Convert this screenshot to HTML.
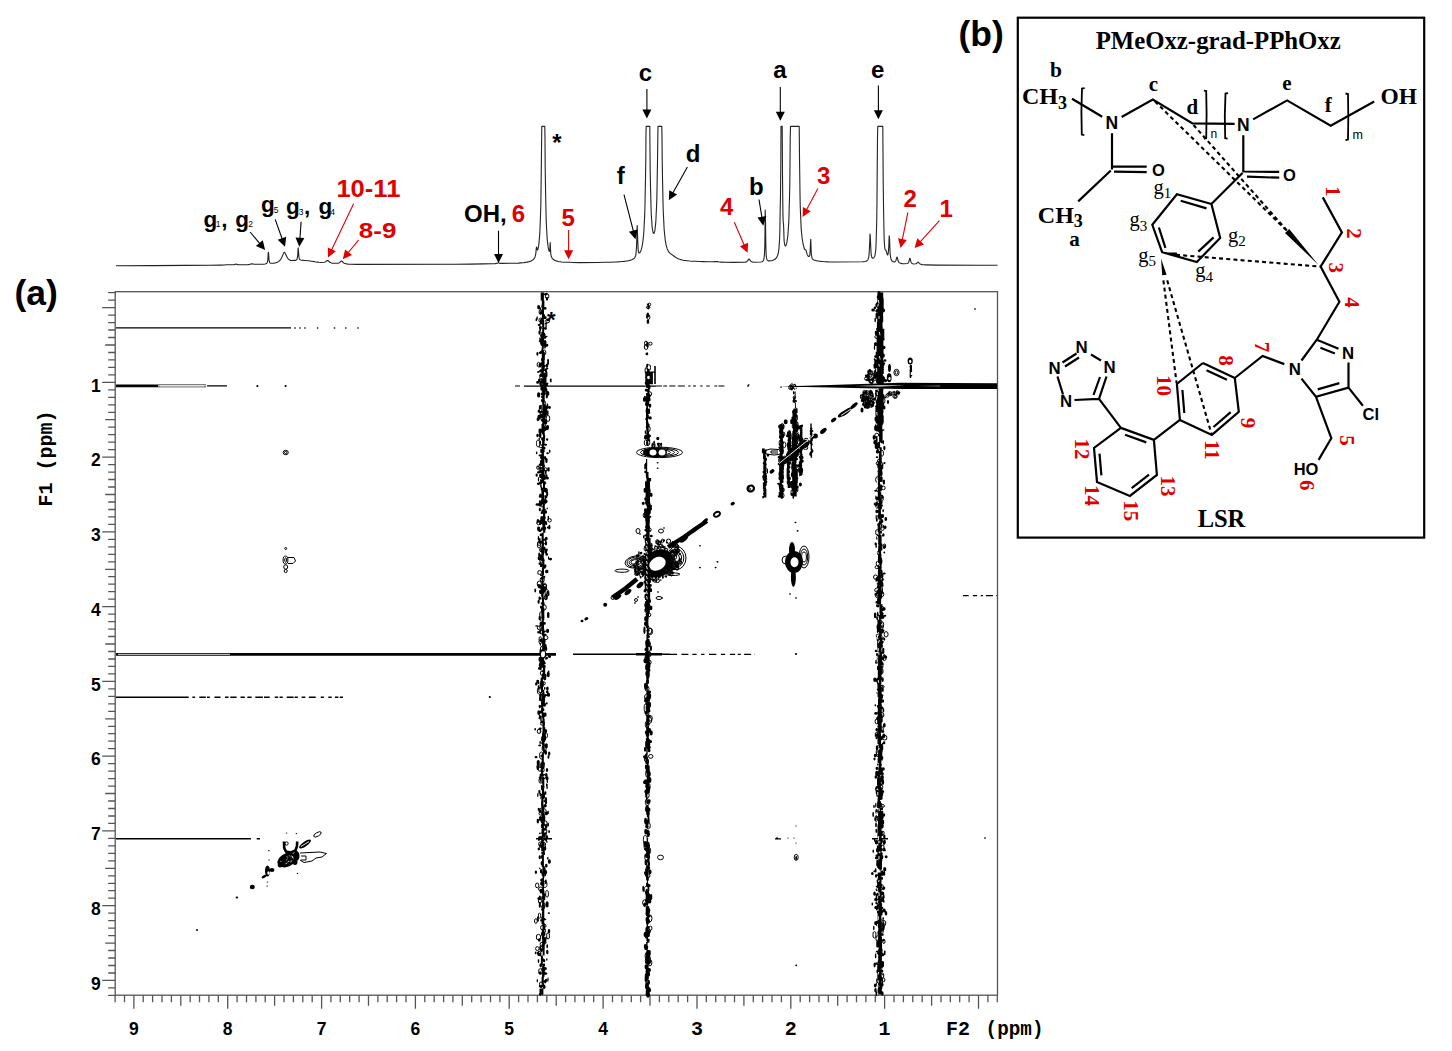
<!DOCTYPE html>
<html><head><meta charset="utf-8"><style>html,body{margin:0;padding:0;background:#fff;}svg{display:block;}</style></head>
<body>
<svg width="1452" height="1051" viewBox="0 0 1452 1051">
<rect width="1452" height="1051" fill="#fff"/>
<path d="M116 265.7 153.8 265.6 185.8 265.4 209 265.3 220.8 265.1 224.5 265 226.2 264.8 234.2 264.6 234.8 264.5 235.2 264.2 235.8 264 236.8 264.2 237.2 264.5 237.8 264.6 238.8 264.8 248 264.6 249.2 264.5 250 264.3 250.5 264.1 251 264 251.5 263.8 253.2 264 254 264.2 255 264.3 263.8 264.2 265 264 265.8 263.8 266.2 263.6 266.5 263.5 266.8 263.3 267 262.9 267.2 262.4 267.5 261.6 267.8 260 268 257.1 268.2 252.9 268.5 252.2 268.8 256.3 269 259.5 269.2 261.2 269.5 262.1 269.8 262.6 270 262.9 270.2 263.1 270.8 263.3 274.2 263.1 275 263 275.8 262.8 276.2 262.6 276.8 262.5 277.2 262.3 277.8 262 278.2 261.8 278.5 261.6 278.8 261.4 279 261.2 279.2 261 279.5 260.8 279.8 260.6 280 260.3 280.2 260 280.5 259.7 280.8 259.3 281 258.9 281.2 258.5 281.5 258 281.8 257.5 282 256.9 282.2 256.3 282.5 255.7 282.8 255 283 254.4 283.2 253.8 283.5 253.2 283.8 252.8 284 252.5 284.5 252.3 284.8 252.5 285 252.9 285.2 253.3 285.5 253.8 285.8 254.4 286 255 286.2 255.6 286.5 256.1 286.8 256.6 287 257.1 287.2 257.6 287.5 257.9 287.8 258.3 288 258.6 288.2 258.9 288.5 259.1 288.8 259.4 289 259.6 289.2 259.7 289.8 260 290.2 260.2 290.8 260.4 291.5 260.5 295.5 260.4 296 260.2 296.2 260 296.5 259.8 296.8 259.5 297 259 297.2 258.2 297.5 256.8 297.8 254.2 298 249.8 298.2 247.9 298.5 251.6 298.8 255.4 299 257.4 299.2 258.5 299.5 259.1 299.8 259.5 300 259.7 300.2 259.8 300.8 260 301.8 260.2 304 260.4 306 260.5 307.5 260.7 308.8 260.8 310 261 311 261.2 312 261.3 313 261.5 314 261.6 315 261.8 316.2 262 317.5 262.1 319 262.3 321 262.5 324.2 262.3 324.8 262.1 325.2 261.9 325.5 261.7 325.8 261.5 326 261.3 326.2 261.1 326.5 260.9 326.8 260.7 327 260.5 328 260.6 328.2 260.8 328.5 261 328.8 261.3 329 261.5 329.2 261.8 329.5 262 329.8 262.2 330 262.4 330.5 262.6 331 262.8 331.5 263 332.2 263.2 333.2 263.3 338.5 263.1 339 262.9 339.2 262.8 339.5 262.6 339.8 262.4 340 262.2 340.2 261.9 340.5 261.7 340.8 261.4 341 261.2 341.2 261 341.8 261.1 342 261.2 342.2 261.5 342.5 261.7 342.8 262 343 262.3 343.2 262.5 343.5 262.8 343.8 262.9 344 263.1 344.5 263.4 345 263.5 345.8 263.7 346.8 263.9 348.2 264.1 351 264.2 357 264.4 455.2 264.2 470.5 264.1 483.2 263.9 492 263.8 495.2 263.6 496.5 263.4 497.2 263.2 497.8 263 498.2 262.8 499.5 263.1 500 263.2 500.8 263.4 515.5 263.2 518.5 263.1 520.8 262.9 522.5 262.8 524 262.6 525.2 262.4 526.2 262.3 527.2 262.1 528 261.9 528.8 261.7 529.5 261.5 530 261.4 530.5 261.2 531 261 531.5 260.7 532 260.4 532.2 260.3 532.5 260.1 532.8 259.9 533 259.7 533.2 259.5 533.5 259.3 533.8 259 534 258.7 534.2 258.3 534.5 257.9 534.8 257.5 535 256.9 535.2 256.1 535.5 255.1 535.8 253.6 536 251.5 536.2 248.8 536.5 247 536.8 247.6 537 249 537.2 249.9 537.5 250 537.8 249.6 538 248.9 538.2 247.8 538.5 246.4 538.8 244.7 539 242.6 539.2 240.1 539.5 237.1 539.8 233.4 540 228.8 540.2 223.1 540.5 215.8 540.8 206.2 541 193.6 541.2 176.2 541.5 151.5 541.8 126.4 544.8 126.4 545 138.7 545.2 167.4 545.5 187.3 545.8 201.6 546 212.3 546.2 220.4 546.5 226.7 546.8 231.8 547 235.8 547.2 239.1 547.5 241.8 547.8 244.1 548 246 548.2 247.6 548.5 249 548.8 250.1 549 250.9 549.2 251.4 549.5 251.4 549.8 250.1 550 245.7 550.2 242.5 550.5 249.3 550.8 253.4 551 255.3 551.2 256.3 551.5 257 551.8 257.5 552 257.9 552.2 258.3 552.5 258.6 552.8 258.9 553 259.1 553.2 259.3 553.5 259.5 553.8 259.7 554 259.9 554.2 260 554.8 260.3 555.2 260.6 555.8 260.8 556.2 261 556.8 261.1 557.5 261.3 558.2 261.5 559.2 261.7 560.2 261.8 561.8 262 564 262.2 570.5 262.3 572.5 262.5 579.5 262.6 597.5 262.5 605 262.3 610.5 262.2 614.5 262 617.5 261.9 620 261.7 622 261.5 623.8 261.4 625.2 261.2 626.5 261 627.5 260.9 628.5 260.7 629.2 260.5 630 260.3 630.8 260.1 631.2 260 631.8 259.8 632.2 259.6 632.8 259.3 633.2 259.1 633.5 258.9 633.8 258.7 634 258.5 634.2 258.3 634.5 258 634.8 257.6 635 257.2 635.2 256.7 635.5 256 635.8 255 636 253.5 636.2 251.1 636.5 247 636.8 240 637 229.9 637.2 225.5 637.5 233.5 637.8 242.3 638 247.5 638.2 250.3 638.5 251.8 638.8 252.5 639 252.9 639.5 252.9 639.8 252.7 640 252.4 640.2 252 640.5 251.6 640.8 251 641 250.3 641.2 249.6 641.5 248.7 641.8 247.8 642 246.7 642.2 245.4 642.5 244 642.8 242.3 643 240.4 643.2 238.2 643.5 235.6 643.8 232.5 644 228.8 644.2 224.4 644.5 219 644.8 212.3 645 203.8 645.2 192.9 645.5 178.5 645.8 159.1 646 132.1 646.2 126.4 649.8 126.4 650 151.5 650.2 171.8 650.5 186.6 650.8 197.6 651 206.1 651.2 212.6 651.5 217.7 651.8 221.8 652 225 652.2 227.5 652.5 229.5 652.8 231 653 232.1 653.2 232.9 653.5 233.3 653.8 233.4 654 233.3 654.2 232.8 654.5 232 654.8 230.9 655 229.4 655.2 227.4 655.5 225 655.8 222 656 218.2 656.2 213.5 656.5 207.6 656.8 200.1 657 190.6 657.2 178.2 657.5 161.7 657.8 139.4 658 126.4 661.8 126.4 662 136.1 662.2 160.2 662.5 178 662.8 191.4 663 201.8 663.2 210 663.5 216.6 663.8 221.9 664 226.3 664.2 230 664.5 233.1 664.8 235.8 665 238 665.2 240 665.5 241.6 665.8 243.1 666 244.4 666.2 245.5 666.5 246.5 666.8 247.4 667 248.2 667.2 248.9 667.5 249.5 667.8 250.1 668 250.6 668.2 251 668.5 251.4 668.8 251.8 669 252.1 669.2 252.4 669.5 252.7 669.8 253 670 253.2 670.2 253.4 670.5 253.6 670.8 253.8 671 254 671.2 254.2 671.5 254.4 671.8 254.5 672 254.7 672.2 254.9 672.5 255.1 672.8 255.2 673 255.4 673.2 255.6 673.5 255.8 673.8 256 674 256.1 674.2 256.3 674.5 256.5 674.8 256.7 675 256.8 675.2 257 675.5 257.2 675.8 257.3 676 257.5 676.2 257.7 676.8 257.9 677.2 258.2 677.8 258.5 678.2 258.7 678.8 258.9 679.2 259.1 679.8 259.3 680.2 259.5 680.8 259.6 681.5 259.8 682.2 260 683 260.2 684 260.4 685 260.5 686.2 260.7 687.8 260.8 689.5 261 691.8 261.2 694.8 261.3 699.5 261.5 703.2 261.6 707.8 261.8 714.2 261.6 715 261.5 717.5 261.6 718.2 261.8 719.2 262 721.2 262.1 725.5 262.3 733.2 262.4 744.2 262.3 745.2 262.1 746 261.9 746.5 261.7 746.8 261.5 747 261.3 747.2 261.1 747.5 260.8 747.8 260.5 748 260.1 748.2 259.8 748.5 259.4 748.8 259.1 749.2 259.1 749.5 259.4 749.8 259.8 750 260.1 750.2 260.5 750.5 260.8 750.8 261.1 751 261.3 751.2 261.5 751.5 261.7 752 261.9 752.5 262 753.5 262.2 761 262 761.8 261.8 762.2 261.6 762.5 261.4 762.8 261.3 763 261 763.2 260.7 763.5 260.3 763.8 259.6 764 258.6 764.2 256.8 764.5 253.6 764.8 246.8 765 231.5 765.2 210 765.5 222 765.8 242 766 251.3 766.2 255.6 766.5 257.7 766.8 258.9 767 259.6 767.2 260.1 767.5 260.4 767.8 260.6 768.2 260.9 771.8 260.7 772.5 260.5 773 260.3 773.5 260.1 774 259.8 774.2 259.7 774.5 259.5 774.8 259.4 775 259.2 775.2 259 775.5 258.8 775.8 258.5 776 258.3 776.2 258 776.5 257.6 776.8 257.2 777 256.8 777.2 256.3 777.5 255.7 777.8 255 778 254.1 778.2 253.1 778.5 251.8 778.8 250.1 779 247.9 779.2 244.9 779.5 240.4 779.8 233.4 780 222.1 780.2 209.2 780.5 195.4 780.8 164.7 781 126.4 782.2 126.4 782.5 174.5 782.8 203 783 216.5 783.2 221.6 783.5 223.8 783.8 231 784 237.7 784.2 241.4 784.5 243.6 784.8 244.9 785 245.6 785.2 245.9 785.5 245.9 785.8 245.7 786 245.3 786.2 244.7 786.5 243.9 786.8 242.9 787 241.6 787.2 240.1 787.5 238.3 787.8 236.1 788 233.5 788.2 230.3 788.5 226.4 788.8 221.7 789 215.7 789.2 208 789.5 197.9 789.8 184.4 790 165.5 790.2 138.1 790.5 126.4 799.2 126.4 799.5 156.5 799.8 178.1 800 193.3 800.2 204.5 800.5 212.9 800.8 219.4 801 224.5 801.2 228.6 801.5 232 801.8 234.7 802 237 802.2 238.9 802.5 240.5 802.8 242 803 243.3 803.2 244.5 803.5 245.6 803.8 246.6 804 247.5 804.2 248.3 804.5 249 804.8 249.5 805 249.8 805.8 249.9 806 250.1 806.2 250.8 806.5 251.8 806.8 252.8 807 253.7 807.2 254.4 807.5 255 807.8 255.5 808 255.9 808.2 256.2 808.5 256.4 809 256.5 809.2 256.4 809.5 256 809.8 255.2 810 253.5 810.2 249.8 810.5 242.8 810.8 239.2 811 246.3 811.2 252.3 811.5 255.3 811.8 256.9 812 257.8 812.2 258.4 812.5 258.8 812.8 259.1 813 259.3 813.2 259.5 813.5 259.7 814 260 814.5 260.2 815 260.3 815.8 260.5 816.5 260.7 817.2 260.9 818.2 261 819.5 261.2 821 261.4 822.8 261.5 825 261.7 828.2 261.9 834 262 862.2 261.8 863.8 261.7 864.8 261.5 865.5 261.3 866 261.2 866.5 261 866.8 260.8 867 260.6 867.2 260.4 867.5 260.2 867.8 259.8 868 259.4 868.2 258.8 868.5 258 868.8 256.8 869 254.9 869.2 252 869.5 247.3 869.8 240.4 870 234 870.2 234.8 870.5 241.6 870.8 248 871 252.1 871.2 254.6 871.5 256.1 871.8 257 872 257.6 872.2 258 872.5 258.2 873.5 258 873.8 257.8 874 257.5 874.2 257.2 874.5 256.7 874.8 256.1 875 255.2 875.2 254 875.5 252.2 875.8 249.5 876 245.4 876.2 239.2 876.5 230 876.8 216.7 877 197.9 877.2 172 877.5 137.7 877.8 126.4 882.8 126.4 883 151.9 883.2 182.6 883.5 205.2 883.8 221.4 884 232.6 884.2 240.1 884.5 244.9 884.8 247.8 885 249.3 885.2 249.9 885.8 250.1 886 250.3 886.2 250.9 886.5 251.9 886.8 253 887 253.9 887.2 254.6 887.5 255 887.8 254.9 888 254.4 888.2 253.1 888.5 250.7 888.8 246.4 889 240.3 889.2 235.7 889.5 238.3 889.8 245 890 250.6 890.2 254.2 890.5 256.5 890.8 257.9 891 258.9 891.2 259.6 891.5 260.2 891.8 260.6 892 260.9 892.2 261.1 892.5 261.3 892.8 261.5 893.2 261.7 894 261.9 895 261.7 895.2 261.5 895.5 261.2 895.8 260.8 896 260.2 896.2 259.4 896.5 258.3 896.8 257.4 897 257 897.2 257.5 897.5 258.5 897.8 259.6 898 260.5 898.2 261.2 898.5 261.7 898.8 262.1 899 262.4 899.2 262.6 899.5 262.8 900 263 900.5 263.2 901.2 263.4 902.2 263.6 904 263.7 907.2 263.5 907.8 263.3 908 263.1 908.2 262.8 908.5 262.4 908.8 261.9 909 261.2 909.2 260.2 909.5 259.1 909.8 258.3 910 258.2 910.2 259 910.5 260.1 910.8 261.1 911 261.9 911.2 262.5 911.5 262.9 911.8 263.2 912 263.4 912.2 263.6 912.8 263.8 913.5 264 916 263.8 916.2 263.7 916.5 263.5 916.8 263.3 917 263.1 917.2 262.8 917.5 262.6 917.8 262.3 918 262.2 918.5 262.3 918.8 262.5 919 262.8 919.2 263.1 919.5 263.4 919.8 263.6 920 263.8 920.2 264 920.8 264.3 921.2 264.4 922 264.6 923.2 264.8 926 264.9 936.8 265.1 980.8 265.2 997.5 265.2" fill="none" stroke="#222" stroke-width="1.1" stroke-linejoin="round"/>
<text x="779.9" y="78.4" font-family='"Liberation Sans", sans-serif' font-size="24" font-weight="bold" fill="#000" text-anchor="middle" >a</text>
<text x="877.8" y="77.6" font-family='"Liberation Sans", sans-serif' font-size="24" font-weight="bold" fill="#000" text-anchor="middle" >e</text>
<text x="645.5" y="81.2" font-family='"Liberation Sans", sans-serif' font-size="24" font-weight="bold" fill="#000" text-anchor="middle" >c</text>
<text x="693" y="162.3" font-family='"Liberation Sans", sans-serif' font-size="24" font-weight="bold" fill="#000" text-anchor="middle" >d</text>
<text x="620.7" y="184.1" font-family='"Liberation Sans", sans-serif' font-size="24" font-weight="bold" fill="#000" text-anchor="middle" >f</text>
<text x="756.3" y="195.3" font-family='"Liberation Sans", sans-serif' font-size="24" font-weight="bold" fill="#000" text-anchor="middle" >b</text>
<text x="556.8" y="150.5" font-family='"Liberation Sans", sans-serif' font-size="24" font-weight="bold" fill="#000" text-anchor="middle" >*</text>
<text x="464" y="222.2" font-family='"Liberation Sans", sans-serif' font-size="24" font-weight="bold" fill="#000" text-anchor="start" >OH,</text>
<text x="518.5" y="222.2" font-family='"Liberation Sans", sans-serif' font-size="24" font-weight="bold" fill="#e00000" text-anchor="middle" >6</text>
<text x="568.3" y="225.5" font-family='"Liberation Sans", sans-serif' font-size="24" font-weight="bold" fill="#e00000" text-anchor="middle" >5</text>
<text x="726.6" y="214.6" font-family='"Liberation Sans", sans-serif' font-size="24" font-weight="bold" fill="#e00000" text-anchor="middle" >4</text>
<text x="823.7" y="183.6" font-family='"Liberation Sans", sans-serif' font-size="24" font-weight="bold" fill="#e00000" text-anchor="middle" >3</text>
<text x="910.3" y="206.5" font-family='"Liberation Sans", sans-serif' font-size="24" font-weight="bold" fill="#e00000" text-anchor="middle" >2</text>
<text x="946.2" y="217.4" font-family='"Liberation Sans", sans-serif' font-size="24" font-weight="bold" fill="#e00000" text-anchor="middle" >1</text>
<text x="368.4" y="197.2" font-family='"Liberation Sans", sans-serif' font-size="24" font-weight="bold" fill="#e00000" text-anchor="middle" textLength="64" lengthAdjust="spacingAndGlyphs">10-11</text>
<text x="377.6" y="237.7" font-family='"Liberation Sans", sans-serif' font-size="22.5" font-weight="bold" fill="#e00000" text-anchor="middle" textLength="37.5" lengthAdjust="spacingAndGlyphs">8-9</text>
<text x="203.6" y="226.8" font-family='"Liberation Sans", sans-serif' font-size="22.5" font-weight="bold">g</text>
<text x="215.8" y="227.3" font-family='"Liberation Sans", sans-serif' font-size="8.5" font-weight="normal">1</text>
<text x="221.2" y="226.8" font-family='"Liberation Sans", sans-serif' font-size="22.5" font-weight="bold">,</text>
<text x="235.2" y="226.8" font-family='"Liberation Sans", sans-serif' font-size="22.5" font-weight="bold">g</text>
<text x="248.2" y="227.3" font-family='"Liberation Sans", sans-serif' font-size="8.5" font-weight="normal">2</text>
<text x="261" y="211.8" font-family='"Liberation Sans", sans-serif' font-size="22.5" font-weight="bold">g</text>
<text x="273.8" y="212.8" font-family='"Liberation Sans", sans-serif' font-size="8.5" font-weight="normal">5</text>
<text x="286.1" y="214.2" font-family='"Liberation Sans", sans-serif' font-size="22.5" font-weight="bold">g</text>
<text x="298.8" y="215.2" font-family='"Liberation Sans", sans-serif' font-size="8.5" font-weight="normal">3</text>
<text x="303.9" y="214.2" font-family='"Liberation Sans", sans-serif' font-size="22.5" font-weight="bold">,</text>
<text x="318.4" y="214.2" font-family='"Liberation Sans", sans-serif' font-size="22.5" font-weight="bold">g</text>
<text x="330.2" y="214.8" font-family='"Liberation Sans", sans-serif' font-size="8.5" font-weight="normal">4</text>
<line x1="780.3" y1="87" x2="780.3" y2="112.8" stroke="#000" stroke-width="1.1" />
<path d="M780.3 120.8L775.8 111.8L784.8 111.8Z" fill="#000"/>
<line x1="878.4" y1="85.6" x2="878.4" y2="111.3" stroke="#000" stroke-width="1.1" />
<path d="M878.4 119.3L873.9 110.3L882.9 110.3Z" fill="#000"/>
<line x1="646.9" y1="89" x2="646.9" y2="110.5" stroke="#000" stroke-width="1.1" />
<path d="M646.9 118.5L642.4 109.5L651.4 109.5Z" fill="#000"/>
<line x1="687.4" y1="167" x2="672.7" y2="193.3" stroke="#000" stroke-width="1.1" />
<path d="M668.8 200.3L669.3 190.2L677.1 194.6Z" fill="#000"/>
<line x1="624" y1="194.6" x2="633.5" y2="231.6" stroke="#000" stroke-width="1.1" />
<path d="M635.5 239.3L628.9 231.7L637.6 229.5Z" fill="#000"/>
<line x1="759" y1="199.5" x2="762" y2="217.8" stroke="#000" stroke-width="1.1" />
<path d="M763.3 225.7L757.4 217.5L766.3 216.1Z" fill="#000"/>
<line x1="498.5" y1="230.7" x2="498.5" y2="255" stroke="#000" stroke-width="1.1" />
<path d="M498.5 263L494 254L503 254Z" fill="#000"/>
<line x1="568.6" y1="230" x2="568.6" y2="251.3" stroke="#e00000" stroke-width="1.1" />
<path d="M568.6 259.3L564.1 250.3L573.1 250.3Z" fill="#e00000"/>
<line x1="734.3" y1="222.3" x2="744.4" y2="245.5" stroke="#e00000" stroke-width="1.1" />
<path d="M747.6 252.8L739.9 246.3L748.1 242.8Z" fill="#e00000"/>
<line x1="817.9" y1="188.6" x2="806.4" y2="210.1" stroke="#e00000" stroke-width="1.1" />
<path d="M802.6 217.1L802.9 207L810.8 211.3Z" fill="#e00000"/>
<line x1="907.9" y1="212.4" x2="902.2" y2="240.2" stroke="#e00000" stroke-width="1.1" />
<path d="M900.6 248L898 238.3L906.8 240.1Z" fill="#e00000"/>
<line x1="939.4" y1="220.7" x2="920" y2="242.1" stroke="#e00000" stroke-width="1.1" />
<path d="M914.6 248L917.3 238.3L924 244.4Z" fill="#e00000"/>
<line x1="353.6" y1="203.8" x2="331.4" y2="250.3" stroke="#e00000" stroke-width="1.1" />
<path d="M328 257.5L327.8 247.4L335.9 251.3Z" fill="#e00000"/>
<line x1="358.5" y1="240.2" x2="347.9" y2="253" stroke="#e00000" stroke-width="1.1" />
<path d="M342.8 259.2L345.1 249.4L352 255.1Z" fill="#e00000"/>
<line x1="250.1" y1="232" x2="260" y2="243.9" stroke="#000" stroke-width="1.1" />
<path d="M265.1 250L255.9 246L262.8 240.2Z" fill="#000"/>
<line x1="275.2" y1="219.4" x2="282.3" y2="239.3" stroke="#000" stroke-width="1.1" />
<path d="M285 246.8L277.7 239.8L286.2 236.8Z" fill="#000"/>
<line x1="301.1" y1="221.8" x2="299.9" y2="238.8" stroke="#000" stroke-width="1.1" />
<path d="M299.3 246.8L295.5 237.5L304.4 238.1Z" fill="#000"/>
<text x="14.5" y="304.5" font-family='"Liberation Sans", sans-serif' font-size="35.5" font-weight="bold" fill="#000" text-anchor="start" >(a)</text>
<text x="958.5" y="45.5" font-family='"Liberation Sans", sans-serif' font-size="35.5" font-weight="bold" fill="#000" text-anchor="start" >(b)</text>
<rect x="115.2" y="291.7" width="882.3" height="703.5" fill="none" stroke="#555" stroke-width="1.3"/>
<path d="M108.2 292.6H115.2M108.2 300.1H115.2M102.2 307.6H115.2M108.2 315.1H115.2M108.2 322.6H115.2M108.2 330H115.2M108.2 337.5H115.2M105.2 345H115.2M108.2 352.5H115.2M108.2 359.9H115.2M108.2 367.4H115.2M108.2 374.9H115.2M102.2 382.4H115.2M108.2 389.8H115.2M108.2 397.3H115.2M108.2 404.8H115.2M108.2 412.3H115.2M105.2 419.7H115.2M108.2 427.2H115.2M108.2 434.7H115.2M108.2 442.2H115.2M108.2 449.6H115.2M102.2 457.1H115.2M108.2 464.6H115.2M108.2 472.1H115.2M108.2 479.5H115.2M108.2 487H115.2M105.2 494.5H115.2M108.2 502H115.2M108.2 509.5H115.2M108.2 516.9H115.2M108.2 524.4H115.2M102.2 531.9H115.2M108.2 539.4H115.2M108.2 546.8H115.2M108.2 554.3H115.2M108.2 561.8H115.2M105.2 569.3H115.2M108.2 576.7H115.2M108.2 584.2H115.2M108.2 591.7H115.2M108.2 599.2H115.2M102.2 606.6H115.2M108.2 614.1H115.2M108.2 621.6H115.2M108.2 629.1H115.2M108.2 636.5H115.2M105.2 644H115.2M108.2 651.5H115.2M108.2 659H115.2M108.2 666.4H115.2M108.2 673.9H115.2M102.2 681.4H115.2M108.2 688.9H115.2M108.2 696.4H115.2M108.2 703.8H115.2M108.2 711.3H115.2M105.2 718.8H115.2M108.2 726.3H115.2M108.2 733.7H115.2M108.2 741.2H115.2M108.2 748.7H115.2M102.2 756.2H115.2M108.2 763.6H115.2M108.2 771.1H115.2M108.2 778.6H115.2M108.2 786.1H115.2M105.2 793.5H115.2M108.2 801H115.2M108.2 808.5H115.2M108.2 816H115.2M108.2 823.4H115.2M102.2 830.9H115.2M108.2 838.4H115.2M108.2 845.9H115.2M108.2 853.3H115.2M108.2 860.8H115.2M105.2 868.3H115.2M108.2 875.8H115.2M108.2 883.3H115.2M108.2 890.7H115.2M108.2 898.2H115.2M102.2 905.7H115.2M108.2 913.2H115.2M108.2 920.6H115.2M108.2 928.1H115.2M108.2 935.6H115.2M105.2 943.1H115.2M108.2 950.5H115.2M108.2 958H115.2M108.2 965.5H115.2M108.2 973H115.2M102.2 980.4H115.2M108.2 987.9H115.2M108.2 995.4H115.2M997.3 995.2V1002.2M987.9 995.2V1002.2M978.5 995.2V1008.7M969.1 995.2V1002.2M959.7 995.2V1002.2M950.3 995.2V1002.2M941 995.2V1002.2M931.6 995.2V1005.7M922.2 995.2V1002.2M912.8 995.2V1002.2M903.4 995.2V1002.2M894 995.2V1002.2M884.6 995.2V1008.7M875.3 995.2V1002.2M865.9 995.2V1002.2M856.5 995.2V1002.2M847.1 995.2V1002.2M837.7 995.2V1005.7M828.3 995.2V1002.2M819 995.2V1002.2M809.6 995.2V1002.2M800.2 995.2V1002.2M790.8 995.2V1008.7M781.4 995.2V1002.2M772 995.2V1002.2M762.6 995.2V1002.2M753.3 995.2V1002.2M743.9 995.2V1005.7M734.5 995.2V1002.2M725.1 995.2V1002.2M715.7 995.2V1002.2M706.3 995.2V1002.2M697 995.2V1008.7M687.6 995.2V1002.2M678.2 995.2V1002.2M668.8 995.2V1002.2M659.4 995.2V1002.2M650 995.2V1005.7M640.6 995.2V1002.2M631.3 995.2V1002.2M621.9 995.2V1002.2M612.5 995.2V1002.2M603.1 995.2V1008.7M593.7 995.2V1002.2M584.3 995.2V1002.2M574.9 995.2V1002.2M565.6 995.2V1002.2M556.2 995.2V1005.7M546.8 995.2V1002.2M537.4 995.2V1002.2M528 995.2V1002.2M518.6 995.2V1002.2M509.2 995.2V1008.7M499.9 995.2V1002.2M490.5 995.2V1002.2M481.1 995.2V1002.2M471.7 995.2V1002.2M462.3 995.2V1005.7M452.9 995.2V1002.2M443.6 995.2V1002.2M434.2 995.2V1002.2M424.8 995.2V1002.2M415.4 995.2V1008.7M406 995.2V1002.2M396.6 995.2V1002.2M387.2 995.2V1002.2M377.9 995.2V1002.2M368.5 995.2V1005.7M359.1 995.2V1002.2M349.7 995.2V1002.2M340.3 995.2V1002.2M330.9 995.2V1002.2M321.6 995.2V1008.7M312.2 995.2V1002.2M302.8 995.2V1002.2M293.4 995.2V1002.2M284 995.2V1002.2M274.6 995.2V1005.7M265.2 995.2V1002.2M255.9 995.2V1002.2M246.5 995.2V1002.2M237.1 995.2V1002.2M227.7 995.2V1008.7M218.3 995.2V1002.2M208.9 995.2V1002.2M199.5 995.2V1002.2M190.2 995.2V1002.2M180.8 995.2V1005.7M171.4 995.2V1002.2M162 995.2V1002.2M152.6 995.2V1002.2M143.2 995.2V1002.2M133.9 995.2V1008.7M124.5 995.2V1002.2M115.1 995.2V1002.2" stroke="#555" stroke-width="1.3" fill="none"/>
<text x="95.8" y="391.5" font-family='"Liberation Sans", sans-serif' font-size="17.5" font-weight="bold" fill="#000" text-anchor="middle" >1</text>
<text x="95.8" y="466.2" font-family='"Liberation Sans", sans-serif' font-size="17.5" font-weight="bold" fill="#000" text-anchor="middle" >2</text>
<text x="95.8" y="541" font-family='"Liberation Sans", sans-serif' font-size="17.5" font-weight="bold" fill="#000" text-anchor="middle" >3</text>
<text x="95.8" y="615.7" font-family='"Liberation Sans", sans-serif' font-size="17.5" font-weight="bold" fill="#000" text-anchor="middle" >4</text>
<text x="95.8" y="690.5" font-family='"Liberation Sans", sans-serif' font-size="17.5" font-weight="bold" fill="#000" text-anchor="middle" >5</text>
<text x="95.8" y="765.3" font-family='"Liberation Sans", sans-serif' font-size="17.5" font-weight="bold" fill="#000" text-anchor="middle" >6</text>
<text x="95.8" y="840" font-family='"Liberation Sans", sans-serif' font-size="17.5" font-weight="bold" fill="#000" text-anchor="middle" >7</text>
<text x="95.8" y="914.8" font-family='"Liberation Sans", sans-serif' font-size="17.5" font-weight="bold" fill="#000" text-anchor="middle" >8</text>
<text x="95.8" y="989.5" font-family='"Liberation Sans", sans-serif' font-size="17.5" font-weight="bold" fill="#000" text-anchor="middle" >9</text>
<text x="603.1" y="1035" font-family='"Liberation Sans", sans-serif' font-size="17.5" font-weight="bold" fill="#000" text-anchor="middle" >4</text>
<text x="509.2" y="1035" font-family='"Liberation Sans", sans-serif' font-size="17.5" font-weight="bold" fill="#000" text-anchor="middle" >5</text>
<text x="415.4" y="1035" font-family='"Liberation Sans", sans-serif' font-size="17.5" font-weight="bold" fill="#000" text-anchor="middle" >6</text>
<text x="321.6" y="1035" font-family='"Liberation Sans", sans-serif' font-size="17.5" font-weight="bold" fill="#000" text-anchor="middle" >7</text>
<text x="227.7" y="1035" font-family='"Liberation Sans", sans-serif' font-size="17.5" font-weight="bold" fill="#000" text-anchor="middle" >8</text>
<text x="133.9" y="1035" font-family='"Liberation Sans", sans-serif' font-size="17.5" font-weight="bold" fill="#000" text-anchor="middle" >9</text>
<text x="884.6" y="1034.5" font-family='"Liberation Mono", monospace' font-size="20" font-weight="bold" fill="#000" text-anchor="middle" >1</text>
<text x="790.8" y="1034.5" font-family='"Liberation Mono", monospace' font-size="20" font-weight="bold" fill="#000" text-anchor="middle" >2</text>
<text x="697" y="1034.5" font-family='"Liberation Mono", monospace' font-size="20" font-weight="bold" fill="#000" text-anchor="middle" >3</text>
<text x="946" y="1034.5" font-family='"Liberation Mono", monospace' font-size="20" font-weight="bold" fill="#000" text-anchor="start" >F2</text>
<text x="985.6" y="1034.5" font-family='"Liberation Mono", monospace' font-size="19.3" font-weight="bold" fill="#000" text-anchor="start" >(ppm)</text>
<text x="0" y="0" font-family='"Liberation Mono", monospace' font-size="20" font-weight="bold" transform="translate(51.8,506.5) rotate(-90)">F1 (ppm)</text>
<path d="M540.7 292.5h3.2v8h-3.2zM541.8 300.5h2.6v9.5h-2.6zM541.9 309.9h2.1v9.9h-2.1zM542.2 319.9h2v11.9h-2zM541.3 331.8h2.8v13.8h-2.8zM541.8 345.6h2v3.2h-2zM541.4 348.7h2v5.1h-2zM541.8 353.8h2.8v12.3h-2.8zM541.4 366.1h2.5v8.5h-2.5zM543.6 374.6h2.9v14h-2.9zM542.8 388.6h2.3v6.5h-2.3zM542.2 395h2.5v7.4h-2.5zM542.4 402.4h2v13.5h-2zM543 416h2.5v8.2h-2.5zM541.5 424.1h3v3.8h-3zM541.8 427.9h2.9v6.7h-2.9zM543 434.6h2.1v4.3h-2.1zM542.1 438.9h2.5v5h-2.5zM541.8 443.8h2.1v5.1h-2.1zM541.6 448.9h2.3v7.6h-2.3zM542.1 456.6h2.3v13.7h-2.3zM541.3 470.3h2.8v7.3h-2.8zM541.8 477.6h2.2v4.1h-2.2zM543 481.7h2v6.6h-2zM541.4 488.3h2.3v4h-2.3zM541.4 492.3h2.6v8h-2.6zM542.6 500.3h2.2v9.3h-2.2zM543 509.6h2.2v12h-2.2zM543.1 521.6h2.2v11.1h-2.2zM541.6 532.7h2.1v9.6h-2.1zM541.7 542.4h2.3v3.4h-2.3zM541.4 545.8h2.3v12.1h-2.3zM542.1 557.9h2v2.1h-2zM545.3 294a1.2 1.2 0 1 1 2.4 0a1.2 1.2 0 1 1 -2.4 0M544.2 294.1a1 0.9 0 1 1 2.1 0a1 0.9 0 1 1 -2.1 0M542.1 294.5a1.2 1 0 1 1 2.3 0a1.2 1 0 1 1 -2.3 0M541.9 296.2a0.6 2.3 0 1 1 1.2 0a0.6 2.3 0 1 1 -1.2 0M545.9 298.8a1.1 2 0 1 1 2.2 0a1.1 2 0 1 1 -2.2 0M542.9 304.4a0.7 1.7 0 1 1 1.4 0a0.7 1.7 0 1 1 -1.4 0M541.3 306.2a1.4 2.3 0 1 1 2.8 0a1.4 2.3 0 1 1 -2.8 0M537.1 307.1a1.5 2.2 0 1 1 3 0a1.5 2.2 0 1 1 -3 0M544.2 308.3a1.2 1.4 0 1 1 2.4 0a1.2 1.4 0 1 1 -2.4 0M539.6 309a0.7 1.8 0 1 1 1.4 0a0.7 1.8 0 1 1 -1.4 0M541.3 310.6a1.3 1.7 0 1 1 2.7 0a1.3 1.7 0 1 1 -2.7 0M539.7 312.7a1.3 1.6 0 1 1 2.6 0a1.3 1.6 0 1 1 -2.6 0M542.4 314.7a0.9 0.8 0 1 1 1.7 0a0.9 0.8 0 1 1 -1.7 0M542 315.6a1.5 1.9 0 1 1 3 0a1.5 1.9 0 1 1 -3 0M543.7 317.3a0.9 1.9 0 1 1 1.9 0a0.9 1.9 0 1 1 -1.9 0M543.7 317.7a1.5 1.4 0 1 1 3 0a1.5 1.4 0 1 1 -3 0M536.4 318a0.7 1.6 0 1 1 1.5 0a0.7 1.6 0 1 1 -1.5 0M540.5 319.5a0.9 1.1 0 1 1 1.8 0a0.9 1.1 0 1 1 -1.8 0M535.5 319.7a0.8 1.5 0 1 1 1.6 0a0.8 1.5 0 1 1 -1.6 0M546.4 320.2a1.5 0.9 0 1 1 2.9 0a1.5 0.9 0 1 1 -2.9 0M540.6 320.9a0.6 1 0 1 1 1.2 0a0.6 1 0 1 1 -1.2 0M539.7 321a1.2 1.8 0 1 1 2.5 0a1.2 1.8 0 1 1 -2.5 0M539.5 323.4a1.3 1.1 0 1 1 2.6 0a1.3 1.1 0 1 1 -2.6 0M544.8 323.6a1.3 1.1 0 1 1 2.6 0a1.3 1.1 0 1 1 -2.6 0M541.9 323.9a1.3 1.6 0 1 1 2.6 0a1.3 1.6 0 1 1 -2.6 0M537.6 325a1.5 0.9 0 1 1 3 0a1.5 0.9 0 1 1 -3 0M545.3 326a0.7 1.5 0 1 1 1.5 0a0.7 1.5 0 1 1 -1.5 0M538.9 327.8a1.5 2.1 0 1 1 3 0a1.5 2.1 0 1 1 -3 0M544.3 328.3a1.3 1.1 0 1 1 2.5 0a1.3 1.1 0 1 1 -2.5 0M539.4 329.6a0.8 2.2 0 1 1 1.6 0a0.8 2.2 0 1 1 -1.6 0M538.4 332.5a1.1 2.1 0 1 1 2.3 0a1.1 2.1 0 1 1 -2.3 0M543.9 334.4a0.7 1.5 0 1 1 1.4 0a0.7 1.5 0 1 1 -1.4 0M539.9 335.5a1.1 0.8 0 1 1 2.2 0a1.1 0.8 0 1 1 -2.2 0M540.2 335.7a1.1 2 0 1 1 2.2 0a1.1 2 0 1 1 -2.2 0M544.5 336.6a1.5 0.9 0 1 1 3.1 0a1.5 0.9 0 1 1 -3.1 0M541 337.1a0.9 2 0 1 1 1.8 0a0.9 2 0 1 1 -1.8 0M544.1 337.7a0.9 1.4 0 1 1 1.8 0a0.9 1.4 0 1 1 -1.8 0M539.2 339.5a0.8 2.2 0 1 1 1.6 0a0.8 2.2 0 1 1 -1.6 0M540.2 340a1.1 1.6 0 1 1 2.3 0a1.1 1.6 0 1 1 -2.3 0M540.6 340.1a1.6 1.6 0 1 1 3.1 0a1.6 1.6 0 1 1 -3.1 0M538.7 341.3a1.3 0.9 0 1 1 2.6 0a1.3 0.9 0 1 1 -2.6 0M540.2 341.7a1.6 2.3 0 1 1 3.1 0a1.6 2.3 0 1 1 -3.1 0M543.7 342.2a1.4 2.2 0 1 1 2.8 0a1.4 2.2 0 1 1 -2.8 0M544.3 342.5a0.8 1.8 0 1 1 1.6 0a0.8 1.8 0 1 1 -1.6 0M542.3 342.6a0.8 1.2 0 1 1 1.6 0a0.8 1.2 0 1 1 -1.6 0M544.5 343.9a0.9 1.1 0 1 1 1.7 0a0.9 1.1 0 1 1 -1.7 0M544.4 344.4a1 1.5 0 1 1 2 0a1 1.5 0 1 1 -2 0M542.9 344.5a1.2 1.6 0 1 1 2.5 0a1.2 1.6 0 1 1 -2.5 0M545.3 345.2a1.5 1.2 0 1 1 2.9 0a1.5 1.2 0 1 1 -2.9 0M544.1 346.5a0.9 2.3 0 1 1 1.8 0a0.9 2.3 0 1 1 -1.8 0M540.1 351.4a1.5 1 0 1 1 3 0a1.5 1 0 1 1 -3 0M541.5 352.4a1.4 1.5 0 1 1 2.9 0a1.4 1.5 0 1 1 -2.9 0M538.9 352.7a1.6 1 0 1 1 3.1 0a1.6 1 0 1 1 -3.1 0M536.3 353.8a1.1 1.9 0 1 1 2.2 0a1.1 1.9 0 1 1 -2.2 0M542.5 353.9a1.2 1.6 0 1 1 2.3 0a1.2 1.6 0 1 1 -2.3 0M542.7 354a0.8 1.1 0 1 1 1.6 0a0.8 1.1 0 1 1 -1.6 0M543.5 357.5a0.7 2.3 0 1 1 1.3 0a0.7 2.3 0 1 1 -1.3 0M541.5 358.7a0.9 1.5 0 1 1 1.9 0a0.9 1.5 0 1 1 -1.9 0M541.3 359.1a1.3 2.2 0 1 1 2.6 0a1.3 2.2 0 1 1 -2.6 0M541.4 359.6a1.3 1.4 0 1 1 2.7 0a1.3 1.4 0 1 1 -2.7 0M541 359.7a1.5 2.1 0 1 1 3 0a1.5 2.1 0 1 1 -3 0M541.7 361.2a1.2 1.4 0 1 1 2.5 0a1.2 1.4 0 1 1 -2.5 0M547.2 361.8a0.9 2.3 0 1 1 1.7 0a0.9 2.3 0 1 1 -1.7 0M541 362.9a1.4 1.4 0 1 1 2.8 0a1.4 1.4 0 1 1 -2.8 0M540 364.5a1.4 1.4 0 1 1 2.7 0a1.4 1.4 0 1 1 -2.7 0M539.6 364.9a0.8 2.3 0 1 1 1.7 0a0.8 2.3 0 1 1 -1.7 0M538.7 365.3a1.3 1.7 0 1 1 2.5 0a1.3 1.7 0 1 1 -2.5 0M545.7 365.6a1.3 2 0 1 1 2.6 0a1.3 2 0 1 1 -2.6 0M541.8 365.7a1.2 2 0 1 1 2.4 0a1.2 2 0 1 1 -2.4 0M543.8 366a1 1 0 1 1 2 0a1 1 0 1 1 -2 0M542.4 367.9a1.2 1.6 0 1 1 2.3 0a1.2 1.6 0 1 1 -2.3 0M545.6 368.5a1.4 0.9 0 1 1 2.8 0a1.4 0.9 0 1 1 -2.8 0M542.2 369.6a0.6 2.3 0 1 1 1.3 0a0.6 2.3 0 1 1 -1.3 0M543.4 370.1a1.2 0.9 0 1 1 2.4 0a1.2 0.9 0 1 1 -2.4 0M544.7 370.5a1.1 1.8 0 1 1 2.3 0a1.1 1.8 0 1 1 -2.3 0M540.1 370.8a0.9 1.9 0 1 1 1.8 0a0.9 1.9 0 1 1 -1.8 0M539.2 370.8a0.8 0.9 0 1 1 1.7 0a0.8 0.9 0 1 1 -1.7 0M537 371.9a1.3 0.9 0 1 1 2.7 0a1.3 0.9 0 1 1 -2.7 0M546.1 374.1a0.7 2.2 0 1 1 1.3 0a0.7 2.2 0 1 1 -1.3 0M543.9 374.6a1.1 2.3 0 1 1 2.2 0a1.1 2.3 0 1 1 -2.2 0M541.1 375.1a1.6 2.1 0 1 1 3.2 0a1.6 2.1 0 1 1 -3.2 0M540 375.2a0.8 0.9 0 1 1 1.6 0a0.8 0.9 0 1 1 -1.6 0M539.8 375.3a1 1.9 0 1 1 2.1 0a1 1.9 0 1 1 -2.1 0M539.1 375.5a1.4 1.6 0 1 1 2.8 0a1.4 1.6 0 1 1 -2.8 0M542.9 379.6a1 1.2 0 1 1 1.9 0a1 1.2 0 1 1 -1.9 0M538 380.2a1.2 1.8 0 1 1 2.4 0a1.2 1.8 0 1 1 -2.4 0M549.9 380.4a0.9 1.5 0 1 1 1.7 0a0.9 1.5 0 1 1 -1.7 0M541.3 380.5a0.7 1.9 0 1 1 1.4 0a0.7 1.9 0 1 1 -1.4 0M541.7 381.3a1 1.6 0 1 1 1.9 0a1 1.6 0 1 1 -1.9 0M542.2 381.6a0.7 1 0 1 1 1.3 0a0.7 1 0 1 1 -1.3 0M536.3 382.3a1.4 1.1 0 1 1 2.7 0a1.4 1.1 0 1 1 -2.7 0M542.7 382.6a1.3 2.4 0 1 1 2.5 0a1.3 2.4 0 1 1 -2.5 0M539.2 383.2a1.3 2.3 0 1 1 2.7 0a1.3 2.3 0 1 1 -2.7 0M547 383.5a0.7 0.9 0 1 1 1.4 0a0.7 0.9 0 1 1 -1.4 0M545 384a1.3 1.3 0 1 1 2.6 0a1.3 1.3 0 1 1 -2.6 0M543.3 384.1a0.7 1.3 0 1 1 1.4 0a0.7 1.3 0 1 1 -1.4 0M546.1 385a0.9 1 0 1 1 1.8 0a0.9 1 0 1 1 -1.8 0M540.8 386a1.3 1.7 0 1 1 2.6 0a1.3 1.7 0 1 1 -2.6 0M542.5 388.2a1.5 1.5 0 1 1 3 0a1.5 1.5 0 1 1 -3 0M540.3 388.5a1.5 2.2 0 1 1 3.1 0a1.5 2.2 0 1 1 -3.1 0M544.6 388.8a1 1.4 0 1 1 1.9 0a1 1.4 0 1 1 -1.9 0M542.8 389.2a1.4 1.7 0 1 1 2.8 0a1.4 1.7 0 1 1 -2.8 0M545.6 389.8a0.8 2 0 1 1 1.6 0a0.8 2 0 1 1 -1.6 0M545.2 390.1a1.1 1.7 0 1 1 2.3 0a1.1 1.7 0 1 1 -2.3 0M542.1 390.9a1.4 0.9 0 1 1 2.8 0a1.4 0.9 0 1 1 -2.8 0M542.8 392.9a0.7 2 0 1 1 1.5 0a0.7 2 0 1 1 -1.5 0M542.8 393.1a1.1 2 0 1 1 2.2 0a1.1 2 0 1 1 -2.2 0M546.1 393.4a1.6 1.9 0 1 1 3.1 0a1.6 1.9 0 1 1 -3.1 0M540.7 394a1.5 1.5 0 1 1 3 0a1.5 1.5 0 1 1 -3 0M537.2 394.8a1.5 2.1 0 1 1 2.9 0a1.5 2.1 0 1 1 -2.9 0M545.7 396.5a1.1 1.9 0 1 1 2.2 0a1.1 1.9 0 1 1 -2.2 0M540.9 396.9a1 1 0 1 1 2 0a1 1 0 1 1 -2 0M541 400.6a0.8 1.5 0 1 1 1.6 0a0.8 1.5 0 1 1 -1.6 0M542.6 404.1a0.7 1.5 0 1 1 1.3 0a0.7 1.5 0 1 1 -1.3 0M540.6 405.9a0.6 1 0 1 1 1.3 0a0.6 1 0 1 1 -1.3 0M542.2 406.1a1.2 1.2 0 1 1 2.4 0a1.2 1.2 0 1 1 -2.4 0M546.7 406.3a0.8 2 0 1 1 1.5 0a0.8 2 0 1 1 -1.5 0M543.4 407a0.9 2.2 0 1 1 1.7 0a0.9 2.2 0 1 1 -1.7 0M538.9 407.3a1.1 2.3 0 1 1 2.3 0a1.1 2.3 0 1 1 -2.3 0M548.1 407.5a1.4 1.4 0 1 1 2.8 0a1.4 1.4 0 1 1 -2.8 0M544.2 408a0.9 2.4 0 1 1 1.7 0a0.9 2.4 0 1 1 -1.7 0M545.2 408.2a1 2.1 0 1 1 1.9 0a1 2.1 0 1 1 -1.9 0M542.5 408.9a0.8 1.1 0 1 1 1.5 0a0.8 1.1 0 1 1 -1.5 0M544.1 409.2a1.2 2.4 0 1 1 2.5 0a1.2 2.4 0 1 1 -2.5 0M545.3 411.1a0.7 1.2 0 1 1 1.4 0a0.7 1.2 0 1 1 -1.4 0M537.6 411.2a1.1 1.5 0 1 1 2.2 0a1.1 1.5 0 1 1 -2.2 0M543.1 411.9a1.4 1.5 0 1 1 2.8 0a1.4 1.5 0 1 1 -2.8 0M539.7 411.9a1.4 1.1 0 1 1 2.9 0a1.4 1.1 0 1 1 -2.9 0M546.4 412.8a1.1 1.9 0 1 1 2.1 0a1.1 1.9 0 1 1 -2.1 0M544.1 413.7a1.1 2.3 0 1 1 2.1 0a1.1 2.3 0 1 1 -2.1 0M544.1 414.5a0.6 1.4 0 1 1 1.2 0a0.6 1.4 0 1 1 -1.2 0M539.5 414.7a0.6 2.4 0 1 1 1.2 0a0.6 2.4 0 1 1 -1.2 0M540.6 414.9a1.2 1.3 0 1 1 2.4 0a1.2 1.3 0 1 1 -2.4 0M541.3 415.5a1 1.9 0 1 1 2 0a1 1.9 0 1 1 -2 0M544.1 415.6a1.3 1.3 0 1 1 2.7 0a1.3 1.3 0 1 1 -2.7 0M539.2 416.4a1.3 1.9 0 1 1 2.6 0a1.3 1.9 0 1 1 -2.6 0M544.3 416.8a0.7 1.2 0 1 1 1.4 0a0.7 1.2 0 1 1 -1.4 0M538.8 416.9a1 0.9 0 1 1 2 0a1 0.9 0 1 1 -2 0M537.6 417.3a1.4 2.1 0 1 1 2.7 0a1.4 2.1 0 1 1 -2.7 0M541.7 417.6a1 0.8 0 1 1 2 0a1 0.8 0 1 1 -2 0M536.6 419.2a1.4 1.8 0 1 1 2.9 0a1.4 1.8 0 1 1 -2.9 0M541.2 420.3a1.5 1.7 0 1 1 3 0a1.5 1.7 0 1 1 -3 0M544.2 420.8a1.6 1.6 0 1 1 3.2 0a1.6 1.6 0 1 1 -3.2 0M545.6 422.2a0.8 2.3 0 1 1 1.6 0a0.8 2.3 0 1 1 -1.6 0M543.6 422.4a1.2 1.9 0 1 1 2.4 0a1.2 1.9 0 1 1 -2.4 0M545.8 427.2a1.1 1.7 0 1 1 2.3 0a1.1 1.7 0 1 1 -2.3 0M546.1 427.5a1.5 2.4 0 1 1 3 0a1.5 2.4 0 1 1 -3 0M545.9 428.2a0.9 2.2 0 1 1 1.8 0a0.9 2.2 0 1 1 -1.8 0M545.2 428.8a1.4 1.1 0 1 1 2.9 0a1.4 1.1 0 1 1 -2.9 0M543.1 428.9a1.6 2.3 0 1 1 3.2 0a1.6 2.3 0 1 1 -3.2 0M542.1 429.2a1.3 2 0 1 1 2.5 0a1.3 2 0 1 1 -2.5 0M541.4 430.2a1.2 1.1 0 1 1 2.3 0a1.2 1.1 0 1 1 -2.3 0M539.5 430.5a1.2 0.9 0 1 1 2.5 0a1.2 0.9 0 1 1 -2.5 0M540.4 430.6a1.6 1.8 0 1 1 3.1 0a1.6 1.8 0 1 1 -3.1 0M538.6 431a1.4 2 0 1 1 2.7 0a1.4 2 0 1 1 -2.7 0M538.6 435a1.4 2.2 0 1 1 2.9 0a1.4 2.2 0 1 1 -2.9 0M536.3 435.5a1.1 1.6 0 1 1 2.3 0a1.1 1.6 0 1 1 -2.3 0M539.6 437.3a0.9 0.9 0 1 1 1.8 0a0.9 0.9 0 1 1 -1.8 0M541.2 439a1.4 1.3 0 1 1 2.7 0a1.4 1.3 0 1 1 -2.7 0M538.5 439.1a0.7 1.5 0 1 1 1.4 0a0.7 1.5 0 1 1 -1.4 0M546 439.5a1.1 1.2 0 1 1 2.3 0a1.1 1.2 0 1 1 -2.3 0M543.5 439.9a0.8 0.9 0 1 1 1.7 0a0.8 0.9 0 1 1 -1.7 0M539.1 442.5a1 2.1 0 1 1 2 0a1 2.1 0 1 1 -2 0M543.9 444.7a1.6 0.8 0 1 1 3.1 0a1.6 0.8 0 1 1 -3.1 0M544.5 445a0.9 0.9 0 1 1 1.8 0a0.9 0.9 0 1 1 -1.8 0M543.7 448.1a0.9 1.6 0 1 1 1.8 0a0.9 1.6 0 1 1 -1.8 0M540.2 451a0.9 2.3 0 1 1 1.8 0a0.9 2.3 0 1 1 -1.8 0M541.9 451.2a1.4 1.4 0 1 1 2.9 0a1.4 1.4 0 1 1 -2.9 0M548.9 451.3a0.8 1.8 0 1 1 1.6 0a0.8 1.8 0 1 1 -1.6 0M536 452.9a0.7 1 0 1 1 1.3 0a0.7 1 0 1 1 -1.3 0M546.3 453.2a1.3 1 0 1 1 2.6 0a1.3 1 0 1 1 -2.6 0M538.6 455.4a1 0.9 0 1 1 2.1 0a1 0.9 0 1 1 -2.1 0M541.8 455.6a0.8 1.2 0 1 1 1.6 0a0.8 1.2 0 1 1 -1.6 0M540.2 456.8a1 1.9 0 1 1 1.9 0a1 1.9 0 1 1 -1.9 0M541.8 457.5a1.5 1.9 0 1 1 3.1 0a1.5 1.9 0 1 1 -3.1 0M544.7 458.3a0.7 2.4 0 1 1 1.4 0a0.7 2.4 0 1 1 -1.4 0M541 458.9a1.2 1.3 0 1 1 2.4 0a1.2 1.3 0 1 1 -2.4 0M542.1 460.1a0.7 1.3 0 1 1 1.4 0a0.7 1.3 0 1 1 -1.4 0M541.6 460.4a0.8 2.2 0 1 1 1.6 0a0.8 2.2 0 1 1 -1.6 0M545.4 460.4a1.1 2 0 1 1 2.1 0a1.1 2 0 1 1 -2.1 0M540.1 462.4a1.2 1.8 0 1 1 2.3 0a1.2 1.8 0 1 1 -2.3 0M541.6 463.3a1.4 1.6 0 1 1 2.8 0a1.4 1.6 0 1 1 -2.8 0M540.1 464.7a1.6 1.1 0 1 1 3.1 0a1.6 1.1 0 1 1 -3.1 0M538.7 464.8a1.2 1.2 0 1 1 2.4 0a1.2 1.2 0 1 1 -2.4 0M543.3 466a0.8 1.6 0 1 1 1.7 0a0.8 1.6 0 1 1 -1.7 0M537.1 466.6a1.1 0.9 0 1 1 2.2 0a1.1 0.9 0 1 1 -2.2 0M539.5 468.1a1 1.5 0 1 1 2.1 0a1 1.5 0 1 1 -2.1 0M547.3 469.4a1.2 1.7 0 1 1 2.3 0a1.2 1.7 0 1 1 -2.3 0M539.9 471.2a0.8 1.2 0 1 1 1.5 0a0.8 1.2 0 1 1 -1.5 0M544.7 472.1a0.7 1.5 0 1 1 1.3 0a0.7 1.5 0 1 1 -1.3 0M537.1 472.3a1.6 0.9 0 1 1 3.1 0a1.6 0.9 0 1 1 -3.1 0M541.4 473.6a1.5 1 0 1 1 3 0a1.5 1 0 1 1 -3 0M541.4 473.9a0.6 2.4 0 1 1 1.3 0a0.6 2.4 0 1 1 -1.3 0M542.7 474.9a0.8 1.2 0 1 1 1.7 0a0.8 1.2 0 1 1 -1.7 0M535.7 475.1a1 1.3 0 1 1 1.9 0a1 1.3 0 1 1 -1.9 0M543.9 475.8a0.6 1.4 0 1 1 1.3 0a0.6 1.4 0 1 1 -1.3 0M539.2 475.9a1.5 1.7 0 1 1 2.9 0a1.5 1.7 0 1 1 -2.9 0M545.6 476.3a1 2.1 0 1 1 2 0a1 2.1 0 1 1 -2 0M542.8 477.5a0.8 1.7 0 1 1 1.6 0a0.8 1.7 0 1 1 -1.6 0M544.7 477.7a0.8 1.5 0 1 1 1.6 0a0.8 1.5 0 1 1 -1.6 0M545.8 478.1a1.5 1.1 0 1 1 2.9 0a1.5 1.1 0 1 1 -2.9 0M541.5 478.2a1.3 1.4 0 1 1 2.6 0a1.3 1.4 0 1 1 -2.6 0M542.9 478.2a1 2.3 0 1 1 2 0a1 2.3 0 1 1 -2 0M544 478.5a1 1 0 1 1 1.9 0a1 1 0 1 1 -1.9 0M541.9 478.8a1.5 0.8 0 1 1 3 0a1.5 0.8 0 1 1 -3 0M537.8 479.2a0.7 2.2 0 1 1 1.4 0a0.7 2.2 0 1 1 -1.4 0M541.7 480.4a1.2 0.9 0 1 1 2.4 0a1.2 0.9 0 1 1 -2.4 0M540.2 480.9a1.3 1.2 0 1 1 2.6 0a1.3 1.2 0 1 1 -2.6 0M541.8 481.7a0.7 1.1 0 1 1 1.5 0a0.7 1.1 0 1 1 -1.5 0M539.2 482.7a1.5 1.2 0 1 1 2.9 0a1.5 1.2 0 1 1 -2.9 0M536.8 483.7a1.6 1.3 0 1 1 3.2 0a1.6 1.3 0 1 1 -3.2 0M540.1 485.7a0.8 1.9 0 1 1 1.6 0a0.8 1.9 0 1 1 -1.6 0M543.2 488.1a1.2 0.9 0 1 1 2.5 0a1.2 0.9 0 1 1 -2.5 0M540.8 488.5a0.7 1.4 0 1 1 1.3 0a0.7 1.4 0 1 1 -1.3 0M541.7 489a1 1.6 0 1 1 2 0a1 1.6 0 1 1 -2 0M543.8 489.8a0.8 0.9 0 1 1 1.7 0a0.8 0.9 0 1 1 -1.7 0M543.9 490.2a1.3 1.7 0 1 1 2.6 0a1.3 1.7 0 1 1 -2.6 0M544.9 490.7a1.2 1.6 0 1 1 2.4 0a1.2 1.6 0 1 1 -2.4 0M543.5 490.9a0.6 1.4 0 1 1 1.2 0a0.6 1.4 0 1 1 -1.2 0M541.9 491.5a0.8 1.6 0 1 1 1.6 0a0.8 1.6 0 1 1 -1.6 0M546.2 493.9a1 1.7 0 1 1 1.9 0a1 1.7 0 1 1 -1.9 0M539.3 495a1 1.5 0 1 1 2 0a1 1.5 0 1 1 -2 0M538.7 496.4a1.5 1.4 0 1 1 3 0a1.5 1.4 0 1 1 -3 0M544.3 496.4a0.9 1.4 0 1 1 1.8 0a0.9 1.4 0 1 1 -1.8 0M544.7 496.6a0.8 1.2 0 1 1 1.6 0a0.8 1.2 0 1 1 -1.6 0M545.5 496.8a1 1.2 0 1 1 2 0a1 1.2 0 1 1 -2 0M541.9 497.6a1.1 1.8 0 1 1 2.3 0a1.1 1.8 0 1 1 -2.3 0M544.5 498.9a0.9 2.2 0 1 1 1.9 0a0.9 2.2 0 1 1 -1.9 0M541.2 499.9a1.3 1.9 0 1 1 2.6 0a1.3 1.9 0 1 1 -2.6 0M544 501.2a1.1 1.7 0 1 1 2.2 0a1.1 1.7 0 1 1 -2.2 0M544.9 501.5a1.3 1.7 0 1 1 2.7 0a1.3 1.7 0 1 1 -2.7 0M542.7 502.2a0.8 2.2 0 1 1 1.5 0a0.8 2.2 0 1 1 -1.5 0M539 502.3a0.9 1.6 0 1 1 1.7 0a0.9 1.6 0 1 1 -1.7 0M541.2 502.7a1.3 1.3 0 1 1 2.6 0a1.3 1.3 0 1 1 -2.6 0M539.5 503.8a1.4 2.1 0 1 1 2.9 0a1.4 2.1 0 1 1 -2.9 0M538 504.5a1.3 1.2 0 1 1 2.5 0a1.3 1.2 0 1 1 -2.5 0M535.7 504.6a1.6 1 0 1 1 3.1 0a1.6 1 0 1 1 -3.1 0M538.4 505a1.2 1.4 0 1 1 2.5 0a1.2 1.4 0 1 1 -2.5 0M546.5 508.4a0.7 0.9 0 1 1 1.4 0a0.7 0.9 0 1 1 -1.4 0M542.7 509.4a1.6 1 0 1 1 3.2 0a1.6 1 0 1 1 -3.2 0M538.9 509.5a1 1.3 0 1 1 1.9 0a1 1.3 0 1 1 -1.9 0M541.3 510.9a0.9 1.4 0 1 1 1.8 0a0.9 1.4 0 1 1 -1.8 0M544.5 512a1.3 1.7 0 1 1 2.6 0a1.3 1.7 0 1 1 -2.6 0M541.9 512.1a0.8 1 0 1 1 1.6 0a0.8 1 0 1 1 -1.6 0M540.7 512.3a0.9 0.8 0 1 1 1.8 0a0.9 0.8 0 1 1 -1.8 0M541.9 512.4a1.2 1.2 0 1 1 2.5 0a1.2 1.2 0 1 1 -2.5 0M540.9 513a0.7 0.9 0 1 1 1.3 0a0.7 0.9 0 1 1 -1.3 0M543.9 513.2a0.7 1.1 0 1 1 1.4 0a0.7 1.1 0 1 1 -1.4 0M543.6 517.7a1.1 1.5 0 1 1 2.2 0a1.1 1.5 0 1 1 -2.2 0M547.7 518.1a0.7 1.7 0 1 1 1.3 0a0.7 1.7 0 1 1 -1.3 0M540.4 518.9a1.5 2.4 0 1 1 2.9 0a1.5 2.4 0 1 1 -2.9 0M542.9 520.4a1 2 0 1 1 1.9 0a1 2 0 1 1 -1.9 0M543.1 521a0.6 1.1 0 1 1 1.2 0a0.6 1.1 0 1 1 -1.2 0M536.6 521a1.4 2 0 1 1 2.8 0a1.4 2 0 1 1 -2.8 0M540.7 522.2a1.4 2 0 1 1 2.9 0a1.4 2 0 1 1 -2.9 0M544.4 522.3a1.3 1.2 0 1 1 2.6 0a1.3 1.2 0 1 1 -2.6 0M541 522.3a1.2 1.2 0 1 1 2.4 0a1.2 1.2 0 1 1 -2.4 0M539.2 522.7a1 1.8 0 1 1 1.9 0a1 1.8 0 1 1 -1.9 0M541.6 523.2a1.3 1.7 0 1 1 2.7 0a1.3 1.7 0 1 1 -2.7 0M540.4 523.4a0.7 1 0 1 1 1.4 0a0.7 1 0 1 1 -1.4 0M545.3 523.8a1 1.3 0 1 1 2 0a1 1.3 0 1 1 -2 0M542.4 526.2a0.8 2.2 0 1 1 1.6 0a0.8 2.2 0 1 1 -1.6 0M548.4 527.2a1 2.3 0 1 1 2.1 0a1 2.3 0 1 1 -2.1 0M546.9 527.6a1.3 1.1 0 1 1 2.6 0a1.3 1.1 0 1 1 -2.6 0M544.6 528.5a0.8 1.4 0 1 1 1.6 0a0.8 1.4 0 1 1 -1.6 0M541 528.6a1.2 1.4 0 1 1 2.5 0a1.2 1.4 0 1 1 -2.5 0M537.2 528.8a1.5 1.8 0 1 1 2.9 0a1.5 1.8 0 1 1 -2.9 0M538.4 529.5a0.7 2.1 0 1 1 1.4 0a0.7 2.1 0 1 1 -1.4 0M540.5 529.9a1 1.2 0 1 1 2 0a1 1.2 0 1 1 -2 0M539.4 530.6a1.1 0.9 0 1 1 2.2 0a1.1 0.9 0 1 1 -2.2 0M538.3 531a1.5 1 0 1 1 3.1 0a1.5 1 0 1 1 -3.1 0M539.6 534.8a1.3 1.3 0 1 1 2.7 0a1.3 1.3 0 1 1 -2.7 0M537.7 538.3a0.7 2.4 0 1 1 1.5 0a0.7 2.4 0 1 1 -1.5 0M544.8 538.6a1.4 1.8 0 1 1 2.9 0a1.4 1.8 0 1 1 -2.9 0M542.4 539.9a1.6 0.9 0 1 1 3.2 0a1.6 0.9 0 1 1 -3.2 0M538.9 540.9a0.9 2.1 0 1 1 1.7 0a0.9 2.1 0 1 1 -1.7 0M540.2 542.1a1.4 1.6 0 1 1 2.8 0a1.4 1.6 0 1 1 -2.8 0M544.8 543.3a1.1 2.2 0 1 1 2.3 0a1.1 2.2 0 1 1 -2.3 0M545.8 543.8a0.7 1.1 0 1 1 1.4 0a0.7 1.1 0 1 1 -1.4 0M542.6 548.6a1.5 2 0 1 1 3 0a1.5 2 0 1 1 -3 0M545.8 549.5a1 0.8 0 1 1 2.1 0a1 0.8 0 1 1 -2.1 0M540.2 549.8a1.2 1.9 0 1 1 2.4 0a1.2 1.9 0 1 1 -2.4 0M545.6 550a1 1.1 0 1 1 1.9 0a1 1.1 0 1 1 -1.9 0M540.3 550.9a1.3 1.4 0 1 1 2.7 0a1.3 1.4 0 1 1 -2.7 0M544.4 551.3a1 2.1 0 1 1 2 0a1 2.1 0 1 1 -2 0M545 551.7a1.1 2.3 0 1 1 2.2 0a1.1 2.3 0 1 1 -2.2 0M542.5 552.7a0.9 2.2 0 1 1 1.8 0a0.9 2.2 0 1 1 -1.8 0M545.4 554.2a1.3 1.5 0 1 1 2.6 0a1.3 1.5 0 1 1 -2.6 0M541.8 554.5a1 0.9 0 1 1 2.1 0a1 0.9 0 1 1 -2.1 0M538.2 554.8a1 2.3 0 1 1 2.1 0a1 2.3 0 1 1 -2.1 0M541 555.7a1 1 0 1 1 2 0a1 1 0 1 1 -2 0M540.1 555.9a1 1.3 0 1 1 2 0a1 1.3 0 1 1 -2 0M540.1 557.7a1 2 0 1 1 1.9 0a1 2 0 1 1 -1.9 0M547.9 558.1a0.6 1.8 0 1 1 1.2 0a0.6 1.8 0 1 1 -1.2 0M537.8 558.4a1.1 1.3 0 1 1 2.1 0a1.1 1.3 0 1 1 -2.1 0M548.9 559.1a1.6 1.4 0 1 1 3.2 0a1.6 1.4 0 1 1 -3.2 0M542.5 560h1.9v7.4h-1.9zM541.9 567.4h2.1v7.1h-2.1zM541.6 574.5h1.8v11.2h-1.8zM541.1 585.6h2.5v11.2h-2.5zM542 596.8h1.8v11h-1.8zM541.7 607.8h2.6v12.5h-2.6zM541.6 620.3h2.2v3.3h-2.2zM541.8 623.6h2.2v11.7h-2.2zM542.7 635.2h1.8v4.4h-1.8zM542.4 639.6h1.9v6.2h-1.9zM542.1 647.3h2.2v8h-2.2zM541.4 655.3h2.7v12.4h-2.7zM542.9 667.6h2.3v8.8h-2.3zM540.6 677.7h2.4v12h-2.4zM542.5 689.7h1.7v4.7h-1.7zM542 694.4h2.6v5.6h-2.6zM541.2 560.1a0.9 1 0 1 1 1.7 0a0.9 1 0 1 1 -1.7 0M542.5 560.5a1.1 1.8 0 1 1 2.2 0a1.1 1.8 0 1 1 -2.2 0M538.5 563.7a1.5 1.4 0 1 1 3 0a1.5 1.4 0 1 1 -3 0M540.8 565.2a0.9 1.4 0 1 1 1.7 0a0.9 1.4 0 1 1 -1.7 0M540.1 566a1.1 0.9 0 1 1 2.1 0a1.1 0.9 0 1 1 -2.1 0M544.2 566a1.1 1.7 0 1 1 2.3 0a1.1 1.7 0 1 1 -2.3 0M544.3 566.3a0.9 1.6 0 1 1 1.8 0a0.9 1.6 0 1 1 -1.8 0M543.5 567.9a1.1 0.8 0 1 1 2.2 0a1.1 0.8 0 1 1 -2.2 0M545.2 571.6a1.6 1.4 0 1 1 3.1 0a1.6 1.4 0 1 1 -3.1 0M542.3 572.1a0.9 1.8 0 1 1 1.8 0a0.9 1.8 0 1 1 -1.8 0M542.2 572.9a0.9 2.1 0 1 1 1.7 0a0.9 2.1 0 1 1 -1.7 0M539.8 575.1a1.3 0.9 0 1 1 2.6 0a1.3 0.9 0 1 1 -2.6 0M543.4 577a0.9 1.3 0 1 1 1.9 0a0.9 1.3 0 1 1 -1.9 0M541 578.8a1.4 0.9 0 1 1 2.7 0a1.4 0.9 0 1 1 -2.7 0M542.5 582.7a0.6 2 0 1 1 1.2 0a0.6 2 0 1 1 -1.2 0M537.7 585.6a1 1.5 0 1 1 2 0a1 1.5 0 1 1 -2 0M537.9 586.3a1.6 1.7 0 1 1 3.1 0a1.6 1.7 0 1 1 -3.1 0M538.6 586.6a1.4 1 0 1 1 2.9 0a1.4 1 0 1 1 -2.9 0M544.1 587.3a0.6 1.5 0 1 1 1.3 0a0.6 1.5 0 1 1 -1.3 0M544.6 588.5a1.3 1.4 0 1 1 2.6 0a1.3 1.4 0 1 1 -2.6 0M540.2 588.7a1.3 1.1 0 1 1 2.7 0a1.3 1.1 0 1 1 -2.7 0M541.1 588.9a0.9 1.7 0 1 1 1.9 0a0.9 1.7 0 1 1 -1.9 0M543.2 589.5a1.2 2.1 0 1 1 2.3 0a1.2 2.1 0 1 1 -2.3 0M534.3 590.4a0.9 1.9 0 1 1 1.9 0a0.9 1.9 0 1 1 -1.9 0M542.6 590.8a1.3 1.7 0 1 1 2.7 0a1.3 1.7 0 1 1 -2.7 0M542.9 590.8a1.3 1.5 0 1 1 2.6 0a1.3 1.5 0 1 1 -2.6 0M539 591.8a1.6 2.3 0 1 1 3.2 0a1.6 2.3 0 1 1 -3.2 0M542.8 592.5a0.7 1.3 0 1 1 1.4 0a0.7 1.3 0 1 1 -1.4 0M546.4 592.5a1.3 1.7 0 1 1 2.6 0a1.3 1.7 0 1 1 -2.6 0M547.8 594.7a0.8 1.1 0 1 1 1.6 0a0.8 1.1 0 1 1 -1.6 0M545.3 595.7a1.2 2.2 0 1 1 2.4 0a1.2 2.2 0 1 1 -2.4 0M545.3 597a1 2.3 0 1 1 1.9 0a1 2.3 0 1 1 -1.9 0M538.6 598.3a0.9 1.3 0 1 1 1.7 0a0.9 1.3 0 1 1 -1.7 0M539.9 598.4a0.9 1.2 0 1 1 1.8 0a0.9 1.2 0 1 1 -1.8 0M542.5 600.7a0.8 2.2 0 1 1 1.5 0a0.8 2.2 0 1 1 -1.5 0M537.5 601.8a1.1 1.9 0 1 1 2.3 0a1.1 1.9 0 1 1 -2.3 0M540.9 603.4a0.9 0.9 0 1 1 1.7 0a0.9 0.9 0 1 1 -1.7 0M542.4 603.9a1.1 1.4 0 1 1 2.1 0a1.1 1.4 0 1 1 -2.1 0M539.9 607.1a1.1 1.7 0 1 1 2.2 0a1.1 1.7 0 1 1 -2.2 0M547.1 615a1.2 2.4 0 1 1 2.3 0a1.2 2.4 0 1 1 -2.3 0M543.1 617.2a0.7 1.6 0 1 1 1.4 0a0.7 1.6 0 1 1 -1.4 0M538.7 618a1 1.6 0 1 1 1.9 0a1 1.6 0 1 1 -1.9 0M539.5 619.4a0.7 1.6 0 1 1 1.4 0a0.7 1.6 0 1 1 -1.4 0M543.4 623.4a1.2 1 0 1 1 2.3 0a1.2 1 0 1 1 -2.3 0M539.5 623.8a1.6 2.3 0 1 1 3.2 0a1.6 2.3 0 1 1 -3.2 0M535.1 626a1.5 0.8 0 1 1 3.1 0a1.5 0.8 0 1 1 -3.1 0M543 630.1a0.6 2.1 0 1 1 1.3 0a0.6 2.1 0 1 1 -1.3 0M541.7 630.9a1.2 2 0 1 1 2.4 0a1.2 2 0 1 1 -2.4 0M546 630.9a1.6 2.1 0 1 1 3.2 0a1.6 2.1 0 1 1 -3.2 0M544.1 631.3a0.9 0.8 0 1 1 1.9 0a0.9 0.8 0 1 1 -1.9 0M539.1 631.7a0.9 1.9 0 1 1 1.9 0a0.9 1.9 0 1 1 -1.9 0M537.2 632.3a0.9 1.2 0 1 1 1.9 0a0.9 1.2 0 1 1 -1.9 0M542.5 632.6a1.1 1.2 0 1 1 2.2 0a1.1 1.2 0 1 1 -2.2 0M542.3 632.8a0.9 2 0 1 1 1.9 0a0.9 2 0 1 1 -1.9 0M544.2 634.6a1.1 0.9 0 1 1 2.3 0a1.1 0.9 0 1 1 -2.3 0M542 634.9a1.6 1.4 0 1 1 3.2 0a1.6 1.4 0 1 1 -3.2 0M542.1 639.3a1.4 1.4 0 1 1 2.8 0a1.4 1.4 0 1 1 -2.8 0M539.2 640.3a1.3 1.6 0 1 1 2.7 0a1.3 1.6 0 1 1 -2.7 0M541.5 640.6a1.5 2.3 0 1 1 3 0a1.5 2.3 0 1 1 -3 0M543.1 641a1.3 2.3 0 1 1 2.6 0a1.3 2.3 0 1 1 -2.6 0M541.1 641.2a1.3 2.2 0 1 1 2.6 0a1.3 2.2 0 1 1 -2.6 0M539.7 644.5a0.7 1.2 0 1 1 1.4 0a0.7 1.2 0 1 1 -1.4 0M542.5 645a1.1 1.7 0 1 1 2.3 0a1.1 1.7 0 1 1 -2.3 0M543.8 646.9a1.4 2.3 0 1 1 2.7 0a1.4 2.3 0 1 1 -2.7 0M543.2 647.1a0.9 1.7 0 1 1 1.9 0a0.9 1.7 0 1 1 -1.9 0M544.9 648.8a1.2 2.2 0 1 1 2.4 0a1.2 2.2 0 1 1 -2.4 0M541.5 650.7a0.8 1.1 0 1 1 1.5 0a0.8 1.1 0 1 1 -1.5 0M542.9 650.9a0.6 1.2 0 1 1 1.2 0a0.6 1.2 0 1 1 -1.2 0M540.4 651.7a0.8 0.8 0 1 1 1.6 0a0.8 0.8 0 1 1 -1.6 0M539.6 651.7a0.9 1.8 0 1 1 1.7 0a0.9 1.8 0 1 1 -1.7 0M540.3 652.5a1 2.2 0 1 1 1.9 0a1 2.2 0 1 1 -1.9 0M540.1 653.1a1.1 1.5 0 1 1 2.3 0a1.1 1.5 0 1 1 -2.3 0M542.2 655.8a1.5 2.2 0 1 1 2.9 0a1.5 2.2 0 1 1 -2.9 0M547.9 656.6a1.6 1.3 0 1 1 3.2 0a1.6 1.3 0 1 1 -3.2 0M542.6 658a0.8 2.3 0 1 1 1.5 0a0.8 2.3 0 1 1 -1.5 0M545.4 658.1a1.3 1.4 0 1 1 2.6 0a1.3 1.4 0 1 1 -2.6 0M545 658.9a1 0.8 0 1 1 2 0a1 0.8 0 1 1 -2 0M540.3 659.2a1.2 1.8 0 1 1 2.3 0a1.2 1.8 0 1 1 -2.3 0M538.5 659.3a1.2 2.4 0 1 1 2.5 0a1.2 2.4 0 1 1 -2.5 0M542.4 660a0.7 2.1 0 1 1 1.4 0a0.7 2.1 0 1 1 -1.4 0M542.1 661.9a1.5 1.6 0 1 1 3 0a1.5 1.6 0 1 1 -3 0M539.4 662.8a1.5 1.6 0 1 1 3.1 0a1.5 1.6 0 1 1 -3.1 0M543.9 663.2a0.9 1.1 0 1 1 1.9 0a0.9 1.1 0 1 1 -1.9 0M538.8 665.2a1.4 2.4 0 1 1 2.8 0a1.4 2.4 0 1 1 -2.8 0M542.9 666.5a1.4 2.1 0 1 1 2.8 0a1.4 2.1 0 1 1 -2.8 0M537.9 668.4a0.9 1.2 0 1 1 1.8 0a0.9 1.2 0 1 1 -1.8 0M539 668.4a1.4 1.8 0 1 1 2.8 0a1.4 1.8 0 1 1 -2.8 0M541.6 671.4a1.2 0.9 0 1 1 2.5 0a1.2 0.9 0 1 1 -2.5 0M547.7 671.5a0.9 1.1 0 1 1 1.8 0a0.9 1.1 0 1 1 -1.8 0M546.9 674.5a1.4 2.1 0 1 1 2.7 0a1.4 2.1 0 1 1 -2.7 0M543.5 675.5a1.5 1.8 0 1 1 3.1 0a1.5 1.8 0 1 1 -3.1 0M541.9 676a0.8 2.1 0 1 1 1.5 0a0.8 2.1 0 1 1 -1.5 0M542.1 677.2a1.4 1.9 0 1 1 2.8 0a1.4 1.9 0 1 1 -2.8 0M541.5 677.6a1.2 1.9 0 1 1 2.5 0a1.2 1.9 0 1 1 -2.5 0M543.3 678.1a1.5 2.3 0 1 1 3.1 0a1.5 2.3 0 1 1 -3.1 0M536.4 681.4a1.4 1.3 0 1 1 2.7 0a1.4 1.3 0 1 1 -2.7 0M537 682.3a1.1 0.9 0 1 1 2.2 0a1.1 0.9 0 1 1 -2.2 0M537.6 683.1a0.8 1.1 0 1 1 1.7 0a0.8 1.1 0 1 1 -1.7 0M535 683.9a1.2 1.5 0 1 1 2.5 0a1.2 1.5 0 1 1 -2.5 0M540 684.8a1.2 1.8 0 1 1 2.3 0a1.2 1.8 0 1 1 -2.3 0M537.8 687.4a0.9 1.7 0 1 1 1.7 0a0.9 1.7 0 1 1 -1.7 0M544.1 688.3a0.7 1 0 1 1 1.3 0a0.7 1 0 1 1 -1.3 0M546.1 688.6a1.3 2 0 1 1 2.6 0a1.3 2 0 1 1 -2.6 0M541.4 691a1 1 0 1 1 2.1 0a1 1 0 1 1 -2.1 0M545.9 692a1.3 1.4 0 1 1 2.7 0a1.3 1.4 0 1 1 -2.7 0M541.8 694a0.6 0.9 0 1 1 1.2 0a0.6 0.9 0 1 1 -1.2 0M547 694.7a1.5 1.6 0 1 1 2.9 0a1.5 1.6 0 1 1 -2.9 0M545.7 695.1a1.6 1 0 1 1 3.2 0a1.6 1 0 1 1 -3.2 0M544.2 695.4a1 1.4 0 1 1 2 0a1 1.4 0 1 1 -2 0M539.1 695.7a1.4 1.9 0 1 1 2.8 0a1.4 1.9 0 1 1 -2.8 0M539.2 696.2a0.9 1.8 0 1 1 1.8 0a0.9 1.8 0 1 1 -1.8 0M542.8 696.6a1.4 1.5 0 1 1 2.7 0a1.4 1.5 0 1 1 -2.7 0M538.9 698.9a1.5 2.4 0 1 1 3 0a1.5 2.4 0 1 1 -3 0M542.5 699.5a1.3 2 0 1 1 2.5 0a1.3 2 0 1 1 -2.5 0M541.1 700h2.2v13.4h-2.2zM542.3 713.4h2v5.5h-2zM542.5 718.9h2.2v13.8h-2.2zM542 732.7h2.1v11.4h-2.1zM542.2 744.1h2.5v5.4h-2.5zM543.1 749.6h2.3v3.7h-2.3zM541.7 753.2h2.1v12.2h-2.1zM541.1 765.4h1.8v11.2h-1.8zM542.3 776.7h2v10.8h-2zM541.9 787.4h2.2v11.6h-2.2zM541.3 799h2.1v13.5h-2.1zM541.7 812.5h2.4v4.8h-2.4zM541.6 817.3h2.3v10.3h-2.3zM542.1 827.6h2v9.7h-2zM541.2 837.3h2.5v13.9h-2.5zM542.7 851.2h2.2v3.8h-2.2zM542 855h1.9v10.6h-1.9zM542.7 867.3h1.8v10.2h-1.8zM542.3 877.6h1.7v12.6h-1.7zM542.2 890.2h2.2v3.9h-2.2zM543 894.1h2.2v5.9h-2.2zM542.1 900h2.2v12.5h-2.2zM541.9 912.5h2.4v10.7h-2.4zM542.5 923.2h2.3v6.5h-2.3zM541.8 929.6h2.5v9.3h-2.5zM542.2 938.9h2.5v9.8h-2.5zM542.7 948.7h1.9v6.8h-1.9zM540.9 955.4h1.9v10.4h-1.9zM542.1 965.9h2.4v10.8h-2.4zM541.6 976.7h2.2v7h-2.2zM542.6 983.7h1.6v3.5h-1.6zM541.3 988.3h2.1v6.2h-2.1zM543.7 702.1a0.6 1.9 0 1 1 1.2 0a0.6 1.9 0 1 1 -1.2 0M542.3 702.4a1.3 1.9 0 1 1 2.5 0a1.3 1.9 0 1 1 -2.5 0M541.1 703.1a1 1.4 0 1 1 1.9 0a1 1.4 0 1 1 -1.9 0M545.9 703.4a0.9 0.8 0 1 1 1.7 0a0.9 0.8 0 1 1 -1.7 0M541.4 704.4a1.4 1.6 0 1 1 2.9 0a1.4 1.6 0 1 1 -2.9 0M543 704.8a1.5 2 0 1 1 3 0a1.5 2 0 1 1 -3 0M540.7 705.9a1 1.4 0 1 1 2 0a1 1.4 0 1 1 -2 0M538.6 706.6a1.1 1.7 0 1 1 2.3 0a1.1 1.7 0 1 1 -2.3 0M542.2 708.9a0.9 0.9 0 1 1 1.8 0a0.9 0.9 0 1 1 -1.8 0M542.7 710a0.9 1.1 0 1 1 1.8 0a0.9 1.1 0 1 1 -1.8 0M539.8 711.9a1.3 1.5 0 1 1 2.7 0a1.3 1.5 0 1 1 -2.7 0M537.3 712.7a1.5 2.4 0 1 1 3 0a1.5 2.4 0 1 1 -3 0M543.4 714.6a1.6 1.7 0 1 1 3.1 0a1.6 1.7 0 1 1 -3.1 0M542.6 715a1.5 1.6 0 1 1 2.9 0a1.5 1.6 0 1 1 -2.9 0M542.7 715.1a0.7 1.4 0 1 1 1.5 0a0.7 1.4 0 1 1 -1.5 0M541.8 715.2a1.2 2.3 0 1 1 2.3 0a1.2 2.3 0 1 1 -2.3 0M538.9 716.7a0.8 1.5 0 1 1 1.5 0a0.8 1.5 0 1 1 -1.5 0M540 717.9a0.8 1.5 0 1 1 1.6 0a0.8 1.5 0 1 1 -1.6 0M538.6 718.3a0.6 1.2 0 1 1 1.2 0a0.6 1.2 0 1 1 -1.2 0M540.3 718.6a0.7 2 0 1 1 1.3 0a0.7 2 0 1 1 -1.3 0M540.5 721.9a1.2 1.2 0 1 1 2.5 0a1.2 1.2 0 1 1 -2.5 0M543.6 725a0.6 1.1 0 1 1 1.3 0a0.6 1.1 0 1 1 -1.3 0M543.6 728.3a0.9 1.2 0 1 1 1.8 0a0.9 1.2 0 1 1 -1.8 0M538.7 728.5a1.5 0.9 0 1 1 3.1 0a1.5 0.9 0 1 1 -3.1 0M538.5 729a1.4 1.2 0 1 1 2.8 0a1.4 1.2 0 1 1 -2.8 0M534.3 729.2a0.8 1.2 0 1 1 1.7 0a0.8 1.2 0 1 1 -1.7 0M542.6 730.4a0.7 1.1 0 1 1 1.3 0a0.7 1.1 0 1 1 -1.3 0M544 730.8a1.6 1.9 0 1 1 3.2 0a1.6 1.9 0 1 1 -3.2 0M539.6 732a0.6 0.8 0 1 1 1.3 0a0.6 0.8 0 1 1 -1.3 0M544.5 732.5a0.9 1 0 1 1 1.9 0a0.9 1 0 1 1 -1.9 0M543.4 735.1a1.1 2 0 1 1 2.2 0a1.1 2 0 1 1 -2.2 0M543.8 737.5a1.1 2.2 0 1 1 2.1 0a1.1 2.2 0 1 1 -2.1 0M543.4 740.7a0.6 0.8 0 1 1 1.3 0a0.6 0.8 0 1 1 -1.3 0M543.7 741.2a0.7 0.9 0 1 1 1.4 0a0.7 0.9 0 1 1 -1.4 0M543 742.2a0.7 1.3 0 1 1 1.4 0a0.7 1.3 0 1 1 -1.4 0M541.8 742.3a0.8 1.8 0 1 1 1.6 0a0.8 1.8 0 1 1 -1.6 0M539.4 742.5a0.7 1.7 0 1 1 1.5 0a0.7 1.7 0 1 1 -1.5 0M541.3 743.1a1.1 0.9 0 1 1 2.1 0a1.1 0.9 0 1 1 -2.1 0M541.3 743.3a1.5 1.7 0 1 1 3 0a1.5 1.7 0 1 1 -3 0M541.8 744.1a1.5 1 0 1 1 3.1 0a1.5 1 0 1 1 -3.1 0M538.2 745.4a1.5 0.9 0 1 1 3 0a1.5 0.9 0 1 1 -3 0M545 745.8a1.4 2.1 0 1 1 2.7 0a1.4 2.1 0 1 1 -2.7 0M544.4 752.6a1.3 2.2 0 1 1 2.7 0a1.3 2.2 0 1 1 -2.7 0M548 753.6a1.2 2.2 0 1 1 2.4 0a1.2 2.2 0 1 1 -2.4 0M540.2 756a1.4 0.9 0 1 1 2.8 0a1.4 0.9 0 1 1 -2.8 0M541.5 756.4a0.9 1.8 0 1 1 1.8 0a0.9 1.8 0 1 1 -1.8 0M547.6 757a0.9 1.4 0 1 1 1.7 0a0.9 1.4 0 1 1 -1.7 0M534.6 757.2a1.4 1.1 0 1 1 2.9 0a1.4 1.1 0 1 1 -2.9 0M542.5 757.7a0.6 1.3 0 1 1 1.2 0a0.6 1.3 0 1 1 -1.2 0M541.8 762.7a1.2 0.9 0 1 1 2.5 0a1.2 0.9 0 1 1 -2.5 0M536.8 762.9a1.5 2.3 0 1 1 2.9 0a1.5 2.3 0 1 1 -2.9 0M542.6 763.3a1 1.3 0 1 1 2 0a1 1.3 0 1 1 -2 0M540.9 764a1.4 2.3 0 1 1 2.8 0a1.4 2.3 0 1 1 -2.8 0M540.7 765a0.8 0.9 0 1 1 1.5 0a0.8 0.9 0 1 1 -1.5 0M538.5 765.3a0.6 1.5 0 1 1 1.3 0a0.6 1.5 0 1 1 -1.3 0M536.4 766.5a1 1 0 1 1 1.9 0a1 1 0 1 1 -1.9 0M540.4 766.6a0.8 0.8 0 1 1 1.7 0a0.8 0.8 0 1 1 -1.7 0M540.3 766.6a1.2 2.1 0 1 1 2.4 0a1.2 2.1 0 1 1 -2.4 0M541.4 766.8a1.3 2 0 1 1 2.5 0a1.3 2 0 1 1 -2.5 0M536.5 767.6a1.3 2.4 0 1 1 2.6 0a1.3 2.4 0 1 1 -2.6 0M545.8 770a1.2 1.9 0 1 1 2.4 0a1.2 1.9 0 1 1 -2.4 0M541.1 771.7a1.1 2.1 0 1 1 2.2 0a1.1 2.1 0 1 1 -2.2 0M545.1 774.3a1.1 1.4 0 1 1 2.2 0a1.1 1.4 0 1 1 -2.2 0M542.9 774.8a1 0.9 0 1 1 2 0a1 0.9 0 1 1 -2 0M542.2 775a0.7 1.5 0 1 1 1.5 0a0.7 1.5 0 1 1 -1.5 0M539.7 776.5a1 2.2 0 1 1 1.9 0a1 2.2 0 1 1 -1.9 0M546.2 776.7a0.7 1.9 0 1 1 1.3 0a0.7 1.9 0 1 1 -1.3 0M538.6 777.3a1.2 0.9 0 1 1 2.4 0a1.2 0.9 0 1 1 -2.4 0M545.5 777.7a0.7 0.9 0 1 1 1.4 0a0.7 0.9 0 1 1 -1.4 0M545.6 778.4a1.5 2.1 0 1 1 3 0a1.5 2.1 0 1 1 -3 0M539.4 778.4a0.9 2.3 0 1 1 1.8 0a0.9 2.3 0 1 1 -1.8 0M540.3 779.5a0.7 2.3 0 1 1 1.3 0a0.7 2.3 0 1 1 -1.3 0M546.6 781.3a0.7 1.7 0 1 1 1.5 0a0.7 1.7 0 1 1 -1.5 0M542.1 783.4a0.9 1.1 0 1 1 1.8 0a0.9 1.1 0 1 1 -1.8 0M545.9 784.9a0.9 1.5 0 1 1 1.9 0a0.9 1.5 0 1 1 -1.9 0M540.8 786.2a0.7 1.1 0 1 1 1.4 0a0.7 1.1 0 1 1 -1.4 0M542.1 787a1.2 1.4 0 1 1 2.5 0a1.2 1.4 0 1 1 -2.5 0M546.3 787.2a0.7 1.9 0 1 1 1.5 0a0.7 1.9 0 1 1 -1.5 0M541 788.2a1.4 1.8 0 1 1 2.7 0a1.4 1.8 0 1 1 -2.7 0M538.4 791.9a1 1.5 0 1 1 1.9 0a1 1.5 0 1 1 -1.9 0M544.4 793a1 1.4 0 1 1 1.9 0a1 1.4 0 1 1 -1.9 0M539.4 794.6a1 1.8 0 1 1 2 0a1 1.8 0 1 1 -2 0M537.1 795a0.7 2.1 0 1 1 1.4 0a0.7 2.1 0 1 1 -1.4 0M541.2 795.4a0.7 1.8 0 1 1 1.5 0a0.7 1.8 0 1 1 -1.5 0M543.2 795.5a0.9 2 0 1 1 1.7 0a0.9 2 0 1 1 -1.7 0M540.2 797.7a0.8 1.3 0 1 1 1.6 0a0.8 1.3 0 1 1 -1.6 0M544.4 798.1a1.3 0.8 0 1 1 2.7 0a1.3 0.8 0 1 1 -2.7 0M541.4 799.8a0.7 0.9 0 1 1 1.4 0a0.7 0.9 0 1 1 -1.4 0M544.1 800.7a0.6 1.5 0 1 1 1.2 0a0.6 1.5 0 1 1 -1.2 0M545.1 801.2a1 2.4 0 1 1 1.9 0a1 2.4 0 1 1 -1.9 0M545.5 805.6a0.7 0.9 0 1 1 1.4 0a0.7 0.9 0 1 1 -1.4 0M543.5 805.8a1.6 1.7 0 1 1 3.2 0a1.6 1.7 0 1 1 -3.2 0M542.1 809.1a1.1 2 0 1 1 2.1 0a1.1 2 0 1 1 -2.1 0M537.6 809.2a1.1 1.5 0 1 1 2.3 0a1.1 1.5 0 1 1 -2.3 0M538.7 810.7a0.6 1.1 0 1 1 1.3 0a0.6 1.1 0 1 1 -1.3 0M538.7 811.1a1.2 1.2 0 1 1 2.3 0a1.2 1.2 0 1 1 -2.3 0M547.5 812.4a0.7 1.2 0 1 1 1.3 0a0.7 1.2 0 1 1 -1.3 0M545.2 813.3a1.3 1.5 0 1 1 2.5 0a1.3 1.5 0 1 1 -2.5 0M543.7 818.4a0.8 2.1 0 1 1 1.5 0a0.8 2.1 0 1 1 -1.5 0M539.1 818.6a1.4 2.1 0 1 1 2.7 0a1.4 2.1 0 1 1 -2.7 0M543.5 818.8a0.8 2.2 0 1 1 1.7 0a0.8 2.2 0 1 1 -1.7 0M543.5 819.5a0.7 1.4 0 1 1 1.5 0a0.7 1.4 0 1 1 -1.5 0M541 820.6a1 1.5 0 1 1 2.1 0a1 1.5 0 1 1 -2.1 0M536.8 821.1a1.1 1.9 0 1 1 2.1 0a1.1 1.9 0 1 1 -2.1 0M540.8 821.5a0.6 1.4 0 1 1 1.3 0a0.6 1.4 0 1 1 -1.3 0M541.6 821.5a0.7 1.5 0 1 1 1.4 0a0.7 1.5 0 1 1 -1.4 0M542.1 824.4a1.4 1.4 0 1 1 2.9 0a1.4 1.4 0 1 1 -2.9 0M547.3 824.5a0.8 2 0 1 1 1.7 0a0.8 2 0 1 1 -1.7 0M542.7 824.6a0.8 1.3 0 1 1 1.6 0a0.8 1.3 0 1 1 -1.6 0M541 826a1 1.6 0 1 1 1.9 0a1 1.6 0 1 1 -1.9 0M544.7 826.3a1.4 2.3 0 1 1 2.8 0a1.4 2.3 0 1 1 -2.8 0M543.1 829.7a1.6 1.1 0 1 1 3.2 0a1.6 1.1 0 1 1 -3.2 0M541.4 829.8a0.9 1.5 0 1 1 1.8 0a0.9 1.5 0 1 1 -1.8 0M548.2 831.4a0.9 1.5 0 1 1 1.8 0a0.9 1.5 0 1 1 -1.8 0M542.6 832.3a0.8 2 0 1 1 1.7 0a0.8 2 0 1 1 -1.7 0M541.3 832.6a0.7 0.9 0 1 1 1.3 0a0.7 0.9 0 1 1 -1.3 0M539 833.4a0.9 0.8 0 1 1 1.8 0a0.9 0.8 0 1 1 -1.8 0M544.2 833.9a1.1 1.4 0 1 1 2.2 0a1.1 1.4 0 1 1 -2.2 0M541.6 833.9a0.7 0.8 0 1 1 1.4 0a0.7 0.8 0 1 1 -1.4 0M543.9 833.9a1.5 1.4 0 1 1 3 0a1.5 1.4 0 1 1 -3 0M543 834.7a1.4 1.7 0 1 1 2.8 0a1.4 1.7 0 1 1 -2.8 0M541.9 835.2a1.4 1.6 0 1 1 2.7 0a1.4 1.6 0 1 1 -2.7 0M545.5 837.1a1.3 1.5 0 1 1 2.5 0a1.3 1.5 0 1 1 -2.5 0M538.9 838a1.1 2.1 0 1 1 2.3 0a1.1 2.1 0 1 1 -2.3 0M537.9 838.7a1 2.3 0 1 1 2 0a1 2.3 0 1 1 -2 0M545 839.6a1.1 2 0 1 1 2.2 0a1.1 2 0 1 1 -2.2 0M546.3 841.8a0.6 1.2 0 1 1 1.2 0a0.6 1.2 0 1 1 -1.2 0M542.7 844.1a0.7 1.9 0 1 1 1.4 0a0.7 1.9 0 1 1 -1.4 0M539.1 845.9a1 1.8 0 1 1 2.1 0a1 1.8 0 1 1 -2.1 0M543.3 848.7a1.5 2.1 0 1 1 3 0a1.5 2.1 0 1 1 -3 0M537.6 849a1.2 1.4 0 1 1 2.4 0a1.2 1.4 0 1 1 -2.4 0M543.5 849.4a0.6 0.9 0 1 1 1.2 0a0.6 0.9 0 1 1 -1.2 0M542.6 850.8a0.8 1.2 0 1 1 1.7 0a0.8 1.2 0 1 1 -1.7 0M541.4 853.2a0.9 1 0 1 1 1.7 0a0.9 1 0 1 1 -1.7 0M540.9 856.9a1.3 2 0 1 1 2.7 0a1.3 2 0 1 1 -2.7 0M538.6 857.2a1.1 1.9 0 1 1 2.3 0a1.1 1.9 0 1 1 -2.3 0M547 858.3a0.8 1.2 0 1 1 1.6 0a0.8 1.2 0 1 1 -1.6 0M547.8 861.5a1.5 2.1 0 1 1 3.1 0a1.5 2.1 0 1 1 -3.1 0M540.6 863.3a1.3 2.1 0 1 1 2.7 0a1.3 2.1 0 1 1 -2.7 0M541.9 863.3a0.7 2 0 1 1 1.3 0a0.7 2 0 1 1 -1.3 0M545 865.7a1.3 1.9 0 1 1 2.6 0a1.3 1.9 0 1 1 -2.6 0M541.6 866.2a1.2 0.9 0 1 1 2.5 0a1.2 0.9 0 1 1 -2.5 0M543.3 867.5a0.8 1.5 0 1 1 1.6 0a0.8 1.5 0 1 1 -1.6 0M539.1 868.4a0.7 0.8 0 1 1 1.4 0a0.7 0.8 0 1 1 -1.4 0M542.3 868.7a1 1.9 0 1 1 2 0a1 1.9 0 1 1 -2 0M544.5 869.8a0.6 2.2 0 1 1 1.2 0a0.6 2.2 0 1 1 -1.2 0M539.9 871.2a0.9 0.9 0 1 1 1.9 0a0.9 0.9 0 1 1 -1.9 0M539.9 871.3a1.3 2.3 0 1 1 2.6 0a1.3 2.3 0 1 1 -2.6 0M544.3 872.3a1.4 2.4 0 1 1 2.8 0a1.4 2.4 0 1 1 -2.8 0M534.7 872.3a1.2 1.8 0 1 1 2.4 0a1.2 1.8 0 1 1 -2.4 0M541.4 873.3a1.4 1.8 0 1 1 2.9 0a1.4 1.8 0 1 1 -2.9 0M541.8 874.2a1.5 2 0 1 1 2.9 0a1.5 2 0 1 1 -2.9 0M544.8 874.9a0.6 1.3 0 1 1 1.2 0a0.6 1.3 0 1 1 -1.2 0M540.2 880a1 1.2 0 1 1 2 0a1 1.2 0 1 1 -2 0M541.2 880.1a0.7 1.8 0 1 1 1.4 0a0.7 1.8 0 1 1 -1.4 0M544.9 881.8a0.9 2.4 0 1 1 1.9 0a0.9 2.4 0 1 1 -1.9 0M542.2 882.6a0.9 2.2 0 1 1 1.8 0a0.9 2.2 0 1 1 -1.8 0M542.4 883.3a1.1 1.2 0 1 1 2.2 0a1.1 1.2 0 1 1 -2.2 0M540.1 883.4a1.4 2 0 1 1 2.8 0a1.4 2 0 1 1 -2.8 0M541.3 884.5a1.6 2 0 1 1 3.2 0a1.6 2 0 1 1 -3.2 0M542 890.2a0.9 1.1 0 1 1 1.7 0a0.9 1.1 0 1 1 -1.7 0M539.6 891.2a1.5 2.4 0 1 1 3 0a1.5 2.4 0 1 1 -3 0M542.7 894.8a1.5 1 0 1 1 3.1 0a1.5 1 0 1 1 -3.1 0M543.4 897.8a1 0.8 0 1 1 2.1 0a1 0.8 0 1 1 -2.1 0M538.7 897.9a1.1 2.3 0 1 1 2.3 0a1.1 2.3 0 1 1 -2.3 0M541.2 898a0.9 2 0 1 1 1.9 0a0.9 2 0 1 1 -1.9 0M537.3 898.6a1.1 1.2 0 1 1 2.3 0a1.1 1.2 0 1 1 -2.3 0M545.8 904.4a1.4 2.4 0 1 1 2.7 0a1.4 2.4 0 1 1 -2.7 0M542.3 904.4a1.2 1.8 0 1 1 2.4 0a1.2 1.8 0 1 1 -2.4 0M538.9 904.8a1 2.3 0 1 1 1.9 0a1 2.3 0 1 1 -1.9 0M542.4 907.7a1.3 1.2 0 1 1 2.6 0a1.3 1.2 0 1 1 -2.6 0M541 909.6a1.3 1.2 0 1 1 2.7 0a1.3 1.2 0 1 1 -2.7 0M547.7 913.1a1.1 0.9 0 1 1 2.3 0a1.1 0.9 0 1 1 -2.3 0M541.3 917.9a1 1.1 0 1 1 1.9 0a1 1.1 0 1 1 -1.9 0M542.7 918.9a1.3 1 0 1 1 2.5 0a1.3 1 0 1 1 -2.5 0M537.1 919a0.9 2.1 0 1 1 1.7 0a0.9 2.1 0 1 1 -1.7 0M543.6 919.5a1.4 0.8 0 1 1 2.8 0a1.4 0.8 0 1 1 -2.8 0M540.1 920.3a1.3 1.2 0 1 1 2.6 0a1.3 1.2 0 1 1 -2.6 0M541.4 922.3a0.7 2.3 0 1 1 1.4 0a0.7 2.3 0 1 1 -1.4 0M542.5 924.5a1 2.4 0 1 1 2 0a1 2.4 0 1 1 -2 0M542.9 928.7a1.2 1.8 0 1 1 2.4 0a1.2 1.8 0 1 1 -2.4 0M547.7 931.2a1.3 2.1 0 1 1 2.6 0a1.3 2.1 0 1 1 -2.6 0M542.6 933.8a1.4 2.1 0 1 1 2.9 0a1.4 2.1 0 1 1 -2.9 0M541.1 934a1.4 1.6 0 1 1 2.7 0a1.4 1.6 0 1 1 -2.7 0M542.8 934.4a1 2.2 0 1 1 2.1 0a1 2.2 0 1 1 -2.1 0M545.4 938a0.7 1.5 0 1 1 1.4 0a0.7 1.5 0 1 1 -1.4 0M542.9 939.4a1.5 1.5 0 1 1 2.9 0a1.5 1.5 0 1 1 -2.9 0M542.9 939.4a1 1 0 1 1 2 0a1 1 0 1 1 -2 0M538.5 939.5a0.7 0.9 0 1 1 1.4 0a0.7 0.9 0 1 1 -1.4 0M543.5 939.7a1.5 1.7 0 1 1 2.9 0a1.5 1.7 0 1 1 -2.9 0M537.9 940a1.4 1.7 0 1 1 2.9 0a1.4 1.7 0 1 1 -2.9 0M543.9 941a1 2.2 0 1 1 2.1 0a1 2.2 0 1 1 -2.1 0M542.7 942a0.9 0.9 0 1 1 1.7 0a0.9 0.9 0 1 1 -1.7 0M541.6 945.2a1.5 2 0 1 1 3 0a1.5 2 0 1 1 -3 0M546.3 946.2a0.9 2 0 1 1 1.8 0a0.9 2 0 1 1 -1.8 0M539.3 948.3a0.9 2.3 0 1 1 1.9 0a0.9 2.3 0 1 1 -1.9 0M540.7 950.1a0.9 1.4 0 1 1 1.7 0a0.9 1.4 0 1 1 -1.7 0M546.1 952a1.2 2.3 0 1 1 2.4 0a1.2 2.3 0 1 1 -2.4 0M534.8 952.9a0.9 1.4 0 1 1 1.8 0a0.9 1.4 0 1 1 -1.8 0M537.3 953.7a1 2.2 0 1 1 2.1 0a1 2.2 0 1 1 -2.1 0M538.7 954.5a1.3 1.7 0 1 1 2.6 0a1.3 1.7 0 1 1 -2.6 0M539.9 954.7a0.7 1.5 0 1 1 1.4 0a0.7 1.5 0 1 1 -1.4 0M540.8 957.8a1.1 1.5 0 1 1 2.2 0a1.1 1.5 0 1 1 -2.2 0M546.1 959.5a0.7 1.2 0 1 1 1.4 0a0.7 1.2 0 1 1 -1.4 0M542.3 959.7a1.1 1.1 0 1 1 2.2 0a1.1 1.1 0 1 1 -2.2 0M542.9 960.7a1.2 1.6 0 1 1 2.4 0a1.2 1.6 0 1 1 -2.4 0M537.7 961a0.8 2 0 1 1 1.6 0a0.8 2 0 1 1 -1.6 0M542.8 964.9a1.2 1.7 0 1 1 2.4 0a1.2 1.7 0 1 1 -2.4 0M539.4 965.3a1.3 2 0 1 1 2.7 0a1.3 2 0 1 1 -2.7 0M543.7 968.5a1.6 1.6 0 1 1 3.2 0a1.6 1.6 0 1 1 -3.2 0M541.4 969.5a0.6 1.7 0 1 1 1.2 0a0.6 1.7 0 1 1 -1.2 0M542.5 970.5a1.4 1.5 0 1 1 2.8 0a1.4 1.5 0 1 1 -2.8 0M538.9 972.7a1.3 1.5 0 1 1 2.6 0a1.3 1.5 0 1 1 -2.6 0M543.8 973.4a1 1.1 0 1 1 1.9 0a1 1.1 0 1 1 -1.9 0M544.8 973.6a1.3 1.1 0 1 1 2.6 0a1.3 1.1 0 1 1 -2.6 0M547.4 979.6a0.6 2.4 0 1 1 1.2 0a0.6 2.4 0 1 1 -1.2 0M544.9 980.3a1.2 1.5 0 1 1 2.5 0a1.2 1.5 0 1 1 -2.5 0M536.6 980.7a0.7 1.7 0 1 1 1.4 0a0.7 1.7 0 1 1 -1.4 0M543.8 981.6a1.4 1.8 0 1 1 2.8 0a1.4 1.8 0 1 1 -2.8 0M540.5 985.9a1.1 1.3 0 1 1 2.2 0a1.1 1.3 0 1 1 -2.2 0M538.9 986.2a1.2 1.2 0 1 1 2.4 0a1.2 1.2 0 1 1 -2.4 0M542.8 986.9a1.4 2.1 0 1 1 2.8 0a1.4 2.1 0 1 1 -2.8 0M539.5 990.9a0.9 1.9 0 1 1 1.7 0a0.9 1.9 0 1 1 -1.7 0M541.4 992.1a0.9 2.2 0 1 1 1.7 0a0.9 2.2 0 1 1 -1.7 0M539 994.2a1.2 1.6 0 1 1 2.4 0a1.2 1.6 0 1 1 -2.4 0M646.8 304.5a1.2 0.9 0 1 1 2.4 0a1.2 0.9 0 1 1 -2.4 0M647.4 307.3a1 2.1 0 1 1 2 0a1 2.1 0 1 1 -2 0M646.8 315a1.1 2 0 1 1 2.1 0a1.1 2 0 1 1 -2.1 0M646.2 316.1a0.6 2.1 0 1 1 1.3 0a0.6 2.1 0 1 1 -1.3 0M647.5 320.6a0.7 1.4 0 1 1 1.4 0a0.7 1.4 0 1 1 -1.4 0M646.8 321.6a1.2 1.6 0 1 1 2.3 0a1.2 1.6 0 1 1 -2.3 0M646.2 344a0.8 1.8 0 1 1 1.6 0a0.8 1.8 0 1 1 -1.6 0M646.3 344.7a1.2 2.2 0 1 1 2.3 0a1.2 2.2 0 1 1 -2.3 0M646.6 353.1a0.6 0.9 0 1 1 1.3 0a0.6 0.9 0 1 1 -1.3 0M645.5 353.9a1.4 1.3 0 1 1 2.8 0a1.4 1.3 0 1 1 -2.8 0M646.3 365.5a0.9 1.8 0 1 1 1.9 0a0.9 1.8 0 1 1 -1.9 0M647.8 370.5a0.9 1.3 0 1 1 1.7 0a0.9 1.3 0 1 1 -1.7 0M647 372.6a0.8 1.6 0 1 1 1.5 0a0.8 1.6 0 1 1 -1.5 0M645 377.2a1 0.9 0 1 1 2.1 0a1 0.9 0 1 1 -2.1 0M647.6 378.4a0.8 2.1 0 1 1 1.6 0a0.8 2.1 0 1 1 -1.6 0M646.6 380h2.4v4.7h-2.4zM646.3 384.7h3.7v3.3h-3.7zM646.1 393h3.4v3.7h-3.4zM645.8 396.7h3.2v8.3h-3.2zM647.2 380.7a0.9 1.8 0 1 1 1.7 0a0.9 1.8 0 1 1 -1.7 0M647 381.2a1.4 1.9 0 1 1 2.7 0a1.4 1.9 0 1 1 -2.7 0M647.2 381.7a1.6 2.6 0 1 1 3.3 0a1.6 2.6 0 1 1 -3.3 0M644.7 383.1a1.4 1.9 0 1 1 2.8 0a1.4 1.9 0 1 1 -2.8 0M645.8 383.2a1.3 1.8 0 1 1 2.7 0a1.3 1.8 0 1 1 -2.7 0M645.9 383.7a0.9 1.4 0 1 1 1.8 0a0.9 1.4 0 1 1 -1.8 0M646.1 385.6a1.2 1.6 0 1 1 2.3 0a1.2 1.6 0 1 1 -2.3 0M647.6 386.9a1.5 2.3 0 1 1 3 0a1.5 2.3 0 1 1 -3 0M644.8 390.2a1.4 1.4 0 1 1 2.8 0a1.4 1.4 0 1 1 -2.8 0M647.1 390.7a1.3 1.8 0 1 1 2.5 0a1.3 1.8 0 1 1 -2.5 0M645.8 390.7a1.7 1.1 0 1 1 3.4 0a1.7 1.1 0 1 1 -3.4 0M647.3 395.9a1.7 2.1 0 1 1 3.4 0a1.7 2.1 0 1 1 -3.4 0M647.5 397.5a0.9 1.8 0 1 1 1.7 0a0.9 1.8 0 1 1 -1.7 0M643.9 397.9a1 2.1 0 1 1 2 0a1 2.1 0 1 1 -2 0M647.2 398.2a0.7 1.9 0 1 1 1.4 0a0.7 1.9 0 1 1 -1.4 0M643.1 399.3a1.5 1.9 0 1 1 2.9 0a1.5 1.9 0 1 1 -2.9 0M648.6 399.5a1 1.9 0 1 1 2 0a1 1.9 0 1 1 -2 0M645.9 402.3a1.7 1.7 0 1 1 3.4 0a1.7 1.7 0 1 1 -3.4 0M646 403.7a1.4 2.4 0 1 1 2.7 0a1.4 2.4 0 1 1 -2.7 0M645 403.9a1 1.9 0 1 1 2.1 0a1 1.9 0 1 1 -2.1 0M647.3 404.2a0.8 0.9 0 1 1 1.6 0a0.8 0.9 0 1 1 -1.6 0M646.3 405h1.7v7.4h-1.7zM646 412.4h1.9v12.9h-1.9zM646.9 425.3h1.7v5.7h-1.7zM647.5 431h1.5v4.7h-1.5zM646.5 435.7h1.3v6.7h-1.3zM646.7 442.4h1.8v3.6h-1.8zM648.7 405.7a1.3 2.1 0 1 1 2.6 0a1.3 2.1 0 1 1 -2.6 0M646 409a1 1.7 0 1 1 2 0a1 1.7 0 1 1 -2 0M645.9 409.6a0.6 2 0 1 1 1.2 0a0.6 2 0 1 1 -1.2 0M647.9 410.3a1.1 2.1 0 1 1 2.2 0a1.1 2.1 0 1 1 -2.2 0M645.7 410.5a1.2 1.5 0 1 1 2.4 0a1.2 1.5 0 1 1 -2.4 0M645.7 411.2a0.9 1.3 0 1 1 1.7 0a0.9 1.3 0 1 1 -1.7 0M646.2 411.8a1.3 2.3 0 1 1 2.5 0a1.3 2.3 0 1 1 -2.5 0M647.7 412.3a1.3 1.6 0 1 1 2.6 0a1.3 1.6 0 1 1 -2.6 0M647 413.7a0.8 1.3 0 1 1 1.6 0a0.8 1.3 0 1 1 -1.6 0M646.9 414.1a0.7 0.8 0 1 1 1.4 0a0.7 0.8 0 1 1 -1.4 0M646.4 415.9a1.3 0.9 0 1 1 2.7 0a1.3 0.9 0 1 1 -2.7 0M647 416.7a0.9 2.1 0 1 1 1.8 0a0.9 2.1 0 1 1 -1.8 0M645.8 417.6a1.4 1.4 0 1 1 2.8 0a1.4 1.4 0 1 1 -2.8 0M646.6 417.8a1 1.7 0 1 1 2.1 0a1 1.7 0 1 1 -2.1 0M648.6 417.9a1.6 1.7 0 1 1 3.2 0a1.6 1.7 0 1 1 -3.2 0M645.1 419a1.1 1.1 0 1 1 2.2 0a1.1 1.1 0 1 1 -2.2 0M646.3 419.7a0.9 1 0 1 1 1.8 0a0.9 1 0 1 1 -1.8 0M646.2 420.6a0.9 2.1 0 1 1 1.8 0a0.9 2.1 0 1 1 -1.8 0M646.7 421a0.7 0.9 0 1 1 1.3 0a0.7 0.9 0 1 1 -1.3 0M646.3 423.6a1.1 2.3 0 1 1 2.3 0a1.1 2.3 0 1 1 -2.3 0M647.3 425.1a1.2 1.5 0 1 1 2.4 0a1.2 1.5 0 1 1 -2.4 0M647 425.6a1.3 1.1 0 1 1 2.5 0a1.3 1.1 0 1 1 -2.5 0M646.1 426.3a0.8 1.9 0 1 1 1.7 0a0.8 1.9 0 1 1 -1.7 0M645.7 427.1a1.6 1.8 0 1 1 3.2 0a1.6 1.8 0 1 1 -3.2 0M646.3 429.7a0.9 1.7 0 1 1 1.7 0a0.9 1.7 0 1 1 -1.7 0M644.7 432.2a0.7 1.9 0 1 1 1.4 0a0.7 1.9 0 1 1 -1.4 0M646.2 433.4a1.1 1.6 0 1 1 2.2 0a1.1 1.6 0 1 1 -2.2 0M647 433.6a1.1 0.9 0 1 1 2.2 0a1.1 0.9 0 1 1 -2.2 0M648.3 435.8a1.3 1.1 0 1 1 2.5 0a1.3 1.1 0 1 1 -2.5 0M645.2 436.1a0.8 1.2 0 1 1 1.5 0a0.8 1.2 0 1 1 -1.5 0M646.7 436.3a0.6 1.8 0 1 1 1.3 0a0.6 1.8 0 1 1 -1.3 0M647.6 436.7a1.1 2.3 0 1 1 2.1 0a1.1 2.3 0 1 1 -2.1 0M645.6 437.5a1.3 2 0 1 1 2.7 0a1.3 2 0 1 1 -2.7 0M646 437.6a1.2 1 0 1 1 2.4 0a1.2 1 0 1 1 -2.4 0M643.9 437.8a1.4 1.8 0 1 1 2.8 0a1.4 1.8 0 1 1 -2.8 0M645.3 437.9a0.7 0.9 0 1 1 1.4 0a0.7 0.9 0 1 1 -1.4 0M647.8 440.3a1.2 1.2 0 1 1 2.5 0a1.2 1.2 0 1 1 -2.5 0M646.3 443a0.9 0.9 0 1 1 1.7 0a0.9 0.9 0 1 1 -1.7 0M646 459h1.2v13h-1.2zM646.8 472h1.7v6h-1.7zM645.1 464.4a1.1 1.5 0 1 1 2.1 0a1.1 1.5 0 1 1 -2.1 0M644.3 466.6a0.9 2.2 0 1 1 1.7 0a0.9 2.2 0 1 1 -1.7 0M645.5 467.2a0.6 1.8 0 1 1 1.3 0a0.6 1.8 0 1 1 -1.3 0M644.4 471.8a1.4 1.1 0 1 1 2.7 0a1.4 1.1 0 1 1 -2.7 0M646.1 472.6a0.8 1.2 0 1 1 1.6 0a0.8 1.2 0 1 1 -1.6 0M645.9 474.5a0.7 2.1 0 1 1 1.3 0a0.7 2.1 0 1 1 -1.3 0M645.9 477.1a1.4 0.9 0 1 1 2.8 0a1.4 0.9 0 1 1 -2.8 0M646.1 478a0.8 0.8 0 1 1 1.6 0a0.8 0.8 0 1 1 -1.6 0M646.7 478h4.4v3.3h-4.4zM645.1 481.3h4.3v9h-4.3zM645.6 490.3h4.2v5.5h-4.2zM645.4 495.7h4.6v7h-4.6zM646.8 502.8h3.6v5.8h-3.6zM644.1 508.6h4.8v9.5h-4.8zM645.6 518.1h3.9v13.8h-3.9zM646.2 532h3.4v5.9h-3.4zM645.5 537.9h5.1v10.2h-5.1zM645.8 548.1h3.9v11.9h-3.9zM646.1 560h3.8v4.2h-3.8zM645.9 564.2h3.9v3.1h-3.9zM645.1 567.3h4.1v13.7h-4.1zM644.8 580.9h5.1v10.1h-5.1zM646.9 591h3.3v3.9h-3.3zM645 594.9h5.1v5.1h-5.1zM646.5 479.3a1.2 2.2 0 1 1 2.3 0a1.2 2.2 0 1 1 -2.3 0M647.5 479.9a0.7 1.6 0 1 1 1.4 0a0.7 1.6 0 1 1 -1.4 0M647.9 482.5a0.7 2.1 0 1 1 1.4 0a0.7 2.1 0 1 1 -1.4 0M647.5 482.6a1.3 1.8 0 1 1 2.5 0a1.3 1.8 0 1 1 -2.5 0M646.5 483a0.8 2 0 1 1 1.6 0a0.8 2 0 1 1 -1.6 0M647 483.7a1.1 1.4 0 1 1 2.1 0a1.1 1.4 0 1 1 -2.1 0M647.4 485.1a1.2 1.7 0 1 1 2.3 0a1.2 1.7 0 1 1 -2.3 0M646 487.4a0.9 1.9 0 1 1 1.9 0a0.9 1.9 0 1 1 -1.9 0M647.2 489.4a0.9 1.5 0 1 1 1.7 0a0.9 1.5 0 1 1 -1.7 0M647.9 489.9a0.8 1.8 0 1 1 1.6 0a0.8 1.8 0 1 1 -1.6 0M646.7 490.1a0.9 1.9 0 1 1 1.7 0a0.9 1.9 0 1 1 -1.7 0M645.3 490.1a1.5 2.3 0 1 1 3 0a1.5 2.3 0 1 1 -3 0M643.7 490.4a1.3 1.9 0 1 1 2.5 0a1.3 1.9 0 1 1 -2.5 0M647.2 491.1a0.7 0.9 0 1 1 1.4 0a0.7 0.9 0 1 1 -1.4 0M647.4 491.1a1.6 2.5 0 1 1 3.1 0a1.6 2.5 0 1 1 -3.1 0M646.7 494a1 1.4 0 1 1 2.1 0a1 1.4 0 1 1 -2.1 0M646.8 494a0.9 0.9 0 1 1 1.8 0a0.9 0.9 0 1 1 -1.8 0M646.6 494.6a1.6 1.7 0 1 1 3.1 0a1.6 1.7 0 1 1 -3.1 0M649.8 494.9a1.4 2.1 0 1 1 2.8 0a1.4 2.1 0 1 1 -2.8 0M646.2 496.1a1.1 1 0 1 1 2.1 0a1.1 1 0 1 1 -2.1 0M647.4 496.3a1.2 2.2 0 1 1 2.3 0a1.2 2.2 0 1 1 -2.3 0M646 498.3a1.4 2 0 1 1 2.8 0a1.4 2 0 1 1 -2.8 0M644.2 499a1.3 1.8 0 1 1 2.6 0a1.3 1.8 0 1 1 -2.6 0M646.3 501.4a1.2 1.4 0 1 1 2.3 0a1.2 1.4 0 1 1 -2.3 0M648.1 502.3a0.6 1.2 0 1 1 1.3 0a0.6 1.2 0 1 1 -1.3 0M646.3 502.7a0.7 2 0 1 1 1.5 0a0.7 2 0 1 1 -1.5 0M645 502.8a1.3 1.9 0 1 1 2.6 0a1.3 1.9 0 1 1 -2.6 0M641.7 503.3a1.5 1.6 0 1 1 3.1 0a1.5 1.6 0 1 1 -3.1 0M646.1 504.3a1.5 2.5 0 1 1 3 0a1.5 2.5 0 1 1 -3 0M646.5 504.5a1.6 1.2 0 1 1 3.2 0a1.6 1.2 0 1 1 -3.2 0M649.2 506.3a1.4 1.8 0 1 1 2.8 0a1.4 1.8 0 1 1 -2.8 0M650.1 508.4a0.9 1.9 0 1 1 1.9 0a0.9 1.9 0 1 1 -1.9 0M649 508.7a1 2.4 0 1 1 1.9 0a1 2.4 0 1 1 -1.9 0M648.1 511.9a1.4 2.4 0 1 1 2.8 0a1.4 2.4 0 1 1 -2.8 0M648.2 512.1a0.7 1.1 0 1 1 1.5 0a0.7 1.1 0 1 1 -1.5 0M646.7 512.8a0.7 2 0 1 1 1.4 0a0.7 2 0 1 1 -1.4 0M647.4 512.9a1.2 2.5 0 1 1 2.3 0a1.2 2.5 0 1 1 -2.3 0M646.4 513.6a1.5 2.1 0 1 1 3.1 0a1.5 2.1 0 1 1 -3.1 0M646.3 513.9a1.1 2.4 0 1 1 2.3 0a1.1 2.4 0 1 1 -2.3 0M644.7 514a0.8 1.2 0 1 1 1.6 0a0.8 1.2 0 1 1 -1.6 0M645 515.5a0.7 1 0 1 1 1.5 0a0.7 1 0 1 1 -1.5 0M645.6 515.9a1 1.1 0 1 1 2 0a1 1.1 0 1 1 -2 0M648.2 516.8a1.6 1.1 0 1 1 3.2 0a1.6 1.1 0 1 1 -3.2 0M645.7 517.2a1.5 1.8 0 1 1 3 0a1.5 1.8 0 1 1 -3 0M647.5 519.2a1.1 1 0 1 1 2.2 0a1.1 1 0 1 1 -2.2 0M647.5 521.3a1.2 0.9 0 1 1 2.4 0a1.2 0.9 0 1 1 -2.4 0M647.9 522.3a0.8 1.9 0 1 1 1.5 0a0.8 1.9 0 1 1 -1.5 0M647.7 522.9a1.1 1.8 0 1 1 2.2 0a1.1 1.8 0 1 1 -2.2 0M647.5 525.1a1 1.4 0 1 1 2 0a1 1.4 0 1 1 -2 0M646.3 526.2a0.8 1.5 0 1 1 1.7 0a0.8 1.5 0 1 1 -1.7 0M647.1 526.7a1.5 1.6 0 1 1 3 0a1.5 1.6 0 1 1 -3 0M645.1 527a0.7 1.6 0 1 1 1.4 0a0.7 1.6 0 1 1 -1.4 0M648.1 527.2a1 1.2 0 1 1 2 0a1 1.2 0 1 1 -2 0M647.1 527.3a0.8 2.2 0 1 1 1.6 0a0.8 2.2 0 1 1 -1.6 0M648.2 529.1a0.8 1.2 0 1 1 1.5 0a0.8 1.2 0 1 1 -1.5 0M644.3 530a1.1 0.9 0 1 1 2.2 0a1.1 0.9 0 1 1 -2.2 0M647.6 530.2a1 1.1 0 1 1 1.9 0a1 1.1 0 1 1 -1.9 0M646 530.3a1.1 1.2 0 1 1 2.2 0a1.1 1.2 0 1 1 -2.2 0M646.3 534.6a1 2.5 0 1 1 2 0a1 2.5 0 1 1 -2 0M644.5 535.4a0.9 0.9 0 1 1 1.7 0a0.9 0.9 0 1 1 -1.7 0M649.8 536a1.5 1.2 0 1 1 3 0a1.5 1.2 0 1 1 -3 0M643.1 536.8a0.7 1.2 0 1 1 1.3 0a0.7 1.2 0 1 1 -1.3 0M647 538.1a0.7 2.4 0 1 1 1.3 0a0.7 2.4 0 1 1 -1.3 0M644.4 539.3a1.2 1.7 0 1 1 2.4 0a1.2 1.7 0 1 1 -2.4 0M647 541.4a1.5 1.1 0 1 1 3.1 0a1.5 1.1 0 1 1 -3.1 0M647.8 544.6a0.7 1.3 0 1 1 1.4 0a0.7 1.3 0 1 1 -1.4 0M645.5 544.9a0.7 1.6 0 1 1 1.5 0a0.7 1.6 0 1 1 -1.5 0M645 545a1.4 1.5 0 1 1 2.8 0a1.4 1.5 0 1 1 -2.8 0M647.7 545.3a1.4 1 0 1 1 2.8 0a1.4 1 0 1 1 -2.8 0M647.5 545.9a1.6 1.1 0 1 1 3.1 0a1.6 1.1 0 1 1 -3.1 0M649.2 548.6a1 2.2 0 1 1 2 0a1 2.2 0 1 1 -2 0M645.3 549.3a1.5 2.2 0 1 1 3 0a1.5 2.2 0 1 1 -3 0M647.4 549.4a1.2 2 0 1 1 2.5 0a1.2 2 0 1 1 -2.5 0M648.5 549.4a1.4 1.4 0 1 1 2.8 0a1.4 1.4 0 1 1 -2.8 0M645.5 550.8a0.7 2.1 0 1 1 1.5 0a0.7 2.1 0 1 1 -1.5 0M648.3 551.3a1.6 1.2 0 1 1 3.1 0a1.6 1.2 0 1 1 -3.1 0M646 551.6a1.2 2.1 0 1 1 2.3 0a1.2 2.1 0 1 1 -2.3 0M648.9 553.6a1.4 2.1 0 1 1 2.8 0a1.4 2.1 0 1 1 -2.8 0M643.4 554a1.1 1 0 1 1 2.3 0a1.1 1 0 1 1 -2.3 0M646.6 554.4a1.2 1.4 0 1 1 2.4 0a1.2 1.4 0 1 1 -2.4 0M645.3 556.2a1.2 1.5 0 1 1 2.3 0a1.2 1.5 0 1 1 -2.3 0M645.8 556.3a0.9 2.2 0 1 1 1.7 0a0.9 2.2 0 1 1 -1.7 0M645.2 556.6a1.4 1 0 1 1 2.9 0a1.4 1 0 1 1 -2.9 0M647.3 557.6a1 2.1 0 1 1 2 0a1 2.1 0 1 1 -2 0M647.6 558.5a1.2 1.9 0 1 1 2.4 0a1.2 1.9 0 1 1 -2.4 0M647.4 558.5a1.2 2.3 0 1 1 2.4 0a1.2 2.3 0 1 1 -2.4 0M646.3 558.7a0.7 1 0 1 1 1.5 0a0.7 1 0 1 1 -1.5 0M645.6 560.5a1.4 1.8 0 1 1 2.9 0a1.4 1.8 0 1 1 -2.9 0M646 562a1.7 2.4 0 1 1 3.3 0a1.7 2.4 0 1 1 -3.3 0M648.3 562.9a1 1 0 1 1 2 0a1 1 0 1 1 -2 0M645.5 563.3a0.7 1.5 0 1 1 1.5 0a0.7 1.5 0 1 1 -1.5 0M647.1 563.8a1 2.2 0 1 1 2 0a1 2.2 0 1 1 -2 0M648.3 565.3a0.9 2.5 0 1 1 1.8 0a0.9 2.5 0 1 1 -1.8 0M646.5 566.3a1.1 1.9 0 1 1 2.3 0a1.1 1.9 0 1 1 -2.3 0M646.2 566.5a1.4 1 0 1 1 2.7 0a1.4 1 0 1 1 -2.7 0M647.2 567.1a1.7 2.2 0 1 1 3.3 0a1.7 2.2 0 1 1 -3.3 0M648.8 568.3a0.8 1.4 0 1 1 1.5 0a0.8 1.4 0 1 1 -1.5 0M646.8 568.6a1.6 2.5 0 1 1 3.3 0a1.6 2.5 0 1 1 -3.3 0M643.9 568.8a1.6 2.3 0 1 1 3.2 0a1.6 2.3 0 1 1 -3.2 0M643.1 569.9a1.6 2.4 0 1 1 3.2 0a1.6 2.4 0 1 1 -3.2 0M647.3 571.1a1.1 1.8 0 1 1 2.1 0a1.1 1.8 0 1 1 -2.1 0M644.9 571.8a0.7 1.6 0 1 1 1.3 0a0.7 1.6 0 1 1 -1.3 0M642.9 572.8a1.4 1.2 0 1 1 2.8 0a1.4 1.2 0 1 1 -2.8 0M647.5 574.5a0.6 2.4 0 1 1 1.3 0a0.6 2.4 0 1 1 -1.3 0M648.2 576.1a0.9 1.2 0 1 1 1.9 0a0.9 1.2 0 1 1 -1.9 0M646.6 577.4a1.3 2.4 0 1 1 2.6 0a1.3 2.4 0 1 1 -2.6 0M644.2 577.7a1.4 2.5 0 1 1 2.8 0a1.4 2.5 0 1 1 -2.8 0M647.9 578.3a1.4 2.2 0 1 1 2.8 0a1.4 2.2 0 1 1 -2.8 0M648.7 579.3a0.8 0.9 0 1 1 1.6 0a0.8 0.9 0 1 1 -1.6 0M644.7 580.7a0.8 2.3 0 1 1 1.7 0a0.8 2.3 0 1 1 -1.7 0M647.8 580.9a1.3 1.1 0 1 1 2.6 0a1.3 1.1 0 1 1 -2.6 0M648.1 581.1a1.5 2.4 0 1 1 3 0a1.5 2.4 0 1 1 -3 0M643.5 582.1a1.1 1.5 0 1 1 2.2 0a1.1 1.5 0 1 1 -2.2 0M648.6 585.5a1.6 1.4 0 1 1 3.3 0a1.6 1.4 0 1 1 -3.3 0M647.4 585.9a0.7 2.2 0 1 1 1.4 0a0.7 2.2 0 1 1 -1.4 0M647 587.3a1 1.5 0 1 1 2.1 0a1 1.5 0 1 1 -2.1 0M647 588.9a1 2.1 0 1 1 2 0a1 2.1 0 1 1 -2 0M649.1 589a1.1 1.6 0 1 1 2.2 0a1.1 1.6 0 1 1 -2.2 0M646.1 589.6a1.2 2.2 0 1 1 2.4 0a1.2 2.2 0 1 1 -2.4 0M645.6 589.8a0.8 1.3 0 1 1 1.5 0a0.8 1.3 0 1 1 -1.5 0M649.3 590.2a1.4 1.5 0 1 1 2.7 0a1.4 1.5 0 1 1 -2.7 0M643.5 590.8a1.6 1.7 0 1 1 3.3 0a1.6 1.7 0 1 1 -3.3 0M645.9 591.8a1.2 1.6 0 1 1 2.5 0a1.2 1.6 0 1 1 -2.5 0M646.3 593a0.8 1.5 0 1 1 1.7 0a0.8 1.5 0 1 1 -1.7 0M644.5 595.7a1.6 2.2 0 1 1 3.3 0a1.6 2.2 0 1 1 -3.3 0M647.1 596.3a0.8 1.5 0 1 1 1.5 0a0.8 1.5 0 1 1 -1.5 0M644.5 596.7a1.7 1.7 0 1 1 3.3 0a1.7 1.7 0 1 1 -3.3 0M647 596.9a1.3 1.7 0 1 1 2.7 0a1.3 1.7 0 1 1 -2.7 0M644.6 597.5a1.3 0.9 0 1 1 2.5 0a1.3 0.9 0 1 1 -2.5 0M647.8 597.7a1.2 1.6 0 1 1 2.5 0a1.2 1.6 0 1 1 -2.5 0M647.7 600h1.3v11.2h-1.3zM647.6 611.2h1.4v5.2h-1.4zM647.1 616.3h1.3v5.9h-1.3zM646.8 624.4h1.6v10.1h-1.6zM646.4 634.5h1.5v7.8h-1.5zM646.7 643.5h1.5v8.9h-1.5zM646.9 652.4h1.3v12h-1.3zM647.3 664.4h1.3v7.9h-1.3zM646.4 672.3h1.3v13.8h-1.3zM646.7 686.1h1.1v13h-1.1zM647 699.1h1.2v12.9h-1.2zM646.3 712h1.4v10.6h-1.4zM646.2 722.6h1.3v13.1h-1.3zM647.7 737.8h1.1v6.1h-1.1zM646.3 745.4h1.4v9.2h-1.4zM646.1 754.6h1.4v7.3h-1.4zM647 761.9h1.6v5.3h-1.6zM646.8 769.8h1.3v9.7h-1.3zM646.7 779.5h1.5v8.6h-1.5zM646 788.1h1.4v12.1h-1.4zM647.3 805h1.3v6.2h-1.3zM646.9 811.2h1.2v5.8h-1.2zM647.3 819.8h1.1v7.9h-1.1zM646.9 829.8h1.3v6.6h-1.3zM647.1 837.8h1v13.9h-1zM647.6 851.7h1.2v8.8h-1.2zM646.3 860.5h1.1v8.2h-1.1zM646.9 868.7h1.3v9.3h-1.3zM646.9 878h1.1v5.3h-1.1zM647.5 886.1h1.4v6.3h-1.4zM646.1 892.4h1.1v4.4h-1.1zM646.8 896.8h1v12.4h-1zM647.6 909.2h1.2v8h-1.2zM646.7 919h1.3v10.7h-1.3zM646.8 929.7h1.2v12.4h-1.2zM646.1 942.1h1.5v4.2h-1.5zM646.4 948.9h1.2v3.4h-1.2zM646.8 952.4h1.5v9h-1.5zM646.8 964.7h1.6v8.5h-1.6zM647.4 975.5h1.4v3.4h-1.4zM647.3 978.9h1.2v7.2h-1.2zM646.9 986.1h1.5v5.6h-1.5zM647.2 991.7h1.1v2.8h-1.1zM647.4 601.1a1.8 1.8 0 1 1 3.5 0a1.8 1.8 0 1 1 -3.5 0M645.9 602.5a1.2 2.3 0 1 1 2.3 0a1.2 2.3 0 1 1 -2.3 0M644.9 602.5a1.3 1.8 0 1 1 2.6 0a1.3 1.8 0 1 1 -2.6 0M645.5 604.7a1.6 2.9 0 1 1 3.2 0a1.6 2.9 0 1 1 -3.2 0M644.4 605.7a1.9 2.4 0 1 1 3.8 0a1.9 2.4 0 1 1 -3.8 0M646.6 606.6a1.9 2.7 0 1 1 3.7 0a1.9 2.7 0 1 1 -3.7 0M644.9 607.1a1.6 1.4 0 1 1 3.2 0a1.6 1.4 0 1 1 -3.2 0M649.2 607.9a1.6 1.8 0 1 1 3.1 0a1.6 1.8 0 1 1 -3.1 0M646.2 608.8a1.9 2.3 0 1 1 3.8 0a1.9 2.3 0 1 1 -3.8 0M644.8 609.6a1.9 2.3 0 1 1 3.9 0a1.9 2.3 0 1 1 -3.9 0M645.7 614.3a1.5 1.8 0 1 1 3 0a1.5 1.8 0 1 1 -3 0M645.6 617.9a1.6 1.9 0 1 1 3.2 0a1.6 1.9 0 1 1 -3.2 0M645.2 618.3a1.5 2.5 0 1 1 3 0a1.5 2.5 0 1 1 -3 0M644.3 618.8a1.9 2.2 0 1 1 3.7 0a1.9 2.2 0 1 1 -3.7 0M645.6 622.5a1.4 2 0 1 1 2.7 0a1.4 2 0 1 1 -2.7 0M644 623.7a1.6 2.2 0 1 1 3.2 0a1.6 2.2 0 1 1 -3.2 0M645.9 624.1a1.3 1.3 0 1 1 2.7 0a1.3 1.3 0 1 1 -2.7 0M645.6 626.6a1.7 1.5 0 1 1 3.5 0a1.7 1.5 0 1 1 -3.5 0M643.4 630.2a1.1 2.9 0 1 1 2.1 0a1.1 2.9 0 1 1 -2.1 0M646.5 630.5a1.6 1.3 0 1 1 3.3 0a1.6 1.3 0 1 1 -3.3 0M646.5 635.5a1.2 2.5 0 1 1 2.4 0a1.2 2.5 0 1 1 -2.4 0M646.6 636.6a1.7 1.5 0 1 1 3.4 0a1.7 1.5 0 1 1 -3.4 0M646.8 640.5a1.4 1.5 0 1 1 2.7 0a1.4 1.5 0 1 1 -2.7 0M646.1 641.1a1.8 2.8 0 1 1 3.6 0a1.8 2.8 0 1 1 -3.6 0M645.1 642.2a1.4 1.5 0 1 1 2.8 0a1.4 1.5 0 1 1 -2.8 0M645.3 642.8a1.9 3.1 0 1 1 3.9 0a1.9 3.1 0 1 1 -3.9 0M645.7 643a1.6 2.1 0 1 1 3.3 0a1.6 2.1 0 1 1 -3.3 0M647.4 643.4a1.6 2.7 0 1 1 3.2 0a1.6 2.7 0 1 1 -3.2 0M648 644.1a1.5 1.8 0 1 1 3 0a1.5 1.8 0 1 1 -3 0M645.7 645.3a1 2.1 0 1 1 1.9 0a1 2.1 0 1 1 -1.9 0M649.9 648.3a1 2.8 0 1 1 2.1 0a1 2.8 0 1 1 -2.1 0M644.8 648.9a2 1.7 0 1 1 4 0a2 1.7 0 1 1 -4 0M644.4 649.5a1.5 1.8 0 1 1 3 0a1.5 1.8 0 1 1 -3 0M645.7 653a1.9 2.1 0 1 1 3.8 0a1.9 2.1 0 1 1 -3.8 0M647.5 654.1a1.3 2.6 0 1 1 2.6 0a1.3 2.6 0 1 1 -2.6 0M646.3 654.8a1.8 2.6 0 1 1 3.7 0a1.8 2.6 0 1 1 -3.7 0M645.9 655.7a1.7 1.3 0 1 1 3.5 0a1.7 1.3 0 1 1 -3.5 0M644.3 658.6a1.7 2.2 0 1 1 3.4 0a1.7 2.2 0 1 1 -3.4 0M647.6 659.5a1.1 2.2 0 1 1 2.1 0a1.1 2.2 0 1 1 -2.1 0M644.4 659.8a1 2.9 0 1 1 1.9 0a1 2.9 0 1 1 -1.9 0M646.5 660.4a1.7 2.3 0 1 1 3.4 0a1.7 2.3 0 1 1 -3.4 0M643.4 660.7a2 2.6 0 1 1 4 0a2 2.6 0 1 1 -4 0M647.7 665a1.4 3 0 1 1 2.7 0a1.4 3 0 1 1 -2.7 0M646.8 665.3a1 2.2 0 1 1 2 0a1 2.2 0 1 1 -2 0M645.9 666.2a1.3 2.8 0 1 1 2.6 0a1.3 2.8 0 1 1 -2.6 0M646.3 666.5a1.1 3 0 1 1 2.3 0a1.1 3 0 1 1 -2.3 0M645.2 667.3a1.9 3 0 1 1 3.7 0a1.9 3 0 1 1 -3.7 0M647 670.1a1.7 1.5 0 1 1 3.3 0a1.7 1.5 0 1 1 -3.3 0M646.5 670.3a1 2.5 0 1 1 2 0a1 2.5 0 1 1 -2 0M645.3 673.4a1.1 2.5 0 1 1 2.3 0a1.1 2.5 0 1 1 -2.3 0M645.6 673.5a1.8 2.7 0 1 1 3.5 0a1.8 2.7 0 1 1 -3.5 0M647.4 673.8a1.2 2 0 1 1 2.3 0a1.2 2 0 1 1 -2.3 0M646.1 674.1a1.5 1.5 0 1 1 3 0a1.5 1.5 0 1 1 -3 0M646 674.6a1.4 3 0 1 1 2.9 0a1.4 3 0 1 1 -2.9 0M647.4 675.4a1.1 2.5 0 1 1 2.3 0a1.1 2.5 0 1 1 -2.3 0M646.1 677.2a1.5 2.6 0 1 1 3 0a1.5 2.6 0 1 1 -3 0M646 681.5a1.5 3 0 1 1 3 0a1.5 3 0 1 1 -3 0M644 685.8a1.4 3.1 0 1 1 2.8 0a1.4 3.1 0 1 1 -2.8 0M644.4 686.8a1.8 2.9 0 1 1 3.7 0a1.8 2.9 0 1 1 -3.7 0M648 692a1.5 1.4 0 1 1 3.1 0a1.5 1.4 0 1 1 -3.1 0M646.4 692.6a1 2 0 1 1 2.1 0a1 2 0 1 1 -2.1 0M646.2 693.3a1.9 2.3 0 1 1 3.9 0a1.9 2.3 0 1 1 -3.9 0M646.5 694.2a1.3 2.2 0 1 1 2.7 0a1.3 2.2 0 1 1 -2.7 0M647.2 696.1a2 2.8 0 1 1 3.9 0a2 2.8 0 1 1 -3.9 0M644.8 699.1a1.1 1.8 0 1 1 2.3 0a1.1 1.8 0 1 1 -2.3 0M644.1 700.6a1.1 1.6 0 1 1 2.2 0a1.1 1.6 0 1 1 -2.2 0M646.8 700.8a1.4 2.7 0 1 1 2.9 0a1.4 2.7 0 1 1 -2.9 0M645.7 701.8a1 2.2 0 1 1 2 0a1 2.2 0 1 1 -2 0M645.6 703a1.5 2.2 0 1 1 2.9 0a1.5 2.2 0 1 1 -2.9 0M647.3 704.8a1.9 3.1 0 1 1 3.8 0a1.9 3.1 0 1 1 -3.8 0M645.6 707.2a1.1 1.6 0 1 1 2.3 0a1.1 1.6 0 1 1 -2.3 0M646.5 708.4a1.8 1.8 0 1 1 3.6 0a1.8 1.8 0 1 1 -3.6 0M645.7 709.1a1.5 2.6 0 1 1 3.1 0a1.5 2.6 0 1 1 -3.1 0M646.1 709.4a1.2 2.7 0 1 1 2.4 0a1.2 2.7 0 1 1 -2.4 0M645.9 710.2a1.1 2.4 0 1 1 2.1 0a1.1 2.4 0 1 1 -2.1 0M647.4 710.8a1.5 1.3 0 1 1 2.9 0a1.5 1.3 0 1 1 -2.9 0M645.8 711a1.6 1.6 0 1 1 3.2 0a1.6 1.6 0 1 1 -3.2 0M646.2 711.2a1.3 1.9 0 1 1 2.5 0a1.3 1.9 0 1 1 -2.5 0M644.3 712.4a1.5 1.5 0 1 1 3.1 0a1.5 1.5 0 1 1 -3.1 0M647.8 716.5a1.5 1.3 0 1 1 3 0a1.5 1.3 0 1 1 -3 0M647.1 718a1 2.3 0 1 1 1.9 0a1 2.3 0 1 1 -1.9 0M646.1 720.4a1.8 2.9 0 1 1 3.6 0a1.8 2.9 0 1 1 -3.6 0M645.9 724.1a1.9 1.3 0 1 1 3.7 0a1.9 1.3 0 1 1 -3.7 0M646.7 729.3a1.3 3 0 1 1 2.6 0a1.3 3 0 1 1 -2.6 0M647.6 730.3a1.7 2.3 0 1 1 3.5 0a1.7 2.3 0 1 1 -3.5 0M646.7 730.5a1.4 3.1 0 1 1 2.9 0a1.4 3.1 0 1 1 -2.9 0M644.9 732.5a1.1 1.9 0 1 1 2.2 0a1.1 1.9 0 1 1 -2.2 0M649.6 732.9a1.6 2.6 0 1 1 3.2 0a1.6 2.6 0 1 1 -3.2 0M645.7 735a1.8 2.1 0 1 1 3.7 0a1.8 2.1 0 1 1 -3.7 0M646.5 736.5a1.1 2.3 0 1 1 2.3 0a1.1 2.3 0 1 1 -2.3 0M646.7 739.3a1.2 1.6 0 1 1 2.5 0a1.2 1.6 0 1 1 -2.5 0M645.9 739.6a1.7 1.5 0 1 1 3.3 0a1.7 1.5 0 1 1 -3.3 0M647.5 740.5a1.5 1.6 0 1 1 3 0a1.5 1.6 0 1 1 -3 0M648.9 741.7a1.6 1.4 0 1 1 3.2 0a1.6 1.4 0 1 1 -3.2 0M645.7 742.1a1.2 1.4 0 1 1 2.5 0a1.2 1.4 0 1 1 -2.5 0M645.5 743.6a2 2.3 0 1 1 4 0a2 2.3 0 1 1 -4 0M646.5 744a1.9 2.6 0 1 1 3.9 0a1.9 2.6 0 1 1 -3.9 0M646.4 744.5a1.3 3.1 0 1 1 2.6 0a1.3 3.1 0 1 1 -2.6 0M645.7 745.3a1.5 1.4 0 1 1 3.1 0a1.5 1.4 0 1 1 -3.1 0M645.5 745.9a2 2.1 0 1 1 4 0a2 2.1 0 1 1 -4 0M646.1 746.4a1.3 2.6 0 1 1 2.6 0a1.3 2.6 0 1 1 -2.6 0M647.3 746.8a1 2.7 0 1 1 2 0a1 2.7 0 1 1 -2 0M647.9 747.3a1.5 1.4 0 1 1 3 0a1.5 1.4 0 1 1 -3 0M644.1 749.3a1 1.8 0 1 1 1.9 0a1 1.8 0 1 1 -1.9 0M648 750.2a1.2 1.6 0 1 1 2.3 0a1.2 1.6 0 1 1 -2.3 0M645 756.8a1.1 2.5 0 1 1 2.1 0a1.1 2.5 0 1 1 -2.1 0M643.1 756.8a1.9 1.9 0 1 1 3.8 0a1.9 1.9 0 1 1 -3.8 0M645.4 761.5a1.8 2.5 0 1 1 3.5 0a1.8 2.5 0 1 1 -3.5 0M647.2 766.9a1.3 1.3 0 1 1 2.6 0a1.3 1.3 0 1 1 -2.6 0M644.9 767a1 2.4 0 1 1 2 0a1 2.4 0 1 1 -2 0M646.5 767.8a1.1 1.9 0 1 1 2.2 0a1.1 1.9 0 1 1 -2.2 0M646 768.3a1.9 3.1 0 1 1 3.7 0a1.9 3.1 0 1 1 -3.7 0M645.9 768.6a1.4 2.2 0 1 1 2.9 0a1.4 2.2 0 1 1 -2.9 0M645.7 770.8a1.2 2.8 0 1 1 2.4 0a1.2 2.8 0 1 1 -2.4 0M646.4 772.2a1.8 3.1 0 1 1 3.6 0a1.8 3.1 0 1 1 -3.6 0M648 774.1a1.3 2.6 0 1 1 2.6 0a1.3 2.6 0 1 1 -2.6 0M647.1 775.5a1.2 2.1 0 1 1 2.5 0a1.2 2.1 0 1 1 -2.5 0M647.4 779.8a1 1.6 0 1 1 2 0a1 1.6 0 1 1 -2 0M647.7 780a1.8 2.9 0 1 1 3.7 0a1.8 2.9 0 1 1 -3.7 0M644.2 781.7a1.5 2 0 1 1 2.9 0a1.5 2 0 1 1 -2.9 0M643 782.2a1.9 1.9 0 1 1 3.8 0a1.9 1.9 0 1 1 -3.8 0M646 784.7a1.6 3.1 0 1 1 3.3 0a1.6 3.1 0 1 1 -3.3 0M645.2 785.9a1.6 2.6 0 1 1 3.3 0a1.6 2.6 0 1 1 -3.3 0M648 788.6a1.1 2.9 0 1 1 2.2 0a1.1 2.9 0 1 1 -2.2 0M647.1 789.2a1.2 3.1 0 1 1 2.3 0a1.2 3.1 0 1 1 -2.3 0M647.1 789.3a1 2.3 0 1 1 1.9 0a1 2.3 0 1 1 -1.9 0M647.8 790.4a1.1 3.1 0 1 1 2.2 0a1.1 3.1 0 1 1 -2.2 0M644.6 791.3a1.1 1.7 0 1 1 2.2 0a1.1 1.7 0 1 1 -2.2 0M648.7 801.1a1 1.8 0 1 1 2 0a1 1.8 0 1 1 -2 0M646.1 802a1.7 2.3 0 1 1 3.4 0a1.7 2.3 0 1 1 -3.4 0M647.5 802.3a1 1.4 0 1 1 2 0a1 1.4 0 1 1 -2 0M645.4 807.1a1.6 2.2 0 1 1 3.2 0a1.6 2.2 0 1 1 -3.2 0M647.1 809.8a1.7 2.2 0 1 1 3.4 0a1.7 2.2 0 1 1 -3.4 0M645.5 810.4a1.5 1.8 0 1 1 3 0a1.5 1.8 0 1 1 -3 0M645.7 810.4a1.4 2.3 0 1 1 2.9 0a1.4 2.3 0 1 1 -2.9 0M646.1 813.4a1.9 2.1 0 1 1 3.8 0a1.9 2.1 0 1 1 -3.8 0M647.4 816.1a1 2.8 0 1 1 2 0a1 2.8 0 1 1 -2 0M647.3 819.8a1.1 2.8 0 1 1 2.3 0a1.1 2.8 0 1 1 -2.3 0M644.1 820.9a1.4 3 0 1 1 2.9 0a1.4 3 0 1 1 -2.9 0M646.8 821.6a1.5 2.1 0 1 1 3 0a1.5 2.1 0 1 1 -3 0M645.4 824.3a1.3 2.5 0 1 1 2.6 0a1.3 2.5 0 1 1 -2.6 0M645.1 826.6a1.8 1.7 0 1 1 3.6 0a1.8 1.7 0 1 1 -3.6 0M644.2 831.6a1.6 2.8 0 1 1 3.2 0a1.6 2.8 0 1 1 -3.2 0M646 831.9a1.9 1.9 0 1 1 3.8 0a1.9 1.9 0 1 1 -3.8 0M648.1 834.4a1 1.3 0 1 1 2 0a1 1.3 0 1 1 -2 0M646.8 835.4a1.3 1.3 0 1 1 2.5 0a1.3 1.3 0 1 1 -2.5 0M643.4 843.3a1.7 1.9 0 1 1 3.3 0a1.7 1.9 0 1 1 -3.3 0M643.6 844.3a1.9 2.3 0 1 1 3.7 0a1.9 2.3 0 1 1 -3.7 0M646.9 844.6a1.3 2.2 0 1 1 2.5 0a1.3 2.2 0 1 1 -2.5 0M647.1 845.1a1.2 2.7 0 1 1 2.4 0a1.2 2.7 0 1 1 -2.4 0M646.2 845.5a1 1.4 0 1 1 2 0a1 1.4 0 1 1 -2 0M647.6 845.9a1.2 2.8 0 1 1 2.4 0a1.2 2.8 0 1 1 -2.4 0M645 849a1 1.5 0 1 1 1.9 0a1 1.5 0 1 1 -1.9 0M646.3 849.2a1.8 2.7 0 1 1 3.6 0a1.8 2.7 0 1 1 -3.6 0M646 851.2a2 1.6 0 1 1 3.9 0a2 1.6 0 1 1 -3.9 0M647.3 852.5a1.6 1.8 0 1 1 3.3 0a1.6 1.8 0 1 1 -3.3 0M646.1 853.4a1.9 2.3 0 1 1 3.8 0a1.9 2.3 0 1 1 -3.8 0M645.8 854.2a1.6 1.3 0 1 1 3.3 0a1.6 1.3 0 1 1 -3.3 0M644.9 855.7a2 2.3 0 1 1 4 0a2 2.3 0 1 1 -4 0M647.7 856.8a1.2 3.1 0 1 1 2.4 0a1.2 3.1 0 1 1 -2.4 0M646.7 860.9a1.5 1.8 0 1 1 3 0a1.5 1.8 0 1 1 -3 0M644.5 862.2a1.4 3 0 1 1 2.8 0a1.4 3 0 1 1 -2.8 0M647.9 863.9a1.1 2.6 0 1 1 2.2 0a1.1 2.6 0 1 1 -2.2 0M647.6 866.3a0.9 2.5 0 1 1 1.9 0a0.9 2.5 0 1 1 -1.9 0M646.2 867.9a1.6 2.3 0 1 1 3.3 0a1.6 2.3 0 1 1 -3.3 0M645 870.2a1.9 1.4 0 1 1 3.8 0a1.9 1.4 0 1 1 -3.8 0M648.4 872.1a1.6 2.4 0 1 1 3.2 0a1.6 2.4 0 1 1 -3.2 0M644 872.9a1.6 1.9 0 1 1 3.2 0a1.6 1.9 0 1 1 -3.2 0M644.6 874a1.7 2.8 0 1 1 3.4 0a1.7 2.8 0 1 1 -3.4 0M645.7 875.9a1.4 2.7 0 1 1 2.9 0a1.4 2.7 0 1 1 -2.9 0M646.3 878.9a1.3 2.2 0 1 1 2.6 0a1.3 2.2 0 1 1 -2.6 0M646 879.1a1.1 1.8 0 1 1 2.2 0a1.1 1.8 0 1 1 -2.2 0M646.1 884.6a1.2 1.7 0 1 1 2.3 0a1.2 1.7 0 1 1 -2.3 0M647.3 885.8a1.6 1.7 0 1 1 3.3 0a1.6 1.7 0 1 1 -3.3 0M642.3 889a0.9 3.1 0 1 1 1.9 0a0.9 3.1 0 1 1 -1.9 0M646.5 892.5a1.3 1.6 0 1 1 2.6 0a1.3 1.6 0 1 1 -2.6 0M645.5 892.7a1.1 3.1 0 1 1 2.1 0a1.1 3.1 0 1 1 -2.1 0M644.9 892.8a1.9 2.5 0 1 1 3.8 0a1.9 2.5 0 1 1 -3.8 0M647 894.9a1.1 2.8 0 1 1 2.3 0a1.1 2.8 0 1 1 -2.3 0M646.9 896.1a1.6 3.1 0 1 1 3.3 0a1.6 3.1 0 1 1 -3.3 0M645.8 896.9a1.1 1.6 0 1 1 2.1 0a1.1 1.6 0 1 1 -2.1 0M649.9 897a1.2 2.3 0 1 1 2.3 0a1.2 2.3 0 1 1 -2.3 0M645 900.6a1.1 1.8 0 1 1 2.3 0a1.1 1.8 0 1 1 -2.3 0M648.3 900.7a1.5 2.2 0 1 1 2.9 0a1.5 2.2 0 1 1 -2.9 0M646.4 900.9a1 1.8 0 1 1 1.9 0a1 1.8 0 1 1 -1.9 0M645.9 901.4a1.7 2 0 1 1 3.4 0a1.7 2 0 1 1 -3.4 0M645.4 902.6a1.5 2.6 0 1 1 3.1 0a1.5 2.6 0 1 1 -3.1 0M643.3 904.7a1.4 2.2 0 1 1 2.8 0a1.4 2.2 0 1 1 -2.8 0M645.8 908.4a1.8 2.1 0 1 1 3.5 0a1.8 2.1 0 1 1 -3.5 0M647 910.3a1.7 2.3 0 1 1 3.4 0a1.7 2.3 0 1 1 -3.4 0M645.6 910.7a1.2 1.7 0 1 1 2.5 0a1.2 1.7 0 1 1 -2.5 0M646 910.7a1.8 2.5 0 1 1 3.6 0a1.8 2.5 0 1 1 -3.6 0M646.7 910.9a1.7 2.7 0 1 1 3.3 0a1.7 2.7 0 1 1 -3.3 0M645.6 912.7a1.8 2.9 0 1 1 3.6 0a1.8 2.9 0 1 1 -3.6 0M645.5 913.4a2 3.1 0 1 1 4 0a2 3.1 0 1 1 -4 0M647.1 916a1.8 1.6 0 1 1 3.6 0a1.8 1.6 0 1 1 -3.6 0M646.5 918.7a1.3 2.8 0 1 1 2.6 0a1.3 2.8 0 1 1 -2.6 0M645.5 919.4a1.4 2.6 0 1 1 2.8 0a1.4 2.6 0 1 1 -2.8 0M645.9 920.8a1.1 2.4 0 1 1 2.3 0a1.1 2.4 0 1 1 -2.3 0M646.6 921.2a1.7 2.4 0 1 1 3.5 0a1.7 2.4 0 1 1 -3.5 0M645.9 922.2a1.5 2.5 0 1 1 3 0a1.5 2.5 0 1 1 -3 0M646.1 927.4a1.6 1.6 0 1 1 3.3 0a1.6 1.6 0 1 1 -3.3 0M645.5 929.8a1.5 2.4 0 1 1 2.9 0a1.5 2.4 0 1 1 -2.9 0M646.1 932.6a2 3 0 1 1 4 0a2 3 0 1 1 -4 0M646.7 934.3a1.6 2.3 0 1 1 3.1 0a1.6 2.3 0 1 1 -3.1 0M646 934.4a1.6 1.4 0 1 1 3.2 0a1.6 1.4 0 1 1 -3.2 0M643.6 934.5a2 2.8 0 1 1 4 0a2 2.8 0 1 1 -4 0M646.2 935a1.6 2.3 0 1 1 3.2 0a1.6 2.3 0 1 1 -3.2 0M644.8 936.3a1.7 2.5 0 1 1 3.5 0a1.7 2.5 0 1 1 -3.5 0M646.2 940.1a1.8 1.5 0 1 1 3.6 0a1.8 1.5 0 1 1 -3.6 0M647.1 941a1.2 1.3 0 1 1 2.3 0a1.2 1.3 0 1 1 -2.3 0M643.8 946.4a1.3 2.4 0 1 1 2.6 0a1.3 2.4 0 1 1 -2.6 0M644.5 947.1a1.9 1.9 0 1 1 3.8 0a1.9 1.9 0 1 1 -3.8 0M644.2 947.9a2 2.2 0 1 1 4 0a2 2.2 0 1 1 -4 0M648.6 952.9a1.1 2.2 0 1 1 2.1 0a1.1 2.2 0 1 1 -2.1 0M646.4 953a1.6 2.6 0 1 1 3.1 0a1.6 2.6 0 1 1 -3.1 0M645.8 954.1a1.2 3 0 1 1 2.4 0a1.2 3 0 1 1 -2.4 0M646.2 955.2a1.8 2.8 0 1 1 3.6 0a1.8 2.8 0 1 1 -3.6 0M645.5 956.6a1.8 1.8 0 1 1 3.7 0a1.8 1.8 0 1 1 -3.7 0M646.8 956.6a1.6 2.8 0 1 1 3.2 0a1.6 2.8 0 1 1 -3.2 0M646.3 960a1.2 3.1 0 1 1 2.3 0a1.2 3.1 0 1 1 -2.3 0M646.2 961.9a1.7 1.7 0 1 1 3.4 0a1.7 1.7 0 1 1 -3.4 0M645.3 962a1.9 1.7 0 1 1 3.9 0a1.9 1.7 0 1 1 -3.9 0M644.5 966.1a1.7 1.7 0 1 1 3.5 0a1.7 1.7 0 1 1 -3.5 0M645.1 966.4a1.5 1.7 0 1 1 3.1 0a1.5 1.7 0 1 1 -3.1 0M646.7 966.8a1 1.5 0 1 1 1.9 0a1 1.5 0 1 1 -1.9 0M644.6 967.6a1.2 1.6 0 1 1 2.4 0a1.2 1.6 0 1 1 -2.4 0M645.7 969.6a1.7 2.1 0 1 1 3.4 0a1.7 2.1 0 1 1 -3.4 0M647.4 970.1a1.8 2 0 1 1 3.6 0a1.8 2 0 1 1 -3.6 0M645.5 971.8a1.5 2.7 0 1 1 3 0a1.5 2.7 0 1 1 -3 0M645.9 974a1.1 2 0 1 1 2.2 0a1.1 2 0 1 1 -2.2 0M647.8 974.1a1.1 2.3 0 1 1 2.3 0a1.1 2.3 0 1 1 -2.3 0M645.3 975.7a1.6 1.6 0 1 1 3.2 0a1.6 1.6 0 1 1 -3.2 0M644.9 976.2a1 2.2 0 1 1 1.9 0a1 2.2 0 1 1 -1.9 0M646.7 977.1a1 2.3 0 1 1 2 0a1 2.3 0 1 1 -2 0M644.7 978.6a1.3 3 0 1 1 2.5 0a1.3 3 0 1 1 -2.5 0M647.1 982.5a1.4 2.3 0 1 1 2.9 0a1.4 2.3 0 1 1 -2.9 0M645.2 985.2a1.1 3.1 0 1 1 2.2 0a1.1 3.1 0 1 1 -2.2 0M645.2 986a1.6 1.4 0 1 1 3.2 0a1.6 1.4 0 1 1 -3.2 0M645.1 986.2a1.9 2.9 0 1 1 3.7 0a1.9 2.9 0 1 1 -3.7 0M647.2 988.2a1 2.7 0 1 1 2 0a1 2.7 0 1 1 -2 0M647.6 988.5a1.4 1.4 0 1 1 2.8 0a1.4 1.4 0 1 1 -2.8 0M647.3 990.2a1.9 1.6 0 1 1 3.7 0a1.9 1.6 0 1 1 -3.7 0M647.2 990.7a1 1.4 0 1 1 1.9 0a1 1.4 0 1 1 -1.9 0M647.4 991a1 2.8 0 1 1 2.1 0a1 2.8 0 1 1 -2.1 0M645.7 991.2a0.9 1.8 0 1 1 1.9 0a0.9 1.8 0 1 1 -1.9 0M646.2 992.2a0.9 2.9 0 1 1 1.9 0a0.9 2.9 0 1 1 -1.9 0M645.5 994a1.9 2.4 0 1 1 3.8 0a1.9 2.4 0 1 1 -3.8 0M646 994.4a2 3.1 0 1 1 4 0a2 3.1 0 1 1 -4 0M877.4 292.5h5.8v6.2h-5.8zM877.3 298.7h6.4v13.9h-6.4zM877.4 312.6h5.7v3.9h-5.7zM877.2 316.6h6v5.6h-6zM876.9 322.2h5.6v6.7h-5.6zM876.6 328.8h7.7v11.3h-7.7zM876.6 340.1h6.8v11.7h-6.8zM875.7 351.8h6.8v4.2h-6.8zM876.4 356h6.9v5h-6.9zM875.9 361h7.8v12.9h-7.8zM877.7 373.9h5.1v8.8h-5.1zM877.4 382.7h6.1v7h-6.1zM875.2 389.7h8v8.7h-8zM875.7 398.3h8v3.1h-8zM876.8 401.4h6.7v4.7h-6.7zM875.4 406.1h7.8v9.5h-7.8zM875.7 415.6h8v7.9h-8zM877.1 423.5h5.2v6.5h-5.2zM878.4 292.9a0.9 1.6 0 1 1 1.8 0a0.9 1.6 0 1 1 -1.8 0M877.7 293.1a0.9 2.1 0 1 1 1.9 0a0.9 2.1 0 1 1 -1.9 0M879.2 294.3a1.1 1.3 0 1 1 2.2 0a1.1 1.3 0 1 1 -2.2 0M878.9 294.7a0.9 2.5 0 1 1 1.7 0a0.9 2.5 0 1 1 -1.7 0M878.6 295a1.3 1 0 1 1 2.6 0a1.3 1 0 1 1 -2.6 0M876.8 296.4a1.6 1.4 0 1 1 3.2 0a1.6 1.4 0 1 1 -3.2 0M876.7 297.4a1.6 1.4 0 1 1 3.2 0a1.6 1.4 0 1 1 -3.2 0M878.2 297.5a1.3 1.8 0 1 1 2.6 0a1.3 1.8 0 1 1 -2.6 0M881.7 298.6a0.9 1.6 0 1 1 1.9 0a0.9 1.6 0 1 1 -1.9 0M878.6 300a1.2 1.4 0 1 1 2.4 0a1.2 1.4 0 1 1 -2.4 0M881.1 301.9a0.9 2.3 0 1 1 1.8 0a0.9 2.3 0 1 1 -1.8 0M877.8 302.3a1.3 2.4 0 1 1 2.5 0a1.3 2.4 0 1 1 -2.5 0M879.2 302.5a1.6 1.2 0 1 1 3.1 0a1.6 1.2 0 1 1 -3.1 0M876.5 303.5a1.3 1.5 0 1 1 2.6 0a1.3 1.5 0 1 1 -2.6 0M878.1 304.6a1.5 2.2 0 1 1 3.1 0a1.5 2.2 0 1 1 -3.1 0M876.1 304.8a0.7 1.8 0 1 1 1.4 0a0.7 1.8 0 1 1 -1.4 0M879.5 304.9a1 2.2 0 1 1 2.1 0a1 2.2 0 1 1 -2.1 0M877.6 305a1.7 1.7 0 1 1 3.4 0a1.7 1.7 0 1 1 -3.4 0M875.5 305.4a0.7 1.9 0 1 1 1.4 0a0.7 1.9 0 1 1 -1.4 0M873.7 307.7a1.3 1.3 0 1 1 2.6 0a1.3 1.3 0 1 1 -2.6 0M879.2 308.2a1.7 1.2 0 1 1 3.4 0a1.7 1.2 0 1 1 -3.4 0M880.5 308.9a1.2 2.5 0 1 1 2.4 0a1.2 2.5 0 1 1 -2.4 0M871.5 309.9a1.7 1.2 0 1 1 3.3 0a1.7 1.2 0 1 1 -3.3 0M882.6 310.3a1.2 1.9 0 1 1 2.4 0a1.2 1.9 0 1 1 -2.4 0M876 310.4a1.1 1.4 0 1 1 2.2 0a1.1 1.4 0 1 1 -2.2 0M875.4 311.1a0.8 1.3 0 1 1 1.6 0a0.8 1.3 0 1 1 -1.6 0M875.6 315.6a1.2 2.4 0 1 1 2.3 0a1.2 2.4 0 1 1 -2.3 0M879.9 315.8a1.4 1.9 0 1 1 2.8 0a1.4 1.9 0 1 1 -2.8 0M880.7 315.9a1 2.2 0 1 1 1.9 0a1 2.2 0 1 1 -1.9 0M877.3 319.9a1.2 1.6 0 1 1 2.4 0a1.2 1.6 0 1 1 -2.4 0M879.1 319.9a0.7 1.4 0 1 1 1.4 0a0.7 1.4 0 1 1 -1.4 0M874.4 320a0.8 2.3 0 1 1 1.6 0a0.8 2.3 0 1 1 -1.6 0M879.6 323a0.7 1.1 0 1 1 1.3 0a0.7 1.1 0 1 1 -1.3 0M879.5 325.1a1.5 1.2 0 1 1 3 0a1.5 1.2 0 1 1 -3 0M878.8 328.1a1.7 1.7 0 1 1 3.5 0a1.7 1.7 0 1 1 -3.5 0M879.4 328.6a1.7 2.6 0 1 1 3.3 0a1.7 2.6 0 1 1 -3.3 0M876 329.2a1.7 1.4 0 1 1 3.4 0a1.7 1.4 0 1 1 -3.4 0M878.2 329.7a1.1 2 0 1 1 2.2 0a1.1 2 0 1 1 -2.2 0M877.8 332a1.1 1.9 0 1 1 2.2 0a1.1 1.9 0 1 1 -2.2 0M877.1 332.3a1.5 1.4 0 1 1 3 0a1.5 1.4 0 1 1 -3 0M874.9 332.9a1.2 1.7 0 1 1 2.3 0a1.2 1.7 0 1 1 -2.3 0M880 333.8a0.8 1.8 0 1 1 1.6 0a0.8 1.8 0 1 1 -1.6 0M880.2 335.6a0.9 1.7 0 1 1 1.8 0a0.9 1.7 0 1 1 -1.8 0M879.9 335.8a1.4 1.5 0 1 1 2.9 0a1.4 1.5 0 1 1 -2.9 0M879.6 335.9a1 1.8 0 1 1 2 0a1 1.8 0 1 1 -2 0M880.6 336.1a1.5 1.5 0 1 1 3 0a1.5 1.5 0 1 1 -3 0M880.5 336.8a1.1 1.5 0 1 1 2.1 0a1.1 1.5 0 1 1 -2.1 0M879.3 338.4a1.1 2.2 0 1 1 2.1 0a1.1 2.2 0 1 1 -2.1 0M882.4 339.2a1.1 1.2 0 1 1 2.3 0a1.1 1.2 0 1 1 -2.3 0M880.5 341a1 1.5 0 1 1 2 0a1 1.5 0 1 1 -2 0M876.9 341.3a1.7 0.9 0 1 1 3.4 0a1.7 0.9 0 1 1 -3.4 0M876.7 341.8a1.5 1.6 0 1 1 2.9 0a1.5 1.6 0 1 1 -2.9 0M877.5 343.5a0.9 2.1 0 1 1 1.8 0a0.9 2.1 0 1 1 -1.8 0M878.9 343.6a1 2.5 0 1 1 2.1 0a1 2.5 0 1 1 -2.1 0M873.9 344.1a1.7 1.8 0 1 1 3.5 0a1.7 1.8 0 1 1 -3.5 0M876.7 344.4a1.4 2.2 0 1 1 2.9 0a1.4 2.2 0 1 1 -2.9 0M876.7 345.4a0.9 2 0 1 1 1.8 0a0.9 2 0 1 1 -1.8 0M880.4 346.3a0.7 2.6 0 1 1 1.4 0a0.7 2.6 0 1 1 -1.4 0M881.2 346.5a1.3 1.4 0 1 1 2.6 0a1.3 1.4 0 1 1 -2.6 0M882.7 347.5a1.4 1.8 0 1 1 2.8 0a1.4 1.8 0 1 1 -2.8 0M873.8 347.6a0.7 2.4 0 1 1 1.4 0a0.7 2.4 0 1 1 -1.4 0M880.2 348.8a0.9 1.4 0 1 1 1.8 0a0.9 1.4 0 1 1 -1.8 0M882.2 350.6a0.7 2.3 0 1 1 1.3 0a0.7 2.3 0 1 1 -1.3 0M879.7 351.4a1.5 1.2 0 1 1 3 0a1.5 1.2 0 1 1 -3 0M880.7 351.8a0.8 1.3 0 1 1 1.7 0a0.8 1.3 0 1 1 -1.7 0M880.8 352a1 1.1 0 1 1 2.1 0a1 1.1 0 1 1 -2.1 0M880.9 353.2a0.8 2.1 0 1 1 1.6 0a0.8 2.1 0 1 1 -1.6 0M880.9 354a0.8 1.2 0 1 1 1.5 0a0.8 1.2 0 1 1 -1.5 0M881.8 355.5a1.5 2.3 0 1 1 3 0a1.5 2.3 0 1 1 -3 0M880.8 355.8a1 2 0 1 1 2.1 0a1 2 0 1 1 -2.1 0M874.2 356.6a1.3 1.4 0 1 1 2.6 0a1.3 1.4 0 1 1 -2.6 0M879.9 356.8a1.7 1 0 1 1 3.3 0a1.7 1 0 1 1 -3.3 0M877.5 357.2a1.4 1.1 0 1 1 2.8 0a1.4 1.1 0 1 1 -2.8 0M876.3 359a1.3 1.8 0 1 1 2.6 0a1.3 1.8 0 1 1 -2.6 0M873.7 359.5a1 1.2 0 1 1 2 0a1 1.2 0 1 1 -2 0M883.7 360.6a1.3 1.2 0 1 1 2.7 0a1.3 1.2 0 1 1 -2.7 0M877.4 360.7a1.6 2.2 0 1 1 3.2 0a1.6 2.2 0 1 1 -3.2 0M881 360.9a0.7 2.1 0 1 1 1.5 0a0.7 2.1 0 1 1 -1.5 0M876.6 361a1.6 1.2 0 1 1 3.2 0a1.6 1.2 0 1 1 -3.2 0M878.7 361.5a1.2 2.5 0 1 1 2.3 0a1.2 2.5 0 1 1 -2.3 0M880.4 361.9a1.6 2.5 0 1 1 3.1 0a1.6 2.5 0 1 1 -3.1 0M879.8 361.9a1.4 2.2 0 1 1 2.9 0a1.4 2.2 0 1 1 -2.9 0M874.2 362.1a1.7 2.3 0 1 1 3.4 0a1.7 2.3 0 1 1 -3.4 0M882.1 363.5a1.5 1.1 0 1 1 3.1 0a1.5 1.1 0 1 1 -3.1 0M882.1 364.3a1.3 1.7 0 1 1 2.7 0a1.3 1.7 0 1 1 -2.7 0M879.9 364.4a1.2 1.1 0 1 1 2.4 0a1.2 1.1 0 1 1 -2.4 0M879.7 364.6a0.7 2 0 1 1 1.3 0a0.7 2 0 1 1 -1.3 0M873.4 365.6a1.4 2.5 0 1 1 2.8 0a1.4 2.5 0 1 1 -2.8 0M880.4 365.8a1.1 1.2 0 1 1 2.3 0a1.1 1.2 0 1 1 -2.3 0M876.7 366.1a0.9 1.9 0 1 1 1.7 0a0.9 1.9 0 1 1 -1.7 0M879.6 366.4a0.8 2 0 1 1 1.6 0a0.8 2 0 1 1 -1.6 0M881 366.9a1.5 1.9 0 1 1 3 0a1.5 1.9 0 1 1 -3 0M873.5 367.5a1.2 1.2 0 1 1 2.5 0a1.2 1.2 0 1 1 -2.5 0M878.7 367.8a0.9 1.1 0 1 1 1.7 0a0.9 1.1 0 1 1 -1.7 0M880.2 368.1a1.5 2.2 0 1 1 3.1 0a1.5 2.2 0 1 1 -3.1 0M880.8 369.8a1.7 1 0 1 1 3.4 0a1.7 1 0 1 1 -3.4 0M881.2 369.8a0.9 2.5 0 1 1 1.7 0a0.9 2.5 0 1 1 -1.7 0M879.3 369.9a1.6 1.4 0 1 1 3.2 0a1.6 1.4 0 1 1 -3.2 0M878.7 370.2a1.1 2 0 1 1 2.2 0a1.1 2 0 1 1 -2.2 0M874.9 370.2a1.5 2 0 1 1 3.1 0a1.5 2 0 1 1 -3.1 0M880.7 370.2a0.9 1.9 0 1 1 1.8 0a0.9 1.9 0 1 1 -1.8 0M876.4 370.8a1.5 2.6 0 1 1 3 0a1.5 2.6 0 1 1 -3 0M877.2 371.5a1.2 1.3 0 1 1 2.5 0a1.2 1.3 0 1 1 -2.5 0M873.7 371.6a1.3 1.6 0 1 1 2.6 0a1.3 1.6 0 1 1 -2.6 0M880.9 371.9a1.5 2.1 0 1 1 3 0a1.5 2.1 0 1 1 -3 0M877.1 373.9a1.3 2.5 0 1 1 2.7 0a1.3 2.5 0 1 1 -2.7 0M879.7 375.2a1.6 0.9 0 1 1 3.1 0a1.6 0.9 0 1 1 -3.1 0M876.5 375.4a1.5 1.2 0 1 1 3.1 0a1.5 1.2 0 1 1 -3.1 0M874.4 375.5a1.6 2.1 0 1 1 3.1 0a1.6 2.1 0 1 1 -3.1 0M878.7 376a0.9 2.6 0 1 1 1.7 0a0.9 2.6 0 1 1 -1.7 0M875.9 376.5a1.3 1.2 0 1 1 2.6 0a1.3 1.2 0 1 1 -2.6 0M876.6 376.5a0.9 1.2 0 1 1 1.9 0a0.9 1.2 0 1 1 -1.9 0M874.5 376.7a1.5 1.3 0 1 1 3 0a1.5 1.3 0 1 1 -3 0M875.5 377.8a1.4 1.2 0 1 1 2.8 0a1.4 1.2 0 1 1 -2.8 0M881.9 379.1a1.6 2 0 1 1 3.1 0a1.6 2 0 1 1 -3.1 0M879.3 380a1.7 1.9 0 1 1 3.3 0a1.7 1.9 0 1 1 -3.3 0M884.3 380.6a1.4 1.7 0 1 1 2.8 0a1.4 1.7 0 1 1 -2.8 0M875.9 381a1.1 2.1 0 1 1 2.3 0a1.1 2.1 0 1 1 -2.3 0M879.8 381.2a1.3 2.2 0 1 1 2.6 0a1.3 2.2 0 1 1 -2.6 0M882.8 381.6a0.8 1.2 0 1 1 1.6 0a0.8 1.2 0 1 1 -1.6 0M879.7 381.8a1.2 1 0 1 1 2.4 0a1.2 1 0 1 1 -2.4 0M877.9 381.9a1.6 1.4 0 1 1 3.2 0a1.6 1.4 0 1 1 -3.2 0M877.8 382a1.4 1.8 0 1 1 2.8 0a1.4 1.8 0 1 1 -2.8 0M877.7 382.7a1.4 1 0 1 1 2.9 0a1.4 1 0 1 1 -2.9 0M880.4 384a1 1.1 0 1 1 2.1 0a1 1.1 0 1 1 -2.1 0M873.2 385.7a1.4 1.1 0 1 1 2.8 0a1.4 1.1 0 1 1 -2.8 0M874.8 386.8a1.6 1.6 0 1 1 3.2 0a1.6 1.6 0 1 1 -3.2 0M879.1 387.4a1.5 2.4 0 1 1 3 0a1.5 2.4 0 1 1 -3 0M876.9 387.5a1 0.9 0 1 1 2 0a1 0.9 0 1 1 -2 0M877.5 391.6a1.1 1.3 0 1 1 2.2 0a1.1 1.3 0 1 1 -2.2 0M880 392.2a1.2 1.5 0 1 1 2.5 0a1.2 1.5 0 1 1 -2.5 0M879.3 392.3a0.7 2.5 0 1 1 1.5 0a0.7 2.5 0 1 1 -1.5 0M877.7 393a0.8 1.7 0 1 1 1.6 0a0.8 1.7 0 1 1 -1.6 0M877.6 393.4a1.2 1 0 1 1 2.4 0a1.2 1 0 1 1 -2.4 0M874.8 393.6a1.7 1.5 0 1 1 3.4 0a1.7 1.5 0 1 1 -3.4 0M881.4 394.8a1.2 1.1 0 1 1 2.4 0a1.2 1.1 0 1 1 -2.4 0M879 395.1a1.6 2.3 0 1 1 3.3 0a1.6 2.3 0 1 1 -3.3 0M875.8 395.7a1.4 2.6 0 1 1 2.8 0a1.4 2.6 0 1 1 -2.8 0M881.1 396.3a1.7 1.9 0 1 1 3.3 0a1.7 1.9 0 1 1 -3.3 0M877.6 396.8a1.5 1.1 0 1 1 3.1 0a1.5 1.1 0 1 1 -3.1 0M883.5 397.5a1.5 1.1 0 1 1 3 0a1.5 1.1 0 1 1 -3 0M876.7 397.6a1.1 1.6 0 1 1 2.1 0a1.1 1.6 0 1 1 -2.1 0M879.6 397.7a1.2 1 0 1 1 2.5 0a1.2 1 0 1 1 -2.5 0M878.1 397.7a1.5 2.5 0 1 1 3 0a1.5 2.5 0 1 1 -3 0M877.2 398.4a1.2 1.5 0 1 1 2.3 0a1.2 1.5 0 1 1 -2.3 0M878.8 399a1.1 1.1 0 1 1 2.3 0a1.1 1.1 0 1 1 -2.3 0M877.4 399.4a1.5 1.5 0 1 1 3 0a1.5 1.5 0 1 1 -3 0M877 401a0.9 2.3 0 1 1 1.9 0a0.9 2.3 0 1 1 -1.9 0M875.6 402.1a1.6 1.8 0 1 1 3.3 0a1.6 1.8 0 1 1 -3.3 0M878.6 402.4a1.1 1.4 0 1 1 2.3 0a1.1 1.4 0 1 1 -2.3 0M879.5 402.7a1.7 2.3 0 1 1 3.4 0a1.7 2.3 0 1 1 -3.4 0M876.3 402.9a1.3 1.4 0 1 1 2.7 0a1.3 1.4 0 1 1 -2.7 0M878.9 403.8a1 1.3 0 1 1 1.9 0a1 1.3 0 1 1 -1.9 0M881.9 404.4a1.2 1.7 0 1 1 2.3 0a1.2 1.7 0 1 1 -2.3 0M876 405a0.8 1.6 0 1 1 1.6 0a0.8 1.6 0 1 1 -1.6 0M875 406.5a1.5 1.2 0 1 1 3 0a1.5 1.2 0 1 1 -3 0M882.3 406.5a0.9 2 0 1 1 1.8 0a0.9 2 0 1 1 -1.8 0M883 407.5a1.2 1.6 0 1 1 2.3 0a1.2 1.6 0 1 1 -2.3 0M878.9 407.6a1.5 1.7 0 1 1 3 0a1.5 1.7 0 1 1 -3 0M876.2 407.8a0.8 2.1 0 1 1 1.6 0a0.8 2.1 0 1 1 -1.6 0M881 408.1a1.1 1.3 0 1 1 2.1 0a1.1 1.3 0 1 1 -2.1 0M878.2 408.3a1.2 1.6 0 1 1 2.4 0a1.2 1.6 0 1 1 -2.4 0M876.6 409.5a1.2 2.5 0 1 1 2.4 0a1.2 2.5 0 1 1 -2.4 0M881.4 411.3a1.1 1.2 0 1 1 2.1 0a1.1 1.2 0 1 1 -2.1 0M879.7 412.4a1.6 1 0 1 1 3.2 0a1.6 1 0 1 1 -3.2 0M880.2 412.8a0.9 2.5 0 1 1 1.8 0a0.9 2.5 0 1 1 -1.8 0M881.1 412.9a0.7 2.5 0 1 1 1.5 0a0.7 2.5 0 1 1 -1.5 0M881.3 413.2a0.7 1.7 0 1 1 1.4 0a0.7 1.7 0 1 1 -1.4 0M877.4 413.3a1.6 2.5 0 1 1 3.1 0a1.6 2.5 0 1 1 -3.1 0M876 413.7a1 2 0 1 1 2.1 0a1 2 0 1 1 -2.1 0M879.1 414.1a0.8 2 0 1 1 1.5 0a0.8 2 0 1 1 -1.5 0M879.7 416.8a1.1 1.2 0 1 1 2.1 0a1.1 1.2 0 1 1 -2.1 0M876.1 417a1.7 0.9 0 1 1 3.4 0a1.7 0.9 0 1 1 -3.4 0M876.2 417.3a0.9 2.5 0 1 1 1.8 0a0.9 2.5 0 1 1 -1.8 0M879.2 417.8a1.6 2 0 1 1 3.2 0a1.6 2 0 1 1 -3.2 0M878.1 417.9a1.2 1.3 0 1 1 2.4 0a1.2 1.3 0 1 1 -2.4 0M880.3 418.1a1.1 1.6 0 1 1 2.2 0a1.1 1.6 0 1 1 -2.2 0M874.5 418.9a1 2.4 0 1 1 2.1 0a1 2.4 0 1 1 -2.1 0M878.3 419.2a1.7 2.5 0 1 1 3.4 0a1.7 2.5 0 1 1 -3.4 0M879.4 419.8a1.6 1.4 0 1 1 3.2 0a1.6 1.4 0 1 1 -3.2 0M876.8 420.1a1.7 2.4 0 1 1 3.4 0a1.7 2.4 0 1 1 -3.4 0M876.5 420.1a1 2.5 0 1 1 2 0a1 2.5 0 1 1 -2 0M876.8 420.6a0.9 2.2 0 1 1 1.8 0a0.9 2.2 0 1 1 -1.8 0M880.8 420.7a0.8 2.2 0 1 1 1.6 0a0.8 2.2 0 1 1 -1.6 0M878 421.8a1.1 1.9 0 1 1 2.3 0a1.1 1.9 0 1 1 -2.3 0M879.2 423.2a1.2 1.2 0 1 1 2.4 0a1.2 1.2 0 1 1 -2.4 0M879.8 423.5a1.1 1 0 1 1 2.1 0a1.1 1 0 1 1 -2.1 0M878.7 423.8a1 2.2 0 1 1 1.9 0a1 2.2 0 1 1 -1.9 0M880.1 424.2a1.4 0.9 0 1 1 2.7 0a1.4 0.9 0 1 1 -2.7 0M879.3 425.8a1.3 2 0 1 1 2.6 0a1.3 2 0 1 1 -2.6 0M875.1 426.2a0.8 1.4 0 1 1 1.5 0a0.8 1.4 0 1 1 -1.5 0M879.4 426.6a1.3 1.6 0 1 1 2.7 0a1.3 1.6 0 1 1 -2.7 0M878.6 426.7a1.6 1.1 0 1 1 3.1 0a1.6 1.1 0 1 1 -3.1 0M877.9 427.1a1.7 1.1 0 1 1 3.3 0a1.7 1.1 0 1 1 -3.3 0M874.2 428.1a1.8 2.3 0 1 1 3.5 0a1.8 2.3 0 1 1 -3.5 0M878.8 428.4a1.3 2.2 0 1 1 2.5 0a1.3 2.2 0 1 1 -2.5 0M879 429.6a1.4 2.4 0 1 1 2.9 0a1.4 2.4 0 1 1 -2.9 0M875.7 429.8a0.9 1.6 0 1 1 1.8 0a0.9 1.6 0 1 1 -1.8 0M879.1 430h3.5v11.9h-3.5zM877.4 441.9h2.7v9.3h-2.7zM878.9 451.2h2.6v12.4h-2.6zM877.4 463.6h3.9v8.1h-3.9zM877.7 471.7h3v10.6h-3zM878.1 484.4h3.6v6.9h-3.6zM877.8 491.4h2.8v10.4h-2.8zM878.2 501.7h2.5v5.8h-2.5zM878.2 507.5h2.7v10.4h-2.7zM877.7 522.7h2.4v9.7h-2.4zM878.2 535.3h3.4v13.9h-3.4zM878 549.1h3.1v13.8h-3.1zM878 565.8h3.6v5.2h-3.6zM877.9 571h2.7v10.6h-2.7zM877.9 581.6h3.5v7.2h-3.5zM877.9 588.8h3.8v5.7h-3.8zM877.8 594.5h3.3v9.8h-3.3zM879.5 604.3h3v10.6h-3zM879 614.9h2.7v4.4h-2.7zM877.4 619.4h3.4v12.5h-3.4zM879.1 631.9h2.6v3.3h-2.6zM878.7 635.2h2.7v3.7h-2.7zM877.3 638.9h4v5.1h-4zM877.4 643.9h3.8v5h-3.8zM878.5 648.9h2.8v3.8h-2.8zM878.1 652.7h4v11.1h-4zM878.3 663.8h3v6.5h-3zM877.8 670.3h3.6v13.8h-3.6zM879 686.2h2.7v4.4h-2.7zM878.2 690.6h3.5v9.4h-3.5zM881.9 430a1.3 0.8 0 1 1 2.7 0a1.3 0.8 0 1 1 -2.7 0M876 430.2a1.5 1.2 0 1 1 3 0a1.5 1.2 0 1 1 -3 0M878.6 430.4a1.1 2 0 1 1 2.1 0a1.1 2 0 1 1 -2.1 0M877.5 430.7a1.1 1.1 0 1 1 2.2 0a1.1 1.1 0 1 1 -2.2 0M878.9 432.1a1 0.8 0 1 1 1.9 0a1 0.8 0 1 1 -1.9 0M879.3 434.8a1.2 1.6 0 1 1 2.4 0a1.2 1.6 0 1 1 -2.4 0M878.4 435.7a0.6 1.3 0 1 1 1.3 0a0.6 1.3 0 1 1 -1.3 0M872.6 437.4a1.4 2.4 0 1 1 2.8 0a1.4 2.4 0 1 1 -2.8 0M875.4 437.7a0.8 1.9 0 1 1 1.6 0a0.8 1.9 0 1 1 -1.6 0M879.8 438.2a1.4 0.8 0 1 1 2.8 0a1.4 0.8 0 1 1 -2.8 0M876 440a0.8 2.1 0 1 1 1.7 0a0.8 2.1 0 1 1 -1.7 0M881.3 441.7a0.7 1.1 0 1 1 1.4 0a0.7 1.1 0 1 1 -1.4 0M875.1 441.9a1 2.3 0 1 1 2 0a1 2.3 0 1 1 -2 0M880.6 442.1a1.2 0.8 0 1 1 2.3 0a1.2 0.8 0 1 1 -2.3 0M882.6 442.2a0.7 2.2 0 1 1 1.4 0a0.7 2.2 0 1 1 -1.4 0M873.3 442.3a1.6 2.3 0 1 1 3.2 0a1.6 2.3 0 1 1 -3.2 0M876.3 444.7a1 1.9 0 1 1 2 0a1 1.9 0 1 1 -2 0M874.8 446.2a1.4 2.3 0 1 1 2.7 0a1.4 2.3 0 1 1 -2.7 0M876.5 448a0.8 1.3 0 1 1 1.6 0a0.8 1.3 0 1 1 -1.6 0M877.3 448a1.6 1.6 0 1 1 3.2 0a1.6 1.6 0 1 1 -3.2 0M883.2 448.1a1.1 2.3 0 1 1 2.3 0a1.1 2.3 0 1 1 -2.3 0M879.8 449a1 1.9 0 1 1 2.1 0a1 1.9 0 1 1 -2.1 0M876.7 449.4a0.8 0.9 0 1 1 1.7 0a0.8 0.9 0 1 1 -1.7 0M879.1 451a0.7 1.6 0 1 1 1.4 0a0.7 1.6 0 1 1 -1.4 0M876 451.8a1.5 1.4 0 1 1 2.9 0a1.5 1.4 0 1 1 -2.9 0M875.7 457.2a1.3 0.9 0 1 1 2.6 0a1.3 0.9 0 1 1 -2.6 0M879.5 458.6a1.2 2.2 0 1 1 2.4 0a1.2 2.2 0 1 1 -2.4 0M878.3 462.8a1.6 1.4 0 1 1 3.1 0a1.6 1.4 0 1 1 -3.1 0M883.4 463a1.1 1 0 1 1 2.2 0a1.1 1 0 1 1 -2.2 0M877.8 463.2a1.6 1.8 0 1 1 3.2 0a1.6 1.8 0 1 1 -3.2 0M878.6 463.4a1.4 1.6 0 1 1 2.8 0a1.4 1.6 0 1 1 -2.8 0M876.9 464.7a1.3 0.9 0 1 1 2.6 0a1.3 0.9 0 1 1 -2.6 0M879.8 465.3a0.8 2.3 0 1 1 1.7 0a0.8 2.3 0 1 1 -1.7 0M881.6 465.8a0.8 1.6 0 1 1 1.7 0a0.8 1.6 0 1 1 -1.7 0M878 467.3a0.9 0.9 0 1 1 1.8 0a0.9 0.9 0 1 1 -1.8 0M880.5 467.6a1.4 1.4 0 1 1 2.7 0a1.4 1.4 0 1 1 -2.7 0M879.7 470.1a1.3 2.2 0 1 1 2.5 0a1.3 2.2 0 1 1 -2.5 0M877.6 470.1a1.4 2.2 0 1 1 2.8 0a1.4 2.2 0 1 1 -2.8 0M877.6 471.2a0.6 1.7 0 1 1 1.3 0a0.6 1.7 0 1 1 -1.3 0M879.8 473.4a1.4 1.8 0 1 1 2.7 0a1.4 1.8 0 1 1 -2.7 0M878 476.7a1.4 1.3 0 1 1 2.7 0a1.4 1.3 0 1 1 -2.7 0M878.3 477.5a0.9 2.1 0 1 1 1.7 0a0.9 2.1 0 1 1 -1.7 0M881.2 478.9a0.7 1.5 0 1 1 1.3 0a0.7 1.5 0 1 1 -1.3 0M879.7 479.5a1.5 2 0 1 1 2.9 0a1.5 2 0 1 1 -2.9 0M879.1 481.3a0.9 0.9 0 1 1 1.9 0a0.9 0.9 0 1 1 -1.9 0M882.8 482a1.1 2 0 1 1 2.1 0a1.1 2 0 1 1 -2.1 0M877.9 482.6a0.9 1.8 0 1 1 1.8 0a0.9 1.8 0 1 1 -1.8 0M877.5 483.7a1.3 1.8 0 1 1 2.7 0a1.3 1.8 0 1 1 -2.7 0M878.2 484.2a0.6 1.2 0 1 1 1.3 0a0.6 1.2 0 1 1 -1.3 0M878 484.4a0.7 1.3 0 1 1 1.5 0a0.7 1.3 0 1 1 -1.5 0M880.6 486.5a1.3 1 0 1 1 2.6 0a1.3 1 0 1 1 -2.6 0M878.5 488.4a1.2 1.4 0 1 1 2.4 0a1.2 1.4 0 1 1 -2.4 0M878.2 488.9a0.9 2.1 0 1 1 1.9 0a0.9 2.1 0 1 1 -1.9 0M874.2 490.8a1.5 1 0 1 1 3 0a1.5 1 0 1 1 -3 0M878 491.7a1 1.3 0 1 1 2 0a1 1.3 0 1 1 -2 0M879 493.6a0.7 1.7 0 1 1 1.4 0a0.7 1.7 0 1 1 -1.4 0M880 494a0.7 1.9 0 1 1 1.4 0a0.7 1.9 0 1 1 -1.4 0M881.3 495.8a0.8 1.1 0 1 1 1.7 0a0.8 1.1 0 1 1 -1.7 0M881.2 496.9a1.1 1.8 0 1 1 2.2 0a1.1 1.8 0 1 1 -2.2 0M875.2 497.6a0.7 2.2 0 1 1 1.4 0a0.7 2.2 0 1 1 -1.4 0M880.8 498.6a0.7 1.1 0 1 1 1.4 0a0.7 1.1 0 1 1 -1.4 0M876.4 498.6a1.4 1.3 0 1 1 2.7 0a1.4 1.3 0 1 1 -2.7 0M876.2 499a1.3 2.4 0 1 1 2.6 0a1.3 2.4 0 1 1 -2.6 0M879.7 500a0.6 1.6 0 1 1 1.3 0a0.6 1.6 0 1 1 -1.3 0M876.8 500.8a1.4 1.3 0 1 1 2.7 0a1.4 1.3 0 1 1 -2.7 0M878.8 501.9a1.1 2.2 0 1 1 2.1 0a1.1 2.2 0 1 1 -2.1 0M880.3 502.5a1.1 1.6 0 1 1 2.3 0a1.1 1.6 0 1 1 -2.3 0M875.6 503.2a1.6 1.2 0 1 1 3.1 0a1.6 1.2 0 1 1 -3.1 0M879.4 503.5a0.7 1 0 1 1 1.5 0a0.7 1 0 1 1 -1.5 0M875.1 504a1.4 2.3 0 1 1 2.8 0a1.4 2.3 0 1 1 -2.8 0M873.8 504.1a0.7 1.5 0 1 1 1.4 0a0.7 1.5 0 1 1 -1.4 0M880.4 505a0.8 0.9 0 1 1 1.6 0a0.8 0.9 0 1 1 -1.6 0M875.1 505.6a0.8 1.8 0 1 1 1.6 0a0.8 1.8 0 1 1 -1.6 0M880.8 505.6a1.1 1.1 0 1 1 2.2 0a1.1 1.1 0 1 1 -2.2 0M878.3 505.9a1.6 1.1 0 1 1 3.2 0a1.6 1.1 0 1 1 -3.2 0M877.3 506.8a0.7 1.1 0 1 1 1.4 0a0.7 1.1 0 1 1 -1.4 0M880.2 507.7a0.9 1.7 0 1 1 1.8 0a0.9 1.7 0 1 1 -1.8 0M876.3 508.1a0.7 0.9 0 1 1 1.4 0a0.7 0.9 0 1 1 -1.4 0M882.3 510.7a0.8 1.4 0 1 1 1.7 0a0.8 1.4 0 1 1 -1.7 0M877.1 511.2a1.4 0.8 0 1 1 2.7 0a1.4 0.8 0 1 1 -2.7 0M875.5 511.4a1.4 1.4 0 1 1 2.7 0a1.4 1.4 0 1 1 -2.7 0M876.1 511.4a0.9 1 0 1 1 1.8 0a0.9 1 0 1 1 -1.8 0M878.5 512a0.7 2 0 1 1 1.4 0a0.7 2 0 1 1 -1.4 0M878.3 514.2a1 1.8 0 1 1 2.1 0a1 1.8 0 1 1 -2.1 0M877.7 516a1.4 1.4 0 1 1 2.8 0a1.4 1.4 0 1 1 -2.8 0M880.8 516.1a1.6 1.6 0 1 1 3.1 0a1.6 1.6 0 1 1 -3.1 0M877.2 516.3a0.8 1.4 0 1 1 1.6 0a0.8 1.4 0 1 1 -1.6 0M880.3 517.2a0.7 2.4 0 1 1 1.3 0a0.7 2.4 0 1 1 -1.3 0M875.6 517.2a0.6 2.2 0 1 1 1.3 0a0.6 2.2 0 1 1 -1.3 0M879.9 517.2a0.9 2.3 0 1 1 1.8 0a0.9 2.3 0 1 1 -1.8 0M878.8 518.4a1.1 1.3 0 1 1 2.2 0a1.1 1.3 0 1 1 -2.2 0M878.3 518.5a1.3 0.8 0 1 1 2.5 0a1.3 0.8 0 1 1 -2.5 0M884.4 519a1.4 1.9 0 1 1 2.8 0a1.4 1.9 0 1 1 -2.8 0M875.8 519.8a1 2 0 1 1 2 0a1 2 0 1 1 -2 0M880.4 520.8a1.1 2.2 0 1 1 2.3 0a1.1 2.2 0 1 1 -2.3 0M880.8 521.2a1.3 1.8 0 1 1 2.6 0a1.3 1.8 0 1 1 -2.6 0M878.9 522a1 1.6 0 1 1 2.1 0a1 1.6 0 1 1 -2.1 0M879.9 522.4a0.9 2.3 0 1 1 1.9 0a0.9 2.3 0 1 1 -1.9 0M880.4 522.6a0.7 2.1 0 1 1 1.3 0a0.7 2.1 0 1 1 -1.3 0M877.1 525a1 0.9 0 1 1 2.1 0a1 0.9 0 1 1 -2.1 0M882.3 527.1a0.8 1.4 0 1 1 1.6 0a0.8 1.4 0 1 1 -1.6 0M883.8 527.2a1.4 1.7 0 1 1 2.8 0a1.4 1.7 0 1 1 -2.8 0M877.7 528.1a0.7 1.8 0 1 1 1.4 0a0.7 1.8 0 1 1 -1.4 0M878.9 529.6a0.9 1.3 0 1 1 1.8 0a0.9 1.3 0 1 1 -1.8 0M878.3 531.1a0.7 2 0 1 1 1.5 0a0.7 2 0 1 1 -1.5 0M878.5 532a0.8 1.9 0 1 1 1.5 0a0.8 1.9 0 1 1 -1.5 0M880 532.1a1 1.7 0 1 1 2 0a1 1.7 0 1 1 -2 0M880.3 532.3a0.8 1.6 0 1 1 1.6 0a0.8 1.6 0 1 1 -1.6 0M879 532.8a0.7 0.9 0 1 1 1.4 0a0.7 0.9 0 1 1 -1.4 0M882.2 534.9a1.2 1.6 0 1 1 2.4 0a1.2 1.6 0 1 1 -2.4 0M877.3 535.2a1.5 1.5 0 1 1 2.9 0a1.5 1.5 0 1 1 -2.9 0M878.5 535.6a1.3 1.6 0 1 1 2.6 0a1.3 1.6 0 1 1 -2.6 0M881.8 535.6a1.2 1 0 1 1 2.5 0a1.2 1 0 1 1 -2.5 0M878 536.2a1.5 1.2 0 1 1 3 0a1.5 1.2 0 1 1 -3 0M876.7 536.2a1.3 1.3 0 1 1 2.7 0a1.3 1.3 0 1 1 -2.7 0M878.1 537a1.4 1.3 0 1 1 2.7 0a1.4 1.3 0 1 1 -2.7 0M876.3 538a0.7 1.3 0 1 1 1.3 0a0.7 1.3 0 1 1 -1.3 0M878.6 538.2a1.2 1.5 0 1 1 2.3 0a1.2 1.5 0 1 1 -2.3 0M879.1 541a1.2 1.9 0 1 1 2.4 0a1.2 1.9 0 1 1 -2.4 0M874.5 543.8a1 1.5 0 1 1 2.1 0a1 1.5 0 1 1 -2.1 0M880.6 545a0.9 1.3 0 1 1 1.7 0a0.9 1.3 0 1 1 -1.7 0M879.1 545a0.7 2.2 0 1 1 1.5 0a0.7 2.2 0 1 1 -1.5 0M875.5 545.3a0.7 1.9 0 1 1 1.3 0a0.7 1.9 0 1 1 -1.3 0M884.5 546.1a0.6 2 0 1 1 1.2 0a0.6 2 0 1 1 -1.2 0M878.4 546.4a0.7 1.4 0 1 1 1.3 0a0.7 1.4 0 1 1 -1.3 0M880.5 546.4a0.7 1 0 1 1 1.3 0a0.7 1 0 1 1 -1.3 0M879.7 546.9a0.7 2.2 0 1 1 1.4 0a0.7 2.2 0 1 1 -1.4 0M883 547.1a1 1.7 0 1 1 2.1 0a1 1.7 0 1 1 -2.1 0M879.5 548.8a1.5 2.1 0 1 1 3 0a1.5 2.1 0 1 1 -3 0M879.6 549.8a1.1 0.8 0 1 1 2.2 0a1.1 0.8 0 1 1 -2.2 0M883.4 552.4a0.9 1 0 1 1 1.8 0a0.9 1 0 1 1 -1.8 0M877 552.9a0.9 1.3 0 1 1 1.7 0a0.9 1.3 0 1 1 -1.7 0M877.5 553.5a1.3 1.8 0 1 1 2.6 0a1.3 1.8 0 1 1 -2.6 0M880.2 555.5a0.6 2 0 1 1 1.3 0a0.6 2 0 1 1 -1.3 0M878.1 557.3a1.1 1.6 0 1 1 2.2 0a1.1 1.6 0 1 1 -2.2 0M878.5 558a1.1 2.2 0 1 1 2.3 0a1.1 2.2 0 1 1 -2.3 0M878.7 558.5a1.4 0.9 0 1 1 2.9 0a1.4 0.9 0 1 1 -2.9 0M879.4 558.9a1.4 1.6 0 1 1 2.8 0a1.4 1.6 0 1 1 -2.8 0M878.4 559.1a1.5 2.3 0 1 1 3 0a1.5 2.3 0 1 1 -3 0M877.8 559.3a1 1.9 0 1 1 2 0a1 1.9 0 1 1 -2 0M880.1 561.3a1.2 2.1 0 1 1 2.4 0a1.2 2.1 0 1 1 -2.4 0M879.9 561.4a0.7 1.2 0 1 1 1.4 0a0.7 1.2 0 1 1 -1.4 0M880.2 562.5a1 1.7 0 1 1 2.1 0a1 1.7 0 1 1 -2.1 0M879.6 564.1a1.1 2 0 1 1 2.2 0a1.1 2 0 1 1 -2.2 0M878.2 566.9a1.1 1.1 0 1 1 2.2 0a1.1 1.1 0 1 1 -2.2 0M880.7 572.3a1 2.4 0 1 1 2 0a1 2.4 0 1 1 -2 0M878.8 572.6a1.1 1.8 0 1 1 2.2 0a1.1 1.8 0 1 1 -2.2 0M882.7 573.6a1.5 1 0 1 1 3 0a1.5 1 0 1 1 -3 0M880.6 575.8a1.4 2.3 0 1 1 2.9 0a1.4 2.3 0 1 1 -2.9 0M879.4 576.6a1.2 2.2 0 1 1 2.4 0a1.2 2.2 0 1 1 -2.4 0M875.5 579.2a1.5 2.1 0 1 1 3 0a1.5 2.1 0 1 1 -3 0M881.7 579.5a1.1 1.4 0 1 1 2.2 0a1.1 1.4 0 1 1 -2.2 0M875.4 579.8a0.7 2.1 0 1 1 1.4 0a0.7 2.1 0 1 1 -1.4 0M880 580.8a1.3 1.2 0 1 1 2.6 0a1.3 1.2 0 1 1 -2.6 0M878.3 581.7a0.8 0.9 0 1 1 1.6 0a0.8 0.9 0 1 1 -1.6 0M880.7 582a0.7 1.1 0 1 1 1.4 0a0.7 1.1 0 1 1 -1.4 0M879.6 582.4a1.3 1.2 0 1 1 2.6 0a1.3 1.2 0 1 1 -2.6 0M877.5 582.7a0.7 2.4 0 1 1 1.4 0a0.7 2.4 0 1 1 -1.4 0M879.5 582.9a0.9 1.3 0 1 1 1.9 0a0.9 1.3 0 1 1 -1.9 0M880.4 583.4a1.5 1.9 0 1 1 3 0a1.5 1.9 0 1 1 -3 0M876.6 583.8a1.6 0.9 0 1 1 3.2 0a1.6 0.9 0 1 1 -3.2 0M881.2 585.4a1.2 1 0 1 1 2.3 0a1.2 1 0 1 1 -2.3 0M881.4 585.7a0.7 1.7 0 1 1 1.4 0a0.7 1.7 0 1 1 -1.4 0M877.1 586a1.5 2.2 0 1 1 3 0a1.5 2.2 0 1 1 -3 0M877.1 587a1.4 1.8 0 1 1 2.7 0a1.4 1.8 0 1 1 -2.7 0M876.2 588.4a1.5 0.9 0 1 1 3 0a1.5 0.9 0 1 1 -3 0M878 588.5a1.5 1.5 0 1 1 2.9 0a1.5 1.5 0 1 1 -2.9 0M879.6 590.4a0.7 2 0 1 1 1.5 0a0.7 2 0 1 1 -1.5 0M879.1 590.6a0.8 0.9 0 1 1 1.6 0a0.8 0.9 0 1 1 -1.6 0M876.2 592.2a1.3 2.3 0 1 1 2.6 0a1.3 2.3 0 1 1 -2.6 0M880.5 592.2a1.1 1.4 0 1 1 2.2 0a1.1 1.4 0 1 1 -2.2 0M880.3 592.4a1.6 1.6 0 1 1 3.2 0a1.6 1.6 0 1 1 -3.2 0M878 593.6a1.4 1.3 0 1 1 2.8 0a1.4 1.3 0 1 1 -2.8 0M874.4 594.2a1.3 1.2 0 1 1 2.7 0a1.3 1.2 0 1 1 -2.7 0M879.3 594.3a0.8 1 0 1 1 1.6 0a0.8 1 0 1 1 -1.6 0M880.6 595.9a0.8 2.2 0 1 1 1.5 0a0.8 2.2 0 1 1 -1.5 0M876.4 595.9a1.4 0.8 0 1 1 2.8 0a1.4 0.8 0 1 1 -2.8 0M879.7 596.3a0.7 1.6 0 1 1 1.4 0a0.7 1.6 0 1 1 -1.4 0M878.3 598.5a1.2 1 0 1 1 2.5 0a1.2 1 0 1 1 -2.5 0M878.1 599.3a1.5 1.7 0 1 1 3.1 0a1.5 1.7 0 1 1 -3.1 0M878.9 599.4a0.9 1.7 0 1 1 1.8 0a0.9 1.7 0 1 1 -1.8 0M877 600.2a0.6 2.1 0 1 1 1.2 0a0.6 2.1 0 1 1 -1.2 0M877.3 602a0.9 1.4 0 1 1 1.7 0a0.9 1.4 0 1 1 -1.7 0M875.4 602.3a1.5 1.2 0 1 1 3 0a1.5 1.2 0 1 1 -3 0M876.1 605.9a1.6 1.2 0 1 1 3.2 0a1.6 1.2 0 1 1 -3.2 0M882.6 609a1.5 1.3 0 1 1 2.9 0a1.5 1.3 0 1 1 -2.9 0M881.4 609.9a0.9 1.1 0 1 1 1.8 0a0.9 1.1 0 1 1 -1.8 0M880.9 609.9a1.5 0.9 0 1 1 2.9 0a1.5 0.9 0 1 1 -2.9 0M880.6 613.7a1.6 0.9 0 1 1 3.2 0a1.6 0.9 0 1 1 -3.2 0M877.1 614.2a0.8 1.9 0 1 1 1.5 0a0.8 1.9 0 1 1 -1.5 0M880.3 614.7a1.5 2.4 0 1 1 2.9 0a1.5 2.4 0 1 1 -2.9 0M874 615.4a1.2 2.3 0 1 1 2.3 0a1.2 2.3 0 1 1 -2.3 0M884 615.7a1.1 0.9 0 1 1 2.3 0a1.1 0.9 0 1 1 -2.3 0M880.6 616.1a1.2 2 0 1 1 2.3 0a1.2 2 0 1 1 -2.3 0M882.8 616.3a0.9 1.1 0 1 1 1.8 0a0.9 1.1 0 1 1 -1.8 0M882 616.6a0.7 2.4 0 1 1 1.5 0a0.7 2.4 0 1 1 -1.5 0M881.3 617.6a1.6 1.2 0 1 1 3.2 0a1.6 1.2 0 1 1 -3.2 0M876.2 617.9a1.1 1.9 0 1 1 2.3 0a1.1 1.9 0 1 1 -2.3 0M877.9 618.3a1.3 2.2 0 1 1 2.6 0a1.3 2.2 0 1 1 -2.6 0M877.2 618.9a1.2 1.2 0 1 1 2.4 0a1.2 1.2 0 1 1 -2.4 0M879.2 621.2a0.9 1.3 0 1 1 1.8 0a0.9 1.3 0 1 1 -1.8 0M877.5 622.4a1.4 2.1 0 1 1 2.7 0a1.4 2.1 0 1 1 -2.7 0M880 623.5a0.7 1.2 0 1 1 1.5 0a0.7 1.2 0 1 1 -1.5 0M878.2 624.9a1 1.5 0 1 1 2.1 0a1 1.5 0 1 1 -2.1 0M877.9 625.2a0.9 1.7 0 1 1 1.7 0a0.9 1.7 0 1 1 -1.7 0M876.6 625.9a1.5 1.8 0 1 1 3 0a1.5 1.8 0 1 1 -3 0M882.3 626.5a0.7 2.2 0 1 1 1.4 0a0.7 2.2 0 1 1 -1.4 0M878.1 627.1a0.7 1.9 0 1 1 1.4 0a0.7 1.9 0 1 1 -1.4 0M876.5 627.5a1.2 2.4 0 1 1 2.4 0a1.2 2.4 0 1 1 -2.4 0M877 628.8a0.9 1.1 0 1 1 1.7 0a0.9 1.1 0 1 1 -1.7 0M880.4 630.3a1.6 1.5 0 1 1 3.1 0a1.6 1.5 0 1 1 -3.1 0M881.8 630.6a1.4 1 0 1 1 2.8 0a1.4 1 0 1 1 -2.8 0M881.8 631.2a1.2 1.8 0 1 1 2.4 0a1.2 1.8 0 1 1 -2.4 0M876.8 631.4a1.2 2 0 1 1 2.5 0a1.2 2 0 1 1 -2.5 0M880.8 631.6a1.3 1.5 0 1 1 2.5 0a1.3 1.5 0 1 1 -2.5 0M879.2 637.8a1 1.4 0 1 1 1.9 0a1 1.4 0 1 1 -1.9 0M883.1 638.5a0.6 1.7 0 1 1 1.3 0a0.6 1.7 0 1 1 -1.3 0M876.8 638.6a1.5 2.3 0 1 1 2.9 0a1.5 2.3 0 1 1 -2.9 0M880.9 638.7a1 1 0 1 1 1.9 0a1 1 0 1 1 -1.9 0M878.4 639.2a1.6 0.9 0 1 1 3.2 0a1.6 0.9 0 1 1 -3.2 0M883.9 639.3a0.7 1.4 0 1 1 1.4 0a0.7 1.4 0 1 1 -1.4 0M877.9 640.1a1 1.8 0 1 1 2 0a1 1.8 0 1 1 -2 0M880.8 641.7a1.5 0.8 0 1 1 3 0a1.5 0.8 0 1 1 -3 0M880.2 642.2a1.2 2.1 0 1 1 2.4 0a1.2 2.1 0 1 1 -2.4 0M881.2 643.3a0.8 1.1 0 1 1 1.5 0a0.8 1.1 0 1 1 -1.5 0M879.6 644.6a1.4 1.4 0 1 1 2.8 0a1.4 1.4 0 1 1 -2.8 0M877.7 644.9a1.3 1 0 1 1 2.6 0a1.3 1 0 1 1 -2.6 0M877.1 645.6a0.6 2.2 0 1 1 1.2 0a0.6 2.2 0 1 1 -1.2 0M880.7 646.1a0.9 1.4 0 1 1 1.9 0a0.9 1.4 0 1 1 -1.9 0M877.9 646.4a0.7 1.7 0 1 1 1.5 0a0.7 1.7 0 1 1 -1.5 0M879.1 646.7a1.3 1.7 0 1 1 2.6 0a1.3 1.7 0 1 1 -2.6 0M877.6 648.4a1.1 0.9 0 1 1 2.2 0a1.1 0.9 0 1 1 -2.2 0M882.2 650.8a1.1 2.4 0 1 1 2.1 0a1.1 2.4 0 1 1 -2.1 0M874.7 650.9a1.4 1.2 0 1 1 2.8 0a1.4 1.2 0 1 1 -2.8 0M878.5 651.5a1.6 2.2 0 1 1 3.2 0a1.6 2.2 0 1 1 -3.2 0M880 652.9a1.3 1.4 0 1 1 2.6 0a1.3 1.4 0 1 1 -2.6 0M876.1 654.5a1 1.1 0 1 1 1.9 0a1 1.1 0 1 1 -1.9 0M883.3 655.9a0.8 1.6 0 1 1 1.6 0a0.8 1.6 0 1 1 -1.6 0M884.2 657.2a1.5 1.4 0 1 1 3 0a1.5 1.4 0 1 1 -3 0M881.8 657.7a0.6 1.1 0 1 1 1.2 0a0.6 1.1 0 1 1 -1.2 0M878.6 658.2a1 1.2 0 1 1 2.1 0a1 1.2 0 1 1 -2.1 0M880.2 658.7a1 2.4 0 1 1 2 0a1 2.4 0 1 1 -2 0M882.1 658.8a1.1 1.7 0 1 1 2.3 0a1.1 1.7 0 1 1 -2.3 0M880.3 659.1a0.8 1.5 0 1 1 1.6 0a0.8 1.5 0 1 1 -1.6 0M875.4 661a0.9 1.5 0 1 1 1.8 0a0.9 1.5 0 1 1 -1.8 0M876.9 661.8a1.4 1.7 0 1 1 2.8 0a1.4 1.7 0 1 1 -2.8 0M879.2 662.1a1.5 1.7 0 1 1 2.9 0a1.5 1.7 0 1 1 -2.9 0M875 662.5a1.3 1.3 0 1 1 2.6 0a1.3 1.3 0 1 1 -2.6 0M881.1 663.5a1.1 2 0 1 1 2.2 0a1.1 2 0 1 1 -2.2 0M878.3 663.6a1.5 2.3 0 1 1 3 0a1.5 2.3 0 1 1 -3 0M881.5 664a1 1.4 0 1 1 2.1 0a1 1.4 0 1 1 -2.1 0M879.7 666.4a0.9 1.7 0 1 1 1.8 0a0.9 1.7 0 1 1 -1.8 0M879.9 667a1.4 1.2 0 1 1 2.9 0a1.4 1.2 0 1 1 -2.9 0M877 667.2a1 1.6 0 1 1 2 0a1 1.6 0 1 1 -2 0M876.9 668.4a1.3 1.8 0 1 1 2.7 0a1.3 1.8 0 1 1 -2.7 0M878.2 671a1 1.1 0 1 1 2 0a1 1.1 0 1 1 -2 0M879.1 671.4a1.6 2.1 0 1 1 3.1 0a1.6 2.1 0 1 1 -3.1 0M880.5 676.8a0.6 0.9 0 1 1 1.3 0a0.6 0.9 0 1 1 -1.3 0M879.2 678.3a1.5 1.4 0 1 1 3 0a1.5 1.4 0 1 1 -3 0M876.5 679.6a1.4 1.7 0 1 1 2.7 0a1.4 1.7 0 1 1 -2.7 0M873.2 679.7a1.6 2.2 0 1 1 3.2 0a1.6 2.2 0 1 1 -3.2 0M881.6 679.7a1.1 2.4 0 1 1 2.2 0a1.1 2.4 0 1 1 -2.2 0M876.2 680.6a1.3 1.6 0 1 1 2.5 0a1.3 1.6 0 1 1 -2.5 0M877 683.2a1 1.8 0 1 1 2 0a1 1.8 0 1 1 -2 0M879.3 683.5a0.7 1.2 0 1 1 1.4 0a0.7 1.2 0 1 1 -1.4 0M878.5 683.6a1.5 1.7 0 1 1 3 0a1.5 1.7 0 1 1 -3 0M877.5 686.4a1.6 2.2 0 1 1 3.1 0a1.6 2.2 0 1 1 -3.1 0M879.3 689.1a0.8 2.2 0 1 1 1.5 0a0.8 2.2 0 1 1 -1.5 0M876.7 689.5a1.5 1.2 0 1 1 3.1 0a1.5 1.2 0 1 1 -3.1 0M881.8 689.9a1 2.1 0 1 1 2 0a1 2.1 0 1 1 -2 0M879.1 690.5a1.2 2.3 0 1 1 2.4 0a1.2 2.3 0 1 1 -2.4 0M878.1 693a0.8 2 0 1 1 1.5 0a0.8 2 0 1 1 -1.5 0M878.9 693a0.7 2 0 1 1 1.5 0a0.7 2 0 1 1 -1.5 0M876.3 693.1a1.2 1.5 0 1 1 2.4 0a1.2 1.5 0 1 1 -2.4 0M880.4 695.6a1.5 1.3 0 1 1 3 0a1.5 1.3 0 1 1 -3 0M877.2 695.9a1.4 0.9 0 1 1 2.9 0a1.4 0.9 0 1 1 -2.9 0M880.9 697.2a1.1 1.5 0 1 1 2.2 0a1.1 1.5 0 1 1 -2.2 0M878.2 698.6a1.1 1.3 0 1 1 2.1 0a1.1 1.3 0 1 1 -2.1 0M878 700h3.3v5h-3.3zM877.8 705h4v10.9h-4zM877.3 715.9h4.3v10.2h-4.3zM877.7 727.3h3.3v3.4h-3.3zM878.1 730.7h2.7v3.7h-2.7zM877.5 734.4h3.6v9.7h-3.6zM878.6 744.1h4v8.1h-4zM878.1 752.2h4.2v8.4h-4.2zM878.7 760.6h2.7v6.8h-2.7zM878.3 767.4h4.3v7h-4.3zM877 778.5h4v7.1h-4zM878.2 785.5h2.7v11.4h-2.7zM877.1 801.7h3.5v6.3h-3.5zM878.1 808h3v12.4h-3zM878 820.4h3.4v4.2h-3.4zM877.5 824.6h4.1v12.8h-4.1zM878.3 842.4h3.2v3h-3.2zM876.9 845.4h3.5v5.9h-3.5zM878.4 853.6h3.3v4h-3.3zM878.2 857.6h3.8v11.4h-3.8zM877.2 872.4h4.3v13.9h-4.3zM878.5 886.4h3.1v10.8h-3.1zM877.1 897.2h3.8v6.1h-3.8zM878.8 903.3h3.3v10.3h-3.3zM877.7 913.7h3.7v9.3h-3.7zM878.3 924.1h3.3v12.8h-3.3zM878.2 936.9h3.8v7.3h-3.8zM878.8 944.2h3.3v4.5h-3.3zM878.2 948.7h3.7v12.2h-3.7zM878.1 961h3.7v5.5h-3.7zM878.2 966.4h2.7v3.7h-2.7zM877.3 970.1h4.2v8.9h-4.2zM877.6 979h3.4v3.2h-3.4zM878.4 982.2h4.2v3.4h-4.2zM878.3 987.1h3.5v4.3h-3.5zM878.2 991.4h4.1v3.1h-4.1zM878.9 700.2a1.2 1.5 0 1 1 2.4 0a1.2 1.5 0 1 1 -2.4 0M881.1 700.6a0.9 1.5 0 1 1 1.8 0a0.9 1.5 0 1 1 -1.8 0M882.5 701a0.8 1.5 0 1 1 1.6 0a0.8 1.5 0 1 1 -1.6 0M879.8 701.6a1.5 1.8 0 1 1 3 0a1.5 1.8 0 1 1 -3 0M879.2 703.3a0.8 1.3 0 1 1 1.5 0a0.8 1.3 0 1 1 -1.5 0M878.4 704.4a1 0.9 0 1 1 2 0a1 0.9 0 1 1 -2 0M878.6 704.8a1.6 1.4 0 1 1 3.2 0a1.6 1.4 0 1 1 -3.2 0M874.5 705.3a0.8 1.1 0 1 1 1.6 0a0.8 1.1 0 1 1 -1.6 0M878.9 705.6a0.9 1.2 0 1 1 1.9 0a0.9 1.2 0 1 1 -1.9 0M876.8 706.3a0.8 1.4 0 1 1 1.6 0a0.8 1.4 0 1 1 -1.6 0M881.5 707.7a0.9 1.3 0 1 1 1.8 0a0.9 1.3 0 1 1 -1.8 0M878.2 708.3a1 1.8 0 1 1 2.1 0a1 1.8 0 1 1 -2.1 0M882.5 710.3a0.9 2.3 0 1 1 1.8 0a0.9 2.3 0 1 1 -1.8 0M878.6 710.9a1 1.5 0 1 1 1.9 0a1 1.5 0 1 1 -1.9 0M878.6 712a0.7 1.5 0 1 1 1.5 0a0.7 1.5 0 1 1 -1.5 0M877.2 712.9a1.2 1.9 0 1 1 2.4 0a1.2 1.9 0 1 1 -2.4 0M874.2 713.4a1.6 1.3 0 1 1 3.2 0a1.6 1.3 0 1 1 -3.2 0M879.7 715.4a1.5 1.6 0 1 1 3 0a1.5 1.6 0 1 1 -3 0M878.4 715.6a1.4 1.3 0 1 1 2.9 0a1.4 1.3 0 1 1 -2.9 0M877.6 717a1.5 2.1 0 1 1 2.9 0a1.5 2.1 0 1 1 -2.9 0M881 717.1a0.9 1.5 0 1 1 1.9 0a0.9 1.5 0 1 1 -1.9 0M876.1 718.5a1.4 1.6 0 1 1 2.9 0a1.4 1.6 0 1 1 -2.9 0M878.4 719.7a1.2 0.9 0 1 1 2.3 0a1.2 0.9 0 1 1 -2.3 0M880.3 720.1a1.1 2.3 0 1 1 2.1 0a1.1 2.3 0 1 1 -2.1 0M878.6 721.3a0.9 1.4 0 1 1 1.8 0a0.9 1.4 0 1 1 -1.8 0M883.1 725.3a1.3 2.3 0 1 1 2.6 0a1.3 2.3 0 1 1 -2.6 0M878.6 725.4a0.7 2.4 0 1 1 1.4 0a0.7 2.4 0 1 1 -1.4 0M882.9 725.7a1 1.9 0 1 1 2.1 0a1 1.9 0 1 1 -2.1 0M877.1 725.9a1.7 1.2 0 1 1 3.3 0a1.7 1.2 0 1 1 -3.3 0M879.2 726.4a1.1 1.5 0 1 1 2.3 0a1.1 1.5 0 1 1 -2.3 0M880.5 726.9a0.7 1.4 0 1 1 1.4 0a0.7 1.4 0 1 1 -1.4 0M879.1 729.6a1.6 1.5 0 1 1 3.3 0a1.6 1.5 0 1 1 -3.3 0M875.4 729.7a1.2 1.7 0 1 1 2.4 0a1.2 1.7 0 1 1 -2.4 0M881.2 731.6a1.6 1.3 0 1 1 3.2 0a1.6 1.3 0 1 1 -3.2 0M875.1 735a1.2 1.2 0 1 1 2.4 0a1.2 1.2 0 1 1 -2.4 0M882.3 735.8a1.5 2.3 0 1 1 3.1 0a1.5 2.3 0 1 1 -3.1 0M881 737.8a1.1 2 0 1 1 2.2 0a1.1 2 0 1 1 -2.2 0M878.8 737.9a1.1 2 0 1 1 2.1 0a1.1 2 0 1 1 -2.1 0M875.6 737.9a0.8 1.4 0 1 1 1.6 0a0.8 1.4 0 1 1 -1.6 0M880.7 739.3a0.9 1 0 1 1 1.9 0a0.9 1 0 1 1 -1.9 0M878.8 740.4a1 1.5 0 1 1 2 0a1 1.5 0 1 1 -2 0M877.8 740.8a0.7 1.5 0 1 1 1.4 0a0.7 1.5 0 1 1 -1.4 0M883.1 742.7a1.1 1.2 0 1 1 2.1 0a1.1 1.2 0 1 1 -2.1 0M879 742.7a0.8 1.6 0 1 1 1.7 0a0.8 1.6 0 1 1 -1.7 0M881.9 743.7a0.7 0.9 0 1 1 1.5 0a0.7 0.9 0 1 1 -1.5 0M879.6 743.8a0.8 1.5 0 1 1 1.5 0a0.8 1.5 0 1 1 -1.5 0M878.7 746.9a1 1.2 0 1 1 2.1 0a1 1.2 0 1 1 -2.1 0M880.3 747.4a1.3 1.6 0 1 1 2.6 0a1.3 1.6 0 1 1 -2.6 0M879.9 747.5a1.1 0.9 0 1 1 2.3 0a1.1 0.9 0 1 1 -2.3 0M880.5 747.7a1.4 2.4 0 1 1 2.7 0a1.4 2.4 0 1 1 -2.7 0M875.9 747.8a1.1 1.8 0 1 1 2.1 0a1.1 1.8 0 1 1 -2.1 0M879.2 748.9a1.5 2.1 0 1 1 3 0a1.5 2.1 0 1 1 -3 0M880.7 749.9a0.8 1.9 0 1 1 1.6 0a0.8 1.9 0 1 1 -1.6 0M880.8 752a0.9 1.1 0 1 1 1.8 0a0.9 1.1 0 1 1 -1.8 0M873.8 755.5a1.5 1.7 0 1 1 3.1 0a1.5 1.7 0 1 1 -3.1 0M877.8 755.7a1.4 2.5 0 1 1 2.9 0a1.4 2.5 0 1 1 -2.9 0M880.8 757.9a1.3 1.1 0 1 1 2.7 0a1.3 1.1 0 1 1 -2.7 0M881.5 758.2a0.7 2.3 0 1 1 1.5 0a0.7 2.3 0 1 1 -1.5 0M879.6 758.4a0.7 1.7 0 1 1 1.4 0a0.7 1.7 0 1 1 -1.4 0M877.7 758.6a0.8 1.3 0 1 1 1.6 0a0.8 1.3 0 1 1 -1.6 0M873.4 759a1.1 1.4 0 1 1 2.2 0a1.1 1.4 0 1 1 -2.2 0M877.5 760.9a1.2 1.7 0 1 1 2.3 0a1.2 1.7 0 1 1 -2.3 0M878.2 761.1a1 1.4 0 1 1 2.1 0a1 1.4 0 1 1 -2.1 0M877 764.6a0.7 1.1 0 1 1 1.4 0a0.7 1.1 0 1 1 -1.4 0M879.3 765.2a1.3 1.5 0 1 1 2.6 0a1.3 1.5 0 1 1 -2.6 0M875.7 768.4a1.2 1.2 0 1 1 2.3 0a1.2 1.2 0 1 1 -2.3 0M882.1 768.9a1.3 1.5 0 1 1 2.7 0a1.3 1.5 0 1 1 -2.7 0M880.7 769.9a1.3 2.2 0 1 1 2.6 0a1.3 2.2 0 1 1 -2.6 0M879.5 770.7a1 2.4 0 1 1 1.9 0a1 2.4 0 1 1 -1.9 0M879.7 773.5a1 1.3 0 1 1 1.9 0a1 1.3 0 1 1 -1.9 0M875.3 773.6a1.7 2.2 0 1 1 3.3 0a1.7 2.2 0 1 1 -3.3 0M881.3 773.7a1.3 1.2 0 1 1 2.6 0a1.3 1.2 0 1 1 -2.6 0M877.8 773.7a1.1 1.6 0 1 1 2.1 0a1.1 1.6 0 1 1 -2.1 0M876 774.4a1.3 0.9 0 1 1 2.7 0a1.3 0.9 0 1 1 -2.7 0M877.9 776.2a1.1 1.6 0 1 1 2.2 0a1.1 1.6 0 1 1 -2.2 0M880.2 776.8a1 1.2 0 1 1 2 0a1 1.2 0 1 1 -2 0M874.5 777a1.4 1.7 0 1 1 2.8 0a1.4 1.7 0 1 1 -2.8 0M880.6 777.2a1.2 1 0 1 1 2.4 0a1.2 1 0 1 1 -2.4 0M880.6 777.3a1.6 2.3 0 1 1 3.3 0a1.6 2.3 0 1 1 -3.3 0M877.3 778.1a1.3 2.4 0 1 1 2.6 0a1.3 2.4 0 1 1 -2.6 0M879.1 780.3a1.3 2.1 0 1 1 2.5 0a1.3 2.1 0 1 1 -2.5 0M880.8 780.4a1.6 1.1 0 1 1 3.1 0a1.6 1.1 0 1 1 -3.1 0M881.6 781.9a1.3 1.5 0 1 1 2.7 0a1.3 1.5 0 1 1 -2.7 0M881.7 783.1a1.2 1.8 0 1 1 2.4 0a1.2 1.8 0 1 1 -2.4 0M879.4 784.3a1.4 1 0 1 1 2.9 0a1.4 1 0 1 1 -2.9 0M879 784.8a1 1.6 0 1 1 2 0a1 1.6 0 1 1 -2 0M876.8 787a1.4 1.4 0 1 1 2.8 0a1.4 1.4 0 1 1 -2.8 0M875.7 787.5a0.9 1.5 0 1 1 1.8 0a0.9 1.5 0 1 1 -1.8 0M879.3 787.9a1 1.8 0 1 1 2 0a1 1.8 0 1 1 -2 0M877.9 788.7a1.4 1.4 0 1 1 2.8 0a1.4 1.4 0 1 1 -2.8 0M875.1 789a0.7 1.8 0 1 1 1.5 0a0.7 1.8 0 1 1 -1.5 0M880.8 790.1a0.9 1.9 0 1 1 1.7 0a0.9 1.9 0 1 1 -1.7 0M881.8 791.6a1.2 1.3 0 1 1 2.4 0a1.2 1.3 0 1 1 -2.4 0M875.8 792a1 1.4 0 1 1 1.9 0a1 1.4 0 1 1 -1.9 0M880.7 792.2a1.4 1.9 0 1 1 2.9 0a1.4 1.9 0 1 1 -2.9 0M875.9 792.2a1.2 2 0 1 1 2.3 0a1.2 2 0 1 1 -2.3 0M880.9 794.1a0.8 1.9 0 1 1 1.6 0a0.8 1.9 0 1 1 -1.6 0M880 794.2a1.6 1.6 0 1 1 3.1 0a1.6 1.6 0 1 1 -3.1 0M878.6 794.8a1.1 1.5 0 1 1 2.1 0a1.1 1.5 0 1 1 -2.1 0M876.3 795.1a1.4 2 0 1 1 2.8 0a1.4 2 0 1 1 -2.8 0M877.7 796.5a1.6 2.3 0 1 1 3.3 0a1.6 2.3 0 1 1 -3.3 0M878.9 796.8a0.7 1.9 0 1 1 1.3 0a0.7 1.9 0 1 1 -1.3 0M879.5 797a1.6 2.3 0 1 1 3.1 0a1.6 2.3 0 1 1 -3.1 0M880.1 797.9a1.2 1.8 0 1 1 2.5 0a1.2 1.8 0 1 1 -2.5 0M879.2 798.4a1.5 1.6 0 1 1 3 0a1.5 1.6 0 1 1 -3 0M878 800a0.8 0.9 0 1 1 1.7 0a0.8 0.9 0 1 1 -1.7 0M877.6 800a1.1 2 0 1 1 2.1 0a1.1 2 0 1 1 -2.1 0M878.1 801.1a1 2.3 0 1 1 2.1 0a1 2.3 0 1 1 -2.1 0M877.9 802.3a1.5 1.7 0 1 1 3.1 0a1.5 1.7 0 1 1 -3.1 0M877.8 803.4a1.6 1.6 0 1 1 3.3 0a1.6 1.6 0 1 1 -3.3 0M877.5 804.1a1.5 1.2 0 1 1 3 0a1.5 1.2 0 1 1 -3 0M879.2 804.1a1.4 1.6 0 1 1 2.8 0a1.4 1.6 0 1 1 -2.8 0M877.4 804.8a0.6 1.3 0 1 1 1.3 0a0.6 1.3 0 1 1 -1.3 0M875.1 805.2a0.7 2.4 0 1 1 1.4 0a0.7 2.4 0 1 1 -1.4 0M880 806.4a1.4 1.1 0 1 1 2.8 0a1.4 1.1 0 1 1 -2.8 0M873.2 806.4a0.8 1.7 0 1 1 1.6 0a0.8 1.7 0 1 1 -1.6 0M877.9 806.4a0.8 1.9 0 1 1 1.5 0a0.8 1.9 0 1 1 -1.5 0M878.9 807.1a0.8 2.1 0 1 1 1.6 0a0.8 2.1 0 1 1 -1.6 0M881 809a1 1 0 1 1 1.9 0a1 1 0 1 1 -1.9 0M875.3 811.5a1.3 2.4 0 1 1 2.6 0a1.3 2.4 0 1 1 -2.6 0M881.1 811.6a1.1 0.9 0 1 1 2.2 0a1.1 0.9 0 1 1 -2.2 0M880.3 812.7a1.5 1.4 0 1 1 2.9 0a1.5 1.4 0 1 1 -2.9 0M880.4 812.7a1.2 0.9 0 1 1 2.4 0a1.2 0.9 0 1 1 -2.4 0M872.3 814.4a0.8 2.5 0 1 1 1.7 0a0.8 2.5 0 1 1 -1.7 0M880.1 814.8a1.6 2.3 0 1 1 3.2 0a1.6 2.3 0 1 1 -3.2 0M882.8 815a1.2 1.8 0 1 1 2.4 0a1.2 1.8 0 1 1 -2.4 0M881.2 815.8a0.9 2.1 0 1 1 1.8 0a0.9 2.1 0 1 1 -1.8 0M875.9 817.1a1 0.9 0 1 1 1.9 0a1 0.9 0 1 1 -1.9 0M880.7 817.5a0.8 1.6 0 1 1 1.7 0a0.8 1.6 0 1 1 -1.7 0M881.2 817.5a1.3 1 0 1 1 2.5 0a1.3 1 0 1 1 -2.5 0M878.9 817.8a1.1 1 0 1 1 2.3 0a1.1 1 0 1 1 -2.3 0M878.7 818a1.5 1.9 0 1 1 3 0a1.5 1.9 0 1 1 -3 0M874.5 819.2a1.1 1.8 0 1 1 2.2 0a1.1 1.8 0 1 1 -2.2 0M879.6 819.5a1.7 2.2 0 1 1 3.4 0a1.7 2.2 0 1 1 -3.4 0M878.4 820.3a1.6 2.3 0 1 1 3.2 0a1.6 2.3 0 1 1 -3.2 0M879.7 820.5a1.6 1.8 0 1 1 3.3 0a1.6 1.8 0 1 1 -3.3 0M879.1 821.3a1.6 1.4 0 1 1 3.3 0a1.6 1.4 0 1 1 -3.3 0M881.4 822a1.4 2 0 1 1 2.7 0a1.4 2 0 1 1 -2.7 0M881.8 822.6a0.8 1.1 0 1 1 1.5 0a0.8 1.1 0 1 1 -1.5 0M875.1 824.9a0.9 2.3 0 1 1 1.8 0a0.9 2.3 0 1 1 -1.8 0M878.1 825.1a1.5 1.9 0 1 1 2.9 0a1.5 1.9 0 1 1 -2.9 0M879.1 825.5a1.3 2.4 0 1 1 2.6 0a1.3 2.4 0 1 1 -2.6 0M880.8 826.1a1.5 2.3 0 1 1 3 0a1.5 2.3 0 1 1 -3 0M881.1 826.2a0.8 2.4 0 1 1 1.7 0a0.8 2.4 0 1 1 -1.7 0M877.6 828.5a1.2 2 0 1 1 2.4 0a1.2 2 0 1 1 -2.4 0M877.4 830.6a0.9 1.5 0 1 1 1.8 0a0.9 1.5 0 1 1 -1.8 0M875.4 830.9a0.9 2.1 0 1 1 1.8 0a0.9 2.1 0 1 1 -1.8 0M880.3 832.6a1.3 1.3 0 1 1 2.7 0a1.3 1.3 0 1 1 -2.7 0M878.9 833.7a1.3 2 0 1 1 2.7 0a1.3 2 0 1 1 -2.7 0M880.1 834.7a1.6 1.2 0 1 1 3.2 0a1.6 1.2 0 1 1 -3.2 0M877.4 835a1.5 1.8 0 1 1 2.9 0a1.5 1.8 0 1 1 -2.9 0M883.1 836.7a1.2 2.1 0 1 1 2.4 0a1.2 2.1 0 1 1 -2.4 0M878.7 838.5a1.7 1 0 1 1 3.3 0a1.7 1 0 1 1 -3.3 0M881 839.2a0.8 1 0 1 1 1.5 0a0.8 1 0 1 1 -1.5 0M879.4 839.3a0.9 1.5 0 1 1 1.9 0a0.9 1.5 0 1 1 -1.9 0M873.9 840.1a0.7 1.6 0 1 1 1.4 0a0.7 1.6 0 1 1 -1.4 0M878.3 840.3a0.7 1.7 0 1 1 1.5 0a0.7 1.7 0 1 1 -1.5 0M880.4 840.9a1.3 1.9 0 1 1 2.6 0a1.3 1.9 0 1 1 -2.6 0M883.1 842.1a1.4 2.3 0 1 1 2.8 0a1.4 2.3 0 1 1 -2.8 0M880.3 842.2a0.9 1.9 0 1 1 1.7 0a0.9 1.9 0 1 1 -1.7 0M874.9 842.3a1.6 1.8 0 1 1 3.1 0a1.6 1.8 0 1 1 -3.1 0M882.8 842.5a1.2 2.4 0 1 1 2.5 0a1.2 2.4 0 1 1 -2.5 0M879.8 844.7a0.8 1.5 0 1 1 1.6 0a0.8 1.5 0 1 1 -1.6 0M879.8 845.6a1.3 1.1 0 1 1 2.6 0a1.3 1.1 0 1 1 -2.6 0M879.4 847.9a1 2 0 1 1 2 0a1 2 0 1 1 -2 0M883 848.7a0.9 1.1 0 1 1 1.9 0a0.9 1.1 0 1 1 -1.9 0M878.6 849.2a1.6 2.1 0 1 1 3.3 0a1.6 2.1 0 1 1 -3.3 0M883.2 849.2a1.2 1 0 1 1 2.5 0a1.2 1 0 1 1 -2.5 0M881.3 849.6a0.7 1.7 0 1 1 1.4 0a0.7 1.7 0 1 1 -1.4 0M875.9 850.3a1.6 2.5 0 1 1 3.2 0a1.6 2.5 0 1 1 -3.2 0M882.7 850.4a1.6 0.9 0 1 1 3.2 0a1.6 0.9 0 1 1 -3.2 0M877.4 850.7a1.6 1 0 1 1 3.2 0a1.6 1 0 1 1 -3.2 0M872.4 851.3a0.8 1.7 0 1 1 1.7 0a0.8 1.7 0 1 1 -1.7 0M880.3 852.3a0.7 2.2 0 1 1 1.4 0a0.7 2.2 0 1 1 -1.4 0M880.8 853.7a1 1.1 0 1 1 2 0a1 1.1 0 1 1 -2 0M877.1 855.3a1.4 2.4 0 1 1 2.7 0a1.4 2.4 0 1 1 -2.7 0M879.1 855.3a1 2.1 0 1 1 2 0a1 2.1 0 1 1 -2 0M875.4 855.9a1.4 1.1 0 1 1 2.8 0a1.4 1.1 0 1 1 -2.8 0M880 856a1.3 1.6 0 1 1 2.6 0a1.3 1.6 0 1 1 -2.6 0M879.7 856.1a1.5 1.9 0 1 1 2.9 0a1.5 1.9 0 1 1 -2.9 0M876.1 856.4a0.7 2.5 0 1 1 1.5 0a0.7 2.5 0 1 1 -1.5 0M884.7 856.7a1.4 1.5 0 1 1 2.9 0a1.4 1.5 0 1 1 -2.9 0M880.2 857.1a1.6 2.4 0 1 1 3.2 0a1.6 2.4 0 1 1 -3.2 0M878.4 857.4a1 2.2 0 1 1 2 0a1 2.2 0 1 1 -2 0M879.5 857.6a1.1 1.1 0 1 1 2.3 0a1.1 1.1 0 1 1 -2.3 0M875 858a1.5 0.9 0 1 1 2.9 0a1.5 0.9 0 1 1 -2.9 0M879.6 860.1a1.4 2.1 0 1 1 2.8 0a1.4 2.1 0 1 1 -2.8 0M876.4 862.2a0.9 1.9 0 1 1 1.7 0a0.9 1.9 0 1 1 -1.7 0M876.3 864.1a1.6 1.9 0 1 1 3.1 0a1.6 1.9 0 1 1 -3.1 0M877.6 865.8a1.4 1.2 0 1 1 2.8 0a1.4 1.2 0 1 1 -2.8 0M876.9 866.1a1.6 2.2 0 1 1 3.3 0a1.6 2.2 0 1 1 -3.3 0M879 868a1.5 2.3 0 1 1 3 0a1.5 2.3 0 1 1 -3 0M883.3 869.2a1.5 1.6 0 1 1 2.9 0a1.5 1.6 0 1 1 -2.9 0M879.3 869.6a0.8 1.1 0 1 1 1.6 0a0.8 1.1 0 1 1 -1.6 0M874.7 870.4a0.9 2.1 0 1 1 1.9 0a0.9 2.1 0 1 1 -1.9 0M873.3 871.3a1.5 1 0 1 1 3 0a1.5 1 0 1 1 -3 0M880.4 871.9a0.7 1.4 0 1 1 1.4 0a0.7 1.4 0 1 1 -1.4 0M880.4 872.4a0.7 1 0 1 1 1.5 0a0.7 1 0 1 1 -1.5 0M881.1 872.4a1.1 2.2 0 1 1 2.2 0a1.1 2.2 0 1 1 -2.2 0M883.2 873.4a1 1.8 0 1 1 1.9 0a1 1.8 0 1 1 -1.9 0M871 873.5a1.3 1.5 0 1 1 2.7 0a1.3 1.5 0 1 1 -2.7 0M880.9 873.8a1.3 2.1 0 1 1 2.6 0a1.3 2.1 0 1 1 -2.6 0M877.8 874a1.6 0.9 0 1 1 3.2 0a1.6 0.9 0 1 1 -3.2 0M874.9 875.9a1.2 1.8 0 1 1 2.4 0a1.2 1.8 0 1 1 -2.4 0M878.6 877a0.9 2 0 1 1 1.8 0a0.9 2 0 1 1 -1.8 0M879.3 877.1a0.8 1.9 0 1 1 1.5 0a0.8 1.9 0 1 1 -1.5 0M878.2 877.9a0.8 2.2 0 1 1 1.7 0a0.8 2.2 0 1 1 -1.7 0M881.3 878.4a0.9 1.3 0 1 1 1.8 0a0.9 1.3 0 1 1 -1.8 0M876.6 881.2a0.8 2.1 0 1 1 1.7 0a0.8 2.1 0 1 1 -1.7 0M877.3 885.7a0.9 2 0 1 1 1.8 0a0.9 2 0 1 1 -1.8 0M880.1 886.4a0.9 1 0 1 1 1.8 0a0.9 1 0 1 1 -1.8 0M875.6 886.6a1.6 1.1 0 1 1 3.2 0a1.6 1.1 0 1 1 -3.2 0M883.1 888a1.1 1.5 0 1 1 2.2 0a1.1 1.5 0 1 1 -2.2 0M882.2 888.5a1.1 1.7 0 1 1 2.3 0a1.1 1.7 0 1 1 -2.3 0M878.2 889.1a1.4 2.1 0 1 1 2.9 0a1.4 2.1 0 1 1 -2.9 0M875.6 889.8a1.4 1.4 0 1 1 2.9 0a1.4 1.4 0 1 1 -2.9 0M878.2 891.4a0.9 1.9 0 1 1 1.8 0a0.9 1.9 0 1 1 -1.8 0M878.8 892.2a1.4 1.9 0 1 1 2.7 0a1.4 1.9 0 1 1 -2.7 0M881.2 893.4a1.5 1.9 0 1 1 3.1 0a1.5 1.9 0 1 1 -3.1 0M873.2 893.7a1.3 2 0 1 1 2.7 0a1.3 2 0 1 1 -2.7 0M876.6 894.1a1.2 1 0 1 1 2.3 0a1.2 1 0 1 1 -2.3 0M882.9 896.7a0.9 2 0 1 1 1.8 0a0.9 2 0 1 1 -1.8 0M875.8 896.8a0.8 2.4 0 1 1 1.5 0a0.8 2.4 0 1 1 -1.5 0M876.5 898.9a1.3 2.4 0 1 1 2.5 0a1.3 2.4 0 1 1 -2.5 0M876.5 899a1.6 0.9 0 1 1 3.1 0a1.6 0.9 0 1 1 -3.1 0M881.2 899.3a0.8 1.6 0 1 1 1.5 0a0.8 1.6 0 1 1 -1.5 0M874.2 899.4a1.5 1.6 0 1 1 3 0a1.5 1.6 0 1 1 -3 0M880.9 899.7a1.6 2.3 0 1 1 3.3 0a1.6 2.3 0 1 1 -3.3 0M883.1 901.2a0.7 1.4 0 1 1 1.5 0a0.7 1.4 0 1 1 -1.5 0M879.2 902a1.2 2.4 0 1 1 2.5 0a1.2 2.4 0 1 1 -2.5 0M879.8 902.3a0.9 2 0 1 1 1.8 0a0.9 2 0 1 1 -1.8 0M875.3 903a1.4 1.4 0 1 1 2.8 0a1.4 1.4 0 1 1 -2.8 0M878.4 903.6a1.1 2 0 1 1 2.2 0a1.1 2 0 1 1 -2.2 0M871.5 904.1a0.8 1.5 0 1 1 1.6 0a0.8 1.5 0 1 1 -1.6 0M879.4 905.3a0.6 1.8 0 1 1 1.3 0a0.6 1.8 0 1 1 -1.3 0M879 905.3a1.5 2.4 0 1 1 3.1 0a1.5 2.4 0 1 1 -3.1 0M876.8 906.1a1.3 2 0 1 1 2.6 0a1.3 2 0 1 1 -2.6 0M874.3 907.5a1.4 1.5 0 1 1 2.8 0a1.4 1.5 0 1 1 -2.8 0M881.1 908a1.1 0.9 0 1 1 2.1 0a1.1 0.9 0 1 1 -2.1 0M875.9 908.1a0.6 2.5 0 1 1 1.3 0a0.6 2.5 0 1 1 -1.3 0M876.4 908.2a1.1 1.5 0 1 1 2.3 0a1.1 1.5 0 1 1 -2.3 0M882.6 910.5a1.6 2 0 1 1 3.2 0a1.6 2 0 1 1 -3.2 0M878.8 910.5a0.8 1.9 0 1 1 1.5 0a0.8 1.9 0 1 1 -1.5 0M879.5 911.5a0.7 1.3 0 1 1 1.3 0a0.7 1.3 0 1 1 -1.3 0M881.6 911.6a0.7 1.4 0 1 1 1.5 0a0.7 1.4 0 1 1 -1.5 0M877 911.6a0.7 1 0 1 1 1.5 0a0.7 1 0 1 1 -1.5 0M879.1 911.9a1.1 2.1 0 1 1 2.2 0a1.1 2.1 0 1 1 -2.2 0M876.9 912.2a1.5 1.6 0 1 1 3 0a1.5 1.6 0 1 1 -3 0M884.7 913.2a1.3 2.3 0 1 1 2.6 0a1.3 2.3 0 1 1 -2.6 0M880.8 913.7a0.9 1.9 0 1 1 1.8 0a0.9 1.9 0 1 1 -1.8 0M879.8 915.7a0.7 1.5 0 1 1 1.3 0a0.7 1.5 0 1 1 -1.3 0M879 916.8a0.8 2.3 0 1 1 1.6 0a0.8 2.3 0 1 1 -1.6 0M877.6 917.5a0.7 2.3 0 1 1 1.3 0a0.7 2.3 0 1 1 -1.3 0M882.3 918.4a0.9 1.2 0 1 1 1.9 0a0.9 1.2 0 1 1 -1.9 0M875.8 922.9a1.6 2.4 0 1 1 3.2 0a1.6 2.4 0 1 1 -3.2 0M879 923a1 2.3 0 1 1 2 0a1 2.3 0 1 1 -2 0M874.3 923.2a1.6 1.5 0 1 1 3.1 0a1.6 1.5 0 1 1 -3.1 0M877 924.2a1 1.5 0 1 1 2.1 0a1 1.5 0 1 1 -2.1 0M877.5 924.4a1.1 1.6 0 1 1 2.2 0a1.1 1.6 0 1 1 -2.2 0M879.5 925.2a0.9 1.3 0 1 1 1.9 0a0.9 1.3 0 1 1 -1.9 0M875.8 925.3a1.5 0.9 0 1 1 3 0a1.5 0.9 0 1 1 -3 0M882.3 925.5a1.2 2.5 0 1 1 2.3 0a1.2 2.5 0 1 1 -2.3 0M877.7 926.6a1.2 1.7 0 1 1 2.5 0a1.2 1.7 0 1 1 -2.5 0M879 927a1.3 2.3 0 1 1 2.7 0a1.3 2.3 0 1 1 -2.7 0M879 927.5a1.3 2.1 0 1 1 2.6 0a1.3 2.1 0 1 1 -2.6 0M873 927.9a0.8 2.2 0 1 1 1.6 0a0.8 2.2 0 1 1 -1.6 0M881.3 928.4a1.5 1 0 1 1 2.9 0a1.5 1 0 1 1 -2.9 0M879.9 930.7a1.4 1.3 0 1 1 2.9 0a1.4 1.3 0 1 1 -2.9 0M878.2 931.1a1.2 2 0 1 1 2.3 0a1.2 2 0 1 1 -2.3 0M877.4 932.8a1 1.9 0 1 1 2.1 0a1 1.9 0 1 1 -2.1 0M879.6 933.6a0.6 0.9 0 1 1 1.3 0a0.6 0.9 0 1 1 -1.3 0M880.3 934.1a0.7 1 0 1 1 1.3 0a0.7 1 0 1 1 -1.3 0M881.8 934.4a0.9 1 0 1 1 1.9 0a0.9 1 0 1 1 -1.9 0M877.5 934.6a1.4 1 0 1 1 2.9 0a1.4 1 0 1 1 -2.9 0M880.3 934.9a1.6 0.9 0 1 1 3.3 0a1.6 0.9 0 1 1 -3.3 0M878.4 935a1.4 1.2 0 1 1 2.8 0a1.4 1.2 0 1 1 -2.8 0M878.5 936.8a1.4 2.5 0 1 1 2.7 0a1.4 2.5 0 1 1 -2.7 0M882.1 940.2a1.3 1.2 0 1 1 2.6 0a1.3 1.2 0 1 1 -2.6 0M877.6 941a1.7 2.5 0 1 1 3.4 0a1.7 2.5 0 1 1 -3.4 0M879.1 942.1a0.9 1.1 0 1 1 1.7 0a0.9 1.1 0 1 1 -1.7 0M877.5 942.2a1.5 0.9 0 1 1 3 0a1.5 0.9 0 1 1 -3 0M876.7 942.7a1.6 2.4 0 1 1 3.2 0a1.6 2.4 0 1 1 -3.2 0M876.3 944a0.7 2.4 0 1 1 1.3 0a0.7 2.4 0 1 1 -1.3 0M876.8 945.4a1.2 1.7 0 1 1 2.3 0a1.2 1.7 0 1 1 -2.3 0M879.1 945.8a1.5 1.1 0 1 1 3 0a1.5 1.1 0 1 1 -3 0M876.2 946a1.3 1.5 0 1 1 2.6 0a1.3 1.5 0 1 1 -2.6 0M880 946.7a0.9 2.5 0 1 1 1.8 0a0.9 2.5 0 1 1 -1.8 0M878.7 948.4a1.1 1.9 0 1 1 2.2 0a1.1 1.9 0 1 1 -2.2 0M881 950.3a0.8 1.7 0 1 1 1.7 0a0.8 1.7 0 1 1 -1.7 0M879.2 952.4a1.5 1.9 0 1 1 2.9 0a1.5 1.9 0 1 1 -2.9 0M875.9 952.4a1.6 1.5 0 1 1 3.1 0a1.6 1.5 0 1 1 -3.1 0M884 952.7a0.8 1.7 0 1 1 1.5 0a0.8 1.7 0 1 1 -1.5 0M878.1 953a1.1 2.3 0 1 1 2.1 0a1.1 2.3 0 1 1 -2.1 0M879.8 953.3a1.1 0.9 0 1 1 2.1 0a1.1 0.9 0 1 1 -2.1 0M880.1 953.6a1.2 1.9 0 1 1 2.3 0a1.2 1.9 0 1 1 -2.3 0M882 953.9a0.8 1.2 0 1 1 1.6 0a0.8 1.2 0 1 1 -1.6 0M879.5 954.7a1.1 1.7 0 1 1 2.3 0a1.1 1.7 0 1 1 -2.3 0M880.4 954.9a1.2 1.5 0 1 1 2.5 0a1.2 1.5 0 1 1 -2.5 0M882 955a1.1 0.9 0 1 1 2.1 0a1.1 0.9 0 1 1 -2.1 0M875 955.9a0.7 1.8 0 1 1 1.3 0a0.7 1.8 0 1 1 -1.3 0M878.6 956.4a1.3 1.2 0 1 1 2.6 0a1.3 1.2 0 1 1 -2.6 0M879.7 957.6a0.9 1.7 0 1 1 1.8 0a0.9 1.7 0 1 1 -1.8 0M878.5 958.3a1.5 1.5 0 1 1 3 0a1.5 1.5 0 1 1 -3 0M879.2 960.8a1 1.2 0 1 1 2.1 0a1 1.2 0 1 1 -2.1 0M877.7 961.8a0.8 1.8 0 1 1 1.6 0a0.8 1.8 0 1 1 -1.6 0M881.1 962.8a1.5 1.8 0 1 1 3.1 0a1.5 1.8 0 1 1 -3.1 0M875.4 963.6a0.8 1.3 0 1 1 1.6 0a0.8 1.3 0 1 1 -1.6 0M880.6 964.6a1.3 2.1 0 1 1 2.7 0a1.3 2.1 0 1 1 -2.7 0M880.3 964.7a1.7 2.3 0 1 1 3.3 0a1.7 2.3 0 1 1 -3.3 0M877.8 964.9a1.4 1.3 0 1 1 2.9 0a1.4 1.3 0 1 1 -2.9 0M873.5 965a1.1 2.4 0 1 1 2.2 0a1.1 2.4 0 1 1 -2.2 0M879.7 965.8a1.1 1.5 0 1 1 2.2 0a1.1 1.5 0 1 1 -2.2 0M879.7 966.6a0.9 1.2 0 1 1 1.7 0a0.9 1.2 0 1 1 -1.7 0M877.2 967.5a1.7 1.8 0 1 1 3.3 0a1.7 1.8 0 1 1 -3.3 0M877.3 969a1.4 1.3 0 1 1 2.8 0a1.4 1.3 0 1 1 -2.8 0M877.2 969.9a0.8 1.6 0 1 1 1.6 0a0.8 1.6 0 1 1 -1.6 0M880.5 971a1.4 1 0 1 1 2.7 0a1.4 1 0 1 1 -2.7 0M878.6 971.5a1 1.7 0 1 1 2 0a1 1.7 0 1 1 -2 0M876.4 971.6a1.5 2.4 0 1 1 3.1 0a1.5 2.4 0 1 1 -3.1 0M877.2 971.8a1 1.3 0 1 1 2 0a1 1.3 0 1 1 -2 0M878.2 972a1.7 2 0 1 1 3.3 0a1.7 2 0 1 1 -3.3 0M879.6 973.3a1.1 1.8 0 1 1 2.2 0a1.1 1.8 0 1 1 -2.2 0M882.1 974.6a1 0.9 0 1 1 2.1 0a1 0.9 0 1 1 -2.1 0M878.7 976.5a0.8 1 0 1 1 1.7 0a0.8 1 0 1 1 -1.7 0M878.1 977.2a1.4 1 0 1 1 2.7 0a1.4 1 0 1 1 -2.7 0M880 979a1.3 1.7 0 1 1 2.5 0a1.3 1.7 0 1 1 -2.5 0M878.5 979.8a1.5 1.5 0 1 1 2.9 0a1.5 1.5 0 1 1 -2.9 0M876.1 980.4a0.7 1.8 0 1 1 1.5 0a0.7 1.8 0 1 1 -1.5 0M880.1 980.5a1.3 1 0 1 1 2.5 0a1.3 1 0 1 1 -2.5 0M878.7 980.9a1.2 2.5 0 1 1 2.3 0a1.2 2.5 0 1 1 -2.3 0M878.3 983.9a1.3 2.4 0 1 1 2.7 0a1.3 2.4 0 1 1 -2.7 0M877.9 984a1.2 1.4 0 1 1 2.5 0a1.2 1.4 0 1 1 -2.5 0M879 984.5a1.4 2.4 0 1 1 2.8 0a1.4 2.4 0 1 1 -2.8 0M881.8 984.8a0.9 1.6 0 1 1 1.8 0a0.9 1.6 0 1 1 -1.8 0M873.8 985.5a1.4 1.9 0 1 1 2.9 0a1.4 1.9 0 1 1 -2.9 0M880.6 987.2a0.9 2.3 0 1 1 1.8 0a0.9 2.3 0 1 1 -1.8 0M878.8 988.3a1.6 1.9 0 1 1 3.2 0a1.6 1.9 0 1 1 -3.2 0M877.8 989.4a1.6 1.8 0 1 1 3.1 0a1.6 1.8 0 1 1 -3.1 0M874.2 990.3a1.6 2.2 0 1 1 3.3 0a1.6 2.2 0 1 1 -3.3 0M876.5 991.2a0.9 1.2 0 1 1 1.8 0a0.9 1.2 0 1 1 -1.8 0M879 991.5a1.5 1.3 0 1 1 2.9 0a1.5 1.3 0 1 1 -2.9 0M875.6 993.1a0.8 2.3 0 1 1 1.5 0a0.8 2.3 0 1 1 -1.5 0M881.1 993.4a1.2 2.1 0 1 1 2.5 0a1.2 2.1 0 1 1 -2.5 0M645.3 371.5h7.6v12.8h-7.6zM654.2 366h1.6v18h-1.6zM652 371.5h3v1.2h-3zM116 327.2h175v1.3h-175zM294.1 328a0.9 0.7 0 1 1 1.8 0a0.9 0.7 0 1 1 -1.8 0M299.1 328a0.9 0.7 0 1 1 1.8 0a0.9 0.7 0 1 1 -1.8 0M304.1 328a0.9 0.7 0 1 1 1.8 0a0.9 0.7 0 1 1 -1.8 0M316.7 328a0.9 0.7 0 1 1 1.8 0a0.9 0.7 0 1 1 -1.8 0M333.6 328a0.9 0.7 0 1 1 1.8 0a0.9 0.7 0 1 1 -1.8 0M344.9 328a0.9 0.7 0 1 1 1.8 0a0.9 0.7 0 1 1 -1.8 0M357.1 328a0.9 0.7 0 1 1 1.8 0a0.9 0.7 0 1 1 -1.8 0M116 384.5h42v2.8h-42zM158 384.4h48v0.9h-48zM158 386.4h48v0.9h-48zM207 385.2h20v1.3h-20zM256.3 386a1.1 0.9 0 1 1 2.2 0a1.1 0.9 0 1 1 -2.2 0M284.5 386a1.1 0.9 0 1 1 2.2 0a1.1 0.9 0 1 1 -2.2 0M524 385.4h132v1.3h-132zM656 385.4h5.9v1.2h-5.9zM663.2 385.4h3.9v1.2h-3.9zM669.3 385.4h6.1v1.2h-6.1zM677.8 385.4h7.1v1.2h-7.1zM688.2 385.4h2.4v1.2h-2.4zM693 385.4h3v1.2h-3zM700.2 385.4h2.4v1.2h-2.4zM706.3 385.4h3.5v1.2h-3.5zM714.4 385.4h2.8v1.2h-2.8zM718.4 385.4h6v1.2h-6zM726 385.4h0v1.2h-0zM515 385.4h5v1.2h-5zM747 386a1 0.8 0 1 1 2 0a1 0.8 0 1 1 -2 0M780 387a1 0.8 0 1 1 2 0a1 0.8 0 1 1 -2 0M747.6 385.1a1 0.8 0 1 1 2 0a1 0.8 0 1 1 -2 0M780 386.5L830 385L900 382.8L997 383.2V389L900 389L830 387.5ZM116 652.9h440v2.8h-440zM573 653.5h97v1.5h-97zM670 653.8h7.1v1.1h-7.1zM681.4 653.8h7v1.1h-7zM692.3 653.8h4.3v1.1h-4.3zM701.1 653.8h3.4v1.1h-3.4zM709 653.8h7.3v1.1h-7.3zM720.9 653.8h4.2v1.1h-4.2zM729.9 653.8h5.3v1.1h-5.3zM737.7 653.8h3.1v1.1h-3.1zM744.1 653.8h7v1.1h-7zM754.7 653.8h0.3v1.1h-0.3zM636 653h26v2.5h-26zM794.9 654a1.1 0.9 0 1 1 2.2 0a1.1 0.9 0 1 1 -2.2 0M488.7 697a1.1 0.9 0 1 1 2.2 0a1.1 0.9 0 1 1 -2.2 0M116 696.5h65v1.4h-65zM181 696.6h7.7v1.3h-7.7zM192.4 696.6h2.7v1.3h-2.7zM199.3 696.6h6.5v1.3h-6.5zM206.9 696.6h2.9v1.3h-2.9zM214.5 696.6h6v1.3h-6zM225 696.6h3.6v1.3h-3.6zM230.3 696.6h6.3v1.3h-6.3zM240.5 696.6h4.3v1.3h-4.3zM247.4 696.6h4.2v1.3h-4.2zM255.3 696.6h7.6v1.3h-7.6zM264 696.6h5.7v1.3h-5.7zM274.7 696.6h3.5v1.3h-3.5zM279.6 696.6h3.1v1.3h-3.1zM286.7 696.6h6.9v1.3h-6.9zM294.6 696.6h3.2v1.3h-3.2zM301.6 696.6h3.7v1.3h-3.7zM308.9 696.6h6.8v1.3h-6.8zM320.7 696.6h3.2v1.3h-3.2zM328.3 696.6h3.4v1.3h-3.4zM335 696.6h3.4v1.3h-3.4zM339.8 696.6h3.2v1.3h-3.2zM116 838.1h135v1.4h-135zM536 838h16v1.5h-16zM872 838h16v1.5h-16zM775 838.2h6v1.2h-6zM256.7 838h3.3v1.5h-3.3zM963 595.1h5.7v1.2h-5.7zM972.9 595.1h4.2v1.2h-4.2zM980.7 595.1h2.3v1.2h-2.3zM985.9 595.1h7.1v1.2h-7.1zM996.3 595.1h0.7v1.2h-0.7zM974 309a1 0.8 0 1 1 2 0a1 0.8 0 1 1 -2 0M776 838a1 0.8 0 1 1 2 0a1 0.8 0 1 1 -2 0M984 838a1 0.8 0 1 1 2 0a1 0.8 0 1 1 -2 0M795.2 965.4a1 0.8 0 1 1 2 0a1 0.8 0 1 1 -2 0M196 930a1 0.8 0 1 1 2 0a1 0.8 0 1 1 -2 0M235.9 897.5a1 0.8 0 1 1 2 0a1 0.8 0 1 1 -2 0M850.6 408.6a4.5 1.8 -40 1 1 6.9 -5.8a4.5 1.8 -40 1 1 -6.9 5.8M838.1 417.1a5 1.8 -38 1 1 7.9 -6.2a5 1.8 -38 1 1 -7.9 6.2M831.3 421.8a3 1.6 -38 1 1 4.7 -3.7a3 1.6 -38 1 1 -4.7 3.7M820.5 433.4a3.8 2 -40 1 1 5.8 -4.9a3.8 2 -40 1 1 -5.8 4.9M812.9 436a2.5 2.5 0 1 1 5 0a2.5 2.5 0 1 1 -5 0M802.9 447.6a4 2 -40 1 1 6.1 -5.1a4 2 -40 1 1 -6.1 5.1M793.9 454.6a4 2 -40 1 1 6.1 -5.1a4 2 -40 1 1 -6.1 5.1M782.9 463.6a4 2 -40 1 1 6.1 -5.1a4 2 -40 1 1 -6.1 5.1M770 473.1a2.6 1.7 -40 1 1 4 -3.3a2.6 1.7 -40 1 1 -4 3.3M730.8 504.8a2.2 1.5 -30 1 1 3.8 -2.2a2.2 1.5 -30 1 1 -3.8 2.2M702.3 523.2a3.5 1.6 -40 1 1 5.4 -4.5a3.5 1.6 -40 1 1 -5.4 4.5M690.2 533.2a5 2 -40 1 1 7.7 -6.4a5 2 -40 1 1 -7.7 6.4M680.2 542.2a5 2.2 -40 1 1 7.7 -6.4a5 2.2 -40 1 1 -7.7 6.4M636.9 587.6a4 2.2 -40 1 1 6.1 -5.1a4 2.2 -40 1 1 -6.1 5.1M624.9 594.6a4 2 -40 1 1 6.1 -5.1a4 2 -40 1 1 -6.1 5.1M614.5 599.3a4 2 -35 1 1 6.6 -4.6a4 2 -35 1 1 -6.6 4.6M603.2 604.7a2 2 0 1 1 4 0a2 2 0 1 1 -4 0M584.6 619.8a2 1.5 -30 1 1 3.5 -2a2 1.5 -30 1 1 -3.5 2M580.5 621a1.5 1.2 0 1 1 3 0a1.5 1.2 0 1 1 -3 0M269.5 870a2.5 2 0 1 1 5 0a2.5 2 0 1 1 -5 0M249.8 887a2.5 2.3 0 1 1 5 0a2.5 2.3 0 1 1 -5 0M235.6 897.5a1.3 1.1 0 1 1 2.6 0a1.3 1.1 0 1 1 -2.6 0M196 930a1 1 0 1 1 2 0a1 1 0 1 1 -2 0M671.1 568.8a1 1.5 0 1 1 1.9 0a1 1.5 0 1 1 -1.9 0M666.9 559.5a1.3 0.9 0 1 1 2.5 0a1.3 0.9 0 1 1 -2.5 0M652.5 552.8a1.2 1.1 0 1 1 2.4 0a1.2 1.1 0 1 1 -2.4 0M665.8 542.5a1 0.9 0 1 1 2 0a1 0.9 0 1 1 -2 0M668.2 560.1a1.5 1 0 1 1 2.9 0a1.5 1 0 1 1 -2.9 0M634.1 571.4a1.3 1.5 0 1 1 2.7 0a1.3 1.5 0 1 1 -2.7 0M675.1 563.8a1.3 0.9 0 1 1 2.5 0a1.3 0.9 0 1 1 -2.5 0M669.8 562.6a1.1 1.4 0 1 1 2.3 0a1.1 1.4 0 1 1 -2.3 0M653.3 565a1.5 1.1 0 1 1 2.9 0a1.5 1.1 0 1 1 -2.9 0M660.4 541.2a0.7 1.3 0 1 1 1.4 0a0.7 1.3 0 1 1 -1.4 0M659.9 580a0.9 0.8 0 1 1 1.8 0a0.9 0.8 0 1 1 -1.8 0M669.5 554a1.2 0.9 0 1 1 2.4 0a1.2 0.9 0 1 1 -2.4 0M648.3 571.4a0.7 0.8 0 1 1 1.4 0a0.7 0.8 0 1 1 -1.4 0M646.3 570a0.9 0.8 0 1 1 1.8 0a0.9 0.8 0 1 1 -1.8 0M653.1 552.4a1.1 0.6 0 1 1 2.1 0a1.1 0.6 0 1 1 -2.1 0M650.3 562.2a1.2 1.3 0 1 1 2.4 0a1.2 1.3 0 1 1 -2.4 0M673.7 564a1 0.7 0 1 1 2.1 0a1 0.7 0 1 1 -2.1 0M668.6 567.3a1.4 1.2 0 1 1 2.9 0a1.4 1.2 0 1 1 -2.9 0M657.8 553.8a0.7 1 0 1 1 1.3 0a0.7 1 0 1 1 -1.3 0M661.8 570.3a0.8 0.8 0 1 1 1.7 0a0.8 0.8 0 1 1 -1.7 0M644.9 547.6a1.5 1.1 0 1 1 3 0a1.5 1.1 0 1 1 -3 0M644 564.5a1.1 1.4 0 1 1 2.2 0a1.1 1.4 0 1 1 -2.2 0M661.4 558.2a1.4 1.4 0 1 1 2.8 0a1.4 1.4 0 1 1 -2.8 0M656.6 547.9a0.8 1.4 0 1 1 1.6 0a0.8 1.4 0 1 1 -1.6 0M655 572.9a0.7 0.6 0 1 1 1.4 0a0.7 0.6 0 1 1 -1.4 0M675.8 567.4a1.5 0.8 0 1 1 2.9 0a1.5 0.8 0 1 1 -2.9 0M675.6 555.9a0.6 0.6 0 1 1 1.2 0a0.6 0.6 0 1 1 -1.2 0M636.3 573.8a1.1 0.8 0 1 1 2.2 0a1.1 0.8 0 1 1 -2.2 0M664.8 548.3a1.4 0.6 0 1 1 2.8 0a1.4 0.6 0 1 1 -2.8 0M675.3 566.2a1.3 1.1 0 1 1 2.5 0a1.3 1.1 0 1 1 -2.5 0M642.2 565.9a1 1.5 0 1 1 2 0a1 1.5 0 1 1 -2 0M659 570.6a0.7 1.1 0 1 1 1.3 0a0.7 1.1 0 1 1 -1.3 0M675 547.5a1 1 0 1 1 2.1 0a1 1 0 1 1 -2.1 0M642.6 560a0.6 0.7 0 1 1 1.2 0a0.6 0.7 0 1 1 -1.2 0M664 549.2a0.7 1.2 0 1 1 1.4 0a0.7 1.2 0 1 1 -1.4 0M639.7 577.3a0.8 1.1 0 1 1 1.7 0a0.8 1.1 0 1 1 -1.7 0M667.9 564.8a0.7 1.4 0 1 1 1.4 0a0.7 1.4 0 1 1 -1.4 0M664.5 576.3a0.7 1 0 1 1 1.5 0a0.7 1 0 1 1 -1.5 0M669.4 558.3a0.9 1.4 0 1 1 1.7 0a0.9 1.4 0 1 1 -1.7 0M639.9 552.8a1.2 1.1 0 1 1 2.5 0a1.2 1.1 0 1 1 -2.5 0M634 569.7a1 0.9 0 1 1 1.9 0a1 0.9 0 1 1 -1.9 0M672.8 569a1.2 1.2 0 1 1 2.4 0a1.2 1.2 0 1 1 -2.4 0M659.3 572.3a1.2 0.8 0 1 1 2.4 0a1.2 0.8 0 1 1 -2.4 0M665 552.4a0.8 1.4 0 1 1 1.6 0a0.8 1.4 0 1 1 -1.6 0M660.4 562.1a1.2 1.4 0 1 1 2.5 0a1.2 1.4 0 1 1 -2.5 0M663.9 572.2a0.8 1.4 0 1 1 1.6 0a0.8 1.4 0 1 1 -1.6 0M655.7 551.1a1.3 1.3 0 1 1 2.5 0a1.3 1.3 0 1 1 -2.5 0M657 571.7a1 0.9 0 1 1 1.9 0a1 0.9 0 1 1 -1.9 0M654.2 564.2a0.8 1.1 0 1 1 1.7 0a0.8 1.1 0 1 1 -1.7 0M677 551a0.8 1 0 1 1 1.7 0a0.8 1 0 1 1 -1.7 0M654.9 573a0.7 0.9 0 1 1 1.4 0a0.7 0.9 0 1 1 -1.4 0M648.9 558.3a1.2 1 0 1 1 2.5 0a1.2 1 0 1 1 -2.5 0M634.4 566.7a0.6 0.9 0 1 1 1.2 0a0.6 0.9 0 1 1 -1.2 0M649.7 549.1a1.2 0.9 0 1 1 2.3 0a1.2 0.9 0 1 1 -2.3 0M662 576.9a0.9 1.4 0 1 1 1.7 0a0.9 1.4 0 1 1 -1.7 0M659.6 542.2a0.7 0.7 0 1 1 1.5 0a0.7 0.7 0 1 1 -1.5 0M635.9 562.5a1.1 0.6 0 1 1 2.1 0a1.1 0.6 0 1 1 -2.1 0M659.4 575.3a0.6 0.6 0 1 1 1.3 0a0.6 0.6 0 1 1 -1.3 0M671.3 561.8a0.8 0.7 0 1 1 1.5 0a0.8 0.7 0 1 1 -1.5 0M649.9 579a1 0.8 0 1 1 1.9 0a1 0.8 0 1 1 -1.9 0M657 541a1 0.8 0 1 1 2.1 0a1 0.8 0 1 1 -2.1 0M635.4 561.9a1.4 1.2 0 1 1 2.9 0a1.4 1.2 0 1 1 -2.9 0M651.3 549.1a0.9 1.2 0 1 1 1.7 0a0.9 1.2 0 1 1 -1.7 0M674.1 554.8a0.6 1.2 0 1 1 1.2 0a0.6 1.2 0 1 1 -1.2 0M672.9 559.5a1.3 0.8 0 1 1 2.6 0a1.3 0.8 0 1 1 -2.6 0M671.4 552.1a1.1 1.1 0 1 1 2.2 0a1.1 1.1 0 1 1 -2.2 0M640.9 571.6a0.8 0.8 0 1 1 1.6 0a0.8 0.8 0 1 1 -1.6 0M668.1 546.1a1.4 1 0 1 1 2.8 0a1.4 1 0 1 1 -2.8 0M673.4 555.7a1 1.5 0 1 1 2 0a1 1.5 0 1 1 -2 0M644.4 565.1a0.8 0.9 0 1 1 1.7 0a0.8 0.9 0 1 1 -1.7 0M641.6 558.8a1.1 1.4 0 1 1 2.2 0a1.1 1.4 0 1 1 -2.2 0M650.3 569.2a1 1.1 0 1 1 2 0a1 1.1 0 1 1 -2 0M667 561.4a1 0.7 0 1 1 2 0a1 0.7 0 1 1 -2 0M653.5 568a0.8 0.7 0 1 1 1.6 0a0.8 0.7 0 1 1 -1.6 0M679.1 560.7a0.6 1.3 0 1 1 1.3 0a0.6 1.3 0 1 1 -1.3 0M651.8 580.3a1.2 1 0 1 1 2.3 0a1.2 1 0 1 1 -2.3 0M678.8 554.1a1.1 1 0 1 1 2.3 0a1.1 1 0 1 1 -2.3 0M661.7 547a0.8 1 0 1 1 1.6 0a0.8 1 0 1 1 -1.6 0M669 575.3a1.1 0.7 0 1 1 2.3 0a1.1 0.7 0 1 1 -2.3 0M639.9 558.9a0.9 0.7 0 1 1 1.9 0a0.9 0.7 0 1 1 -1.9 0M671.1 546.6a1.2 1.2 0 1 1 2.5 0a1.2 1.2 0 1 1 -2.5 0M657.3 569.9a0.8 0.8 0 1 1 1.6 0a0.8 0.8 0 1 1 -1.6 0M669.6 544.9a0.8 0.9 0 1 1 1.5 0a0.8 0.9 0 1 1 -1.5 0M639.7 568.5a1.2 1.2 0 1 1 2.4 0a1.2 1.2 0 1 1 -2.4 0M654.2 546.2a1.2 0.8 0 1 1 2.5 0a1.2 0.8 0 1 1 -2.5 0M664.1 572.3a1.4 1.4 0 1 1 2.8 0a1.4 1.4 0 1 1 -2.8 0M645.1 550.5a1.1 1 0 1 1 2.2 0a1.1 1 0 1 1 -2.2 0M662.7 571.6a1.4 1.5 0 1 1 2.8 0a1.4 1.5 0 1 1 -2.8 0M660.7 566.7a0.6 1.1 0 1 1 1.2 0a0.6 1.1 0 1 1 -1.2 0M662.7 546.9a0.8 1.2 0 1 1 1.6 0a0.8 1.2 0 1 1 -1.6 0M650.8 576.5a0.6 1.2 0 1 1 1.3 0a0.6 1.2 0 1 1 -1.3 0M679.1 559.3a0.9 0.9 0 1 1 1.7 0a0.9 0.9 0 1 1 -1.7 0M643.6 562.2a1 1 0 1 1 2 0a1 1 0 1 1 -2 0M657.2 556.8a1.4 1.1 0 1 1 2.7 0a1.4 1.1 0 1 1 -2.7 0M657.3 575.6a1 0.6 0 1 1 2.1 0a1 0.6 0 1 1 -2.1 0M639.9 572.2a0.7 0.6 0 1 1 1.3 0a0.7 0.6 0 1 1 -1.3 0M659 562.8a1.2 1.4 0 1 1 2.3 0a1.2 1.4 0 1 1 -2.3 0M650.6 561.6a0.9 0.6 0 1 1 1.9 0a0.9 0.6 0 1 1 -1.9 0M642.3 557a0.8 1.2 0 1 1 1.5 0a0.8 1.2 0 1 1 -1.5 0M645.4 556.6a1 0.9 0 1 1 1.9 0a1 0.9 0 1 1 -1.9 0M650.8 558.9a1.5 0.6 0 1 1 3 0a1.5 0.6 0 1 1 -3 0M663.3 546.9a1.3 0.7 0 1 1 2.7 0a1.3 0.7 0 1 1 -2.7 0M648.5 580.5a1.1 1.3 0 1 1 2.3 0a1.1 1.3 0 1 1 -2.3 0M672.1 545.9a1.2 1.1 0 1 1 2.3 0a1.2 1.1 0 1 1 -2.3 0M657.1 567.1a1.2 1.4 0 1 1 2.4 0a1.2 1.4 0 1 1 -2.4 0M648.2 546.5a0.9 0.9 0 1 1 1.8 0a0.9 0.9 0 1 1 -1.8 0M635.9 562.9a1.3 0.8 0 1 1 2.6 0a1.3 0.8 0 1 1 -2.6 0M669.5 547.3a0.9 0.6 0 1 1 1.8 0a0.9 0.6 0 1 1 -1.8 0M670.1 552.4a1.1 1 0 1 1 2.1 0a1.1 1 0 1 1 -2.1 0M653.6 569.7a1.1 1 0 1 1 2.1 0a1.1 1 0 1 1 -2.1 0M668.8 562.4a0.7 1.2 0 1 1 1.3 0a0.7 1.2 0 1 1 -1.3 0M670 551.3a1.5 1.1 0 1 1 2.9 0a1.5 1.1 0 1 1 -2.9 0M663 561.5a1.1 1.4 0 1 1 2.2 0a1.1 1.4 0 1 1 -2.2 0M664.7 555.2a0.9 0.9 0 1 1 1.7 0a0.9 0.9 0 1 1 -1.7 0M647.1 575.6a1 1 0 1 1 2.1 0a1 1 0 1 1 -2.1 0M637.7 570.2a0.9 1.4 0 1 1 1.7 0a0.9 1.4 0 1 1 -1.7 0M636.6 563.3a1.1 1.2 0 1 1 2.1 0a1.1 1.2 0 1 1 -2.1 0M674.6 561.2a0.9 0.8 0 1 1 1.7 0a0.9 0.8 0 1 1 -1.7 0M676.2 552.7a1.3 0.7 0 1 1 2.6 0a1.3 0.7 0 1 1 -2.6 0M662.4 540.6a1.3 1.2 0 1 1 2.7 0a1.3 1.2 0 1 1 -2.7 0M657.1 547.6a1.2 1 0 1 1 2.3 0a1.2 1 0 1 1 -2.3 0M636 556a1.3 1.4 0 1 1 2.5 0a1.3 1.4 0 1 1 -2.5 0M641.8 574.9a1.5 0.9 0 1 1 3 0a1.5 0.9 0 1 1 -3 0M643.1 572.2a0.7 0.9 0 1 1 1.4 0a0.7 0.9 0 1 1 -1.4 0M642.7 570a0.6 1.3 0 1 1 1.3 0a0.6 1.3 0 1 1 -1.3 0M652 549.5a0.9 1 0 1 1 1.8 0a0.9 1 0 1 1 -1.8 0M653.8 571a1.2 0.7 0 1 1 2.4 0a1.2 0.7 0 1 1 -2.4 0M649.7 545.6a1.4 1.2 0 1 1 2.9 0a1.4 1.2 0 1 1 -2.9 0M646.5 563.9a0.7 1.2 0 1 1 1.4 0a0.7 1.2 0 1 1 -1.4 0M641.9 575.1a1.2 1.1 0 1 1 2.5 0a1.2 1.1 0 1 1 -2.5 0M675.1 554.7a1 1.4 0 1 1 2 0a1 1.4 0 1 1 -2 0M664.3 563.1a1.2 1.4 0 1 1 2.5 0a1.2 1.4 0 1 1 -2.5 0M658.9 557.8a1.2 1 0 1 1 2.3 0a1.2 1 0 1 1 -2.3 0M655.3 576.4a1 1.1 0 1 1 2 0a1 1.1 0 1 1 -2 0M645.8 566.4a0.9 0.9 0 1 1 1.8 0a0.9 0.9 0 1 1 -1.8 0M651 575.6a0.8 1.1 0 1 1 1.7 0a0.8 1.1 0 1 1 -1.7 0M673.3 552.3a1.3 1.3 0 1 1 2.6 0a1.3 1.3 0 1 1 -2.6 0M658.6 574.3a0.8 1 0 1 1 1.6 0a0.8 1 0 1 1 -1.6 0M646.6 560.2a1.4 1.3 0 1 1 2.8 0a1.4 1.3 0 1 1 -2.8 0M633.5 566.8a1.5 1.5 0 1 1 3 0a1.5 1.5 0 1 1 -3 0M642.3 566.9a1.5 0.9 0 1 1 3 0a1.5 0.9 0 1 1 -3 0M668.3 562.7a1.1 1.3 0 1 1 2.2 0a1.1 1.3 0 1 1 -2.2 0M645.1 575.6a1.3 1 0 1 1 2.6 0a1.3 1 0 1 1 -2.6 0M641.8 556.2a1.4 1 0 1 1 2.9 0a1.4 1 0 1 1 -2.9 0M644.7 567.5a1.2 1.1 0 1 1 2.4 0a1.2 1.1 0 1 1 -2.4 0M637.3 570a1.4 1.5 0 1 1 2.9 0a1.4 1.5 0 1 1 -2.9 0M668.7 553a1.3 1.5 0 1 1 2.7 0a1.3 1.5 0 1 1 -2.7 0M655.6 554.3a0.6 0.7 0 1 1 1.3 0a0.6 0.7 0 1 1 -1.3 0M638.3 553.1a0.7 1.3 0 1 1 1.3 0a0.7 1.3 0 1 1 -1.3 0M671.1 550.7a1.4 1.5 0 1 1 2.8 0a1.4 1.5 0 1 1 -2.8 0M655.3 565.2a0.9 1.3 0 1 1 1.8 0a0.9 1.3 0 1 1 -1.8 0M635.1 562.5a1.2 0.9 0 1 1 2.5 0a1.2 0.9 0 1 1 -2.5 0M644.8 565.8a1.2 0.9 0 1 1 2.4 0a1.2 0.9 0 1 1 -2.4 0M643.3 567.6a0.6 0.9 0 1 1 1.3 0a0.6 0.9 0 1 1 -1.3 0M649.3 551.6a1 1.1 0 1 1 1.9 0a1 1.1 0 1 1 -1.9 0M659.4 555a0.9 1.4 0 1 1 1.8 0a0.9 1.4 0 1 1 -1.8 0M666.5 554.2a1.2 1 0 1 1 2.5 0a1.2 1 0 1 1 -2.5 0M637.1 555.3a0.6 0.9 0 1 1 1.2 0a0.6 0.9 0 1 1 -1.2 0M656.4 551.1a1.3 0.8 0 1 1 2.6 0a1.3 0.8 0 1 1 -2.6 0M676.5 563.7a1.2 1.1 0 1 1 2.5 0a1.2 1.1 0 1 1 -2.5 0M644.6 559.1a1.1 1.2 0 1 1 2.2 0a1.1 1.2 0 1 1 -2.2 0M658.4 576.5a1.2 1.2 0 1 1 2.3 0a1.2 1.2 0 1 1 -2.3 0M657.9 561.9a0.9 1.3 0 1 1 1.7 0a0.9 1.3 0 1 1 -1.7 0M652.9 569a0.9 1.4 0 1 1 1.9 0a0.9 1.4 0 1 1 -1.9 0M638.4 559.4a1.3 0.8 0 1 1 2.7 0a1.3 0.8 0 1 1 -2.7 0M639.8 553.3a1 1.2 0 1 1 2.1 0a1 1.2 0 1 1 -2.1 0M642.5 571.6a1.2 0.8 0 1 1 2.4 0a1.2 0.8 0 1 1 -2.4 0M648.2 571.1a1.3 1.3 0 1 1 2.6 0a1.3 1.3 0 1 1 -2.6 0M672.4 566.8a1.2 1 0 1 1 2.4 0a1.2 1 0 1 1 -2.4 0M659.3 549.9a0.6 1.4 0 1 1 1.2 0a0.6 1.4 0 1 1 -1.2 0M672.1 562.7a1.4 1.5 0 1 1 2.8 0a1.4 1.5 0 1 1 -2.8 0M675.4 551.6a1 1.4 0 1 1 2 0a1 1.4 0 1 1 -2 0M674.3 545.1a1.3 1.5 0 1 1 2.6 0a1.3 1.5 0 1 1 -2.6 0M634.6 568.6a0.9 1.4 0 1 1 1.8 0a0.9 1.4 0 1 1 -1.8 0M670.2 572.1a0.7 0.8 0 1 1 1.3 0a0.7 0.8 0 1 1 -1.3 0M671.8 546.2a1.4 1.2 0 1 1 2.9 0a1.4 1.2 0 1 1 -2.9 0M645.3 567.2a0.7 0.8 0 1 1 1.4 0a0.7 0.8 0 1 1 -1.4 0M633.8 567.6a1.4 0.9 0 1 1 2.9 0a1.4 0.9 0 1 1 -2.9 0M671.6 542.3a1 1.4 0 1 1 2 0a1 1.4 0 1 1 -2 0M656 551a0.7 1.1 0 1 1 1.4 0a0.7 1.1 0 1 1 -1.4 0M661.1 546.3a1 0.8 0 1 1 2 0a1 0.8 0 1 1 -2 0M664 559.8a1.1 0.8 0 1 1 2.1 0a1.1 0.8 0 1 1 -2.1 0M650 569.6a1.4 1.2 0 1 1 2.7 0a1.4 1.2 0 1 1 -2.7 0M644.3 570.2a0.7 1 0 1 1 1.5 0a0.7 1 0 1 1 -1.5 0M644.4 572.1a1.3 0.7 0 1 1 2.6 0a1.3 0.7 0 1 1 -2.6 0M665.4 576.6a0.8 1.4 0 1 1 1.6 0a0.8 1.4 0 1 1 -1.6 0M657.2 544.2a0.6 1.2 0 1 1 1.2 0a0.6 1.2 0 1 1 -1.2 0M651.9 566.3a0.7 0.8 0 1 1 1.4 0a0.7 0.8 0 1 1 -1.4 0M637.8 573.2a1 1.1 0 1 1 2.1 0a1 1.1 0 1 1 -2.1 0M652.2 579.9a1.4 0.7 0 1 1 2.7 0a1.4 0.7 0 1 1 -2.7 0M673.4 568.3a1.1 0.8 0 1 1 2.1 0a1.1 0.8 0 1 1 -2.1 0M661.6 546.5a0.9 0.8 0 1 1 1.7 0a0.9 0.8 0 1 1 -1.7 0M677 546.7a1.1 1.4 0 1 1 2.1 0a1.1 1.4 0 1 1 -2.1 0M647.7 565.6a0.9 0.8 0 1 1 1.8 0a0.9 0.8 0 1 1 -1.8 0M659 560.3a1.3 0.7 0 1 1 2.7 0a1.3 0.7 0 1 1 -2.7 0M641.5 574.1a0.8 1.2 0 1 1 1.7 0a0.8 1.2 0 1 1 -1.7 0M662.5 547a1 1.1 0 1 1 1.9 0a1 1.1 0 1 1 -1.9 0M667.6 574.3a1.1 0.6 0 1 1 2.2 0a1.1 0.6 0 1 1 -2.2 0M671.6 572.8a1.3 1 0 1 1 2.6 0a1.3 1 0 1 1 -2.6 0M640.4 568.5a1.4 1 0 1 1 2.7 0a1.4 1 0 1 1 -2.7 0M666.6 562a1.4 1.1 0 1 1 2.8 0a1.4 1.1 0 1 1 -2.8 0M637.9 561a0.8 0.8 0 1 1 1.5 0a0.8 0.8 0 1 1 -1.5 0M676.9 548.9a0.7 1.4 0 1 1 1.5 0a0.7 1.4 0 1 1 -1.5 0M637.7 555.5a0.9 1.3 0 1 1 1.9 0a0.9 1.3 0 1 1 -1.9 0M698.9 567.6a1 0.8 0 1 1 2 0a1 0.8 0 1 1 -2 0M714.6 567.6a1 0.8 0 1 1 2 0a1 0.8 0 1 1 -2 0M716.5 561.9a1 0.8 0 1 1 2 0a1 0.8 0 1 1 -2 0M698.9 545.7a1 0.8 0 1 1 2 0a1 0.8 0 1 1 -2 0M637 597a1 0.8 0 1 1 2 0a1 0.8 0 1 1 -2 0M634 603a1 0.8 0 1 1 2 0a1 0.8 0 1 1 -2 0M657 592a1 0.8 0 1 1 2 0a1 0.8 0 1 1 -2 0M661 598a1 0.8 0 1 1 2 0a1 0.8 0 1 1 -2 0M639 534a1 0.8 0 1 1 2 0a1 0.8 0 1 1 -2 0M663 528a1 0.8 0 1 1 2 0a1 0.8 0 1 1 -2 0M649 531a1 0.8 0 1 1 2 0a1 0.8 0 1 1 -2 0M643 452.4a12 5 0 1 1 24 0a12 5 0 1 1 -24 0M656.6 462.7a1 0.8 0 1 1 2 0a1 0.8 0 1 1 -2 0M656.6 468.3a1 0.8 0 1 1 2 0a1 0.8 0 1 1 -2 0M644 436a1 0.8 0 1 1 2 0a1 0.8 0 1 1 -2 0M647 430a1 0.8 0 1 1 2 0a1 0.8 0 1 1 -2 0M653.3 442.1a0.8 1.3 0 1 1 1.7 0a0.8 1.3 0 1 1 -1.7 0M657 443.9a1.3 0.9 0 1 1 2.5 0a1.3 0.9 0 1 1 -2.5 0M652.1 445.7a0.6 0.8 0 1 1 1.3 0a0.6 0.8 0 1 1 -1.3 0M659.1 446a0.6 0.8 0 1 1 1.3 0a0.6 0.8 0 1 1 -1.3 0M660.6 444.1a0.8 1.3 0 1 1 1.6 0a0.8 1.3 0 1 1 -1.6 0M652.6 444.5a0.7 0.9 0 1 1 1.4 0a0.7 0.9 0 1 1 -1.4 0M656.2 438.5a1.6 1.8 0 1 1 3.2 0a1.6 1.8 0 1 1 -3.2 0M785 562a9 11 0 1 1 18 0a9 11 0 1 1 -18 0M789 550a3 8 0 1 1 6 0a3 8 0 1 1 -6 0M790.9 577a2.5 10 0 1 1 5 0a2.5 10 0 1 1 -5 0M794.5 522.5a1 0.8 0 1 1 2 0a1 0.8 0 1 1 -2 0M796.6 530.9a1 0.8 0 1 1 2 0a1 0.8 0 1 1 -2 0M789 594a1 0.8 0 1 1 2 0a1 0.8 0 1 1 -2 0M795 598a1 0.8 0 1 1 2 0a1 0.8 0 1 1 -2 0M761.9 448.5h2.9v4.7h-2.9zM763.1 453.2h2.3v5.9h-2.3zM763.6 459.1h2.4v5.1h-2.4zM763.3 464.2h3v11.4h-3zM764 475.6h2.7v6.9h-2.7zM762.9 482.4h2.9v6.5h-2.9zM764.4 488.9h2v8.7h-2zM762.5 449.6a1.2 0.8 0 1 1 2.5 0a1.2 0.8 0 1 1 -2.5 0M762 450.4a1.3 2 0 1 1 2.7 0a1.3 2 0 1 1 -2.7 0M765.1 450.5a0.8 1.1 0 1 1 1.7 0a0.8 1.1 0 1 1 -1.7 0M764.2 450.7a1.1 1 0 1 1 2.2 0a1.1 1 0 1 1 -2.2 0M764 452a0.8 1.4 0 1 1 1.7 0a0.8 1.4 0 1 1 -1.7 0M764 452.8a1.2 1.4 0 1 1 2.3 0a1.2 1.4 0 1 1 -2.3 0M763.1 453.5a1.2 1.2 0 1 1 2.4 0a1.2 1.2 0 1 1 -2.4 0M763.9 454.3a0.7 2.1 0 1 1 1.4 0a0.7 2.1 0 1 1 -1.4 0M766.6 455.2a1.3 1.4 0 1 1 2.7 0a1.3 1.4 0 1 1 -2.7 0M764.5 458.7a0.8 1.1 0 1 1 1.6 0a0.8 1.1 0 1 1 -1.6 0M765.6 459.3a0.7 1.7 0 1 1 1.4 0a0.7 1.7 0 1 1 -1.4 0M764.3 460.4a0.7 1 0 1 1 1.4 0a0.7 1 0 1 1 -1.4 0M764.7 462.2a0.8 0.8 0 1 1 1.5 0a0.8 0.8 0 1 1 -1.5 0M763.1 462.7a1 1.5 0 1 1 2.1 0a1 1.5 0 1 1 -2.1 0M762.7 463.3a0.7 0.8 0 1 1 1.5 0a0.7 0.8 0 1 1 -1.5 0M763.9 464.4a1.4 1.3 0 1 1 2.9 0a1.4 1.3 0 1 1 -2.9 0M764.2 465.2a0.6 1 0 1 1 1.2 0a0.6 1 0 1 1 -1.2 0M763.4 466.3a0.7 0.8 0 1 1 1.4 0a0.7 0.8 0 1 1 -1.4 0M764.5 467.6a0.7 1.8 0 1 1 1.4 0a0.7 1.8 0 1 1 -1.4 0M765.5 470.4a0.6 1.5 0 1 1 1.2 0a0.6 1.5 0 1 1 -1.2 0M763.9 471.2a1 1.9 0 1 1 1.9 0a1 1.9 0 1 1 -1.9 0M762.5 471.9a1.4 1.5 0 1 1 2.8 0a1.4 1.5 0 1 1 -2.8 0M762.8 472.4a1.4 0.8 0 1 1 2.9 0a1.4 0.8 0 1 1 -2.9 0M763.3 474.3a1.1 2.1 0 1 1 2.3 0a1.1 2.1 0 1 1 -2.3 0M762.7 476.1a1 0.7 0 1 1 2 0a1 0.7 0 1 1 -2 0M764.3 476.6a1.3 2 0 1 1 2.7 0a1.3 2 0 1 1 -2.7 0M762.6 477.3a0.7 0.8 0 1 1 1.4 0a0.7 0.8 0 1 1 -1.4 0M762.9 478.2a0.8 0.9 0 1 1 1.6 0a0.8 0.9 0 1 1 -1.6 0M764.7 479a1.4 0.8 0 1 1 2.8 0a1.4 0.8 0 1 1 -2.8 0M762.8 479.5a0.6 1.4 0 1 1 1.2 0a0.6 1.4 0 1 1 -1.2 0M765.5 482a0.9 1 0 1 1 1.7 0a0.9 1 0 1 1 -1.7 0M763.4 483a0.6 0.8 0 1 1 1.1 0a0.6 0.8 0 1 1 -1.1 0M763.3 483.5a1.2 1.1 0 1 1 2.3 0a1.2 1.1 0 1 1 -2.3 0M764.6 484.3a1.1 1.9 0 1 1 2.2 0a1.1 1.9 0 1 1 -2.2 0M763.6 484.7a0.8 1.6 0 1 1 1.6 0a0.8 1.6 0 1 1 -1.6 0M763.4 486.6a0.9 1.3 0 1 1 1.8 0a0.9 1.3 0 1 1 -1.8 0M763.4 488.8a1.4 1.5 0 1 1 2.8 0a1.4 1.5 0 1 1 -2.8 0M763.8 489.3a0.7 1.5 0 1 1 1.3 0a0.7 1.5 0 1 1 -1.3 0M763.1 490.5a1.2 1.4 0 1 1 2.5 0a1.2 1.4 0 1 1 -2.5 0M764 491.9a0.9 2.1 0 1 1 1.7 0a0.9 2.1 0 1 1 -1.7 0M763.1 493.8a0.7 1.9 0 1 1 1.4 0a0.7 1.9 0 1 1 -1.4 0M763.4 494.7a1.3 1.4 0 1 1 2.6 0a1.3 1.4 0 1 1 -2.6 0M765.2 494.8a0.6 1.8 0 1 1 1.2 0a0.6 1.8 0 1 1 -1.2 0M763.4 496.4a0.7 0.9 0 1 1 1.4 0a0.7 0.9 0 1 1 -1.4 0M762.2 497.3a0.9 1.3 0 1 1 1.8 0a0.9 1.3 0 1 1 -1.8 0M780.9 425.7h2.3v12.1h-2.3zM780 437.8h2.9v4.5h-2.9zM780.2 442.3h3v8.1h-3zM779.3 453.2h3.3v13.2h-3.3zM780.3 466.4h3.2v3.3h-3.2zM779.7 469.7h3.7v13.4h-3.7zM779.5 483.1h2.5v5h-2.5zM779.5 488.1h3.6v4.1h-3.6zM778.7 492.2h2.4v5.4h-2.4zM779.7 426.2a1 1.4 0 1 1 2 0a1 1.4 0 1 1 -2 0M779.6 426.3a1 2.2 0 1 1 2 0a1 2.2 0 1 1 -2 0M778.4 426.5a1.2 1.5 0 1 1 2.5 0a1.2 1.5 0 1 1 -2.5 0M777.9 426.7a1.4 1 0 1 1 2.8 0a1.4 1 0 1 1 -2.8 0M778.3 426.7a1.3 2.1 0 1 1 2.6 0a1.3 2.1 0 1 1 -2.6 0M781.4 427.2a1.2 2.4 0 1 1 2.4 0a1.2 2.4 0 1 1 -2.4 0M780.2 427.2a0.9 2.3 0 1 1 1.8 0a0.9 2.3 0 1 1 -1.8 0M779.4 427.3a1.2 1.4 0 1 1 2.5 0a1.2 1.4 0 1 1 -2.5 0M780.9 428.7a0.7 1.9 0 1 1 1.3 0a0.7 1.9 0 1 1 -1.3 0M781.2 428.8a0.6 1.8 0 1 1 1.2 0a0.6 1.8 0 1 1 -1.2 0M779.6 429.6a1.1 1.6 0 1 1 2.3 0a1.1 1.6 0 1 1 -2.3 0M780.6 430a0.7 2.1 0 1 1 1.4 0a0.7 2.1 0 1 1 -1.4 0M779.3 430.6a1 1.9 0 1 1 1.9 0a1 1.9 0 1 1 -1.9 0M779.4 430.7a1.6 1.3 0 1 1 3.2 0a1.6 1.3 0 1 1 -3.2 0M778.9 431.8a1.5 1.8 0 1 1 3.1 0a1.5 1.8 0 1 1 -3.1 0M780.5 434.4a0.9 2.4 0 1 1 1.7 0a0.9 2.4 0 1 1 -1.7 0M782.5 435.7a0.8 2.2 0 1 1 1.7 0a0.8 2.2 0 1 1 -1.7 0M778.9 437a0.8 1.8 0 1 1 1.6 0a0.8 1.8 0 1 1 -1.6 0M780.3 438.3a1.1 2.3 0 1 1 2.1 0a1.1 2.3 0 1 1 -2.1 0M780.6 442.2a0.8 1.7 0 1 1 1.6 0a0.8 1.7 0 1 1 -1.6 0M781.3 444.4a0.7 2 0 1 1 1.4 0a0.7 2 0 1 1 -1.4 0M778.8 444.5a1.6 1.1 0 1 1 3.1 0a1.6 1.1 0 1 1 -3.1 0M780.9 445.3a0.9 2.1 0 1 1 1.8 0a0.9 2.1 0 1 1 -1.8 0M780.3 446.8a0.6 0.9 0 1 1 1.3 0a0.6 0.9 0 1 1 -1.3 0M778.5 447.5a1.5 1.2 0 1 1 3.1 0a1.5 1.2 0 1 1 -3.1 0M780.7 449.9a1.2 1.2 0 1 1 2.3 0a1.2 1.2 0 1 1 -2.3 0M779.6 450.7a1.5 1.9 0 1 1 3 0a1.5 1.9 0 1 1 -3 0M781.9 451.6a0.9 2.4 0 1 1 1.9 0a0.9 2.4 0 1 1 -1.9 0M779.8 453.2a1 1.3 0 1 1 2.1 0a1 1.3 0 1 1 -2.1 0M780.3 453.9a0.7 1 0 1 1 1.5 0a0.7 1 0 1 1 -1.5 0M780.2 454.2a0.9 0.9 0 1 1 1.9 0a0.9 0.9 0 1 1 -1.9 0M781.1 457a1.4 1.1 0 1 1 2.8 0a1.4 1.1 0 1 1 -2.8 0M777.6 457.2a1.6 1.2 0 1 1 3.2 0a1.6 1.2 0 1 1 -3.2 0M780.2 457.8a1.6 1.4 0 1 1 3.2 0a1.6 1.4 0 1 1 -3.2 0M779.2 459.8a0.6 1.9 0 1 1 1.2 0a0.6 1.9 0 1 1 -1.2 0M780.9 460.8a1.2 1.3 0 1 1 2.4 0a1.2 1.3 0 1 1 -2.4 0M779.8 461.4a0.9 2 0 1 1 1.8 0a0.9 2 0 1 1 -1.8 0M779.5 463.6a1.5 1 0 1 1 3 0a1.5 1 0 1 1 -3 0M777.7 464a1.4 1.3 0 1 1 2.9 0a1.4 1.3 0 1 1 -2.9 0M780.3 465.4a1.5 1.1 0 1 1 2.9 0a1.5 1.1 0 1 1 -2.9 0M779.6 466.7a1.1 1.9 0 1 1 2.1 0a1.1 1.9 0 1 1 -2.1 0M780.5 470.2a1.4 1.5 0 1 1 2.8 0a1.4 1.5 0 1 1 -2.8 0M779.6 470.5a0.7 1.7 0 1 1 1.5 0a0.7 1.7 0 1 1 -1.5 0M781 473a0.9 2.3 0 1 1 1.8 0a0.9 2.3 0 1 1 -1.8 0M780.7 473.2a0.9 1.5 0 1 1 1.9 0a0.9 1.5 0 1 1 -1.9 0M780.2 473.9a1.1 2.1 0 1 1 2.1 0a1.1 2.1 0 1 1 -2.1 0M778.7 474a1.5 2.3 0 1 1 2.9 0a1.5 2.3 0 1 1 -2.9 0M780.2 474.5a1.2 1.9 0 1 1 2.4 0a1.2 1.9 0 1 1 -2.4 0M782.8 476.1a0.6 0.9 0 1 1 1.2 0a0.6 0.9 0 1 1 -1.2 0M781.6 478a1.2 1.5 0 1 1 2.5 0a1.2 1.5 0 1 1 -2.5 0M778.6 478.2a1.2 1.5 0 1 1 2.3 0a1.2 1.5 0 1 1 -2.3 0M780 480.3a1.4 1.7 0 1 1 2.9 0a1.4 1.7 0 1 1 -2.9 0M777.2 483.8a0.9 1 0 1 1 1.9 0a0.9 1 0 1 1 -1.9 0M779.3 485.1a1.2 1 0 1 1 2.3 0a1.2 1 0 1 1 -2.3 0M778.7 485.4a0.7 2.2 0 1 1 1.4 0a0.7 2.2 0 1 1 -1.4 0M780.4 486.4a1.5 1.8 0 1 1 2.9 0a1.5 1.8 0 1 1 -2.9 0M780.5 488.5a1.5 2.1 0 1 1 3.1 0a1.5 2.1 0 1 1 -3.1 0M779.6 488.8a0.9 1.6 0 1 1 1.7 0a0.9 1.6 0 1 1 -1.7 0M779.6 492.7a1.6 1.5 0 1 1 3.1 0a1.6 1.5 0 1 1 -3.1 0M779.8 494.4a1.6 2.2 0 1 1 3.1 0a1.6 2.2 0 1 1 -3.1 0M780.7 496.2a1.2 2 0 1 1 2.3 0a1.2 2 0 1 1 -2.3 0M777.7 496.3a1 1.1 0 1 1 2 0a1 1.1 0 1 1 -2 0M793.6 408.6h4v4.5h-4zM792.5 413.1h4.2v11.7h-4.2zM792.9 424.8h5.3v6.1h-5.3zM792.4 430.9h4.2v13.6h-4.2zM792.9 444.5h4.5v3.1h-4.5zM791.1 447.6h4.7v5h-4.7zM792.2 452.5h4.8v7.3h-4.8zM792.6 459.8h3.9v3.6h-3.9zM792.4 463.4h3.5v7.2h-3.5zM792.2 470.6h5.6v12.2h-5.6zM791.9 482.8h5.6v8.3h-5.6zM793.1 491.1h3.6v5.4h-3.6zM795.4 409.4a0.7 2 0 1 1 1.4 0a0.7 2 0 1 1 -1.4 0M792.7 411.4a0.9 2.2 0 1 1 1.8 0a0.9 2.2 0 1 1 -1.8 0M793.3 413a1.3 0.8 0 1 1 2.7 0a1.3 0.8 0 1 1 -2.7 0M792.7 414a0.7 2.3 0 1 1 1.4 0a0.7 2.3 0 1 1 -1.4 0M795.9 415.7a0.9 0.9 0 1 1 1.7 0a0.9 0.9 0 1 1 -1.7 0M791.4 418.1a0.9 1.6 0 1 1 1.8 0a0.9 1.6 0 1 1 -1.8 0M791.5 418.7a1.3 1.2 0 1 1 2.7 0a1.3 1.2 0 1 1 -2.7 0M790.3 421.6a1.4 2.1 0 1 1 2.7 0a1.4 2.1 0 1 1 -2.7 0M793.7 421.7a1.4 1.3 0 1 1 2.9 0a1.4 1.3 0 1 1 -2.9 0M794.3 421.9a1.2 2.4 0 1 1 2.3 0a1.2 2.4 0 1 1 -2.3 0M793.5 422.2a1.4 1.5 0 1 1 2.8 0a1.4 1.5 0 1 1 -2.8 0M793.5 426a1.3 1.6 0 1 1 2.6 0a1.3 1.6 0 1 1 -2.6 0M797.7 427.4a1.2 1.7 0 1 1 2.3 0a1.2 1.7 0 1 1 -2.3 0M794.1 429.2a1.5 1.3 0 1 1 3.1 0a1.5 1.3 0 1 1 -3.1 0M794.4 431.8a1.4 1.1 0 1 1 2.9 0a1.4 1.1 0 1 1 -2.9 0M792.2 433.3a0.7 1.2 0 1 1 1.5 0a0.7 1.2 0 1 1 -1.5 0M794.8 434.3a0.6 1.5 0 1 1 1.2 0a0.6 1.5 0 1 1 -1.2 0M797.7 436a0.7 1.8 0 1 1 1.3 0a0.7 1.8 0 1 1 -1.3 0M793.6 436.4a1.1 0.9 0 1 1 2.1 0a1.1 0.9 0 1 1 -2.1 0M791.4 438.3a0.9 1.6 0 1 1 1.9 0a0.9 1.6 0 1 1 -1.9 0M796.7 438.4a0.9 2.3 0 1 1 1.9 0a0.9 2.3 0 1 1 -1.9 0M795.5 440a0.8 2.1 0 1 1 1.7 0a0.8 2.1 0 1 1 -1.7 0M793.9 440.1a0.8 1 0 1 1 1.5 0a0.8 1 0 1 1 -1.5 0M792.6 440.1a0.9 0.9 0 1 1 1.7 0a0.9 0.9 0 1 1 -1.7 0M792.8 440.4a1.3 1 0 1 1 2.5 0a1.3 1 0 1 1 -2.5 0M792.8 440.6a0.9 2 0 1 1 1.8 0a0.9 2 0 1 1 -1.8 0M793.7 441.7a1 2.1 0 1 1 1.9 0a1 2.1 0 1 1 -1.9 0M793.6 441.8a1.4 1.7 0 1 1 2.7 0a1.4 1.7 0 1 1 -2.7 0M793.2 443a0.7 1.8 0 1 1 1.4 0a0.7 1.8 0 1 1 -1.4 0M792.1 445.1a1.1 1.6 0 1 1 2.1 0a1.1 1.6 0 1 1 -2.1 0M794.8 445.9a0.9 1.4 0 1 1 1.7 0a0.9 1.4 0 1 1 -1.7 0M793.3 446.4a1.2 1.9 0 1 1 2.3 0a1.2 1.9 0 1 1 -2.3 0M794.1 447.1a1 0.9 0 1 1 2 0a1 0.9 0 1 1 -2 0M793 448.7a0.6 2.1 0 1 1 1.2 0a0.6 2.1 0 1 1 -1.2 0M795 449a1.1 2.3 0 1 1 2.2 0a1.1 2.3 0 1 1 -2.2 0M794.4 450.5a0.8 2 0 1 1 1.6 0a0.8 2 0 1 1 -1.6 0M792.5 450.6a1.6 1.4 0 1 1 3.2 0a1.6 1.4 0 1 1 -3.2 0M792.7 451a0.7 1.5 0 1 1 1.5 0a0.7 1.5 0 1 1 -1.5 0M792.5 453.2a1.5 1.6 0 1 1 3 0a1.5 1.6 0 1 1 -3 0M793.7 453.3a0.8 1.4 0 1 1 1.6 0a0.8 1.4 0 1 1 -1.6 0M794.4 454.6a0.9 1.1 0 1 1 1.9 0a0.9 1.1 0 1 1 -1.9 0M792.2 454.8a1.6 1.1 0 1 1 3.1 0a1.6 1.1 0 1 1 -3.1 0M795.9 454.9a1.2 2.2 0 1 1 2.4 0a1.2 2.2 0 1 1 -2.4 0M793.7 456.1a1 1.9 0 1 1 1.9 0a1 1.9 0 1 1 -1.9 0M792.6 458.8a1.5 2.3 0 1 1 3 0a1.5 2.3 0 1 1 -3 0M795.4 459.1a1 1 0 1 1 2 0a1 1 0 1 1 -2 0M795.3 459.1a1.4 1 0 1 1 2.9 0a1.4 1 0 1 1 -2.9 0M795.7 459.1a0.8 0.8 0 1 1 1.7 0a0.8 0.8 0 1 1 -1.7 0M793.2 459.3a0.9 1.1 0 1 1 1.9 0a0.9 1.1 0 1 1 -1.9 0M793.7 461.2a0.9 1.3 0 1 1 1.8 0a0.9 1.3 0 1 1 -1.8 0M793.8 463.4a0.7 1.7 0 1 1 1.5 0a0.7 1.7 0 1 1 -1.5 0M791.7 463.5a1.4 1.7 0 1 1 2.7 0a1.4 1.7 0 1 1 -2.7 0M792.9 465.3a1.3 0.8 0 1 1 2.6 0a1.3 0.8 0 1 1 -2.6 0M797.3 465.5a0.8 1.4 0 1 1 1.6 0a0.8 1.4 0 1 1 -1.6 0M791.5 467.8a1.2 1.1 0 1 1 2.4 0a1.2 1.1 0 1 1 -2.4 0M792.7 470a0.6 1.1 0 1 1 1.2 0a0.6 1.1 0 1 1 -1.2 0M795 470.1a1.6 0.9 0 1 1 3.1 0a1.6 0.9 0 1 1 -3.1 0M793.3 470.6a1 1.2 0 1 1 2.1 0a1 1.2 0 1 1 -2.1 0M792.2 471.7a1.2 1.2 0 1 1 2.4 0a1.2 1.2 0 1 1 -2.4 0M794.7 473.4a0.7 1.1 0 1 1 1.5 0a0.7 1.1 0 1 1 -1.5 0M791 474.7a1.1 1.8 0 1 1 2.1 0a1.1 1.8 0 1 1 -2.1 0M793 476.3a1.5 1.6 0 1 1 2.9 0a1.5 1.6 0 1 1 -2.9 0M793.8 476.4a1.5 2.3 0 1 1 3.1 0a1.5 2.3 0 1 1 -3.1 0M796.1 478.4a1.1 1 0 1 1 2.1 0a1.1 1 0 1 1 -2.1 0M794 478.6a1.4 1.1 0 1 1 2.9 0a1.4 1.1 0 1 1 -2.9 0M794.1 480.3a1.3 1.1 0 1 1 2.6 0a1.3 1.1 0 1 1 -2.6 0M793.1 480.5a0.7 1.6 0 1 1 1.3 0a0.7 1.6 0 1 1 -1.3 0M793.4 480.9a1.3 1.8 0 1 1 2.7 0a1.3 1.8 0 1 1 -2.7 0M794.1 482.3a0.7 2 0 1 1 1.4 0a0.7 2 0 1 1 -1.4 0M793.7 482.4a1 2.4 0 1 1 1.9 0a1 2.4 0 1 1 -1.9 0M791.8 482.9a1.1 1.6 0 1 1 2.1 0a1.1 1.6 0 1 1 -2.1 0M790.1 483.2a1.6 1.7 0 1 1 3.1 0a1.6 1.7 0 1 1 -3.1 0M798.9 484.5a1.5 1.9 0 1 1 3 0a1.5 1.9 0 1 1 -3 0M794.2 484.9a1.5 2.3 0 1 1 3.1 0a1.5 2.3 0 1 1 -3.1 0M795.3 485.8a1.1 0.9 0 1 1 2.1 0a1.1 0.9 0 1 1 -2.1 0M791 486.3a1 2 0 1 1 2.1 0a1 2 0 1 1 -2.1 0M796 486.7a1.4 1.2 0 1 1 2.8 0a1.4 1.2 0 1 1 -2.8 0M794.3 488.9a0.8 1.4 0 1 1 1.6 0a0.8 1.4 0 1 1 -1.6 0M794.1 490.5a1.4 1.6 0 1 1 2.8 0a1.4 1.6 0 1 1 -2.8 0M793.1 492.3a1.6 1 0 1 1 3.1 0a1.6 1 0 1 1 -3.1 0M794.2 492.4a1.1 1.5 0 1 1 2.1 0a1.1 1.5 0 1 1 -2.1 0M790.6 494.3a1.4 1.5 0 1 1 2.8 0a1.4 1.5 0 1 1 -2.8 0M795.4 494.5a0.6 0.8 0 1 1 1.3 0a0.6 0.8 0 1 1 -1.3 0M790.5 494.8a1.4 1.1 0 1 1 2.8 0a1.4 1.1 0 1 1 -2.8 0M792.5 496a0.8 2.1 0 1 1 1.5 0a0.8 2.1 0 1 1 -1.5 0M788.3 432h2.7v4h-2.7zM788.1 436h3v13.2h-3zM788 449.1h2.3v6.4h-2.3zM786.5 455.6h3v5.5h-3zM787 461.1h2.6v6.9h-2.6zM786.6 467.9h2.4v10.7h-2.4zM787.9 478.6h2.1v5.6h-2.1zM787.7 484.2h2.9v3.8h-2.9zM788.6 432.3a1.1 2 0 1 1 2.2 0a1.1 2 0 1 1 -2.2 0M787.9 434.4a0.6 1.8 0 1 1 1.2 0a0.6 1.8 0 1 1 -1.2 0M788.2 435.4a0.8 1.2 0 1 1 1.7 0a0.8 1.2 0 1 1 -1.7 0M786 436a1.3 1.3 0 1 1 2.6 0a1.3 1.3 0 1 1 -2.6 0M787.6 436.3a1.3 1.8 0 1 1 2.7 0a1.3 1.8 0 1 1 -2.7 0M787.6 439.3a1.1 0.7 0 1 1 2.3 0a1.1 0.7 0 1 1 -2.3 0M787.5 440.7a1.1 1.3 0 1 1 2.3 0a1.1 1.3 0 1 1 -2.3 0M788.9 442.9a0.5 1.7 0 1 1 1.1 0a0.5 1.7 0 1 1 -1.1 0M787.1 443.5a1 0.9 0 1 1 1.9 0a1 0.9 0 1 1 -1.9 0M786.8 445.5a1.3 2 0 1 1 2.6 0a1.3 2 0 1 1 -2.6 0M787.6 446.9a0.8 1.9 0 1 1 1.6 0a0.8 1.9 0 1 1 -1.6 0M788.1 449.6a0.7 0.8 0 1 1 1.5 0a0.7 0.8 0 1 1 -1.5 0M787.7 449.6a1.2 0.9 0 1 1 2.4 0a1.2 0.9 0 1 1 -2.4 0M788.7 449.9a1.1 2.1 0 1 1 2.1 0a1.1 2.1 0 1 1 -2.1 0M789.3 449.9a0.6 1.3 0 1 1 1.1 0a0.6 1.3 0 1 1 -1.1 0M788.4 450.1a1.4 1.4 0 1 1 2.7 0a1.4 1.4 0 1 1 -2.7 0M790.1 450.5a0.6 1.7 0 1 1 1.1 0a0.6 1.7 0 1 1 -1.1 0M787.6 451.5a1.3 1 0 1 1 2.7 0a1.3 1 0 1 1 -2.7 0M789 452.3a0.7 1.6 0 1 1 1.5 0a0.7 1.6 0 1 1 -1.5 0M787.8 452.6a1 1.7 0 1 1 2 0a1 1.7 0 1 1 -2 0M788.7 453.5a1.3 1.9 0 1 1 2.6 0a1.3 1.9 0 1 1 -2.6 0M787.6 453.6a1.4 1.8 0 1 1 2.9 0a1.4 1.8 0 1 1 -2.9 0M788 453.8a0.7 2 0 1 1 1.3 0a0.7 2 0 1 1 -1.3 0M788.3 454.9a0.8 1.1 0 1 1 1.7 0a0.8 1.1 0 1 1 -1.7 0M787.8 456.9a0.7 1.9 0 1 1 1.4 0a0.7 1.9 0 1 1 -1.4 0M788 457.8a0.7 1.8 0 1 1 1.4 0a0.7 1.8 0 1 1 -1.4 0M788.2 459.2a0.9 2 0 1 1 1.8 0a0.9 2 0 1 1 -1.8 0M787.9 459.2a0.9 1.5 0 1 1 1.8 0a0.9 1.5 0 1 1 -1.8 0M789 459.9a1.1 1.5 0 1 1 2.2 0a1.1 1.5 0 1 1 -2.2 0M788.5 460a0.9 0.9 0 1 1 1.8 0a0.9 0.9 0 1 1 -1.8 0M788 461.6a0.8 1.6 0 1 1 1.6 0a0.8 1.6 0 1 1 -1.6 0M789.1 463.1a1.1 1.1 0 1 1 2.2 0a1.1 1.1 0 1 1 -2.2 0M789.3 463.7a0.6 1.6 0 1 1 1.2 0a0.6 1.6 0 1 1 -1.2 0M788.2 466.3a0.8 1.4 0 1 1 1.6 0a0.8 1.4 0 1 1 -1.6 0M788.5 467.1a0.7 1.8 0 1 1 1.4 0a0.7 1.8 0 1 1 -1.4 0M788.3 467.3a1 1.3 0 1 1 2.1 0a1 1.3 0 1 1 -2.1 0M788 467.5a0.8 2 0 1 1 1.6 0a0.8 2 0 1 1 -1.6 0M788.1 470.6a0.8 1.7 0 1 1 1.6 0a0.8 1.7 0 1 1 -1.6 0M786.7 471.3a1.3 1.5 0 1 1 2.6 0a1.3 1.5 0 1 1 -2.6 0M788.1 472a1 1.4 0 1 1 2 0a1 1.4 0 1 1 -2 0M788.1 474.1a0.6 1.9 0 1 1 1.2 0a0.6 1.9 0 1 1 -1.2 0M788 476.4a0.9 2.1 0 1 1 1.7 0a0.9 2.1 0 1 1 -1.7 0M788.1 478.4a1.4 1.4 0 1 1 2.7 0a1.4 1.4 0 1 1 -2.7 0M788.1 478.6a1.3 1.2 0 1 1 2.5 0a1.3 1.2 0 1 1 -2.5 0M786.9 479.2a1.2 1.1 0 1 1 2.4 0a1.2 1.1 0 1 1 -2.4 0M787.2 480.3a0.9 1.7 0 1 1 1.9 0a0.9 1.7 0 1 1 -1.9 0M786.7 482.1a0.8 2.1 0 1 1 1.7 0a0.8 2.1 0 1 1 -1.7 0M787.6 485.9a0.9 1.7 0 1 1 1.8 0a0.9 1.7 0 1 1 -1.8 0M800 425h2.4v12.4h-2.4zM799.8 437.4h2.2v5.5h-2.2zM799.4 443h2.7v4.5h-2.7zM800.2 447.5h1.9v7.8h-1.9zM799.7 455.3h2.4v7.5h-2.4zM799.5 462.8h2.6v7.6h-2.6zM800.5 470.4h2v4.6h-2zM801.2 425.7a0.9 1.2 0 1 1 1.9 0a0.9 1.2 0 1 1 -1.9 0M800.8 426.4a0.6 0.8 0 1 1 1.3 0a0.6 0.8 0 1 1 -1.3 0M799.7 430.4a1 1.1 0 1 1 2 0a1 1.1 0 1 1 -2 0M799.9 432.4a1.4 0.8 0 1 1 2.8 0a1.4 0.8 0 1 1 -2.8 0M800.4 432.6a0.9 2 0 1 1 1.7 0a0.9 2 0 1 1 -1.7 0M799.8 433.4a1.2 2 0 1 1 2.4 0a1.2 2 0 1 1 -2.4 0M799.6 435.6a1.3 1.2 0 1 1 2.6 0a1.3 1.2 0 1 1 -2.6 0M799.3 436.5a1.1 2 0 1 1 2.1 0a1.1 2 0 1 1 -2.1 0M799.2 437.9a1.1 1.6 0 1 1 2.3 0a1.1 1.6 0 1 1 -2.3 0M798.9 438.6a1 2.1 0 1 1 1.9 0a1 2.1 0 1 1 -1.9 0M801 439a1.1 1.8 0 1 1 2.2 0a1.1 1.8 0 1 1 -2.2 0M798.7 440a0.6 1.8 0 1 1 1.2 0a0.6 1.8 0 1 1 -1.2 0M800 440.7a0.8 1.3 0 1 1 1.5 0a0.8 1.3 0 1 1 -1.5 0M799.5 442.5a0.7 1.2 0 1 1 1.5 0a0.7 1.2 0 1 1 -1.5 0M800.2 443.2a0.9 1.9 0 1 1 1.8 0a0.9 1.9 0 1 1 -1.8 0M800.5 451.8a0.6 1 0 1 1 1.2 0a0.6 1 0 1 1 -1.2 0M800.5 454.7a1.1 1.5 0 1 1 2.2 0a1.1 1.5 0 1 1 -2.2 0M800.1 456.9a1.2 1.5 0 1 1 2.5 0a1.2 1.5 0 1 1 -2.5 0M799.1 457a0.8 0.9 0 1 1 1.5 0a0.8 0.9 0 1 1 -1.5 0M798.7 457.1a1.3 1.3 0 1 1 2.6 0a1.3 1.3 0 1 1 -2.6 0M800.8 457.5a1.3 1.3 0 1 1 2.5 0a1.3 1.3 0 1 1 -2.5 0M799.4 457.9a0.8 1.6 0 1 1 1.6 0a0.8 1.6 0 1 1 -1.6 0M800.5 460.8a0.9 1 0 1 1 1.7 0a0.9 1 0 1 1 -1.7 0M801 461.1a1.4 1.6 0 1 1 2.8 0a1.4 1.6 0 1 1 -2.8 0M800.4 462.6a0.7 1.5 0 1 1 1.4 0a0.7 1.5 0 1 1 -1.4 0M798.9 463.2a1.2 1.8 0 1 1 2.3 0a1.2 1.8 0 1 1 -2.3 0M798.3 466.1a1.3 1.3 0 1 1 2.7 0a1.3 1.3 0 1 1 -2.7 0M800.2 466.2a1 1.4 0 1 1 2 0a1 1.4 0 1 1 -2 0M801.4 470.4a0.7 1.2 0 1 1 1.5 0a0.7 1.2 0 1 1 -1.5 0M798.6 470.9a1.1 2.1 0 1 1 2.2 0a1.1 2.1 0 1 1 -2.2 0M800 472.4a0.8 1.7 0 1 1 1.5 0a0.8 1.7 0 1 1 -1.5 0M799.9 473.4a0.7 0.7 0 1 1 1.3 0a0.7 0.7 0 1 1 -1.3 0M799.7 474a1.2 2.1 0 1 1 2.4 0a1.2 2.1 0 1 1 -2.4 0M799.1 474.5a0.6 2.1 0 1 1 1.2 0a0.6 2.1 0 1 1 -1.2 0M810.3 423.4h1.4v11h-1.4zM810.6 434.4h1.3v13.6h-1.3zM811 448h1.2v4.1h-1.2zM810.6 452.1h1.5v5.6h-1.5zM810 428.5a1.2 1.5 0 1 1 2.4 0a1.2 1.5 0 1 1 -2.4 0M810.6 430.4a0.5 0.8 0 1 1 1.1 0a0.5 0.8 0 1 1 -1.1 0M811.2 430.9a1.1 0.9 0 1 1 2.2 0a1.1 0.9 0 1 1 -2.2 0M809.7 431a1 1.8 0 1 1 2 0a1 1.8 0 1 1 -2 0M811.4 432.1a0.5 1.1 0 1 1 1 0a0.5 1.1 0 1 1 -1 0M809.9 433.5a1 1.5 0 1 1 2 0a1 1.5 0 1 1 -2 0M809.7 433.9a1.1 1.4 0 1 1 2.3 0a1.1 1.4 0 1 1 -2.3 0M811.1 434a0.6 1 0 1 1 1.1 0a0.6 1 0 1 1 -1.1 0M811.1 434.2a0.7 1.4 0 1 1 1.4 0a0.7 1.4 0 1 1 -1.4 0M811.4 435a0.5 1.1 0 1 1 1 0a0.5 1.1 0 1 1 -1 0M811.5 436.6a0.5 1.6 0 1 1 1 0a0.5 1.6 0 1 1 -1 0M810.9 439a1 1.9 0 1 1 1.9 0a1 1.9 0 1 1 -1.9 0M810.7 439.4a0.6 1.5 0 1 1 1.3 0a0.6 1.5 0 1 1 -1.3 0M811.5 439.9a0.6 1.2 0 1 1 1.2 0a0.6 1.2 0 1 1 -1.2 0M811.1 441.3a0.5 1.7 0 1 1 1 0a0.5 1.7 0 1 1 -1 0M810 442.2a1.1 1.7 0 1 1 2.1 0a1.1 1.7 0 1 1 -2.1 0M810.2 442.8a0.9 1.8 0 1 1 1.8 0a0.9 1.8 0 1 1 -1.8 0M810.4 442.8a0.9 0.9 0 1 1 1.9 0a0.9 0.9 0 1 1 -1.9 0M811 444.3a0.8 1.4 0 1 1 1.6 0a0.8 1.4 0 1 1 -1.6 0M811.5 444.5a0.6 0.9 0 1 1 1.3 0a0.6 0.9 0 1 1 -1.3 0M810.6 449.1a0.9 1 0 1 1 1.7 0a0.9 1 0 1 1 -1.7 0M811.1 451.1a1.1 1.7 0 1 1 2.3 0a1.1 1.7 0 1 1 -2.3 0M811 451.6a0.7 0.8 0 1 1 1.4 0a0.7 0.8 0 1 1 -1.4 0M809.8 452.2a1.1 1 0 1 1 2.2 0a1.1 1 0 1 1 -2.2 0M810.3 452.6a1 1 0 1 1 2 0a1 1 0 1 1 -2 0M809.4 454a1.2 1.4 0 1 1 2.3 0a1.2 1.4 0 1 1 -2.3 0M810.6 455.8a0.7 1.7 0 1 1 1.4 0a0.7 1.7 0 1 1 -1.4 0M794.6 391.4h1v5.8h-1zM794.4 397.2h0.9v5.9h-0.9zM794.9 403.1h1v4.9h-1zM792.9 392.7a0.7 1.7 0 1 1 1.5 0a0.7 1.7 0 1 1 -1.5 0M793 398.8a1.2 1.4 0 1 1 2.5 0a1.2 1.4 0 1 1 -2.5 0M793.6 400.8a0.9 1.4 0 1 1 1.8 0a0.9 1.4 0 1 1 -1.8 0M794.7 401.1a1.1 0.8 0 1 1 2.1 0a1.1 0.8 0 1 1 -2.1 0M792.7 401.1a1 1.3 0 1 1 1.9 0a1 1.3 0 1 1 -1.9 0M791.3 457.5a1.2 1.2 0 1 1 2.4 0a1.2 1.2 0 1 1 -2.4 0M803.1 444.3a0.6 1.1 0 1 1 1.2 0a0.6 1.1 0 1 1 -1.2 0M801 447.4a1.2 1.4 0 1 1 2.4 0a1.2 1.4 0 1 1 -2.4 0M784.1 457.7a1 0.7 0 1 1 2.1 0a1 0.7 0 1 1 -2.1 0M805.4 442.6a1.1 1.3 0 1 1 2.3 0a1.1 1.3 0 1 1 -2.3 0M802.8 445.3a1.5 1.1 0 1 1 3 0a1.5 1.1 0 1 1 -3 0M810.6 438.3a1.2 0.8 0 1 1 2.4 0a1.2 0.8 0 1 1 -2.4 0M796.6 449.7a0.9 0.7 0 1 1 1.7 0a0.9 0.7 0 1 1 -1.7 0M790.5 458.3a1.1 1.4 0 1 1 2.3 0a1.1 1.4 0 1 1 -2.3 0M809.6 442.1a1.2 1.6 0 1 1 2.3 0a1.2 1.6 0 1 1 -2.3 0M787.4 461.1a0.7 1.4 0 1 1 1.3 0a0.7 1.4 0 1 1 -1.3 0M809.6 438.1a1.3 1.6 0 1 1 2.7 0a1.3 1.6 0 1 1 -2.7 0M804.3 442.5a1.3 1.2 0 1 1 2.7 0a1.3 1.2 0 1 1 -2.7 0M791.1 455.4a1.1 1.2 0 1 1 2.2 0a1.1 1.2 0 1 1 -2.2 0M788.7 454.5a1.1 0.8 0 1 1 2.2 0a1.1 0.8 0 1 1 -2.2 0M792.3 453.1a1.1 0.8 0 1 1 2.1 0a1.1 0.8 0 1 1 -2.1 0M802.9 441.5a1 1.4 0 1 1 2 0a1 1.4 0 1 1 -2 0M808.1 441.4a0.7 1.3 0 1 1 1.4 0a0.7 1.3 0 1 1 -1.4 0M800 447.4a1.5 1.4 0 1 1 3 0a1.5 1.4 0 1 1 -3 0M803.8 446.2a1.4 0.8 0 1 1 2.7 0a1.4 0.8 0 1 1 -2.7 0M790.3 459.2a0.7 0.7 0 1 1 1.5 0a0.7 0.7 0 1 1 -1.5 0M782.3 462.1a1.4 0.6 0 1 1 2.9 0a1.4 0.6 0 1 1 -2.9 0M782.1 459.6a1.4 1.2 0 1 1 2.8 0a1.4 1.2 0 1 1 -2.8 0M801.9 448.2a0.7 1.5 0 1 1 1.4 0a0.7 1.5 0 1 1 -1.4 0M812.3 438.1a0.7 1 0 1 1 1.4 0a0.7 1 0 1 1 -1.4 0M799.4 448.7a1.4 1.2 0 1 1 2.9 0a1.4 1.2 0 1 1 -2.9 0M785.8 454.8a1.5 1.5 0 1 1 3 0a1.5 1.5 0 1 1 -3 0M798.7 443.9a1.1 1.3 0 1 1 2.2 0a1.1 1.3 0 1 1 -2.2 0M796.9 446.3a1.3 0.7 0 1 1 2.6 0a1.3 0.7 0 1 1 -2.6 0M807.2 443.1a0.6 1.2 0 1 1 1.3 0a0.6 1.2 0 1 1 -1.3 0M793 454.9a0.9 1.1 0 1 1 1.7 0a0.9 1.1 0 1 1 -1.7 0M792.8 457.3a0.9 0.6 0 1 1 1.8 0a0.9 0.6 0 1 1 -1.8 0M795.5 454.5a1.2 1.3 0 1 1 2.4 0a1.2 1.3 0 1 1 -2.4 0M803.7 446.9a1.4 1.2 0 1 1 2.8 0a1.4 1.2 0 1 1 -2.8 0M796.3 446.9a0.8 1.4 0 1 1 1.6 0a0.8 1.4 0 1 1 -1.6 0M781.4 462.9a1.5 1.1 0 1 1 3 0a1.5 1.1 0 1 1 -3 0M794 456.5a1.2 0.8 0 1 1 2.4 0a1.2 0.8 0 1 1 -2.4 0M797.3 454.8a0.8 0.9 0 1 1 1.7 0a0.8 0.9 0 1 1 -1.7 0M781.6 463.9a1.3 0.6 0 1 1 2.6 0a1.3 0.6 0 1 1 -2.6 0M799.2 445.5a0.6 0.8 0 1 1 1.2 0a0.6 0.8 0 1 1 -1.2 0M791.9 451.7a1.4 1.5 0 1 1 2.8 0a1.4 1.5 0 1 1 -2.8 0M800.8 449a0.8 0.8 0 1 1 1.6 0a0.8 0.8 0 1 1 -1.6 0M805.3 440.7a0.8 1.1 0 1 1 1.6 0a0.8 1.1 0 1 1 -1.6 0M782 462.9a1.2 0.7 0 1 1 2.4 0a1.2 0.7 0 1 1 -2.4 0M810.1 438.4a0.7 0.7 0 1 1 1.5 0a0.7 0.7 0 1 1 -1.5 0M783.7 421.7a2 2.5 0 1 1 4 0a2 2.5 0 1 1 -4 0M792.1 387.1a0.9 1 0 1 1 1.7 0a0.9 1 0 1 1 -1.7 0M794.2 389a0.5 0.8 0 1 1 1.1 0a0.5 0.8 0 1 1 -1.1 0M794.6 385.7a0.8 0.8 0 1 1 1.7 0a0.8 0.8 0 1 1 -1.7 0M790.7 389.4a1 1 0 1 1 2.1 0a1 1 0 1 1 -2.1 0M793.6 384.4a1.1 0.6 0 1 1 2.2 0a1.1 0.6 0 1 1 -2.2 0M795.7 388.2a0.5 0.8 0 1 1 1 0a0.5 0.8 0 1 1 -1 0M871.9 378.2a1.1 1 0 1 1 2.3 0a1.1 1 0 1 1 -2.3 0M872.6 373.8a1.4 0.8 0 1 1 2.8 0a1.4 0.8 0 1 1 -2.8 0M872.7 377.4a1.3 1 0 1 1 2.6 0a1.3 1 0 1 1 -2.6 0M867.2 377.7a0.6 0.7 0 1 1 1.2 0a0.6 0.7 0 1 1 -1.2 0M864.8 375.7a1.3 1.1 0 1 1 2.6 0a1.3 1.1 0 1 1 -2.6 0M867.5 378.2a1 0.7 0 1 1 2 0a1 0.7 0 1 1 -2 0M865.9 379.4a1.5 0.7 0 1 1 2.9 0a1.5 0.7 0 1 1 -2.9 0M867.2 376.7a1.3 1.1 0 1 1 2.7 0a1.3 1.1 0 1 1 -2.7 0M868.1 378.7a0.9 0.8 0 1 1 1.7 0a0.9 0.8 0 1 1 -1.7 0M871 379.6a0.6 1.3 0 1 1 1.2 0a0.6 1.3 0 1 1 -1.2 0M867.3 371.6a1 1.1 0 1 1 1.9 0a1 1.1 0 1 1 -1.9 0M872.6 377.4a1.4 0.7 0 1 1 2.8 0a1.4 0.7 0 1 1 -2.8 0M867.4 371.4a1.1 1 0 1 1 2.2 0a1.1 1 0 1 1 -2.2 0M867.5 379.6a1.4 0.6 0 1 1 2.8 0a1.4 0.6 0 1 1 -2.8 0M870.7 374.6a1 1 0 1 1 2 0a1 1 0 1 1 -2 0M866.1 379.6a1.3 0.9 0 1 1 2.6 0a1.3 0.9 0 1 1 -2.6 0M868.5 370.2a1.3 1.2 0 1 1 2.6 0a1.3 1.2 0 1 1 -2.6 0M873.4 375.2a1.2 1.3 0 1 1 2.3 0a1.2 1.3 0 1 1 -2.3 0M867.4 372.2a1.1 0.9 0 1 1 2.1 0a1.1 0.9 0 1 1 -2.1 0M873.1 375.9a1.3 1 0 1 1 2.7 0a1.3 1 0 1 1 -2.7 0M874.2 374.8a1.3 0.7 0 1 1 2.6 0a1.3 0.7 0 1 1 -2.6 0M872.6 379.1a1 0.9 0 1 1 2 0a1 0.9 0 1 1 -2 0M867.1 379.6a1.2 1.4 0 1 1 2.3 0a1.2 1.4 0 1 1 -2.3 0M866.8 375.8a0.8 1.5 0 1 1 1.6 0a0.8 1.5 0 1 1 -1.6 0M868.2 374.9a0.8 0.6 0 1 1 1.5 0a0.8 0.6 0 1 1 -1.5 0M870.8 371.4a0.9 0.9 0 1 1 1.7 0a0.9 0.9 0 1 1 -1.7 0M865.9 379.8a1.4 1 0 1 1 2.7 0a1.4 1 0 1 1 -2.7 0M867.8 372.6a0.9 1.4 0 1 1 1.7 0a0.9 1.4 0 1 1 -1.7 0M872.2 378.9a0.7 1.1 0 1 1 1.4 0a0.7 1.1 0 1 1 -1.4 0M869.5 371.2a0.7 1.5 0 1 1 1.4 0a0.7 1.5 0 1 1 -1.4 0M865.1 376.8a1.1 1.1 0 1 1 2.2 0a1.1 1.1 0 1 1 -2.2 0M872.3 399.2a1.6 1.5 0 1 1 3.2 0a1.6 1.5 0 1 1 -3.2 0M863.1 405.5a1.4 1.1 0 1 1 2.9 0a1.4 1.1 0 1 1 -2.9 0M866.6 405.4a1.3 0.7 0 1 1 2.7 0a1.3 0.7 0 1 1 -2.7 0M862.7 393a0.9 1.6 0 1 1 1.8 0a0.9 1.6 0 1 1 -1.8 0M867.9 402.2a1.5 1.4 0 1 1 3 0a1.5 1.4 0 1 1 -3 0M865.6 402.9a1.2 1.6 0 1 1 2.5 0a1.2 1.6 0 1 1 -2.5 0M866.3 404.1a1.2 0.8 0 1 1 2.3 0a1.2 0.8 0 1 1 -2.3 0M860.9 400.5a1.6 1.3 0 1 1 3.1 0a1.6 1.3 0 1 1 -3.1 0M863.5 399.4a1.7 1.2 0 1 1 3.3 0a1.7 1.2 0 1 1 -3.3 0M871.8 399.3a1.1 1.1 0 1 1 2.3 0a1.1 1.1 0 1 1 -2.3 0M867.4 402.9a1.2 1.2 0 1 1 2.4 0a1.2 1.2 0 1 1 -2.4 0M865.7 406.5a1.7 1.6 0 1 1 3.3 0a1.7 1.6 0 1 1 -3.3 0M873.6 398.7a1.3 1.3 0 1 1 2.6 0a1.3 1.3 0 1 1 -2.6 0M861.9 404.4a1.4 1.3 0 1 1 2.8 0a1.4 1.3 0 1 1 -2.8 0M870.1 400.8a0.9 0.9 0 1 1 1.8 0a0.9 0.9 0 1 1 -1.8 0M869.2 393.8a1.2 1.3 0 1 1 2.4 0a1.2 1.3 0 1 1 -2.4 0M861.9 398.3a1.5 1.2 0 1 1 3.1 0a1.5 1.2 0 1 1 -3.1 0M864.9 407.1a1.2 1.6 0 1 1 2.5 0a1.2 1.6 0 1 1 -2.5 0M869.9 392a1.3 1.6 0 1 1 2.7 0a1.3 1.6 0 1 1 -2.7 0M861.9 400.2a0.8 0.9 0 1 1 1.6 0a0.8 0.9 0 1 1 -1.6 0M870.8 401.5a0.7 1.1 0 1 1 1.4 0a0.7 1.1 0 1 1 -1.4 0M871.7 402.7a1.5 1.1 0 1 1 3.1 0a1.5 1.1 0 1 1 -3.1 0M866.2 400.1a1.5 1.2 0 1 1 3 0a1.5 1.2 0 1 1 -3 0M866.4 397.5a1.1 0.9 0 1 1 2.3 0a1.1 0.9 0 1 1 -2.3 0M871.3 405.8a1.2 1.4 0 1 1 2.4 0a1.2 1.4 0 1 1 -2.4 0M871 406.3a0.7 1.6 0 1 1 1.4 0a0.7 1.6 0 1 1 -1.4 0M865.9 391.7a0.7 1.7 0 1 1 1.5 0a0.7 1.7 0 1 1 -1.5 0M862.6 401.4a0.8 1.6 0 1 1 1.6 0a0.8 1.6 0 1 1 -1.6 0M869.4 400.7a1.3 1.2 0 1 1 2.6 0a1.3 1.2 0 1 1 -2.6 0M862.6 397.2a1.2 0.9 0 1 1 2.4 0a1.2 0.9 0 1 1 -2.4 0M867.1 405.1a1.7 1.4 0 1 1 3.3 0a1.7 1.4 0 1 1 -3.3 0M866.2 397.1a0.9 1.5 0 1 1 1.8 0a0.9 1.5 0 1 1 -1.8 0M869.2 391.4a1.3 1.5 0 1 1 2.7 0a1.3 1.5 0 1 1 -2.7 0M868.9 392.5a0.7 1.5 0 1 1 1.4 0a0.7 1.5 0 1 1 -1.4 0M871.4 396.3a1.2 1 0 1 1 2.5 0a1.2 1 0 1 1 -2.5 0M865.8 398.1a1.6 1.6 0 1 1 3.2 0a1.6 1.6 0 1 1 -3.2 0M871.1 405.2a1.5 1.1 0 1 1 2.9 0a1.5 1.1 0 1 1 -2.9 0M861.8 398.5a1.1 1.1 0 1 1 2.1 0a1.1 1.1 0 1 1 -2.1 0M861.5 395.6a1.6 1.6 0 1 1 3.3 0a1.6 1.6 0 1 1 -3.3 0M864 393a1.2 0.8 0 1 1 2.4 0a1.2 0.8 0 1 1 -2.4 0M872.7 403.2a1 1.2 0 1 1 2 0a1 1.2 0 1 1 -2 0M869.8 395a1.6 0.7 0 1 1 3.2 0a1.6 0.7 0 1 1 -3.2 0M864.1 406.7a0.8 1.2 0 1 1 1.5 0a0.8 1.2 0 1 1 -1.5 0M871.6 402.2a1.2 1.3 0 1 1 2.4 0a1.2 1.3 0 1 1 -2.4 0M865.2 405.1a1.1 1.1 0 1 1 2.2 0a1.1 1.1 0 1 1 -2.2 0M863.8 392.3a1.1 1.1 0 1 1 2.2 0a1.1 1.1 0 1 1 -2.2 0M886.8 377.7a2.4 4.5 0 1 1 4.8 0a2.4 4.5 0 1 1 -4.8 0M888 368a1.5 4 0 1 1 3 0a1.5 4 0 1 1 -3 0M907.6 361a2.6 3.6 0 1 1 5.2 0a2.6 3.6 0 1 1 -5.2 0M910.5 365h1.5v5h-1.5zM909.7 370h1.1v6.7h-1.1zM909.8 376.7h1.4v1.3h-1.4zM909.7 366.2a1 1.5 0 1 1 2 0a1 1.5 0 1 1 -2 0M909.4 366.5a0.9 0.6 0 1 1 1.9 0a0.9 0.6 0 1 1 -1.9 0M909.7 367.6a0.6 1.6 0 1 1 1.3 0a0.6 1.6 0 1 1 -1.3 0M909.4 370.2a0.9 0.9 0 1 1 1.8 0a0.9 0.9 0 1 1 -1.8 0M910.2 370.9a1 1.3 0 1 1 2 0a1 1.3 0 1 1 -2 0M909.9 371.4a0.6 0.7 0 1 1 1.2 0a0.6 0.7 0 1 1 -1.2 0M910.2 375.8a1.1 0.8 0 1 1 2.2 0a1.1 0.8 0 1 1 -2.2 0M909.3 375.9a1.1 0.7 0 1 1 2.2 0a1.1 0.7 0 1 1 -2.2 0M889.5 395.4a1.2 0.7 0 1 1 2.4 0a1.2 0.7 0 1 1 -2.4 0M895.7 393.1a0.8 0.8 0 1 1 1.5 0a0.8 0.8 0 1 1 -1.5 0M890.3 394.3a0.5 1 0 1 1 1 0a0.5 1 0 1 1 -1 0M888.3 392.9a1.1 1.2 0 1 1 2.1 0a1.1 1.2 0 1 1 -2.1 0M897.6 393a1.1 0.8 0 1 1 2.1 0a1.1 0.8 0 1 1 -2.1 0M893.2 391.8a0.9 1.1 0 1 1 1.8 0a0.9 1.1 0 1 1 -1.8 0M889.1 393.2a0.6 0.5 0 1 1 1.1 0a0.6 0.5 0 1 1 -1.1 0M896.2 391.5a0.7 1.1 0 1 1 1.4 0a0.7 1.1 0 1 1 -1.4 0M894.7 394.9a0.8 0.7 0 1 1 1.5 0a0.8 0.7 0 1 1 -1.5 0M898.8 392.3a0.8 0.7 0 1 1 1.6 0a0.8 0.7 0 1 1 -1.6 0M896.2 392.8a1.2 1 0 1 1 2.3 0a1.2 1 0 1 1 -2.3 0M886.8 402a1.2 2 0 1 1 2.4 0a1.2 2 0 1 1 -2.4 0M840.5 416.3a7 2 -38 1 1 11 -8.6a7 2 -38 1 1 -11 8.6M860.5 410a1.5 2.5 0 1 1 3 0a1.5 2.5 0 1 1 -3 0M281.4 862.6a1 1 0 1 1 1.9 0a1 1 0 1 1 -1.9 0M283.7 857.7a1.1 0.9 0 1 1 2.2 0a1.1 0.9 0 1 1 -2.2 0M283.6 861.9a1.2 0.9 0 1 1 2.4 0a1.2 0.9 0 1 1 -2.4 0M285.1 856.9a0.5 0.8 0 1 1 1.1 0a0.5 0.8 0 1 1 -1.1 0M287.5 856.6a1 0.6 0 1 1 2.1 0a1 0.6 0 1 1 -2.1 0M287.4 858.6a0.6 0.7 0 1 1 1.2 0a0.6 0.7 0 1 1 -1.2 0M286 857.4a0.5 1.2 0 1 1 1 0a0.5 1.2 0 1 1 -1 0M291.2 859.5a0.9 1 0 1 1 1.9 0a0.9 1 0 1 1 -1.9 0M291 857.1a0.6 0.9 0 1 1 1.3 0a0.6 0.9 0 1 1 -1.3 0M289.2 857.1a0.5 0.8 0 1 1 1.1 0a0.5 0.8 0 1 1 -1.1 0M278 866.2a3.5 2.5 -30 1 1 6.1 -3.5a3.5 2.5 -30 1 1 -6.1 3.5M293.5 856a3 5 0 1 1 6 0a3 5 0 1 1 -6 0M292.5 862a2.5 3 0 1 1 5 0a2.5 3 0 1 1 -5 0M299.3 848a7 2.4 -35 1 1 11.5 -8a7 2.4 -35 1 1 -11.5 8M265 871a2.5 5.5 0 1 1 5 0a2.5 5.5 0 1 1 -5 0M261.8 877.8a2.5 1.2 -30 1 1 4.3 -2.5a2.5 1.2 -30 1 1 -4.3 2.5M285.7 833a0.8 0.6 0 1 1 1.6 0a0.8 0.6 0 1 1 -1.6 0M295.6 833.6a0.8 0.6 0 1 1 1.6 0a0.8 0.6 0 1 1 -1.6 0M268.1 850.7a0.8 0.6 0 1 1 1.6 0a0.8 0.6 0 1 1 -1.6 0M296.7 873.3a0.8 0.6 0 1 1 1.6 0a0.8 0.6 0 1 1 -1.6 0M266.4 886a0.8 0.6 0 1 1 1.6 0a0.8 0.6 0 1 1 -1.6 0M268.2 860a0.8 0.6 0 1 1 1.6 0a0.8 0.6 0 1 1 -1.6 0M266.7 882a0.8 0.6 0 1 1 1.6 0a0.8 0.6 0 1 1 -1.6 0M795.2 858a1 2 0 1 1 2 0a1 2 0 1 1 -2 0M795.3 826a0.7 0.6 0 1 1 1.4 0a0.7 0.6 0 1 1 -1.4 0M795.3 843a0.7 0.6 0 1 1 1.4 0a0.7 0.6 0 1 1 -1.4 0M793.3 838a0.7 0.6 0 1 1 1.4 0a0.7 0.6 0 1 1 -1.4 0M787.3 838a0.7 0.6 0 1 1 1.4 0a0.7 0.6 0 1 1 -1.4 0" fill="#000"/>
<path d="M545.3 296.2a1.8 2.3 0 1 1 3.6 0a1.8 2.3 0 1 1 -3.6 -0M539.1 312a1.2 2.6 0 1 1 2.4 0a1.2 2.6 0 1 1 -2.4 -0M538.8 320.2a2.1 2.1 0 1 1 4.2 0a2.1 2.1 0 1 1 -4.2 -0M545.7 320.9a1.9 1.8 0 1 1 3.9 0a1.9 1.8 0 1 1 -3.9 -0M542.1 335.5a1.4 2.7 0 1 1 2.9 0a1.4 2.7 0 1 1 -2.9 -0M541 342.9a1.5 2.4 0 1 1 2.9 0a1.5 2.4 0 1 1 -2.9 -0M542.8 352.5a1.5 2.5 0 1 1 3 0a1.5 2.5 0 1 1 -3 -0M537.1 364.6a1.4 2.2 0 1 1 2.9 0a1.4 2.2 0 1 1 -2.9 -0M539.7 377.8a1.8 1.8 0 1 1 3.7 0a1.8 1.8 0 1 1 -3.7 -0M541 380.4a2 2.8 0 1 1 4 0a2 2.8 0 1 1 -4 -0M542.2 392.1a1.8 2.8 0 1 1 3.7 0a1.8 2.8 0 1 1 -3.7 -0M543 403.2a1.2 1.9 0 1 1 2.3 0a1.2 1.9 0 1 1 -2.3 -0M539.3 409.8a1.3 2.6 0 1 1 2.5 0a1.3 2.6 0 1 1 -2.5 -0M544.5 412.5a1.4 1.9 0 1 1 2.8 0a1.4 1.9 0 1 1 -2.8 -0M540.7 416.3a1.9 1.5 0 1 1 3.9 0a1.9 1.5 0 1 1 -3.9 -0M546.2 418.5a1.8 2.4 0 1 1 3.5 0a1.8 2.4 0 1 1 -3.5 -0M541 418.8a1.4 2.4 0 1 1 2.9 0a1.4 2.4 0 1 1 -2.9 -0M542.6 424.4a1.5 2.1 0 1 1 2.9 0a1.5 2.1 0 1 1 -2.9 -0M541.9 429.9a1.3 2.1 0 1 1 2.6 0a1.3 2.1 0 1 1 -2.6 -0M536.5 443.5a1.7 2.8 0 1 1 3.3 0a1.7 2.8 0 1 1 -3.3 -0M539.2 446.3a1.7 1.5 0 1 1 3.4 0a1.7 1.5 0 1 1 -3.4 -0M536.6 467.6a1.3 1.6 0 1 1 2.6 0a1.3 1.6 0 1 1 -2.6 -0M544.4 469.6a1.2 1.9 0 1 1 2.5 0a1.2 1.9 0 1 1 -2.5 -0M539.2 469.9a1.4 2.3 0 1 1 2.7 0a1.4 2.3 0 1 1 -2.7 -0M543 473.4a1.6 2.6 0 1 1 3.1 0a1.6 2.6 0 1 1 -3.1 -0M540.6 480.3a1.5 1.8 0 1 1 3 0a1.5 1.8 0 1 1 -3 -0M543.2 483a1.3 1.5 0 1 1 2.6 0a1.3 1.5 0 1 1 -2.6 -0M544.5 490.3a1.5 2 0 1 1 3 0a1.5 2 0 1 1 -3 -0M540.6 501.7a1.6 1.6 0 1 1 3.2 0a1.6 1.6 0 1 1 -3.2 -0M543.4 501.8a1.2 2.5 0 1 1 2.4 0a1.2 2.5 0 1 1 -2.4 -0M540 504.2a1.9 2.7 0 1 1 3.9 0a1.9 2.7 0 1 1 -3.9 -0M547.7 520.3a1.8 1.7 0 1 1 3.6 0a1.8 1.7 0 1 1 -3.6 -0M536.7 522.9a2 1.9 0 1 1 4 0a2 1.9 0 1 1 -4 -0M542.8 541.5a1.4 2.4 0 1 1 2.8 0a1.4 2.4 0 1 1 -2.8 -0M537.7 543.4a1.5 1.6 0 1 1 2.9 0a1.5 1.6 0 1 1 -2.9 -0M537.3 545.2a1.7 2.8 0 1 1 3.4 0a1.7 2.8 0 1 1 -3.4 -0M539.6 549.9a1.8 2.1 0 1 1 3.6 0a1.8 2.1 0 1 1 -3.6 -0M538.8 557.4a1.2 2.8 0 1 1 2.4 0a1.2 2.8 0 1 1 -2.4 -0M539.8 559.9a1.8 3 0 1 1 3.6 0a1.8 3 0 1 1 -3.6 -0M537.8 572.5a1.9 1.5 0 1 1 3.7 0a1.9 1.5 0 1 1 -3.7 -0M540.2 579.7a2 2.4 0 1 1 4.1 0a2 2.4 0 1 1 -4.1 -0M537.2 583.9a2.1 2.9 0 1 1 4.2 0a2.1 2.9 0 1 1 -4.2 -0M543.3 585.8a1.4 2.6 0 1 1 2.8 0a1.4 2.6 0 1 1 -2.8 -0M543.4 585.9a1.6 1.6 0 1 1 3.3 0a1.6 1.6 0 1 1 -3.3 -0M545.1 593a1.9 2.7 0 1 1 3.7 0a1.9 2.7 0 1 1 -3.7 -0M544.5 597.4a1.4 1.8 0 1 1 2.7 0a1.4 1.8 0 1 1 -2.7 -0M542.2 607.4a2 2.5 0 1 1 4.1 0a2 2.5 0 1 1 -4.1 -0M541.4 610a1.2 2.3 0 1 1 2.4 0a1.2 2.3 0 1 1 -2.4 -0M539.8 615a1.2 2.5 0 1 1 2.3 0a1.2 2.5 0 1 1 -2.3 -0M539.8 627a1.7 2.9 0 1 1 3.4 0a1.7 2.9 0 1 1 -3.4 -0M537.4 627.8a2.1 1.5 0 1 1 4.1 0a2.1 1.5 0 1 1 -4.1 -0M539.3 632a2 1.7 0 1 1 4 0a2 1.7 0 1 1 -4 -0M543.7 637.6a2.1 2 0 1 1 4.2 0a2.1 2 0 1 1 -4.2 -0M539.1 640.3a1.2 2.9 0 1 1 2.3 0a1.2 2.9 0 1 1 -2.3 -0M542.5 644.6a1.3 2 0 1 1 2.6 0a1.3 2 0 1 1 -2.6 -0M542.7 646.6a1.6 2.9 0 1 1 3.3 0a1.6 2.9 0 1 1 -3.3 -0M540.4 649.1a2 3 0 1 1 4.1 0a2 3 0 1 1 -4.1 -0M540.3 673.1a2.1 2.4 0 1 1 4.2 0a2.1 2.4 0 1 1 -4.2 -0M542.4 683.4a1.4 1.5 0 1 1 2.9 0a1.4 1.5 0 1 1 -2.9 -0M540.3 684.2a1.6 2.9 0 1 1 3.1 0a1.6 2.9 0 1 1 -3.1 -0M538.8 690.2a1.6 2.1 0 1 1 3.1 0a1.6 2.1 0 1 1 -3.1 -0M537.4 690.9a2.1 2.8 0 1 1 4.1 0a2.1 2.8 0 1 1 -4.1 -0M540.5 693.2a1.8 1.6 0 1 1 3.6 0a1.8 1.6 0 1 1 -3.6 -0M540.6 723.3a1.9 1.5 0 1 1 3.7 0a1.9 1.5 0 1 1 -3.7 -0M537.3 731.3a1.8 2.2 0 1 1 3.6 0a1.8 2.2 0 1 1 -3.6 -0M544.9 735.4a1.3 2.6 0 1 1 2.6 0a1.3 2.6 0 1 1 -2.6 -0M541.5 738.9a1.9 2.6 0 1 1 3.7 0a1.9 2.6 0 1 1 -3.7 -0M542.2 748.5a2 2.6 0 1 1 3.9 0a2 2.6 0 1 1 -3.9 -0M539.6 755.5a1.8 2.9 0 1 1 3.5 0a1.8 2.9 0 1 1 -3.5 -0M540.8 765.2a1.8 2.9 0 1 1 3.5 0a1.8 2.9 0 1 1 -3.5 -0M538.3 769.2a1.7 2.1 0 1 1 3.5 0a1.7 2.1 0 1 1 -3.5 -0M541 769.9a1.6 2.2 0 1 1 3.2 0a1.6 2.2 0 1 1 -3.2 -0M541.9 776.5a2 2.2 0 1 1 4 0a2 2.2 0 1 1 -4 -0M538.9 780.5a2 2.7 0 1 1 4 0a2 2.7 0 1 1 -4 -0M541.7 803.8a2 2.3 0 1 1 3.9 0a2 2.3 0 1 1 -3.9 -0M539.7 810.6a1.9 2.7 0 1 1 3.8 0a1.9 2.7 0 1 1 -3.8 -0M542.3 811.5a1.9 2.7 0 1 1 3.9 0a1.9 2.7 0 1 1 -3.9 -0M539 813.6a1.8 1.6 0 1 1 3.6 0a1.8 1.6 0 1 1 -3.6 -0M541.9 813.8a1.6 2.3 0 1 1 3.3 0a1.6 2.3 0 1 1 -3.3 -0M544.1 823.4a1.5 1.9 0 1 1 2.9 0a1.5 1.9 0 1 1 -2.9 -0M542.9 831a2 2.2 0 1 1 3.9 0a2 2.2 0 1 1 -3.9 -0M541.4 838a1.7 2.9 0 1 1 3.4 0a1.7 2.9 0 1 1 -3.4 -0M538.6 844.1a2 2.2 0 1 1 4.1 0a2 2.2 0 1 1 -4.1 -0M540.3 844.8a2 2.9 0 1 1 4 0a2 2.9 0 1 1 -4 -0M542.8 845.4a1.4 2.5 0 1 1 2.7 0a1.4 2.5 0 1 1 -2.7 -0M543 884.3a2 2.6 0 1 1 3.9 0a2 2.6 0 1 1 -3.9 -0M535.5 885.4a1.7 2.4 0 1 1 3.4 0a1.7 2.4 0 1 1 -3.4 -0M538.6 889a2.1 2 0 1 1 4.2 0a2.1 2 0 1 1 -4.2 -0M545.7 893.8a1.4 2.7 0 1 1 2.7 0a1.4 2.7 0 1 1 -2.7 -0M542.5 895.5a1.1 2.7 0 1 1 2.2 0a1.1 2.7 0 1 1 -2.2 -0M538.5 900.9a1.5 1.7 0 1 1 2.9 0a1.5 1.7 0 1 1 -2.9 -0M542.5 904.8a1.3 1.8 0 1 1 2.7 0a1.3 1.8 0 1 1 -2.7 -0M541.5 906.7a1.6 1.6 0 1 1 3.3 0a1.6 1.6 0 1 1 -3.3 -0M538.4 915.7a1.2 1.9 0 1 1 2.3 0a1.2 1.9 0 1 1 -2.3 -0M534.5 921a1.4 2.3 0 1 1 2.8 0a1.4 2.3 0 1 1 -2.8 -0M543.8 925.9a1.1 1.6 0 1 1 2.2 0a1.1 1.6 0 1 1 -2.2 -0M540.6 927.6a1.7 2.2 0 1 1 3.4 0a1.7 2.2 0 1 1 -3.4 -0M543 930.5a1.2 1.9 0 1 1 2.5 0a1.2 1.9 0 1 1 -2.5 -0M546.7 935.9a1.4 2.4 0 1 1 2.7 0a1.4 2.4 0 1 1 -2.7 -0M536.4 937.1a2.1 2.2 0 1 1 4.1 0a2.1 2.2 0 1 1 -4.1 -0M543.5 942.5a1.3 1.4 0 1 1 2.6 0a1.3 1.4 0 1 1 -2.6 -0M540.2 944.3a2 1.6 0 1 1 3.9 0a2 1.6 0 1 1 -3.9 -0M535.6 948.6a1.7 1.9 0 1 1 3.5 0a1.7 1.9 0 1 1 -3.5 -0M540.1 948.7a1.2 2.6 0 1 1 2.4 0a1.2 2.6 0 1 1 -2.4 -0M537.4 953.2a1.8 1.8 0 1 1 3.6 0a1.8 1.8 0 1 1 -3.6 -0M538.7 971.5a1.8 2.3 0 1 1 3.5 0a1.8 2.3 0 1 1 -3.5 -0M539.4 984.8a1.6 2.8 0 1 1 3.3 0a1.6 2.8 0 1 1 -3.3 -0M648.1 304.5a1.3 1.4 0 1 1 2.6 0a1.3 1.4 0 1 1 -2.6 -0M646.4 307.3a1.8 1.3 0 1 1 3.6 0a1.8 1.3 0 1 1 -3.6 -0M646.9 317a1.5 2.5 0 1 1 3 0a1.5 2.5 0 1 1 -3 -0M644.5 343.3a1.4 2.1 0 1 1 2.9 0a1.4 2.1 0 1 1 -2.9 -0M648.9 343.7a1.6 1.5 0 1 1 3.2 0a1.6 1.5 0 1 1 -3.2 -0M644.3 347a1.8 2.5 0 1 1 3.6 0a1.8 2.5 0 1 1 -3.6 -0M646.8 367.5a1.9 2.3 0 1 1 3.7 0a1.9 2.3 0 1 1 -3.7 -0M645.2 370.5a1.2 2.4 0 1 1 2.3 0a1.2 2.4 0 1 1 -2.3 -0M647.6 393.9a2 2 0 1 1 4.1 0a2 2 0 1 1 -4.1 -0M647.2 428.9a1.5 2.6 0 1 1 3 0a1.5 2.6 0 1 1 -3 -0M647.2 442.6a1.3 2.6 0 1 1 2.6 0a1.3 2.6 0 1 1 -2.6 -0M644.3 442.8a1.4 2.9 0 1 1 2.8 0a1.4 2.9 0 1 1 -2.8 -0M645.9 484.5a1.3 2.2 0 1 1 2.7 0a1.3 2.2 0 1 1 -2.7 -0M646.7 485.9a1.5 2.6 0 1 1 2.9 0a1.5 2.6 0 1 1 -2.9 -0M643.2 515.3a1.7 2.5 0 1 1 3.4 0a1.7 2.5 0 1 1 -3.4 -0M645.7 519.4a1.9 2 0 1 1 3.7 0a1.9 2 0 1 1 -3.7 -0M647.2 529.7a2 1.5 0 1 1 4.1 0a2 1.5 0 1 1 -4.1 -0M645.3 541.8a1.2 2.1 0 1 1 2.4 0a1.2 2.1 0 1 1 -2.4 -0M646.8 555.2a1.6 1.7 0 1 1 3.2 0a1.6 1.7 0 1 1 -3.2 -0M644.5 563.1a1.8 3 0 1 1 3.6 0a1.8 3 0 1 1 -3.6 -0M645.1 564.9a1.8 2.5 0 1 1 3.5 0a1.8 2.5 0 1 1 -3.5 -0M647.1 568.2a1.1 2.3 0 1 1 2.3 0a1.1 2.3 0 1 1 -2.3 -0M646.8 568.7a1.3 2.9 0 1 1 2.7 0a1.3 2.9 0 1 1 -2.7 -0M645.3 583.6a1.5 3 0 1 1 2.9 0a1.5 3 0 1 1 -2.9 -0M647.3 587.2a1.4 2.8 0 1 1 2.7 0a1.4 2.8 0 1 1 -2.7 -0M645 604.6a2.2 3.5 0 1 1 4.4 0a2.2 3.5 0 1 1 -4.4 -0M644.8 610.3a1.9 2.4 0 1 1 3.8 0a1.9 2.4 0 1 1 -3.8 -0M646.4 610.9a1.5 3.1 0 1 1 2.9 0a1.5 3.1 0 1 1 -2.9 -0M646.1 614.8a2.4 1.9 0 1 1 4.8 0a2.4 1.9 0 1 1 -4.8 -0M647.1 630.8a2.3 2.9 0 1 1 4.7 0a2.3 2.9 0 1 1 -4.7 -0M647.8 631.5a2.4 3.2 0 1 1 4.8 0a2.4 3.2 0 1 1 -4.8 -0M646 644.9a1.8 2 0 1 1 3.7 0a1.8 2 0 1 1 -3.7 -0M646.4 648.7a2.1 2.5 0 1 1 4.2 0a2.1 2.5 0 1 1 -4.2 -0M646.4 662.3a2.4 2.2 0 1 1 4.8 0a2.4 2.2 0 1 1 -4.8 -0M645 688.6a2 2.6 0 1 1 4 0a2 2.6 0 1 1 -4 -0M644.7 697.2a2.2 2.6 0 1 1 4.3 0a2.2 2.6 0 1 1 -4.3 -0M646.8 698a1.5 3.4 0 1 1 3 0a1.5 3.4 0 1 1 -3 -0M645 700.5a2 2 0 1 1 4 0a2 2 0 1 1 -4 -0M644.2 708a1.5 3.3 0 1 1 2.9 0a1.5 3.3 0 1 1 -2.9 -0M645.6 713.8a1.6 2 0 1 1 3.3 0a1.6 2 0 1 1 -3.3 -0M647.3 718.3a2.5 2.9 0 1 1 5 0a2.5 2.9 0 1 1 -5 -0M647.1 720.3a2.3 3.1 0 1 1 4.6 0a2.3 3.1 0 1 1 -4.6 -0M645.4 724.5a1.7 2.8 0 1 1 3.3 0a1.7 2.8 0 1 1 -3.3 -0M645.7 744.2a1.7 3.3 0 1 1 3.3 0a1.7 3.3 0 1 1 -3.3 -0M648.5 756.4a2.2 1.9 0 1 1 4.4 0a2.2 1.9 0 1 1 -4.4 -0M644.5 759.1a1.5 3 0 1 1 3 0a1.5 3 0 1 1 -3 -0M645.6 773.8a2.2 3.5 0 1 1 4.5 0a2.2 3.5 0 1 1 -4.5 -0M646.6 786.6a1.8 3.3 0 1 1 3.6 0a1.8 3.3 0 1 1 -3.6 -0M645 791.8a1.7 2.1 0 1 1 3.5 0a1.7 2.1 0 1 1 -3.5 -0M645.4 795.3a1.9 2.7 0 1 1 3.8 0a1.9 2.7 0 1 1 -3.8 -0M645.4 802.1a2 2.7 0 1 1 3.9 0a2 2.7 0 1 1 -3.9 -0M645.4 809.4a1.7 2.4 0 1 1 3.4 0a1.7 2.4 0 1 1 -3.4 -0M646.3 825.7a2 3.1 0 1 1 4 0a2 3.1 0 1 1 -4 -0M643.4 839.3a1.9 3.1 0 1 1 3.7 0a1.9 3.1 0 1 1 -3.7 -0M644.1 847.1a2.4 3.7 0 1 1 4.8 0a2.4 3.7 0 1 1 -4.8 -0M646.1 850.3a2.2 3 0 1 1 4.5 0a2.2 3 0 1 1 -4.5 -0M644.8 856.9a1.7 2.7 0 1 1 3.3 0a1.7 2.7 0 1 1 -3.3 -0M645.9 869.1a1.9 3 0 1 1 3.9 0a1.9 3 0 1 1 -3.9 -0M646.5 875.8a1.7 1.9 0 1 1 3.4 0a1.7 1.9 0 1 1 -3.4 -0M644.3 889.4a2.3 2.6 0 1 1 4.5 0a2.3 2.6 0 1 1 -4.5 -0M647.8 897.7a1.5 2.4 0 1 1 3 0a1.5 2.4 0 1 1 -3 -0M646.2 899.4a1.7 2.9 0 1 1 3.3 0a1.7 2.9 0 1 1 -3.3 -0M642.6 902.7a2.3 2.9 0 1 1 4.6 0a2.3 2.9 0 1 1 -4.6 -0M647.2 918.4a2.4 3.6 0 1 1 4.8 0a2.4 3.6 0 1 1 -4.8 -0M648.9 928.2a1.5 2 0 1 1 3.1 0a1.5 2 0 1 1 -3.1 -0M646.1 931.1a2.2 2.3 0 1 1 4.4 0a2.2 2.3 0 1 1 -4.4 -0M645.1 955.9a1.5 3.6 0 1 1 3 0a1.5 3.6 0 1 1 -3 -0M647 959.1a1.6 3.7 0 1 1 3.3 0a1.6 3.7 0 1 1 -3.3 -0M645.3 960.6a2.5 3.3 0 1 1 5 0a2.5 3.3 0 1 1 -5 -0M646.7 961.9a1.8 2.4 0 1 1 3.6 0a1.8 2.4 0 1 1 -3.6 -0M645.6 962.1a2.3 2.2 0 1 1 4.6 0a2.3 2.2 0 1 1 -4.6 -0M648 962.8a1.9 3 0 1 1 3.9 0a1.9 3 0 1 1 -3.9 -0M876 304.8a2.1 2.3 0 1 1 4.3 0a2.1 2.3 0 1 1 -4.3 -0M878.3 311.8a1.3 2.1 0 1 1 2.6 0a1.3 2.1 0 1 1 -2.6 -0M879.4 319.1a1.2 2.9 0 1 1 2.3 0a1.2 2.9 0 1 1 -2.3 -0M878.9 325.6a1.4 2 0 1 1 2.7 0a1.4 2 0 1 1 -2.7 -0M874.8 336.9a2 1.6 0 1 1 4.1 0a2 1.6 0 1 1 -4.1 -0M880.1 338.7a1.5 2.4 0 1 1 3 0a1.5 2.4 0 1 1 -3 -0M880 352.3a1.2 2 0 1 1 2.5 0a1.2 2 0 1 1 -2.5 -0M877.9 357.4a1.2 3.2 0 1 1 2.5 0a1.2 3.2 0 1 1 -2.5 -0M878.6 362.6a1.8 1.7 0 1 1 3.7 0a1.8 1.7 0 1 1 -3.7 -0M879.6 363.2a1.8 3.1 0 1 1 3.7 0a1.8 3.1 0 1 1 -3.7 -0M880.9 377.1a1.3 1.7 0 1 1 2.6 0a1.3 1.7 0 1 1 -2.6 -0M878.3 395.3a1.5 3.1 0 1 1 3.1 0a1.5 3.1 0 1 1 -3.1 -0M878.2 398.1a1.7 2.8 0 1 1 3.3 0a1.7 2.8 0 1 1 -3.3 -0M875.9 399.1a1.9 2.5 0 1 1 3.9 0a1.9 2.5 0 1 1 -3.9 -0M881.7 400.7a1.6 2.3 0 1 1 3.3 0a1.6 2.3 0 1 1 -3.3 -0M878.2 401.6a1.9 2.1 0 1 1 3.7 0a1.9 2.1 0 1 1 -3.7 -0M879.2 405.7a1.2 2.2 0 1 1 2.4 0a1.2 2.2 0 1 1 -2.4 -0M879.7 416.7a1.5 1.8 0 1 1 2.9 0a1.5 1.8 0 1 1 -2.9 -0M878.6 425.2a1.2 3 0 1 1 2.5 0a1.2 3 0 1 1 -2.5 -0M874.8 435.2a1.9 1.9 0 1 1 3.9 0a1.9 1.9 0 1 1 -3.9 -0M880.6 453.3a1.4 2.9 0 1 1 2.9 0a1.4 2.9 0 1 1 -2.9 -0M877.4 460.9a2 1.7 0 1 1 4 0a2 1.7 0 1 1 -4 -0M876.2 463.4a1.9 1.7 0 1 1 3.9 0a1.9 1.7 0 1 1 -3.9 -0M880.4 464.1a1.3 1.5 0 1 1 2.6 0a1.3 1.5 0 1 1 -2.6 -0M879.3 476.5a1.2 2.8 0 1 1 2.3 0a1.2 2.8 0 1 1 -2.3 -0M875.6 479.6a1.8 2.8 0 1 1 3.7 0a1.8 2.8 0 1 1 -3.7 -0M881.6 487.9a1.8 1.8 0 1 1 3.6 0a1.8 1.8 0 1 1 -3.6 -0M878.4 488.2a1.4 2.5 0 1 1 2.9 0a1.4 2.5 0 1 1 -2.9 -0M876.8 489.6a1.2 2.1 0 1 1 2.4 0a1.2 2.1 0 1 1 -2.4 -0M880.7 498.2a1.3 3 0 1 1 2.6 0a1.3 3 0 1 1 -2.6 -0M877.4 502.6a1.7 2.8 0 1 1 3.3 0a1.7 2.8 0 1 1 -3.3 -0M878.8 526a1.3 2.5 0 1 1 2.7 0a1.3 2.5 0 1 1 -2.7 -0M880.8 527.7a1.7 2.7 0 1 1 3.5 0a1.7 2.7 0 1 1 -3.5 -0M875.7 532.3a1.8 2.2 0 1 1 3.5 0a1.8 2.2 0 1 1 -3.5 -0M878.4 545a1.3 2.1 0 1 1 2.6 0a1.3 2.1 0 1 1 -2.6 -0M882.9 546.2a1.4 2.2 0 1 1 2.8 0a1.4 2.2 0 1 1 -2.8 -0M876.2 563.5a1.6 2.3 0 1 1 3.2 0a1.6 2.3 0 1 1 -3.2 -0M875.1 567.2a1.6 1.5 0 1 1 3.2 0a1.6 1.5 0 1 1 -3.2 -0M873.5 577.1a2 2.1 0 1 1 4.1 0a2 2.1 0 1 1 -4.1 -0M879.5 581.8a1.1 1.5 0 1 1 2.3 0a1.1 1.5 0 1 1 -2.3 -0M878.8 582.7a1.7 1.5 0 1 1 3.4 0a1.7 1.5 0 1 1 -3.4 -0M878.8 590a1.9 2.8 0 1 1 3.7 0a1.9 2.8 0 1 1 -3.7 -0M874.7 590.1a2.1 2 0 1 1 4.2 0a2.1 2 0 1 1 -4.2 -0M880.4 594.3a1.7 2.3 0 1 1 3.4 0a1.7 2.3 0 1 1 -3.4 -0M875.4 595.5a2 2.2 0 1 1 4 0a2 2.2 0 1 1 -4 -0M876.9 605.2a1.1 2 0 1 1 2.2 0a1.1 2 0 1 1 -2.2 -0M880.2 608.2a1.8 1.7 0 1 1 3.6 0a1.8 1.7 0 1 1 -3.6 -0M878.5 614.8a2 2.5 0 1 1 3.9 0a2 2.5 0 1 1 -3.9 -0M879.1 622a1.4 1.7 0 1 1 2.7 0a1.4 1.7 0 1 1 -2.7 -0M880.5 624.6a1.6 2.8 0 1 1 3.2 0a1.6 2.8 0 1 1 -3.2 -0M878.2 626.5a1.6 2.1 0 1 1 3.2 0a1.6 2.1 0 1 1 -3.2 -0M877.9 628.3a1.1 2.9 0 1 1 2.2 0a1.1 2.9 0 1 1 -2.2 -0M884.1 634.3a2 2.7 0 1 1 4 0a2 2.7 0 1 1 -4 -0M876.3 635.7a1.9 1.7 0 1 1 3.9 0a1.9 1.7 0 1 1 -3.9 -0M878.9 637.9a1.6 2.7 0 1 1 3.1 0a1.6 2.7 0 1 1 -3.1 -0M879.3 642.2a1.9 1.6 0 1 1 3.8 0a1.9 1.6 0 1 1 -3.8 -0M877.9 643.2a1.5 2.8 0 1 1 3 0a1.5 2.8 0 1 1 -3 -0M880 646.2a1.2 1.5 0 1 1 2.3 0a1.2 1.5 0 1 1 -2.3 -0M877.8 650.3a1.5 2.2 0 1 1 3 0a1.5 2.2 0 1 1 -3 -0M882.8 657.7a1.7 2.9 0 1 1 3.4 0a1.7 2.9 0 1 1 -3.4 -0M876.9 657.7a1.8 1.7 0 1 1 3.7 0a1.8 1.7 0 1 1 -3.7 -0M880.7 665.6a1.1 2.9 0 1 1 2.3 0a1.1 2.9 0 1 1 -2.3 -0M878.6 666.1a1.2 1.6 0 1 1 2.3 0a1.2 1.6 0 1 1 -2.3 -0M879.7 670.6a1.2 2.8 0 1 1 2.3 0a1.2 2.8 0 1 1 -2.3 -0M879.8 671.3a1.6 3 0 1 1 3.3 0a1.6 3 0 1 1 -3.3 -0M880.1 686.7a2 1.4 0 1 1 4 0a2 1.4 0 1 1 -4 -0M878.8 687.4a2.1 2 0 1 1 4.2 0a2.1 2 0 1 1 -4.2 -0M878.5 689.4a2.1 1.5 0 1 1 4.1 0a2.1 1.5 0 1 1 -4.1 -0M880.1 715a1.9 2.4 0 1 1 3.8 0a1.9 2.4 0 1 1 -3.8 -0M878 720.2a2.1 2.4 0 1 1 4.2 0a2.1 2.4 0 1 1 -4.2 -0M875.1 721.4a1.6 2.4 0 1 1 3.3 0a1.6 2.4 0 1 1 -3.3 -0M880.1 729.3a1.6 2.7 0 1 1 3.2 0a1.6 2.7 0 1 1 -3.2 -0M877.2 734.5a1.5 3.1 0 1 1 2.9 0a1.5 3.1 0 1 1 -2.9 -0M875.3 734.8a1.2 1.8 0 1 1 2.3 0a1.2 1.8 0 1 1 -2.3 -0M882.7 737.7a2.1 1.9 0 1 1 4.1 0a2.1 1.9 0 1 1 -4.1 -0M876.9 748a1.5 2.7 0 1 1 3 0a1.5 2.7 0 1 1 -3 -0M876.1 752.1a1.4 2.4 0 1 1 2.8 0a1.4 2.4 0 1 1 -2.8 -0M876.5 754.1a1.6 2.6 0 1 1 3.2 0a1.6 2.6 0 1 1 -3.2 -0M879 787.2a1.9 2.1 0 1 1 3.9 0a1.9 2.1 0 1 1 -3.9 -0M880.8 805.9a1.8 1.5 0 1 1 3.6 0a1.8 1.5 0 1 1 -3.6 -0M874.9 818.6a1.3 2.9 0 1 1 2.7 0a1.3 2.9 0 1 1 -2.7 -0M880 833.1a2.1 1.6 0 1 1 4.1 0a2.1 1.6 0 1 1 -4.1 -0M881.1 847.3a1.5 1.7 0 1 1 2.9 0a1.5 1.7 0 1 1 -2.9 -0M877.3 857.1a1.5 2.3 0 1 1 3 0a1.5 2.3 0 1 1 -3 -0M877.7 880.1a1.5 1.5 0 1 1 2.9 0a1.5 1.5 0 1 1 -2.9 -0M877.7 886.2a2 1.9 0 1 1 3.9 0a2 1.9 0 1 1 -3.9 -0M880 887a1.7 2.4 0 1 1 3.4 0a1.7 2.4 0 1 1 -3.4 -0M880 894.6a1.8 2.7 0 1 1 3.6 0a1.8 2.7 0 1 1 -3.6 -0M879.8 921.7a1.8 1.5 0 1 1 3.5 0a1.8 1.5 0 1 1 -3.5 -0M881.5 923.2a2.1 2.7 0 1 1 4.3 0a2.1 2.7 0 1 1 -4.3 -0M880.5 928.1a1.8 2.1 0 1 1 3.5 0a1.8 2.1 0 1 1 -3.5 -0M879.8 930a1.8 2.9 0 1 1 3.5 0a1.8 2.9 0 1 1 -3.5 -0M873 934.8a1.5 2.5 0 1 1 2.9 0a1.5 2.5 0 1 1 -2.9 -0M875.9 938.4a1.3 2.7 0 1 1 2.6 0a1.3 2.7 0 1 1 -2.6 -0M882.6 941.4a1.2 2.2 0 1 1 2.4 0a1.2 2.2 0 1 1 -2.4 -0M877.8 943.2a1.5 3 0 1 1 3.1 0a1.5 3 0 1 1 -3.1 -0M877.3 963.9a2 2.1 0 1 1 4 0a2 2.1 0 1 1 -4 -0M879.7 964.8a1.9 2.5 0 1 1 3.9 0a1.9 2.5 0 1 1 -3.9 -0M879.6 967.9a1.1 2.4 0 1 1 2.3 0a1.1 2.4 0 1 1 -2.3 -0M880.8 975.6a1.5 2.6 0 1 1 3 0a1.5 2.6 0 1 1 -3 -0M882.5 979.9a1.2 1.9 0 1 1 2.4 0a1.2 1.9 0 1 1 -2.4 -0M879.1 981.6a1.8 2.8 0 1 1 3.6 0a1.8 2.8 0 1 1 -3.6 -0M876.5 984.2a2.1 1.7 0 1 1 4.1 0a2.1 1.7 0 1 1 -4.1 -0M540 654.3a3 4 0 1 1 6 0a3 4 0 1 1 -6 -0M645 654.3a3 3 0 1 1 6 0a3 3 0 1 1 -6 -0M668.2 569.6a1.9 1.3 0 1 1 3.7 0a1.9 1.3 0 1 1 -3.7 -0M677.6 562.5a1.8 1.4 0 1 1 3.5 0a1.8 1.4 0 1 1 -3.5 -0M666.5 564.6a1.3 1.5 0 1 1 2.6 0a1.3 1.5 0 1 1 -2.6 -0M668.5 572.7a1.9 1.7 0 1 1 3.8 0a1.9 1.7 0 1 1 -3.8 -0M638 568.1a1.2 1.2 0 1 1 2.5 0a1.2 1.2 0 1 1 -2.5 -0M639.7 574.4a1.9 2.1 0 1 1 3.7 0a1.9 2.1 0 1 1 -3.7 -0M666.6 541.2a2 1.7 0 1 1 3.9 0a2 1.7 0 1 1 -3.9 -0M659 572.9a2.1 1.5 0 1 1 4.1 0a2.1 1.5 0 1 1 -4.1 -0M663.4 557.9a1.6 1.2 0 1 1 3.2 0a1.6 1.2 0 1 1 -3.2 -0M634.7 574.2a2.1 1.3 0 1 1 4.2 0a2.1 1.3 0 1 1 -4.2 -0M641.7 572.6a2.1 2 0 1 1 4.2 0a2.1 2 0 1 1 -4.2 -0M676.6 550.7a1.5 1.3 0 1 1 2.9 0a1.5 1.3 0 1 1 -2.9 -0M672.9 551.4a2.1 1.4 0 1 1 4.2 0a2.1 1.4 0 1 1 -4.2 -0M643.9 563.7a2.1 1.7 0 1 1 4.2 0a2.1 1.7 0 1 1 -4.2 -0M635.2 573.1a1.9 1.4 0 1 1 3.9 0a1.9 1.4 0 1 1 -3.9 -0M644 548.9a1.4 1.8 0 1 1 2.8 0a1.4 1.8 0 1 1 -2.8 -0M648.9 564.3a1.5 1.6 0 1 1 3 0a1.5 1.6 0 1 1 -3 -0M642.7 560.9a1.7 1.4 0 1 1 3.4 0a1.7 1.4 0 1 1 -3.4 -0M678.8 562.1a1.4 1.3 0 1 1 2.9 0a1.4 1.3 0 1 1 -2.9 -0M655.5 580.7a2 1.9 0 1 1 4 0a2 1.9 0 1 1 -4 -0M650.8 561.6a1.4 1.2 0 1 1 2.7 0a1.4 1.2 0 1 1 -2.7 -0M652.4 570.5a1.8 1.8 0 1 1 3.6 0a1.8 1.8 0 1 1 -3.6 -0M652.5 559a2 1.4 0 1 1 4 0a2 1.4 0 1 1 -4 -0M664.5 571.6a1.8 1.8 0 1 1 3.6 0a1.8 1.8 0 1 1 -3.6 -0M641.4 573.5a1.5 1.4 0 1 1 3 0a1.5 1.4 0 1 1 -3 -0M635.2 573.4a2.1 1.2 0 1 1 4.2 0a2.1 1.2 0 1 1 -4.2 -0M658.4 545.5a1.5 1.4 0 1 1 3 0a1.5 1.4 0 1 1 -3 -0M674 545.5a1.9 2 0 1 1 3.9 0a1.9 2 0 1 1 -3.9 -0M648.4 547.5a1.3 1.5 0 1 1 2.7 0a1.3 1.5 0 1 1 -2.7 -0M650 570.8a1.7 1.6 0 1 1 3.3 0a1.7 1.6 0 1 1 -3.3 -0M648.5 545.5a1.8 2 0 1 1 3.5 0a1.8 2 0 1 1 -3.5 -0M656.3 578.3a1.2 1.8 0 1 1 2.5 0a1.2 1.8 0 1 1 -2.5 -0M655.5 561.7a1.7 1.9 0 1 1 3.4 0a1.7 1.9 0 1 1 -3.4 -0M645.5 556.1a1.7 1.9 0 1 1 3.3 0a1.7 1.9 0 1 1 -3.3 -0M650.1 572.3a1.4 1.2 0 1 1 2.7 0a1.4 1.2 0 1 1 -2.7 -0M666.4 561a2 1.4 0 1 1 4.1 0a2 1.4 0 1 1 -4.1 -0M654.3 547.9a2 1.3 0 1 1 4.1 0a2 1.3 0 1 1 -4.1 -0M659.4 545.8a1.6 1.8 0 1 1 3.2 0a1.6 1.8 0 1 1 -3.2 -0M650.1 574.7a1.4 1.9 0 1 1 2.7 0a1.4 1.9 0 1 1 -2.7 -0M641 557.4a2 1.2 0 1 1 4 0a2 1.2 0 1 1 -4 -0M645.9 570.6a1.9 1.4 0 1 1 3.8 0a1.9 1.4 0 1 1 -3.8 -0M640.4 562a2.1 1.2 0 1 1 4.2 0a2.1 1.2 0 1 1 -4.2 -0M667.9 570.8a1.3 1.5 0 1 1 2.7 0a1.3 1.5 0 1 1 -2.7 -0M675.1 551.7a1.7 2.1 0 1 1 3.5 0a1.7 2.1 0 1 1 -3.5 -0M647 566a1.4 1.2 0 1 1 2.9 0a1.4 1.2 0 1 1 -2.9 -0M655.8 541.9a1.5 1.7 0 1 1 2.9 0a1.5 1.7 0 1 1 -2.9 -0M652.2 574.1a1.6 1.5 0 1 1 3.3 0a1.6 1.5 0 1 1 -3.3 -0M664.9 552.4a1.3 1.5 0 1 1 2.7 0a1.3 1.5 0 1 1 -2.7 -0M648.2 558.8a1.8 1.7 0 1 1 3.6 0a1.8 1.7 0 1 1 -3.6 -0M673.6 557.2a1.5 1.8 0 1 1 3 0a1.5 1.8 0 1 1 -3 -0M646.6 557.5a1.2 1.2 0 1 1 2.5 0a1.2 1.2 0 1 1 -2.5 -0M652.5 577.1a1.6 1.8 0 1 1 3.1 0a1.6 1.8 0 1 1 -3.1 -0M651.9 571.8a1.2 1.5 0 1 1 2.4 0a1.2 1.5 0 1 1 -2.4 -0M646.9 547.3a1.4 1.6 0 1 1 2.7 0a1.4 1.6 0 1 1 -2.7 -0M654.8 558a1.7 1.6 0 1 1 3.5 0a1.7 1.6 0 1 1 -3.5 -0M672.3 563.8a1.3 2 0 1 1 2.6 0a1.3 2 0 1 1 -2.6 -0M670.9 565.5a1.3 1.3 0 1 1 2.5 0a1.3 1.3 0 1 1 -2.5 -0M644.2 546.9a1.9 1.2 0 1 1 3.9 0a1.9 1.2 0 1 1 -3.9 -0M641.6 562.2a1.4 2 0 1 1 2.8 0a1.4 2 0 1 1 -2.8 -0M650.2 569a1.6 1.5 0 1 1 3.1 0a1.6 1.5 0 1 1 -3.1 -0M661.3 540.9a1.2 1.8 0 1 1 2.4 0a1.2 1.8 0 1 1 -2.4 -0M646.6 552.4a1.4 1.3 0 1 1 2.8 0a1.4 1.3 0 1 1 -2.8 -0M648.2 549.8a1.7 1.5 0 1 1 3.3 0a1.7 1.5 0 1 1 -3.3 -0M670.1 553.9a1.9 1.9 0 1 1 3.9 0a1.9 1.9 0 1 1 -3.9 -0M657.7 543a1.6 1.4 0 1 1 3.1 0a1.6 1.4 0 1 1 -3.1 -0M674.6 548.8a1.7 1.7 0 1 1 3.4 0a1.7 1.7 0 1 1 -3.4 -0M674.9 567.9a1.9 2 0 1 1 3.8 0a1.9 2 0 1 1 -3.8 -0M675.8 568.5a1.4 1.5 0 1 1 2.9 0a1.4 1.5 0 1 1 -2.9 -0M635.7 567.1a1.3 1.6 0 1 1 2.5 0a1.3 1.6 0 1 1 -2.5 -0M648 556.6a1.7 2 0 1 1 3.3 0a1.7 2 0 1 1 -3.3 -0M669.2 561.8a1.3 1.5 0 1 1 2.6 0a1.3 1.5 0 1 1 -2.6 -0M653.2 561.8a1.4 1.4 0 1 1 2.9 0a1.4 1.4 0 1 1 -2.9 -0M664.4 559.5a1.6 1.7 0 1 1 3.3 0a1.6 1.7 0 1 1 -3.3 -0M636.9 570.3a2 1.6 0 1 1 3.9 0a2 1.6 0 1 1 -3.9 -0M646.5 551.2a1.2 1.5 0 1 1 2.4 0a1.2 1.5 0 1 1 -2.4 -0M659 558.3a1.9 1.5 0 1 1 3.7 0a1.9 1.5 0 1 1 -3.7 -0M656.3 542.1a1.6 1.5 0 1 1 3.2 0a1.6 1.5 0 1 1 -3.2 -0M637.2 559.9a1.9 1.7 0 1 1 3.9 0a1.9 1.7 0 1 1 -3.9 -0M646 578.6a1.6 1.3 0 1 1 3.2 0a1.6 1.3 0 1 1 -3.2 -0M675 564.6a1.8 1.8 0 1 1 3.5 0a1.8 1.8 0 1 1 -3.5 -0M674.8 564.1a1.7 1.7 0 1 1 3.5 0a1.7 1.7 0 1 1 -3.5 -0M659.4 550a1.3 1.3 0 1 1 2.7 0a1.3 1.3 0 1 1 -2.7 -0M660.5 573.2a1.3 2.1 0 1 1 2.6 0a1.3 2.1 0 1 1 -2.6 -0M669.9 571.8a1.4 1.2 0 1 1 2.8 0a1.4 1.2 0 1 1 -2.8 -0M663.2 558.7a1.4 1.7 0 1 1 2.8 0a1.4 1.7 0 1 1 -2.8 -0M653.4 581a1.6 1.2 0 1 1 3.3 0a1.6 1.2 0 1 1 -3.3 -0M668.9 560.7a2.1 1.9 0 1 1 4.2 0a2.1 1.9 0 1 1 -4.2 -0M650.9 550.8a2 1.7 0 1 1 4 0a2 1.7 0 1 1 -4 -0M671 558.4a1.8 1.6 0 1 1 3.6 0a1.8 1.6 0 1 1 -3.6 -0M653.9 569.7a1.8 1.5 0 1 1 3.5 0a1.8 1.5 0 1 1 -3.5 -0M648.2 562a1.3 1.7 0 1 1 2.6 0a1.3 1.7 0 1 1 -2.6 -0M633.4 565.1a1.6 1.4 0 1 1 3.3 0a1.6 1.4 0 1 1 -3.3 -0M670.2 574.4a1.3 1.6 0 1 1 2.6 0a1.3 1.6 0 1 1 -2.6 -0M664.1 549.9a1.9 1.3 0 1 1 3.8 0a1.9 1.3 0 1 1 -3.8 -0M648.6 566.9a1.9 2.1 0 1 1 3.8 0a1.9 2.1 0 1 1 -3.8 -0M661.7 557.1a1.8 1.6 0 1 1 3.6 0a1.8 1.6 0 1 1 -3.6 -0M611.2 598.8a4 2 -35 1 1 6.6 -4.6a4 2 -35 1 1 -6.6 4.6M625.1 563.5a11 6 -8 1 1 21.8 -3.1a11 6 -8 1 1 -21.8 3.1M667 558a9.5 11.5 0 1 1 19 0a9.5 11.5 0 1 1 -19 -0M627.1 563.2a8.6 4.7 -8 1 1 17 -2.4a8.6 4.7 -8 1 1 -17 2.4M669.2 558a7.3 8.9 0 1 1 14.6 0a7.3 8.9 0 1 1 -14.6 -0M629.1 562.9a6.2 3.4 -8 1 1 12.3 -1.7a6.2 3.4 -8 1 1 -12.3 1.7M671.4 558a5.1 6.3 0 1 1 10.2 0a5.1 6.3 0 1 1 -10.2 -0M631 562.5a3.8 2.1 -8 1 1 7.5 -1.1a3.8 2.1 -8 1 1 -7.5 1.1M673.6 558a2.9 3.7 0 1 1 5.8 0a2.9 3.7 0 1 1 -5.8 -0M615 570.7a7 1.6 0 1 1 14 0a7 1.6 0 1 1 -14 -0M666 574.2a7 1.3 0 1 1 14 0a7 1.3 0 1 1 -14 -0M636 531a2 2.5 0 1 1 4 0a2 2.5 0 1 1 -4 -0M658.5 531a2.5 2 0 1 1 5 0a2.5 2 0 1 1 -5 -0M634.5 600a1.5 1.5 0 1 1 3 0a1.5 1.5 0 1 1 -3 -0M656 598a3 1.5 0 1 1 6 0a3 1.5 0 1 1 -6 -0M636.5 452.4a23 5.2 0 1 1 46 0a23 5.2 0 1 1 -46 -0M640.5 452.4a19 4.3 0 1 1 38 0a19 4.3 0 1 1 -38 -0M644.5 452.4a15 3.4 0 1 1 30 0a15 3.4 0 1 1 -30 -0M648.5 452.4a11 2.5 0 1 1 22 0a11 2.5 0 1 1 -22 -0M651.9 445.7a1.4 1.7 0 1 1 2.8 0a1.4 1.7 0 1 1 -2.8 -0M652.1 445a1.5 1.7 0 1 1 2.9 0a1.5 1.7 0 1 1 -2.9 -0M658.6 446a1.4 1.9 0 1 1 2.7 0a1.4 1.9 0 1 1 -2.7 -0M657.5 444.6a1.5 1.4 0 1 1 3 0a1.5 1.4 0 1 1 -3 -0M799 557a5 11 0 1 1 10 0a5 11 0 1 1 -10 -0M800.3 557a3.7 8 0 1 1 7.4 0a3.7 8 0 1 1 -7.4 -0M801.6 557a2.4 5 0 1 1 4.8 0a2.4 5 0 1 1 -4.8 -0M782 560a4 4 0 1 1 8 0a4 4 0 1 1 -8 -0M763.5 457.3a1.1 1.5 0 1 1 2.1 0a1.1 1.5 0 1 1 -2.1 -0M765 471a1.3 2.2 0 1 1 2.5 0a1.3 2.2 0 1 1 -2.5 -0M780.7 426.2a1.6 2.7 0 1 1 3.2 0a1.6 2.7 0 1 1 -3.2 -0M780.6 426.8a1.7 2.1 0 1 1 3.3 0a1.7 2.1 0 1 1 -3.3 -0M780.9 434.1a2 1.6 0 1 1 3.9 0a2 1.6 0 1 1 -3.9 -0M779.7 434.3a1.6 2.1 0 1 1 3.3 0a1.6 2.1 0 1 1 -3.3 -0M779.1 442.5a2 2.6 0 1 1 4.1 0a2 2.6 0 1 1 -4.1 -0M782.7 444.9a1.6 2.8 0 1 1 3.2 0a1.6 2.8 0 1 1 -3.2 -0M779.6 449.7a1.8 3 0 1 1 3.6 0a1.8 3 0 1 1 -3.6 -0M778.5 460.4a2.1 2.4 0 1 1 4.2 0a2.1 2.4 0 1 1 -4.2 -0M779.7 464.2a1.9 2.3 0 1 1 3.8 0a1.9 2.3 0 1 1 -3.8 -0M779.8 467.8a1.9 2.1 0 1 1 3.7 0a1.9 2.1 0 1 1 -3.7 -0M779.6 469.6a1.1 2 0 1 1 2.2 0a1.1 2 0 1 1 -2.2 -0M779.9 471.9a1.7 2 0 1 1 3.4 0a1.7 2 0 1 1 -3.4 -0M779.4 475.1a1.8 2.3 0 1 1 3.5 0a1.8 2.3 0 1 1 -3.5 -0M779.5 487.1a1.5 2 0 1 1 2.9 0a1.5 2 0 1 1 -2.9 -0M780.1 489.8a2.1 1.6 0 1 1 4.1 0a2.1 1.6 0 1 1 -4.1 -0M780.9 490.5a1.3 2.4 0 1 1 2.7 0a1.3 2.4 0 1 1 -2.7 -0M780.3 495.5a1.8 2.5 0 1 1 3.7 0a1.8 2.5 0 1 1 -3.7 -0M792.6 412a1.3 2 0 1 1 2.6 0a1.3 2 0 1 1 -2.6 -0M794.4 418.2a1.5 2.5 0 1 1 3.1 0a1.5 2.5 0 1 1 -3.1 -0M794.6 423.6a1.2 2.4 0 1 1 2.4 0a1.2 2.4 0 1 1 -2.4 -0M794.3 424.1a1.9 2.8 0 1 1 3.8 0a1.9 2.8 0 1 1 -3.8 -0M792.2 426.2a1.9 2.5 0 1 1 3.8 0a1.9 2.5 0 1 1 -3.8 -0M795.8 426.8a1.1 1.9 0 1 1 2.3 0a1.1 1.9 0 1 1 -2.3 -0M794.2 427.3a1.9 2.3 0 1 1 3.8 0a1.9 2.3 0 1 1 -3.8 -0M793.7 429.8a1.6 1.6 0 1 1 3.1 0a1.6 1.6 0 1 1 -3.1 -0M794 432.6a2 1.6 0 1 1 4 0a2 1.6 0 1 1 -4 -0M796 435.8a1.1 2.3 0 1 1 2.3 0a1.1 2.3 0 1 1 -2.3 -0M791.8 436a1.6 2 0 1 1 3.2 0a1.6 2 0 1 1 -3.2 -0M796 437.3a1.3 1.9 0 1 1 2.6 0a1.3 1.9 0 1 1 -2.6 -0M794.7 439.7a1.7 2.6 0 1 1 3.3 0a1.7 2.6 0 1 1 -3.3 -0M792.6 441.5a1.4 1.7 0 1 1 2.7 0a1.4 1.7 0 1 1 -2.7 -0M794.3 442.7a1.6 2.1 0 1 1 3.2 0a1.6 2.1 0 1 1 -3.2 -0M792 442.7a1.7 1.8 0 1 1 3.3 0a1.7 1.8 0 1 1 -3.3 -0M794.7 446.3a2 2.5 0 1 1 3.9 0a2 2.5 0 1 1 -3.9 -0M792.6 446.7a1.4 2.8 0 1 1 2.9 0a1.4 2.8 0 1 1 -2.9 -0M789.6 448a1.3 2.7 0 1 1 2.7 0a1.3 2.7 0 1 1 -2.7 -0M793.9 453a1.4 2 0 1 1 2.8 0a1.4 2 0 1 1 -2.8 -0M788.8 454.5a1.1 2.4 0 1 1 2.3 0a1.1 2.4 0 1 1 -2.3 -0M792.7 454.9a1.3 1.5 0 1 1 2.5 0a1.3 1.5 0 1 1 -2.5 -0M792.5 459.3a1.7 2.8 0 1 1 3.5 0a1.7 2.8 0 1 1 -3.5 -0M791.8 465.3a1.7 2.2 0 1 1 3.5 0a1.7 2.2 0 1 1 -3.5 -0M792.7 466.2a2 1.9 0 1 1 4.1 0a2 1.9 0 1 1 -4.1 -0M793.1 466.7a2.1 2.3 0 1 1 4.2 0a2.1 2.3 0 1 1 -4.2 -0M795.4 467.6a1.8 2.2 0 1 1 3.7 0a1.8 2.2 0 1 1 -3.7 -0M791.8 467.8a1.3 1.9 0 1 1 2.5 0a1.3 1.9 0 1 1 -2.5 -0M798.5 470.4a2.1 3 0 1 1 4.2 0a2.1 3 0 1 1 -4.2 -0M792 471.2a2 2 0 1 1 4.1 0a2 2 0 1 1 -4.1 -0M792.6 474a1.1 1.8 0 1 1 2.3 0a1.1 1.8 0 1 1 -2.3 -0M792.3 474.8a2 2.9 0 1 1 4 0a2 2.9 0 1 1 -4 -0M793 475.6a1.9 2.1 0 1 1 3.8 0a1.9 2.1 0 1 1 -3.8 -0M792.7 477.5a1.3 1.5 0 1 1 2.6 0a1.3 1.5 0 1 1 -2.6 -0M793.8 482.3a1.4 1.6 0 1 1 2.8 0a1.4 1.6 0 1 1 -2.8 -0M792.6 483.9a1.2 2.7 0 1 1 2.5 0a1.2 2.7 0 1 1 -2.5 -0M792.5 484.7a1.6 2.4 0 1 1 3.1 0a1.6 2.4 0 1 1 -3.1 -0M791.5 487.1a2 2.1 0 1 1 4 0a2 2.1 0 1 1 -4 -0M794.2 489.1a1.9 2.5 0 1 1 3.7 0a1.9 2.5 0 1 1 -3.7 -0M792.8 492.3a1.2 2.4 0 1 1 2.3 0a1.2 2.4 0 1 1 -2.3 -0M791 492.4a2 2.3 0 1 1 3.9 0a2 2.3 0 1 1 -3.9 -0M787.4 433.4a1.6 2.5 0 1 1 3.3 0a1.6 2.5 0 1 1 -3.3 -0M787.3 434.7a1.8 2.4 0 1 1 3.7 0a1.8 2.4 0 1 1 -3.7 -0M787.8 448.2a1.1 2.2 0 1 1 2.2 0a1.1 2.2 0 1 1 -2.2 -0M787.2 453a1.2 1.4 0 1 1 2.5 0a1.2 1.4 0 1 1 -2.5 -0M788.3 458a1.2 2.1 0 1 1 2.5 0a1.2 2.1 0 1 1 -2.5 -0M788.2 484.5a1.5 2.5 0 1 1 3 0a1.5 2.5 0 1 1 -3 -0M793.2 397.4a1.2 1.3 0 1 1 2.4 0a1.2 1.3 0 1 1 -2.4 -0M804.1 439.6a2.1 1.3 0 1 1 4.2 0a2.1 1.3 0 1 1 -4.2 -0M785.2 459.1a2.2 1.9 0 1 1 4.4 0a2.2 1.9 0 1 1 -4.4 -0M797.6 449.9a2.1 2.2 0 1 1 4.3 0a2.1 2.2 0 1 1 -4.3 -0M792 457.7a2.2 1.8 0 1 1 4.4 0a2.2 1.8 0 1 1 -4.4 -0M780.5 464.7a1.7 1.6 0 1 1 3.3 0a1.7 1.6 0 1 1 -3.3 -0M802.1 443a1.6 1.6 0 1 1 3.2 0a1.6 1.6 0 1 1 -3.2 -0M780.4 464.8a1.4 1.6 0 1 1 2.9 0a1.4 1.6 0 1 1 -2.9 -0M784.9 458.1a1.7 1.9 0 1 1 3.4 0a1.7 1.9 0 1 1 -3.4 -0M794.9 447.1a1.5 2 0 1 1 3 0a1.5 2 0 1 1 -3 -0M798.9 444.1a1.5 1.6 0 1 1 3.1 0a1.5 1.6 0 1 1 -3.1 -0M790.3 458.1a2 1.7 0 1 1 3.9 0a2 1.7 0 1 1 -3.9 -0M796.6 451a1.4 1.3 0 1 1 2.8 0a1.4 1.3 0 1 1 -2.8 -0M784.2 459a1.5 1.4 0 1 1 3 0a1.5 1.4 0 1 1 -3 -0M794.7 450.3a2 1.5 0 1 1 4.1 0a2 1.5 0 1 1 -4.1 -0M797.7 452a1.4 1.8 0 1 1 2.7 0a1.4 1.8 0 1 1 -2.7 -0M790.7 453.3a1.8 1.8 0 1 1 3.6 0a1.8 1.8 0 1 1 -3.6 -0M783.4 458a1.4 2 0 1 1 2.8 0a1.4 2 0 1 1 -2.8 -0M788.2 452.2a1.4 1.9 0 1 1 2.9 0a1.4 1.9 0 1 1 -2.9 -0M803.4 447.6a2.2 1.5 0 1 1 4.3 0a2.2 1.5 0 1 1 -4.3 -0M802.3 442.1a1.4 1.5 0 1 1 2.7 0a1.4 1.5 0 1 1 -2.7 -0M800.8 444.1a1.9 1.3 0 1 1 3.8 0a1.9 1.3 0 1 1 -3.8 -0M789 459.9a1.5 1.3 0 1 1 3 0a1.5 1.3 0 1 1 -3 -0M782.8 458.9a2 1.6 0 1 1 4.1 0a2 1.6 0 1 1 -4.1 -0M801.2 443.3a1.7 2.2 0 1 1 3.5 0a1.7 2.2 0 1 1 -3.5 -0M790.2 457.6a2.1 1.9 0 1 1 4.1 0a2.1 1.9 0 1 1 -4.1 -0M779 449.5L770 449L764 451L766 454L774 455L779 454.5M778 451H771V453H778M762.8 477a1.8 2.5 0 1 1 3.6 0a1.8 2.5 0 1 1 -3.6 -0M790 387.5a1.6 1.4 0 1 1 3.3 0a1.6 1.4 0 1 1 -3.3 -0M790.7 387.4a1.5 1.2 0 1 1 2.9 0a1.5 1.2 0 1 1 -2.9 -0M788.8 387.4a1.7 1.6 0 1 1 3.3 0a1.7 1.6 0 1 1 -3.3 -0M790.5 385.4a1.4 1.6 0 1 1 2.8 0a1.4 1.6 0 1 1 -2.8 -0M748.5 489a1 1 0 1 1 2 0a1 1 0 1 1 -2 -0M870 381.9a1.6 1.9 0 1 1 3.2 0a1.6 1.9 0 1 1 -3.2 -0M868.9 381.2a2 2 0 1 1 4 0a2 2 0 1 1 -4 -0M870.5 373.1a1.2 1.6 0 1 1 2.4 0a1.2 1.6 0 1 1 -2.4 -0M864.5 378.6a2 1.6 0 1 1 4.1 0a2 1.6 0 1 1 -4.1 -0M867.2 375.6a1.4 1.4 0 1 1 2.7 0a1.4 1.4 0 1 1 -2.7 -0M867.9 375.5a2.1 1.5 0 1 1 4.1 0a2.1 1.5 0 1 1 -4.1 -0M873.6 375.6a1.2 1.5 0 1 1 2.5 0a1.2 1.5 0 1 1 -2.5 -0M872.2 379.4a1.8 1.5 0 1 1 3.6 0a1.8 1.5 0 1 1 -3.6 -0M869.3 380.9a1.9 1.8 0 1 1 3.8 0a1.9 1.8 0 1 1 -3.8 -0M865.5 392.5a2.1 1.3 0 1 1 4.1 0a2.1 1.3 0 1 1 -4.1 -0M868.9 392.5a1.7 1.5 0 1 1 3.4 0a1.7 1.5 0 1 1 -3.4 -0M862.9 394.1a2 2.1 0 1 1 4 0a2 2.1 0 1 1 -4 -0M865.2 404.2a1.9 1.8 0 1 1 3.8 0a1.9 1.8 0 1 1 -3.8 -0M867.5 400.9a1.7 2.1 0 1 1 3.3 0a1.7 2.1 0 1 1 -3.3 -0M869.6 394a1.7 1.7 0 1 1 3.4 0a1.7 1.7 0 1 1 -3.4 -0M869.7 402.6a2.1 2 0 1 1 4.2 0a2.1 2 0 1 1 -4.2 -0M867.4 398.9a1.6 2.2 0 1 1 3.2 0a1.6 2.2 0 1 1 -3.2 -0M867.3 397.8a2.1 2.1 0 1 1 4.2 0a2.1 2.1 0 1 1 -4.2 -0M868.7 395.8a2.3 2.2 0 1 1 4.5 0a2.3 2.2 0 1 1 -4.5 -0M868.5 405a1.6 2.2 0 1 1 3.2 0a1.6 2.2 0 1 1 -3.2 -0M865.2 400.2a1.5 2.3 0 1 1 3 0a1.5 2.3 0 1 1 -3 -0M866.5 406.7a1.5 1.6 0 1 1 3 0a1.5 1.6 0 1 1 -3 -0M863.9 404.7a1.4 1.8 0 1 1 2.7 0a1.4 1.8 0 1 1 -2.7 -0M869.5 403.2a2.1 1.8 0 1 1 4.2 0a2.1 1.8 0 1 1 -4.2 -0M861.1 396.6a1.5 1.6 0 1 1 3.1 0a1.5 1.6 0 1 1 -3.1 -0M862.1 398.6a2 1.9 0 1 1 4.1 0a2 1.9 0 1 1 -4.1 -0M864.2 393.5a1.9 1.5 0 1 1 3.8 0a1.9 1.5 0 1 1 -3.8 -0M860.3 396.7a1.3 2.3 0 1 1 2.7 0a1.3 2.3 0 1 1 -2.7 -0M862.9 392.1a1.7 1.7 0 1 1 3.4 0a1.7 1.7 0 1 1 -3.4 -0M868.4 403.4a2.2 2.1 0 1 1 4.4 0a2.2 2.1 0 1 1 -4.4 -0M865.6 404.9a1.4 1.5 0 1 1 2.8 0a1.4 1.5 0 1 1 -2.8 -0M864 399.8a1.9 2.2 0 1 1 3.7 0a1.9 2.2 0 1 1 -3.7 -0M864.5 398.1a1.7 1.6 0 1 1 3.4 0a1.7 1.6 0 1 1 -3.4 -0M893.9 372.5a2.6 3.2 0 1 1 5.2 0a2.6 3.2 0 1 1 -5.2 -0M895.2 372.5a1.3 1.7 0 1 1 2.6 0a1.3 1.7 0 1 1 -2.6 -0M894.4 393.7a1.2 1.4 0 1 1 2.4 0a1.2 1.4 0 1 1 -2.4 -0M886.8 394.4a1.1 1.2 0 1 1 2.2 0a1.1 1.2 0 1 1 -2.2 -0M888.9 393.4a1.6 1.6 0 1 1 3.2 0a1.6 1.6 0 1 1 -3.2 -0M891.5 393.4a1.2 1.3 0 1 1 2.4 0a1.2 1.3 0 1 1 -2.4 -0M895.9 393.7a1.7 1.1 0 1 1 3.5 0a1.7 1.1 0 1 1 -3.5 -0M894.1 396.8a1.5 1.4 0 1 1 3.1 0a1.5 1.4 0 1 1 -3.1 -0M892.9 396.3a1.7 1.8 0 1 1 3.4 0a1.7 1.8 0 1 1 -3.4 -0M885.8 395.6a1.7 1.6 0 1 1 3.4 0a1.7 1.6 0 1 1 -3.4 -0M896.2 391.9a1.2 1.1 0 1 1 2.5 0a1.2 1.1 0 1 1 -2.5 -0M285 843.5a1.6 1.6 0 1 1 3.2 0a1.6 1.6 0 1 1 -3.2 -0M285.1 859.7a1.1 1.2 0 1 1 2.3 0a1.1 1.2 0 1 1 -2.3 -0M286.5 861.7a1.4 1.8 0 1 1 2.8 0a1.4 1.8 0 1 1 -2.8 -0M282.3 858.8a1.6 1.5 0 1 1 3.1 0a1.6 1.5 0 1 1 -3.1 -0M289.3 858.8a1.1 1.4 0 1 1 2.2 0a1.1 1.4 0 1 1 -2.2 -0M289.4 858.9a1.6 1.2 0 1 1 3.2 0a1.6 1.2 0 1 1 -3.2 -0M287.5 861.1a1.4 1.6 0 1 1 2.8 0a1.4 1.6 0 1 1 -2.8 -0M283 857.5a1.5 1.2 0 1 1 3 0a1.5 1.2 0 1 1 -3 -0M288.1 858.7a1.1 1.8 0 1 1 2.3 0a1.1 1.8 0 1 1 -2.3 -0M282 859.1a1.4 1.3 0 1 1 2.7 0a1.4 1.3 0 1 1 -2.7 -0M283.1 858.7a1.6 1.7 0 1 1 3.2 0a1.6 1.7 0 1 1 -3.2 -0M281.3 860.1a1.5 1.2 0 1 1 3.1 0a1.5 1.2 0 1 1 -3.1 -0M283.2 862.3a1.4 1.5 0 1 1 2.8 0a1.4 1.5 0 1 1 -2.8 -0M284.3 863.6a1.5 1.6 0 1 1 3 0a1.5 1.6 0 1 1 -3 -0M287.8 856.7a1.5 1.5 0 1 1 2.9 0a1.5 1.5 0 1 1 -2.9 -0M281.1 859.8a1.8 1.6 0 1 1 3.6 0a1.8 1.6 0 1 1 -3.6 -0M313.8 836.5a4.2 1.8 -30 1 1 7.3 -4.2a4.2 1.8 -30 1 1 -7.3 4.2M300 853L310 852.5L320 852L326.5 853.5L322 857L316 858L312 861L304 862.5L300 860M301 856H306V860H301M283.1 452.5a2.6 2.2 0 1 1 5.2 0a2.6 2.2 0 1 1 -5.2 -0M284.5 452.5a1.2 1 0 1 1 2.4 0a1.2 1 0 1 1 -2.4 -0M283.1 560a2.4 4 0 1 1 4.8 0a2.4 4 0 1 1 -4.8 -0M283.7 567a2 2.2 0 1 1 4 0a2 2.2 0 1 1 -4 -0M284.2 571a1.5 1.6 0 1 1 3 0a1.5 1.6 0 1 1 -3 -0M288 557.5H294L295.5 561L293 563.5H288M284.7 548.5a1 1 0 1 1 2 0a1 1 0 1 1 -2 -0M284.7 560a1 2.2 0 1 1 2 0a1 2.2 0 1 1 -2 -0M657.5 857.4a3 2.3 0 1 1 6 0a3 2.3 0 1 1 -6 -0M794.2 857.4a2 3 0 1 1 4 0a2 3 0 1 1 -4 -0" fill="none" stroke="#000" stroke-width="1"/>
<path d="M647.2 569.8a12.5 9.5 -30 1 1 21.7 -12.5a12.5 9.5 -30 1 1 -21.7 12.5" fill="none" stroke="#000" stroke-width="7.5"/>
<path d="M637 579L626 588L612.5 597.5" fill="none" stroke="#000" stroke-width="4.5"/>
<path d="M668 547L684 537L696 528.5L707 521" fill="none" stroke="#000" stroke-width="4.2"/>
<path d="M748 490.1a3.2 2.6 -30 1 1 5.5 -3.2a3.2 2.6 -30 1 1 -5.5 3.2" fill="none" stroke="#000" stroke-width="2.2"/>
<path d="M714.2 515.8a3.2 2 -30 1 1 5.5 -3.2a3.2 2 -30 1 1 -5.5 3.2" fill="none" stroke="#000" stroke-width="2"/>
<path d="M284 841.5L284.2 848L286 851.5L291 852.5L295.5 850.5L297 846L297.2 841.5" fill="none" stroke="#000" stroke-width="2.6"/>
<path d="M279.3 863.6a8.5 5.2 -25 1 1 15.4 -7.2a8.5 5.2 -25 1 1 -15.4 7.2" fill="none" stroke="#000" stroke-width="3"/>
<path d="M647.1 377.5a1.4 1.8 0 1 1 2.8 0a1.4 1.8 0 1 1 -2.8 -0M541 654.3a2 3 0 1 1 4 0a2 3 0 1 1 -4 -0M650.1 568a8.5 6.2 -30 1 1 14.7 -8.5a8.5 6.2 -30 1 1 -14.7 8.5M649.5 452.5a3.5 3 0 1 1 7 0a3.5 3 0 1 1 -7 -0M658.5 452.5a3.5 3 0 1 1 7 0a3.5 3 0 1 1 -7 -0M790.5 562.3a4 5 0 1 1 8 0a4 5 0 1 1 -8 -0M888.3 378.5a1.2 1.6 0 1 1 2.4 0a1.2 1.6 0 1 1 -2.4 -0M909 361.4a1.2 1.6 0 1 1 2.4 0a1.2 1.6 0 1 1 -2.4 -0M855 385.9L880 385.3L905 385.6L880 386.6ZM916 385.9L940 385.7L940 386.3ZM267.3 873a1.2 1.8 0 1 1 2.4 0a1.2 1.8 0 1 1 -2.4 -0" fill="#fff"/>
<path d="M878.4 300l0.5 3.5M878.3 304l-0.6 2.5M878.9 316l0.2 2.9M879.3 332l0.7 3.3M879.3 356l0.9 3.4M878.8 364l0.6 2.6M876.7 368l-0 3.9M877.7 388l0.7 3.2M877.1 392l0.4 3.1M877.1 396l-0.8 3.7M876.7 412l0.4 3.3M878.4 436l0.1 3M878.7 448l0.9 3M877.6 468l-0 2.9M876.8 472l0.2 2.4M877.7 480l-0.3 3.8M876.9 484l-1 2.3M877.6 500l0.9 3M877.5 532l0.8 2.8M877.4 536l0.4 2.4M877.8 544l0.3 2.2M877.8 552l0.4 2M877.3 588l-0.8 2.1M876.9 608l-0.9 3M878.7 612l0.5 2.7M878 616l0.7 3.8M878.6 632l-1 2M877.4 636l0.5 3.4M879.4 640l-1 3.1M878.4 648l-0.4 3.1M878.7 652l0.2 2.9M876.9 656l-0.2 2.8M877.2 660l-0.1 2.6M876.9 672l-1 2.8M878.2 680l0.5 2.9M877.3 692l-0.8 3.1M877.1 724l0.4 2.4M879.2 748l-0.6 2.2M877 760l-0.2 2.5M877.8 792l0 3.3M878.8 808l0.6 3M876.9 812l-0.2 2.5M878.7 836l-0.3 4M876.9 852l-0.1 2.4M879 856l-0.1 3.4M877.4 872l-0.3 2.2M877.5 876l-0.3 3.6M879.1 880l-0.6 2M877.2 888l0.2 2.5M878.8 892l0.6 3.7M877.7 896l-0.1 2.6M878 900l-0.8 3M878.2 916l0.2 3.8M877.5 924l-0.4 3.4M877.1 948l-0.3 2.7M876.6 952l0.1 2.9M878.6 972l-0.4 2.5M878 980l0.5 2.5M877.7 984l-0.8 3.4M876.8 988l0.5 3.9M160 385.9H204M118 654.3H230M646.5 541l0.8 3.2M646.5 546l0.8 3.2M646.5 551l0.8 3.2M646.5 556l0.8 3.2M646.5 561l0.8 3.2M646.5 566l0.8 3.2M646.5 571l0.8 3.2M646.5 576l0.8 3.2M646.5 581l0.8 3.2M646.5 586l0.8 3.2M646.5 591l0.8 3.2M646.5 596l0.8 3.2M779 463.5L792 453L805 442.5L814 435M841 415.5L851 409M301 846.5L309 841.5" fill="none" stroke="#fff" stroke-width="0.9"/>
<text x="551.2" y="327" font-family='"Liberation Sans", sans-serif' font-size="22" font-weight="bold" fill="#000" text-anchor="middle" >*</text>
<rect x="1017.8" y="17.7" width="406.4" height="519.9" fill="none" stroke="#000" stroke-width="2.2"/>
<text x="1218.2" y="48.8" font-family='"Liberation Serif", serif' font-size="24.8" font-weight="bold" fill="#000" text-anchor="middle" >PMeOxz-grad-PPhOxz</text>
<text x="1056.1" y="76.6" font-family='"Liberation Serif", serif' font-size="21.5" font-weight="bold" fill="#000" text-anchor="middle" >b</text>
<text x="1022" y="103.5" font-family='"Liberation Serif", serif' font-size="24" font-weight="bold" fill="#000" text-anchor="start" >CH<tspan font-size="18" dy="5.3">3</tspan></text>
<text x="1153.4" y="90.5" font-family='"Liberation Serif", serif' font-size="21" font-weight="bold" fill="#000" text-anchor="middle" >c</text>
<text x="1192.4" y="113.6" font-family='"Liberation Serif", serif' font-size="21" font-weight="bold" fill="#000" text-anchor="middle" >d</text>
<text x="1287" y="90.1" font-family='"Liberation Serif", serif' font-size="21" font-weight="bold" fill="#000" text-anchor="middle" >e</text>
<text x="1328.3" y="112.3" font-family='"Liberation Serif", serif' font-size="21" font-weight="bold" fill="#000" text-anchor="middle" >f</text>
<text x="1380.5" y="103.6" font-family='"Liberation Serif", serif' font-size="23.5" font-weight="bold" fill="#000" text-anchor="start" >OH</text>
<text x="1037.8" y="222.8" font-family='"Liberation Serif", serif' font-size="24" font-weight="bold" fill="#000" text-anchor="start" >CH<tspan font-size="18" dy="4.5">3</tspan></text>
<text x="1074.5" y="245.9" font-family='"Liberation Serif", serif' font-size="21" font-weight="bold" fill="#000" text-anchor="middle" >a</text>
<text x="1221.5" y="526.7" font-family='"Liberation Serif", serif' font-size="24.5" font-weight="bold" fill="#000" text-anchor="middle" >LSR</text>
<text x="1153.6" y="194" font-family='"Liberation Serif", serif' font-size="20.5" font-weight="normal" fill="#000" text-anchor="start" >g<tspan font-size="15" dy="4.3">1</tspan></text>
<text x="1129.6" y="226.4" font-family='"Liberation Serif", serif' font-size="20.5" font-weight="normal" fill="#000" text-anchor="start" >g<tspan font-size="15" dy="4.3">3</tspan></text>
<text x="1228.1" y="241.8" font-family='"Liberation Serif", serif' font-size="20.5" font-weight="normal" fill="#000" text-anchor="start" >g<tspan font-size="15" dy="4.3">2</tspan></text>
<text x="1138.3" y="262.1" font-family='"Liberation Serif", serif' font-size="20.5" font-weight="normal" fill="#000" text-anchor="start" >g<tspan font-size="15" dy="4.3">5</tspan></text>
<text x="1195.2" y="277.4" font-family='"Liberation Serif", serif' font-size="20.5" font-weight="normal" fill="#000" text-anchor="start" >g<tspan font-size="15" dy="4.3">4</tspan></text>
<text x="1111.7" y="129.1" font-family='"Liberation Sans", sans-serif' font-size="17.5" font-weight="bold" fill="#000" text-anchor="middle" >N</text>
<text x="1243.2" y="130.5" font-family='"Liberation Sans", sans-serif' font-size="17.5" font-weight="bold" fill="#000" text-anchor="middle" >N</text>
<text x="1158.3" y="176.4" font-family='"Liberation Sans", sans-serif' font-size="16.5" font-weight="bold" fill="#000" text-anchor="middle" >O</text>
<text x="1289.4" y="181.2" font-family='"Liberation Sans", sans-serif' font-size="16.5" font-weight="bold" fill="#000" text-anchor="middle" >O</text>
<text x="1213.8" y="138.1" font-family='"Liberation Sans", sans-serif' font-size="12" font-weight="normal" fill="#000" text-anchor="middle" >n</text>
<text x="1357.6" y="139.2" font-family='"Liberation Sans", sans-serif' font-size="12.5" font-weight="normal" fill="#000" text-anchor="middle" >m</text>
<text x="1109.5" y="373" font-family='"Liberation Sans", sans-serif' font-size="16.8" font-weight="bold" fill="#000" text-anchor="middle" >N</text>
<text x="1081.5" y="353" font-family='"Liberation Sans", sans-serif' font-size="16.8" font-weight="bold" fill="#000" text-anchor="middle" >N</text>
<text x="1054.5" y="374" font-family='"Liberation Sans", sans-serif' font-size="16.8" font-weight="bold" fill="#000" text-anchor="middle" >N</text>
<text x="1066" y="407" font-family='"Liberation Sans", sans-serif' font-size="16.8" font-weight="bold" fill="#000" text-anchor="middle" >N</text>
<text x="1348" y="358.7" font-family='"Liberation Sans", sans-serif' font-size="16.8" font-weight="bold" fill="#000" text-anchor="middle" >N</text>
<text x="1294.7" y="375" font-family='"Liberation Sans", sans-serif' font-size="16.8" font-weight="bold" fill="#000" text-anchor="middle" >N</text>
<text x="1362.5" y="420.4" font-family='"Liberation Sans", sans-serif' font-size="16.5" font-weight="bold" fill="#000" text-anchor="start" >Cl</text>
<text x="1306" y="475.4" font-family='"Liberation Sans", sans-serif' font-size="16.5" font-weight="bold" fill="#000" text-anchor="middle" >HO</text>
<text x="0" y="7" transform="translate(1332.7,191.3) rotate(90)" font-family='"Liberation Serif", serif' font-size="21" font-weight="bold" fill="#e00000" text-anchor="middle">1</text>
<text x="0" y="7" transform="translate(1353.6,233.5) rotate(90)" font-family='"Liberation Serif", serif' font-size="21" font-weight="bold" fill="#e00000" text-anchor="middle">2</text>
<text x="0" y="7" transform="translate(1336.1,267.8) rotate(90)" font-family='"Liberation Serif", serif' font-size="21" font-weight="bold" fill="#e00000" text-anchor="middle">3</text>
<text x="0" y="7" transform="translate(1352.1,302.4) rotate(90)" font-family='"Liberation Serif", serif' font-size="21" font-weight="bold" fill="#e00000" text-anchor="middle">4</text>
<text x="0" y="7" transform="translate(1346.6,440.5) rotate(90)" font-family='"Liberation Serif", serif' font-size="21" font-weight="bold" fill="#e00000" text-anchor="middle">5</text>
<text x="0" y="7" transform="translate(1306.8,485.3) rotate(90)" font-family='"Liberation Serif", serif' font-size="21" font-weight="bold" fill="#e00000" text-anchor="middle">6</text>
<text x="0" y="7" transform="translate(1262.1,347) rotate(90)" font-family='"Liberation Serif", serif' font-size="21" font-weight="bold" fill="#e00000" text-anchor="middle">7</text>
<text x="0" y="7" transform="translate(1225.8,360.5) rotate(90)" font-family='"Liberation Serif", serif' font-size="21" font-weight="bold" fill="#e00000" text-anchor="middle">8</text>
<text x="0" y="7" transform="translate(1247.8,423) rotate(90)" font-family='"Liberation Serif", serif' font-size="21" font-weight="bold" fill="#e00000" text-anchor="middle">9</text>
<text x="0" y="7" transform="translate(1164.4,385.5) rotate(90)" font-family='"Liberation Serif", serif' font-size="21" font-weight="bold" fill="#e00000" text-anchor="middle">10</text>
<text x="0" y="7" transform="translate(1211.9,449.9) rotate(90)" font-family='"Liberation Serif", serif' font-size="21" font-weight="bold" fill="#e00000" text-anchor="middle">11</text>
<text x="0" y="7" transform="translate(1082,448.9) rotate(90)" font-family='"Liberation Serif", serif' font-size="21" font-weight="bold" fill="#e00000" text-anchor="middle">12</text>
<text x="0" y="7" transform="translate(1168.4,485.9) rotate(90)" font-family='"Liberation Serif", serif' font-size="21" font-weight="bold" fill="#e00000" text-anchor="middle">13</text>
<text x="0" y="7" transform="translate(1092,495.4) rotate(90)" font-family='"Liberation Serif", serif' font-size="21" font-weight="bold" fill="#e00000" text-anchor="middle">14</text>
<text x="0" y="7" transform="translate(1130.9,510.8) rotate(90)" font-family='"Liberation Serif", serif' font-size="21" font-weight="bold" fill="#e00000" text-anchor="middle">15</text>
<path d="M1072 98.7L1102.2 116.8M1121.6 117L1152.8 99.5L1192.5 123.4L1234.6 123.8M1112 133.2L1112 169.5M1112 166.4L1146.7 166.6M1114 171.7L1146.7 172.2M1110.8 170.5L1078.2 201.4M1253.1 119.4L1287.1 100.4L1330.7 125.7L1374.2 101.5M1243.3 135.2L1243.3 171.5L1279.2 171.9M1247 176.7L1279.2 177.7M1242.5 173L1211.4 204M1211.4 204L1176.9 194.2L1152.3 224.8L1162.1 252.2L1196.8 262L1220.2 237.9L1211.4 204M1180.7 200.7L1206.5 208.4M1158.9 227.5L1165.4 247.8M1213.6 237.4L1198.3 251.6M1322.8 197.4L1341.9 232.4L1320.6 266.6L1339.4 301.8L1316.8 339.7M1316.8 339.7L1338.5 348.7M1320.4 347.8L1334.9 353.6M1348.5 362.5L1348.5 387.6L1315.9 396.7L1301.5 378.6M1339.4 383.1L1317.7 389.4M1301.5 360.5L1316.8 339.7M1284.3 364.1L1262.6 356L1234.8 378M1348.5 387.6L1362.9 405.7M1315.9 396.7L1331.3 438.2L1318.6 459.9M1202.9 363L1234.8 378L1238.8 411.9L1211.9 434.9L1179.9 419.9L1176.9 384L1202.9 363M1206.5 370.2L1226.9 379.8M1184.3 413L1182.4 390M1230.7 412.2L1213.5 427M1179.9 419.9L1153.9 439.9M1120.9 427.9L1153.9 439.9L1156.9 474.9L1129.9 495.9L1097 481.9L1094 447.9L1120.9 427.9M1125.1 434.8L1146.3 442.4M1099.5 453.6L1101.4 475.3M1149 474.7L1131.7 488.2M1120.9 427.9L1099 398.9M1099 398.9L1074.5 400M1099 398.9L1106.5 376.5M1093.5 395L1100 377M1101 360.5L1091 354.5M1076.5 353.5L1062.5 362.5M1079 357.5L1065 366.5M1057.5 376.5L1063 394.5" fill="none" stroke="#000" stroke-width="2.2" stroke-linejoin="miter" stroke-linecap="butt"/>
<path d="M1084.6 88.2L1082 88.6L1081.4 111L1081.8 134.6L1084.3 135.1M1204 90.7L1206.2 91L1206.6 114L1206.2 138.2L1203.8 138.6M1228 93.2L1225.5 93.6L1224.8 116L1225.2 138.2L1227.6 138.6M1345.5 93.5L1348 94L1348.3 117L1348 139.6L1345.5 140" fill="none" stroke="#000" stroke-width="1.8"/>
<path d="M1155 101.5L1287 231M1193.5 125L1287 230.5M1176 254.8L1319.8 266.6M1163.4 280.4L1176.6 383M1167.2 280.4L1211.5 434" fill="none" stroke="#000" stroke-width="2.1" stroke-dasharray="4 3.2"/>
<path d="M1285 233L1289.2 229L1318.5 265Z M1162.8 252.4L1177 252.6L1176.6 256.6Z M1161 258.4L1166.6 274.8L1162.2 275.2Z" fill="#000"/>
</svg>
</body></html>
